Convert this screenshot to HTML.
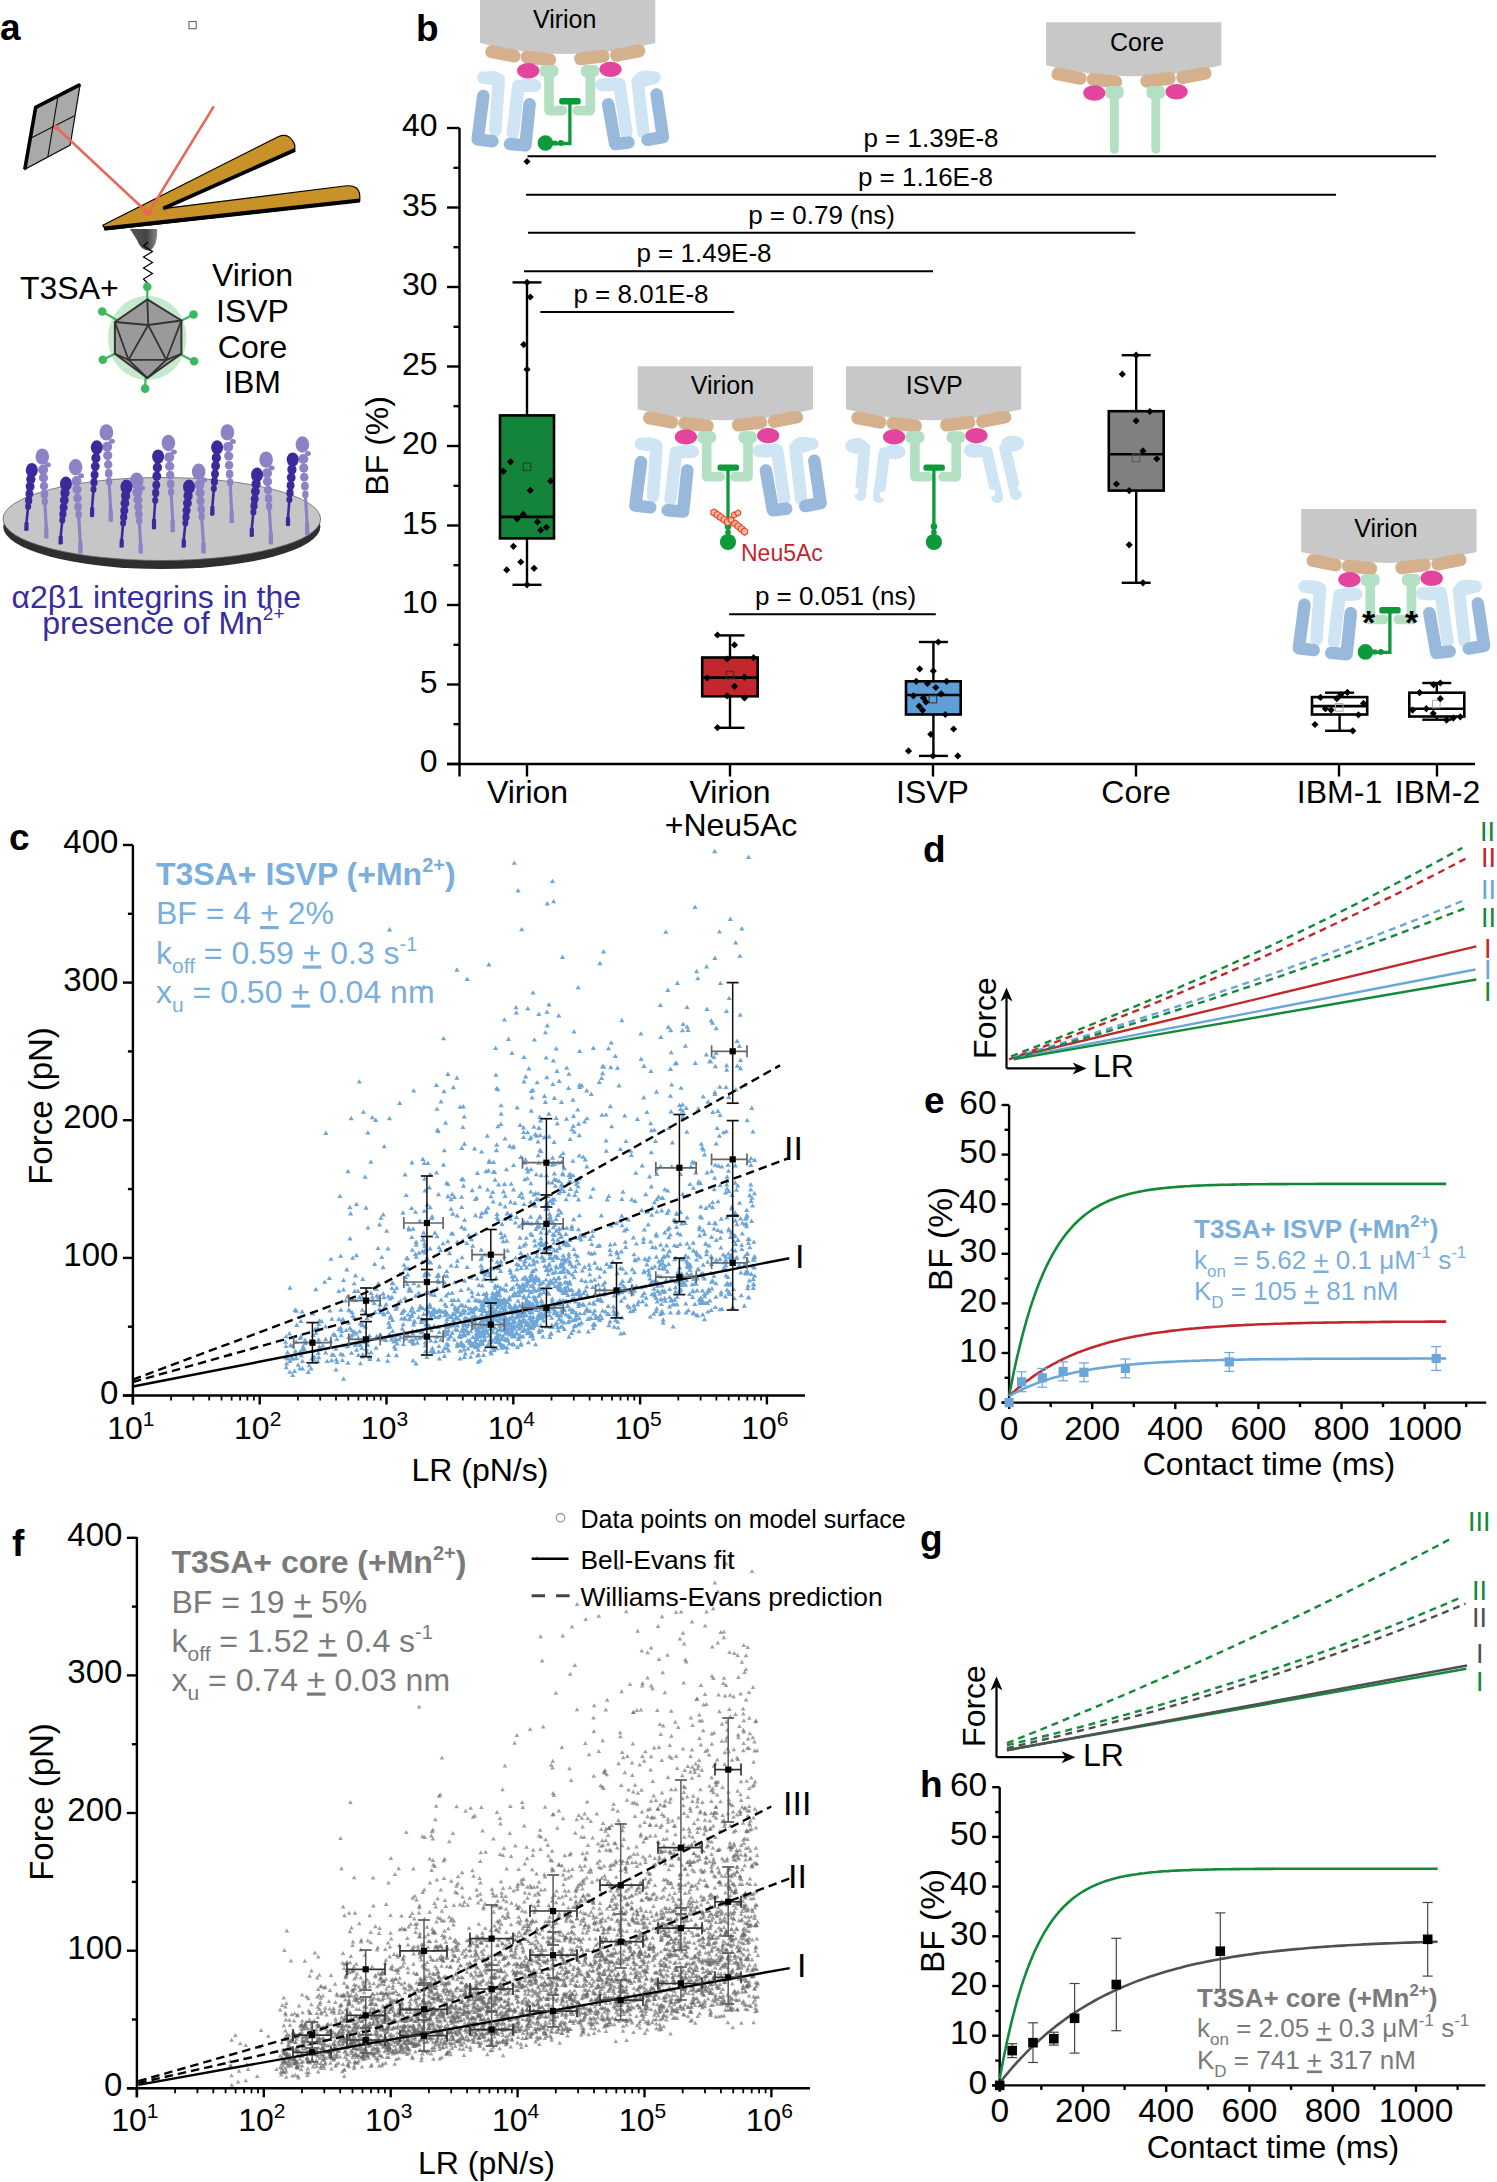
<!DOCTYPE html>
<html><head><meta charset="utf-8"><style>html,body{margin:0;padding:0;background:#fff;width:1497px;height:2182px;overflow:hidden}svg{display:block}text{font-family:"Liberation Sans", sans-serif}</style></head>
<body><svg width="1497" height="2182" viewBox="0 0 1497 2182" font-family='"Liberation Sans", sans-serif'><text x="0.0" y="40.0" font-size="37" text-anchor="start" font-weight="bold" fill="#000" >a</text>
<text x="416.0" y="41.0" font-size="37" text-anchor="start" font-weight="bold" fill="#000" >b</text>
<text x="9.0" y="850.0" font-size="37" text-anchor="start" font-weight="bold" fill="#000" >c</text>
<text x="923.0" y="862.0" font-size="37" text-anchor="start" font-weight="bold" fill="#000" >d</text>
<text x="924.0" y="1113.0" font-size="37" text-anchor="start" font-weight="bold" fill="#000" >e</text>
<text x="12.0" y="1556.0" font-size="37" text-anchor="start" font-weight="bold" fill="#000" >f</text>
<text x="920.0" y="1551.0" font-size="37" text-anchor="start" font-weight="bold" fill="#000" >g</text>
<text x="920.0" y="1797.0" font-size="37" text-anchor="start" font-weight="bold" fill="#000" >h</text>
<line x1="459.5" y1="128.0" x2="459.5" y2="776.5" stroke="#000" stroke-width="2.4" />
<line x1="447.0" y1="764.0" x2="1475.0" y2="764.0" stroke="#000" stroke-width="2.4" />
<line x1="447.0" y1="764.0" x2="459.5" y2="764.0" stroke="#000" stroke-width="2.4" />
<text x="437.5" y="772.2" font-size="32" text-anchor="end" font-weight="normal" fill="#000" >0</text>
<line x1="447.0" y1="684.5" x2="459.5" y2="684.5" stroke="#000" stroke-width="2.4" />
<text x="437.5" y="692.7" font-size="32" text-anchor="end" font-weight="normal" fill="#000" >5</text>
<line x1="447.0" y1="605.0" x2="459.5" y2="605.0" stroke="#000" stroke-width="2.4" />
<text x="437.5" y="613.2" font-size="32" text-anchor="end" font-weight="normal" fill="#000" >10</text>
<line x1="447.0" y1="525.5" x2="459.5" y2="525.5" stroke="#000" stroke-width="2.4" />
<text x="437.5" y="533.7" font-size="32" text-anchor="end" font-weight="normal" fill="#000" >15</text>
<line x1="447.0" y1="446.0" x2="459.5" y2="446.0" stroke="#000" stroke-width="2.4" />
<text x="437.5" y="454.2" font-size="32" text-anchor="end" font-weight="normal" fill="#000" >20</text>
<line x1="447.0" y1="366.5" x2="459.5" y2="366.5" stroke="#000" stroke-width="2.4" />
<text x="437.5" y="374.7" font-size="32" text-anchor="end" font-weight="normal" fill="#000" >25</text>
<line x1="447.0" y1="287.0" x2="459.5" y2="287.0" stroke="#000" stroke-width="2.4" />
<text x="437.5" y="295.2" font-size="32" text-anchor="end" font-weight="normal" fill="#000" >30</text>
<line x1="447.0" y1="207.5" x2="459.5" y2="207.5" stroke="#000" stroke-width="2.4" />
<text x="437.5" y="215.7" font-size="32" text-anchor="end" font-weight="normal" fill="#000" >35</text>
<line x1="447.0" y1="128.0" x2="459.5" y2="128.0" stroke="#000" stroke-width="2.4" />
<text x="437.5" y="136.2" font-size="32" text-anchor="end" font-weight="normal" fill="#000" >40</text>
<line x1="453.5" y1="724.2" x2="459.5" y2="724.2" stroke="#000" stroke-width="2.4" />
<line x1="453.5" y1="644.8" x2="459.5" y2="644.8" stroke="#000" stroke-width="2.4" />
<line x1="453.5" y1="565.2" x2="459.5" y2="565.2" stroke="#000" stroke-width="2.4" />
<line x1="453.5" y1="485.8" x2="459.5" y2="485.8" stroke="#000" stroke-width="2.4" />
<line x1="453.5" y1="406.2" x2="459.5" y2="406.2" stroke="#000" stroke-width="2.4" />
<line x1="453.5" y1="326.8" x2="459.5" y2="326.8" stroke="#000" stroke-width="2.4" />
<line x1="453.5" y1="247.2" x2="459.5" y2="247.2" stroke="#000" stroke-width="2.4" />
<line x1="453.5" y1="167.8" x2="459.5" y2="167.8" stroke="#000" stroke-width="2.4" />
<line x1="527.0" y1="764.0" x2="527.0" y2="776.5" stroke="#000" stroke-width="2.4" />
<line x1="730.0" y1="764.0" x2="730.0" y2="776.5" stroke="#000" stroke-width="2.4" />
<line x1="933.0" y1="764.0" x2="933.0" y2="776.5" stroke="#000" stroke-width="2.4" />
<line x1="1136.0" y1="764.0" x2="1136.0" y2="776.5" stroke="#000" stroke-width="2.4" />
<line x1="1339.0" y1="764.0" x2="1339.0" y2="776.5" stroke="#000" stroke-width="2.4" />
<line x1="1437.0" y1="764.0" x2="1437.0" y2="776.5" stroke="#000" stroke-width="2.4" />
<text x="527.5" y="803.0" font-size="32" text-anchor="middle" font-weight="normal" fill="#000" >Virion</text>
<text x="730.0" y="803.0" font-size="32" text-anchor="middle" font-weight="normal" fill="#000" >Virion</text>
<text x="731.0" y="835.5" font-size="32" text-anchor="middle" font-weight="normal" fill="#000" >+Neu5Ac</text>
<text x="932.5" y="803.0" font-size="32" text-anchor="middle" font-weight="normal" fill="#000" >ISVP</text>
<text x="1136.0" y="803.0" font-size="32" text-anchor="middle" font-weight="normal" fill="#000" >Core</text>
<text x="1339.5" y="803.0" font-size="32" text-anchor="middle" font-weight="normal" fill="#000" >IBM-1</text>
<text x="1437.5" y="803.0" font-size="32" text-anchor="middle" font-weight="normal" fill="#000" >IBM-2</text>
<text transform="translate(388.3,445.8) rotate(-90)" font-size="32" text-anchor="middle">BF (%)</text>
<line x1="527.5" y1="156.3" x2="1436.0" y2="156.3" stroke="#000" stroke-width="2.0" />
<text x="931.0" y="147.3" font-size="26" text-anchor="middle" font-weight="normal" fill="#000" >p = 1.39E-8</text>
<line x1="526.0" y1="194.8" x2="1336.0" y2="194.8" stroke="#000" stroke-width="2.0" />
<text x="925.5" y="185.8" font-size="26" text-anchor="middle" font-weight="normal" fill="#000" >p = 1.16E-8</text>
<line x1="528.0" y1="232.8" x2="1135.3" y2="232.8" stroke="#000" stroke-width="2.0" />
<text x="821.5" y="223.8" font-size="26" text-anchor="middle" font-weight="normal" fill="#000" >p = 0.79 (ns)</text>
<line x1="524.0" y1="271.2" x2="933.0" y2="271.2" stroke="#000" stroke-width="2.0" />
<text x="704.0" y="262.2" font-size="26" text-anchor="middle" font-weight="normal" fill="#000" >p = 1.49E-8</text>
<line x1="540.3" y1="311.9" x2="734.1" y2="311.9" stroke="#000" stroke-width="2.0" />
<text x="641.0" y="302.9" font-size="26" text-anchor="middle" font-weight="normal" fill="#000" >p = 8.01E-8</text>
<line x1="729.1" y1="614.2" x2="935.8" y2="614.2" stroke="#000" stroke-width="2.0" />
<text x="835.5" y="605.2" font-size="26" text-anchor="middle" font-weight="normal" fill="#000" >p = 0.051 (ns)</text>
<line x1="527.0" y1="282.4" x2="527.0" y2="415.4" stroke="#000" stroke-width="2.4" />
<line x1="527.0" y1="538.4" x2="527.0" y2="584.8" stroke="#000" stroke-width="2.4" />
<line x1="512.5" y1="282.4" x2="541.5" y2="282.4" stroke="#000" stroke-width="2.4" />
<line x1="512.5" y1="584.8" x2="541.5" y2="584.8" stroke="#000" stroke-width="2.4" />
<rect x="500.0" y="415.4" width="54.0" height="123.0" fill="#13843a" stroke="#000" stroke-width="2.6"/>
<line x1="500.0" y1="516.9" x2="554.0" y2="516.9" stroke="#000" stroke-width="2.6" />
<rect x="523.2" y="463.0" width="7.6" height="7.6" fill="none" stroke="#333" stroke-width="1"/>
<path d="M523.4,161.5 L527.0,157.9 L530.6,161.5 L527.0,165.1 Z" fill="#000"/>
<path d="M526.7,297.0 L530.3,293.4 L533.9,297.0 L530.3,300.6 Z" fill="#000"/>
<path d="M520.1,344.6 L523.7,341.0 L527.3,344.6 L523.7,348.2 Z" fill="#000"/>
<path d="M523.4,369.4 L527.0,365.8 L530.6,369.4 L527.0,373.0 Z" fill="#000"/>
<path d="M506.9,461.8 L510.5,458.2 L514.1,461.8 L510.5,465.4 Z" fill="#000"/>
<path d="M499.8,471.3 L503.4,467.7 L507.0,471.3 L503.4,474.9 Z" fill="#000"/>
<path d="M547.0,480.9 L550.6,477.3 L554.2,480.9 L550.6,484.5 Z" fill="#000"/>
<path d="M526.7,490.4 L530.3,486.8 L533.9,490.4 L530.3,494.0 Z" fill="#000"/>
<path d="M519.7,514.4 L523.3,510.8 L526.9,514.4 L523.3,518.0 Z" fill="#000"/>
<path d="M513.5,519.0 L517.1,515.4 L520.7,519.0 L517.1,522.6 Z" fill="#000"/>
<path d="M533.8,521.9 L537.4,518.3 L541.0,521.9 L537.4,525.5 Z" fill="#000"/>
<path d="M537.1,530.2 L540.7,526.6 L544.3,530.2 L540.7,533.8 Z" fill="#000"/>
<path d="M542.9,527.3 L546.5,523.7 L550.1,527.3 L546.5,530.9 Z" fill="#000"/>
<path d="M509.8,546.3 L513.4,542.7 L517.0,546.3 L513.4,549.9 Z" fill="#000"/>
<path d="M517.2,562.0 L520.8,558.4 L524.4,562.0 L520.8,565.6 Z" fill="#000"/>
<path d="M503.1,569.9 L506.7,566.3 L510.3,569.9 L506.7,573.5 Z" fill="#000"/>
<path d="M530.5,568.3 L534.1,564.7 L537.7,568.3 L534.1,571.9 Z" fill="#000"/>
<path d="M523.4,584.8 L527.0,581.2 L530.6,584.8 L527.0,588.4 Z" fill="#000"/>
<path d="M523.4,282.4 L527.0,278.8 L530.6,282.4 L527.0,286.0 Z" fill="#000"/>
<line x1="730.0" y1="635.4" x2="730.0" y2="657.5" stroke="#000" stroke-width="2.4" />
<line x1="730.0" y1="696.3" x2="730.0" y2="727.8" stroke="#000" stroke-width="2.4" />
<line x1="715.5" y1="635.4" x2="744.5" y2="635.4" stroke="#000" stroke-width="2.4" />
<line x1="715.5" y1="727.8" x2="744.5" y2="727.8" stroke="#000" stroke-width="2.4" />
<rect x="702.2" y="657.5" width="55.5" height="38.8" fill="#c1272d" stroke="#000" stroke-width="2.6"/>
<line x1="702.2" y1="677.6" x2="757.8" y2="677.6" stroke="#000" stroke-width="2.6" />
<rect x="726.2" y="671.3" width="7.6" height="7.6" fill="none" stroke="#333" stroke-width="1"/>
<path d="M713.9,635.0 L717.5,631.4 L721.1,635.0 L717.5,638.6 Z" fill="#000"/>
<path d="M730.9,644.9 L734.5,641.3 L738.1,644.9 L734.5,648.5 Z" fill="#000"/>
<path d="M750.0,657.7 L753.6,654.1 L757.2,657.7 L753.6,661.3 Z" fill="#000"/>
<path d="M723.5,659.0 L727.1,655.4 L730.7,659.0 L727.1,662.6 Z" fill="#000"/>
<path d="M703.6,678.0 L707.2,674.4 L710.8,678.0 L707.2,681.6 Z" fill="#000"/>
<path d="M740.9,677.2 L744.5,673.6 L748.1,677.2 L744.5,680.8 Z" fill="#000"/>
<path d="M730.9,686.3 L734.5,682.7 L738.1,686.3 L734.5,689.9 Z" fill="#000"/>
<path d="M723.5,695.8 L727.1,692.2 L730.7,695.8 L727.1,699.4 Z" fill="#000"/>
<path d="M740.9,697.9 L744.5,694.3 L748.1,697.9 L744.5,701.5 Z" fill="#000"/>
<path d="M713.9,727.7 L717.5,724.1 L721.1,727.7 L717.5,731.3 Z" fill="#000"/>
<line x1="933.4" y1="642.0" x2="933.4" y2="681.3" stroke="#000" stroke-width="2.4" />
<line x1="933.4" y1="714.5" x2="933.4" y2="755.9" stroke="#000" stroke-width="2.4" />
<line x1="918.9" y1="642.0" x2="947.9" y2="642.0" stroke="#000" stroke-width="2.4" />
<line x1="918.9" y1="755.9" x2="947.9" y2="755.9" stroke="#000" stroke-width="2.4" />
<rect x="906.0" y="681.3" width="54.7" height="33.2" fill="#5f9fd8" stroke="#000" stroke-width="2.6"/>
<line x1="906.0" y1="695.0" x2="960.8" y2="695.0" stroke="#000" stroke-width="2.6" />
<rect x="929.1" y="695.3" width="7.6" height="7.6" fill="none" stroke="#333" stroke-width="1"/>
<path d="M934.7,642.0 L938.3,638.4 L941.9,642.0 L938.3,645.6 Z" fill="#000"/>
<path d="M916.1,668.9 L919.7,665.3 L923.3,668.9 L919.7,672.5 Z" fill="#000"/>
<path d="M929.7,671.0 L933.3,667.4 L936.9,671.0 L933.3,674.6 Z" fill="#000"/>
<path d="M912.7,681.3 L916.3,677.7 L919.9,681.3 L916.3,684.9 Z" fill="#000"/>
<path d="M923.9,683.4 L927.5,679.8 L931.1,683.4 L927.5,687.0 Z" fill="#000"/>
<path d="M932.2,687.5 L935.8,683.9 L939.4,687.5 L935.8,691.1 Z" fill="#000"/>
<path d="M943.0,681.3 L946.6,677.7 L950.2,681.3 L946.6,684.9 Z" fill="#000"/>
<path d="M909.8,695.8 L913.4,692.2 L917.0,695.8 L913.4,699.4 Z" fill="#000"/>
<path d="M919.8,697.9 L923.4,694.3 L927.0,697.9 L923.4,701.5 Z" fill="#000"/>
<path d="M937.6,693.8 L941.2,690.2 L944.8,693.8 L941.2,697.4 Z" fill="#000"/>
<path d="M915.6,706.2 L919.2,702.6 L922.8,706.2 L919.2,709.8 Z" fill="#000"/>
<path d="M922.3,702.0 L925.9,698.4 L929.5,702.0 L925.9,705.6 Z" fill="#000"/>
<path d="M919.0,710.3 L922.6,706.7 L926.2,710.3 L922.6,713.9 Z" fill="#000"/>
<path d="M941.7,714.5 L945.3,710.9 L948.9,714.5 L945.3,718.1 Z" fill="#000"/>
<path d="M927.2,734.3 L930.8,730.7 L934.4,734.3 L930.8,737.9 Z" fill="#000"/>
<path d="M950.0,729.0 L953.6,725.4 L957.2,729.0 L953.6,732.6 Z" fill="#000"/>
<path d="M904.9,750.9 L908.5,747.3 L912.1,750.9 L908.5,754.5 Z" fill="#000"/>
<path d="M954.2,755.9 L957.8,752.3 L961.4,755.9 L957.8,759.5 Z" fill="#000"/>
<path d="M929.4,755.9 L933.0,752.3 L936.6,755.9 L933.0,759.5 Z" fill="#000"/>
<line x1="1136.2" y1="355.2" x2="1136.2" y2="411.2" stroke="#000" stroke-width="2.4" />
<line x1="1136.2" y1="490.6" x2="1136.2" y2="582.8" stroke="#000" stroke-width="2.4" />
<line x1="1121.7" y1="355.2" x2="1150.7" y2="355.2" stroke="#000" stroke-width="2.4" />
<line x1="1121.7" y1="582.8" x2="1150.7" y2="582.8" stroke="#000" stroke-width="2.4" />
<rect x="1108.8" y="411.2" width="54.9" height="79.4" fill="#808080" stroke="#000" stroke-width="2.6"/>
<line x1="1108.8" y1="454.3" x2="1163.7" y2="454.3" stroke="#000" stroke-width="2.6" />
<rect x="1132.2" y="454.0" width="7.6" height="7.6" fill="none" stroke="#555" stroke-width="1"/>
<path d="M1118.7,374.2 L1122.3,370.6 L1125.9,374.2 L1122.3,377.8 Z" fill="#000"/>
<path d="M1146.3,411.5 L1149.9,407.9 L1153.5,411.5 L1149.9,415.1 Z" fill="#000"/>
<path d="M1132.5,420.8 L1136.1,417.2 L1139.7,420.8 L1136.1,424.4 Z" fill="#000"/>
<path d="M1139.4,450.9 L1143.0,447.3 L1146.6,450.9 L1143.0,454.5 Z" fill="#000"/>
<path d="M1153.2,458.8 L1156.8,455.2 L1160.4,458.8 L1156.8,462.4 Z" fill="#000"/>
<path d="M1112.8,484.0 L1116.4,480.4 L1120.0,484.0 L1116.4,487.6 Z" fill="#000"/>
<path d="M1125.6,490.6 L1129.2,487.0 L1132.8,490.6 L1129.2,494.2 Z" fill="#000"/>
<path d="M1125.6,544.8 L1129.2,541.2 L1132.8,544.8 L1129.2,548.4 Z" fill="#000"/>
<path d="M1139.4,582.8 L1143.0,579.2 L1146.6,582.8 L1143.0,586.4 Z" fill="#000"/>
<path d="M1132.5,355.2 L1136.1,351.6 L1139.7,355.2 L1136.1,358.8 Z" fill="#000"/>
<line x1="1339.6" y1="692.7" x2="1339.6" y2="697.1" stroke="#000" stroke-width="2.4" />
<line x1="1339.6" y1="714.5" x2="1339.6" y2="730.8" stroke="#000" stroke-width="2.4" />
<line x1="1325.1" y1="692.7" x2="1354.1" y2="692.7" stroke="#000" stroke-width="2.4" />
<line x1="1325.1" y1="730.8" x2="1354.1" y2="730.8" stroke="#000" stroke-width="2.4" />
<rect x="1312.0" y="697.1" width="55.2" height="17.4" fill="#fff" stroke="#000" stroke-width="2.6"/>
<line x1="1312.0" y1="706.1" x2="1367.2" y2="706.1" stroke="#000" stroke-width="2.6" />
<rect x="1335.4" y="703.6" width="7.6" height="7.6" fill="none" stroke="#aaa" stroke-width="1"/>
<path d="M1316.9,697.4 L1320.5,693.8 L1324.1,697.4 L1320.5,701.0 Z" fill="#000"/>
<path d="M1333.2,698.7 L1336.8,695.1 L1340.4,698.7 L1336.8,702.3 Z" fill="#000"/>
<path d="M1337.2,694.7 L1340.8,691.1 L1344.4,694.7 L1340.8,698.3 Z" fill="#000"/>
<path d="M1343.8,692.4 L1347.4,688.8 L1351.0,692.4 L1347.4,696.0 Z" fill="#000"/>
<path d="M1359.9,703.4 L1363.5,699.8 L1367.1,703.4 L1363.5,707.0 Z" fill="#000"/>
<path d="M1321.8,708.7 L1325.4,705.1 L1329.0,708.7 L1325.4,712.3 Z" fill="#000"/>
<path d="M1327.5,710.1 L1331.1,706.5 L1334.7,710.1 L1331.1,713.7 Z" fill="#000"/>
<path d="M1354.8,714.8 L1358.4,711.2 L1362.0,714.8 L1358.4,718.4 Z" fill="#000"/>
<path d="M1311.4,724.5 L1315.0,720.9 L1318.6,724.5 L1315.0,728.1 Z" fill="#000"/>
<path d="M1349.2,730.8 L1352.8,727.2 L1356.4,730.8 L1352.8,734.4 Z" fill="#000"/>
<line x1="1436.8" y1="683.0" x2="1436.8" y2="692.7" stroke="#000" stroke-width="2.4" />
<line x1="1436.8" y1="716.5" x2="1436.8" y2="719.7" stroke="#000" stroke-width="2.4" />
<line x1="1422.3" y1="683.0" x2="1451.3" y2="683.0" stroke="#000" stroke-width="2.4" />
<line x1="1422.3" y1="719.7" x2="1451.3" y2="719.7" stroke="#000" stroke-width="2.4" />
<rect x="1409.3" y="692.7" width="55.0" height="23.8" fill="#fff" stroke="#000" stroke-width="2.6"/>
<line x1="1409.3" y1="708.7" x2="1464.3" y2="708.7" stroke="#000" stroke-width="2.6" />
<rect x="1432.5" y="700.3" width="7.6" height="7.6" fill="none" stroke="#aaa" stroke-width="1"/>
<path d="M1430.0,684.7 L1433.6,681.1 L1437.2,684.7 L1433.6,688.3 Z" fill="#000"/>
<path d="M1436.7,683.0 L1440.3,679.4 L1443.9,683.0 L1440.3,686.6 Z" fill="#000"/>
<path d="M1416.0,692.7 L1419.6,689.1 L1423.2,692.7 L1419.6,696.3 Z" fill="#000"/>
<path d="M1436.7,698.7 L1440.3,695.1 L1443.9,698.7 L1440.3,702.3 Z" fill="#000"/>
<path d="M1409.0,710.1 L1412.6,706.5 L1416.2,710.1 L1412.6,713.7 Z" fill="#000"/>
<path d="M1422.7,708.7 L1426.3,705.1 L1429.9,708.7 L1426.3,712.3 Z" fill="#000"/>
<path d="M1429.6,713.4 L1433.2,709.8 L1436.8,713.4 L1433.2,717.0 Z" fill="#000"/>
<path d="M1443.0,720.1 L1446.6,716.5 L1450.2,720.1 L1446.6,723.7 Z" fill="#000"/>
<path d="M1449.7,718.1 L1453.3,714.5 L1456.9,718.1 L1453.3,721.7 Z" fill="#000"/>
<path d="M1456.7,716.8 L1460.3,713.2 L1463.9,716.8 L1460.3,720.4 Z" fill="#000"/>
<g transform="translate(480.0,0.0)"><path d="M3.3,77.6 L18.8,79.8 L15.3,130.3" fill="none" stroke="#cfe5f3" stroke-width="12.5" stroke-linecap="round" stroke-linejoin="round"/><path d="M55.2,85.4 L38.4,86.1 L32.8,133.1" fill="none" stroke="#cfe5f3" stroke-width="12.5" stroke-linecap="round" stroke-linejoin="round"/><path d="M121.2,84.7 L139.4,84.0 L146.4,132.4" fill="none" stroke="#cfe5f3" stroke-width="12.5" stroke-linecap="round" stroke-linejoin="round"/><path d="M174.5,77.6 L157.7,81.9 L163.3,132.4" fill="none" stroke="#cfe5f3" stroke-width="12.5" stroke-linecap="round" stroke-linejoin="round"/><ellipse cx="11" cy="77.6" rx="11.5" ry="6.5" fill="#cfe5f3"/><ellipse cx="48.5" cy="85" rx="10.5" ry="6.8" fill="#cfe5f3"/><ellipse cx="128" cy="84.7" rx="10.5" ry="6.8" fill="#cfe5f3"/><ellipse cx="166" cy="77" rx="11.5" ry="6.5" fill="#cfe5f3"/><path d="M3.3,95.9 L-2.3,139.4 L12.5,141.2" fill="none" stroke="#98b8dc" stroke-width="12.5" stroke-linecap="round" stroke-linejoin="round"/><path d="M49.6,104.3 L45.4,145.4 L30.0,144.0" fill="none" stroke="#98b8dc" stroke-width="12.5" stroke-linecap="round" stroke-linejoin="round"/><path d="M128.2,104.3 L135.2,144.0 L148.5,142.6" fill="none" stroke="#98b8dc" stroke-width="12.5" stroke-linecap="round" stroke-linejoin="round"/><path d="M176.6,94.5 L182.9,137.0 L167.5,139.8" fill="none" stroke="#98b8dc" stroke-width="12.5" stroke-linecap="round" stroke-linejoin="round"/><path d="M0,0 H175.3 V43 Q87.65,65 0,43 Z" fill="#c8c8c8"/><rect x="-17.8" y="-6.4" width="35.5" height="12.8" rx="6" fill="#d4b08c" transform="translate(23.0,53.9) rotate(11)"/><rect x="-17.8" y="-6.4" width="35.5" height="12.8" rx="6" fill="#d4b08c" transform="translate(58.4,58.4) rotate(7)"/><rect x="-17.8" y="-6.4" width="35.5" height="12.8" rx="6" fill="#d4b08c" transform="translate(111.9,57.5) rotate(-7)"/><rect x="-17.8" y="-6.4" width="35.5" height="12.8" rx="6" fill="#d4b08c" transform="translate(147.8,53.1) rotate(-11)"/><rect x="59.5" y="65" width="18.9" height="12" rx="5" fill="#b3dfc2"/><rect x="100.8" y="65" width="18.3" height="12" rx="5" fill="#b3dfc2"/><path d="M69,72 V110.6 H82.5" fill="none" stroke="#b3dfc2" stroke-width="9.6" stroke-linecap="round" stroke-linejoin="round"/><path d="M110.3,72 V110.6 H97" fill="none" stroke="#b3dfc2" stroke-width="9.6" stroke-linecap="round" stroke-linejoin="round"/><ellipse cx="48.2" cy="70.7" rx="11.2" ry="7.7" fill="#e3449e"/><ellipse cx="130.5" cy="69.4" rx="11.2" ry="7.7" fill="#e3449e"/><rect x="79.2" y="98" width="21.5" height="6.5" rx="2.5" fill="#0d9a3a"/><path d="M89.9,101 V143.5 H72" fill="none" stroke="#0d9a3a" stroke-width="3.3"/><circle cx="80.9" cy="143" r="3" fill="#0d9a3a"/><circle cx="74.9" cy="143" r="2.6" fill="#0d9a3a"/><circle cx="65.4" cy="143" r="7.8" fill="#0d9a3a"/><text x="84.7" y="28.2" font-size="25" text-anchor="middle">Virion</text></g>
<g transform="translate(1046.1,22.3)"><path d="M0,0 H175.3 V43 Q87.65,65 0,43 Z" fill="#c8c8c8"/><rect x="-17.8" y="-6.4" width="35.5" height="12.8" rx="6" fill="#d4b08c" transform="translate(23.0,53.9) rotate(11)"/><rect x="-17.8" y="-6.4" width="35.5" height="12.8" rx="6" fill="#d4b08c" transform="translate(58.4,58.4) rotate(7)"/><rect x="-17.8" y="-6.4" width="35.5" height="12.8" rx="6" fill="#d4b08c" transform="translate(111.9,57.5) rotate(-7)"/><rect x="-17.8" y="-6.4" width="35.5" height="12.8" rx="6" fill="#d4b08c" transform="translate(147.8,53.1) rotate(-11)"/><rect x="59.2" y="63.6" width="18.3" height="12.8" rx="5" fill="#b3dfc2"/><path d="M68.3,70 V127" stroke="#b3dfc2" stroke-width="8.8" stroke-linecap="round"/><rect x="100.5" y="63.6" width="18.3" height="12.8" rx="5" fill="#b3dfc2"/><path d="M109.7,70 V127" stroke="#b3dfc2" stroke-width="8.8" stroke-linecap="round"/><ellipse cx="48.2" cy="70.7" rx="11.2" ry="7.7" fill="#e3449e"/><ellipse cx="130.5" cy="69.4" rx="11.2" ry="7.7" fill="#e3449e"/><text x="91" y="28.9" font-size="25" text-anchor="middle">Core</text></g>
<g transform="translate(637.7,366.2)"><path d="M3.3,77.6 L18.8,79.8 L15.3,130.3" fill="none" stroke="#cfe5f3" stroke-width="12.5" stroke-linecap="round" stroke-linejoin="round"/><path d="M55.2,85.4 L38.4,86.1 L32.8,133.1" fill="none" stroke="#cfe5f3" stroke-width="12.5" stroke-linecap="round" stroke-linejoin="round"/><path d="M121.2,84.7 L139.4,84.0 L146.4,132.4" fill="none" stroke="#cfe5f3" stroke-width="12.5" stroke-linecap="round" stroke-linejoin="round"/><path d="M174.5,77.6 L157.7,81.9 L163.3,132.4" fill="none" stroke="#cfe5f3" stroke-width="12.5" stroke-linecap="round" stroke-linejoin="round"/><ellipse cx="11" cy="77.6" rx="11.5" ry="6.5" fill="#cfe5f3"/><ellipse cx="48.5" cy="85" rx="10.5" ry="6.8" fill="#cfe5f3"/><ellipse cx="128" cy="84.7" rx="10.5" ry="6.8" fill="#cfe5f3"/><ellipse cx="166" cy="77" rx="11.5" ry="6.5" fill="#cfe5f3"/><path d="M3.3,95.9 L-2.3,139.4 L12.5,141.2" fill="none" stroke="#98b8dc" stroke-width="12.5" stroke-linecap="round" stroke-linejoin="round"/><path d="M49.6,104.3 L45.4,145.4 L30.0,144.0" fill="none" stroke="#98b8dc" stroke-width="12.5" stroke-linecap="round" stroke-linejoin="round"/><path d="M128.2,104.3 L135.2,144.0 L148.5,142.6" fill="none" stroke="#98b8dc" stroke-width="12.5" stroke-linecap="round" stroke-linejoin="round"/><path d="M176.6,94.5 L182.9,137.0 L167.5,139.8" fill="none" stroke="#98b8dc" stroke-width="12.5" stroke-linecap="round" stroke-linejoin="round"/><path d="M0,0 H175.3 V43 Q87.65,65 0,43 Z" fill="#c8c8c8"/><rect x="-17.8" y="-6.4" width="35.5" height="12.8" rx="6" fill="#d4b08c" transform="translate(23.0,53.9) rotate(11)"/><rect x="-17.8" y="-6.4" width="35.5" height="12.8" rx="6" fill="#d4b08c" transform="translate(58.4,58.4) rotate(7)"/><rect x="-17.8" y="-6.4" width="35.5" height="12.8" rx="6" fill="#d4b08c" transform="translate(111.9,57.5) rotate(-7)"/><rect x="-17.8" y="-6.4" width="35.5" height="12.8" rx="6" fill="#d4b08c" transform="translate(147.8,53.1) rotate(-11)"/><rect x="59.5" y="65" width="18.9" height="12" rx="5" fill="#b3dfc2"/><rect x="100.8" y="65" width="18.3" height="12" rx="5" fill="#b3dfc2"/><path d="M69,72 V110.6 H82.5" fill="none" stroke="#b3dfc2" stroke-width="9.6" stroke-linecap="round" stroke-linejoin="round"/><path d="M110.3,72 V110.6 H97" fill="none" stroke="#b3dfc2" stroke-width="9.6" stroke-linecap="round" stroke-linejoin="round"/><ellipse cx="48.2" cy="70.7" rx="11.2" ry="7.7" fill="#e3449e"/><ellipse cx="130.5" cy="69.4" rx="11.2" ry="7.7" fill="#e3449e"/><rect x="79.8" y="98.4" width="21.5" height="6.2" rx="2.5" fill="#0d9a3a"/><path d="M90.3,101 V166" stroke="#0d9a3a" stroke-width="3.3"/><circle cx="90.3" cy="160.4" r="3.3" fill="#0d9a3a"/><circle cx="90.3" cy="166" r="2.8" fill="#0d9a3a"/><circle cx="90.3" cy="175.8" r="8.1" fill="#0d9a3a"/><text x="84.7" y="28.2" font-size="25" text-anchor="middle">Virion</text></g>
<g transform="translate(845.9,366.2)"><path d="M10.6,79.8 L18.8,82.0 L14.4,129.0" fill="none" stroke="#cfe5f3" stroke-width="11.5" stroke-linecap="round" stroke-linejoin="round"/><path d="M48.7,85.5 L38.4,87.0 L32.8,131.0" fill="none" stroke="#cfe5f3" stroke-width="11.5" stroke-linecap="round" stroke-linejoin="round"/><path d="M128.7,84.2 L141.0,86.0 L151.4,131.0" fill="none" stroke="#cfe5f3" stroke-width="11.5" stroke-linecap="round" stroke-linejoin="round"/><path d="M166.8,77.2 L159.0,81.9 L170.0,128.0" fill="none" stroke="#cfe5f3" stroke-width="11.5" stroke-linecap="round" stroke-linejoin="round"/><ellipse cx="10.6" cy="79.8" rx="11.4" ry="7.9" fill="#cfe5f3"/><ellipse cx="48.7" cy="85.5" rx="11" ry="7.5" fill="#cfe5f3"/><ellipse cx="128.7" cy="84.2" rx="11" ry="7.5" fill="#cfe5f3"/><ellipse cx="166.8" cy="77.2" rx="11.4" ry="7.9" fill="#cfe5f3"/><circle cx="9.2" cy="124.8" r="3.4" fill="#fff"/><circle cx="37.4" cy="128.7" r="3.4" fill="#fff"/><circle cx="146" cy="126.4" r="3.4" fill="#fff"/><circle cx="175" cy="121.3" r="3.4" fill="#fff"/><path d="M0,0 H175.3 V43 Q87.65,65 0,43 Z" fill="#c8c8c8"/><rect x="-17.8" y="-6.4" width="35.5" height="12.8" rx="6" fill="#d4b08c" transform="translate(23.0,53.9) rotate(11)"/><rect x="-17.8" y="-6.4" width="35.5" height="12.8" rx="6" fill="#d4b08c" transform="translate(58.4,58.4) rotate(7)"/><rect x="-17.8" y="-6.4" width="35.5" height="12.8" rx="6" fill="#d4b08c" transform="translate(111.9,57.5) rotate(-7)"/><rect x="-17.8" y="-6.4" width="35.5" height="12.8" rx="6" fill="#d4b08c" transform="translate(147.8,53.1) rotate(-11)"/><rect x="59.5" y="65" width="18.9" height="12" rx="5" fill="#b3dfc2"/><rect x="100.8" y="65" width="18.3" height="12" rx="5" fill="#b3dfc2"/><path d="M69,72 V110.6 H82.5" fill="none" stroke="#b3dfc2" stroke-width="9.6" stroke-linecap="round" stroke-linejoin="round"/><path d="M110.3,72 V110.6 H97" fill="none" stroke="#b3dfc2" stroke-width="9.6" stroke-linecap="round" stroke-linejoin="round"/><ellipse cx="48.2" cy="70.7" rx="11.2" ry="7.7" fill="#e3449e"/><ellipse cx="130.5" cy="69.4" rx="11.2" ry="7.7" fill="#e3449e"/><rect x="77.5" y="98.4" width="21.5" height="6.2" rx="2.5" fill="#0d9a3a"/><path d="M88.0,101 V166" stroke="#0d9a3a" stroke-width="3.3"/><circle cx="88.0" cy="160.4" r="3.3" fill="#0d9a3a"/><circle cx="88.0" cy="166" r="2.8" fill="#0d9a3a"/><circle cx="88.0" cy="175.8" r="8.1" fill="#0d9a3a"/><text x="88.4" y="28.2" font-size="25" text-anchor="middle">ISVP</text></g>
<g transform="translate(1301.2,508.9)"><path d="M3.3,77.6 L18.8,79.8 L15.3,130.3" fill="none" stroke="#cfe5f3" stroke-width="12.5" stroke-linecap="round" stroke-linejoin="round"/><path d="M55.2,85.4 L38.4,86.1 L32.8,133.1" fill="none" stroke="#cfe5f3" stroke-width="12.5" stroke-linecap="round" stroke-linejoin="round"/><path d="M121.2,84.7 L139.4,84.0 L146.4,132.4" fill="none" stroke="#cfe5f3" stroke-width="12.5" stroke-linecap="round" stroke-linejoin="round"/><path d="M174.5,77.6 L157.7,81.9 L163.3,132.4" fill="none" stroke="#cfe5f3" stroke-width="12.5" stroke-linecap="round" stroke-linejoin="round"/><ellipse cx="11" cy="77.6" rx="11.5" ry="6.5" fill="#cfe5f3"/><ellipse cx="48.5" cy="85" rx="10.5" ry="6.8" fill="#cfe5f3"/><ellipse cx="128" cy="84.7" rx="10.5" ry="6.8" fill="#cfe5f3"/><ellipse cx="166" cy="77" rx="11.5" ry="6.5" fill="#cfe5f3"/><path d="M3.3,95.9 L-2.3,139.4 L12.5,141.2" fill="none" stroke="#98b8dc" stroke-width="12.5" stroke-linecap="round" stroke-linejoin="round"/><path d="M49.6,104.3 L45.4,145.4 L30.0,144.0" fill="none" stroke="#98b8dc" stroke-width="12.5" stroke-linecap="round" stroke-linejoin="round"/><path d="M128.2,104.3 L135.2,144.0 L148.5,142.6" fill="none" stroke="#98b8dc" stroke-width="12.5" stroke-linecap="round" stroke-linejoin="round"/><path d="M176.6,94.5 L182.9,137.0 L167.5,139.8" fill="none" stroke="#98b8dc" stroke-width="12.5" stroke-linecap="round" stroke-linejoin="round"/><path d="M0,0 H175.3 V43 Q87.65,65 0,43 Z" fill="#c8c8c8"/><rect x="-17.8" y="-6.4" width="35.5" height="12.8" rx="6" fill="#d4b08c" transform="translate(23.0,53.9) rotate(11)"/><rect x="-17.8" y="-6.4" width="35.5" height="12.8" rx="6" fill="#d4b08c" transform="translate(58.4,58.4) rotate(7)"/><rect x="-17.8" y="-6.4" width="35.5" height="12.8" rx="6" fill="#d4b08c" transform="translate(111.9,57.5) rotate(-7)"/><rect x="-17.8" y="-6.4" width="35.5" height="12.8" rx="6" fill="#d4b08c" transform="translate(147.8,53.1) rotate(-11)"/><rect x="59.5" y="65" width="18.9" height="12" rx="5" fill="#b3dfc2"/><rect x="100.8" y="65" width="18.3" height="12" rx="5" fill="#b3dfc2"/><path d="M69,72 V110.6 H82.5" fill="none" stroke="#b3dfc2" stroke-width="9.6" stroke-linecap="round" stroke-linejoin="round"/><path d="M110.3,72 V110.6 H97" fill="none" stroke="#b3dfc2" stroke-width="9.6" stroke-linecap="round" stroke-linejoin="round"/><ellipse cx="48.2" cy="70.7" rx="11.2" ry="7.7" fill="#e3449e"/><ellipse cx="130.5" cy="69.4" rx="11.2" ry="7.7" fill="#e3449e"/><rect x="78.0" y="98" width="21.5" height="6.5" rx="2.5" fill="#0d9a3a"/><path d="M88.7,101 V143.5 H72" fill="none" stroke="#0d9a3a" stroke-width="3.3"/><circle cx="79.7" cy="143" r="3" fill="#0d9a3a"/><circle cx="73.7" cy="143" r="2.6" fill="#0d9a3a"/><circle cx="64.2" cy="143" r="7.8" fill="#0d9a3a"/><text x="84.7" y="28.2" font-size="25" text-anchor="middle">Virion</text></g>
<polygon points="717.1,514.3 714.0,516.1 710.9,514.3 710.9,510.7 714.0,508.9 717.1,510.7" fill="#f2b5a8" stroke="#e5502e" stroke-width="1.2"/><polygon points="720.5,516.7 717.4,518.5 714.3,516.7 714.3,513.1 717.4,511.3 720.5,513.1" fill="#f2b5a8" stroke="#e5502e" stroke-width="1.2"/><polygon points="723.9,519.1 720.8,520.9 717.7,519.1 717.7,515.5 720.8,513.7 723.9,515.5" fill="#f2b5a8" stroke="#e5502e" stroke-width="1.2"/><polygon points="727.3,521.5 724.2,523.3 721.1,521.5 721.1,517.9 724.2,516.1 727.3,517.9" fill="#f2b5a8" stroke="#e5502e" stroke-width="1.2"/><polygon points="730.7,523.9 727.6,525.7 724.5,523.9 724.5,520.3 727.6,518.5 730.7,520.3" fill="#f2b5a8" stroke="#e5502e" stroke-width="1.2"/><polygon points="738.1,525.3 735.0,527.1 731.9,525.3 731.9,521.7 735.0,519.9 738.1,521.7" fill="#f2b5a8" stroke="#e5502e" stroke-width="1.2"/><polygon points="741.3,528.0 738.2,529.8 735.1,528.0 735.1,524.4 738.2,522.6 741.3,524.4" fill="#f2b5a8" stroke="#e5502e" stroke-width="1.2"/><polygon points="744.5,530.7 741.4,532.5 738.3,530.7 738.3,527.1 741.4,525.3 744.5,527.1" fill="#f2b5a8" stroke="#e5502e" stroke-width="1.2"/><polygon points="747.7,533.4 744.6,535.2 741.5,533.4 741.5,529.8 744.6,528.0 747.7,529.8" fill="#f2b5a8" stroke="#e5502e" stroke-width="1.2"/><polygon points="733.6,521.5 731.0,523.0 728.4,521.5 728.4,518.5 731.0,517.0 733.6,518.5" fill="#f2b5a8" stroke="#e5502e" stroke-width="1.2"/><polygon points="736.6,516.5 734.0,518.0 731.4,516.5 731.4,513.5 734.0,512.0 736.6,513.5" fill="#f2b5a8" stroke="#e5502e" stroke-width="1.2"/><polygon points="740.6,514.5 738.0,516.0 735.4,514.5 735.4,511.5 738.0,510.0 740.6,511.5" fill="#f2b5a8" stroke="#e5502e" stroke-width="1.2"/>
<text x="741.0" y="560.5" font-size="23" text-anchor="start" font-weight="normal" fill="#c1272d" >Neu5Ac</text>
<text x="1368.5" y="634.0" font-size="34" text-anchor="middle" font-weight="bold" fill="#000" >*</text>
<text x="1411.7" y="634.0" font-size="34" text-anchor="middle" font-weight="bold" fill="#000" >*</text>
<path fill="#6fa6d8" d="M227.2,1356.2h5.2l-2.6-4.4zM317.0,1351.0h5.2l-2.6-4.4zM287.4,1289.7h5.2l-2.6-4.4zM311.5,1361.5h5.2l-2.6-4.4zM284.1,1365.6h5.2l-2.6-4.4zM309.9,1352.9h5.2l-2.6-4.4zM337.3,1198.1h5.2l-2.6-4.4zM298.3,1323.0h5.2l-2.6-4.4zM329.0,1362.2h5.2l-2.6-4.4zM287.2,1373.8h5.2l-2.6-4.4zM288.0,1347.1h5.2l-2.6-4.4zM289.6,1360.7h5.2l-2.6-4.4zM294.1,1360.3h5.2l-2.6-4.4zM329.4,1356.5h5.2l-2.6-4.4zM294.1,1326.9h5.2l-2.6-4.4zM287.4,1363.1h5.2l-2.6-4.4zM302.8,1345.2h5.2l-2.6-4.4zM332.4,1336.9h5.2l-2.6-4.4zM323.1,1341.0h5.2l-2.6-4.4zM305.6,1373.9h5.2l-2.6-4.4zM295.5,1366.8h5.2l-2.6-4.4zM292.0,1372.9h5.2l-2.6-4.4zM313.2,1291.2h5.2l-2.6-4.4zM283.3,1359.6h5.2l-2.6-4.4zM292.1,1356.2h5.2l-2.6-4.4zM336.3,1320.9h5.2l-2.6-4.4zM290.1,1377.1h5.2l-2.6-4.4zM283.6,1369.3h5.2l-2.6-4.4zM299.9,1363.1h5.2l-2.6-4.4zM322.9,1328.5h5.2l-2.6-4.4zM301.8,1350.8h5.2l-2.6-4.4zM316.8,1348.6h5.2l-2.6-4.4zM286.8,1335.4h5.2l-2.6-4.4zM306.6,1367.3h5.2l-2.6-4.4zM284.0,1357.8h5.2l-2.6-4.4zM316.2,1344.1h5.2l-2.6-4.4zM293.5,1359.7h5.2l-2.6-4.4zM293.3,1312.4h5.2l-2.6-4.4zM330.8,1336.2h5.2l-2.6-4.4zM328.4,1260.8h5.2l-2.6-4.4zM297.6,1353.4h5.2l-2.6-4.4zM316.8,1351.2h5.2l-2.6-4.4zM336.4,1331.2h5.2l-2.6-4.4zM283.5,1348.1h5.2l-2.6-4.4zM328.0,1342.9h5.2l-2.6-4.4zM326.8,1280.1h5.2l-2.6-4.4zM308.5,1370.4h5.2l-2.6-4.4zM297.4,1339.9h5.2l-2.6-4.4zM316.2,1326.1h5.2l-2.6-4.4zM333.7,1361.3h5.2l-2.6-4.4zM316.8,1322.7h5.2l-2.6-4.4zM334.3,1340.9h5.2l-2.6-4.4zM322.1,1283.8h5.2l-2.6-4.4zM336.3,1292.9h5.2l-2.6-4.4zM300.0,1370.4h5.2l-2.6-4.4zM309.2,1360.4h5.2l-2.6-4.4zM290.1,1348.1h5.2l-2.6-4.4zM334.4,1363.9h5.2l-2.6-4.4zM298.4,1338.4h5.2l-2.6-4.4zM299.5,1313.4h5.2l-2.6-4.4zM293.9,1312.7h5.2l-2.6-4.4zM315.7,1355.0h5.2l-2.6-4.4zM313.4,1334.8h5.2l-2.6-4.4zM297.2,1370.5h5.2l-2.6-4.4zM327.3,1312.6h5.2l-2.6-4.4zM333.3,1350.8h5.2l-2.6-4.4zM320.2,1347.5h5.2l-2.6-4.4zM289.2,1359.1h5.2l-2.6-4.4zM311.6,1358.6h5.2l-2.6-4.4zM293.6,1343.8h5.2l-2.6-4.4zM329.2,1320.8h5.2l-2.6-4.4zM299.7,1351.8h5.2l-2.6-4.4zM331.2,1356.9h5.2l-2.6-4.4zM328.2,1348.5h5.2l-2.6-4.4zM283.4,1338.3h5.2l-2.6-4.4zM310.2,1315.4h5.2l-2.6-4.4zM292.8,1352.8h5.2l-2.6-4.4zM292.5,1311.8h5.2l-2.6-4.4zM333.4,1371.6h5.2l-2.6-4.4zM300.4,1348.5h5.2l-2.6-4.4zM315.5,1330.1h5.2l-2.6-4.4zM323.1,1354.4h5.2l-2.6-4.4zM310.6,1337.0h5.2l-2.6-4.4zM315.4,1363.2h5.2l-2.6-4.4zM323.3,1134.9h5.2l-2.6-4.4zM324.5,1363.1h5.2l-2.6-4.4zM283.0,1343.8h5.2l-2.6-4.4zM319.0,1323.2h5.2l-2.6-4.4zM311.7,1332.1h5.2l-2.6-4.4zM316.2,1359.2h5.2l-2.6-4.4zM285.2,1360.6h5.2l-2.6-4.4zM312.7,1330.9h5.2l-2.6-4.4zM284.9,1354.1h5.2l-2.6-4.4zM316.0,1341.4h5.2l-2.6-4.4zM302.5,1341.8h5.2l-2.6-4.4zM298.7,1357.4h5.2l-2.6-4.4zM364.7,1354.6h5.2l-2.6-4.4zM405.5,1316.6h5.2l-2.6-4.4zM388.0,1318.0h5.2l-2.6-4.4zM351.7,1333.6h5.2l-2.6-4.4zM368.4,1294.9h5.2l-2.6-4.4zM391.9,1293.2h5.2l-2.6-4.4zM345.4,1173.2h5.2l-2.6-4.4zM385.4,1250.4h5.2l-2.6-4.4zM390.1,1332.8h5.2l-2.6-4.4zM340.2,1356.7h5.2l-2.6-4.4zM381.0,1315.1h5.2l-2.6-4.4zM375.9,1299.2h5.2l-2.6-4.4zM352.1,1293.0h5.2l-2.6-4.4zM394.0,1289.7h5.2l-2.6-4.4zM394.1,1308.5h5.2l-2.6-4.4zM389.6,1285.0h5.2l-2.6-4.4zM344.2,1271.4h5.2l-2.6-4.4zM391.7,1348.6h5.2l-2.6-4.4zM343.1,1302.5h5.2l-2.6-4.4zM362.4,1304.2h5.2l-2.6-4.4zM387.0,931.5h5.2l-2.6-4.4zM393.6,1340.8h5.2l-2.6-4.4zM402.8,1320.8h5.2l-2.6-4.4zM365.1,1346.7h5.2l-2.6-4.4zM393.2,1342.9h5.2l-2.6-4.4zM339.0,1333.1h5.2l-2.6-4.4zM405.0,1260.4h5.2l-2.6-4.4zM389.0,1341.4h5.2l-2.6-4.4zM347.5,1240.5h5.2l-2.6-4.4zM373.9,1291.0h5.2l-2.6-4.4zM405.2,1276.4h5.2l-2.6-4.4zM401.4,1266.8h5.2l-2.6-4.4zM397.1,1105.0h5.2l-2.6-4.4zM374.1,1297.6h5.2l-2.6-4.4zM389.3,1298.9h5.2l-2.6-4.4zM357.8,1346.9h5.2l-2.6-4.4zM345.4,1364.7h5.2l-2.6-4.4zM339.9,1362.1h5.2l-2.6-4.4zM353.9,1257.2h5.2l-2.6-4.4zM349.5,1314.3h5.2l-2.6-4.4zM394.6,1336.7h5.2l-2.6-4.4zM375.7,1285.5h5.2l-2.6-4.4zM340.9,1282.1h5.2l-2.6-4.4zM383.4,1342.0h5.2l-2.6-4.4zM363.4,1209.7h5.2l-2.6-4.4zM359.9,1311.8h5.2l-2.6-4.4zM356.1,1344.6h5.2l-2.6-4.4zM396.6,1341.3h5.2l-2.6-4.4zM387.6,1319.8h5.2l-2.6-4.4zM397.4,1275.7h5.2l-2.6-4.4zM401.6,1312.3h5.2l-2.6-4.4zM359.2,1349.9h5.2l-2.6-4.4zM370.1,1302.5h5.2l-2.6-4.4zM369.7,1119.3h5.2l-2.6-4.4zM338.3,1311.7h5.2l-2.6-4.4zM338.1,1257.8h5.2l-2.6-4.4zM363.7,1351.1h5.2l-2.6-4.4zM355.4,1293.0h5.2l-2.6-4.4zM403.6,1197.1h5.2l-2.6-4.4zM347.3,1312.6h5.2l-2.6-4.4zM350.0,1259.8h5.2l-2.6-4.4zM348.4,1338.2h5.2l-2.6-4.4zM401.8,1320.1h5.2l-2.6-4.4zM364.4,1347.0h5.2l-2.6-4.4zM365.4,1229.6h5.2l-2.6-4.4zM361.4,1344.3h5.2l-2.6-4.4zM373.1,1122.0h5.2l-2.6-4.4zM400.6,1326.2h5.2l-2.6-4.4zM347.3,1209.2h5.2l-2.6-4.4zM381.3,1341.3h5.2l-2.6-4.4zM377.8,1314.2h5.2l-2.6-4.4zM346.1,1339.1h5.2l-2.6-4.4zM375.4,1250.1h5.2l-2.6-4.4zM394.6,1345.4h5.2l-2.6-4.4zM357.6,1325.5h5.2l-2.6-4.4zM375.7,1361.4h5.2l-2.6-4.4zM406.5,1231.5h5.2l-2.6-4.4zM364.1,1339.5h5.2l-2.6-4.4zM347.4,1329.9h5.2l-2.6-4.4zM377.2,1306.4h5.2l-2.6-4.4zM404.6,1286.0h5.2l-2.6-4.4zM390.5,1285.3h5.2l-2.6-4.4zM396.1,1304.3h5.2l-2.6-4.4zM374.2,1338.2h5.2l-2.6-4.4zM359.8,1299.4h5.2l-2.6-4.4zM390.0,1321.9h5.2l-2.6-4.4zM346.1,1324.8h5.2l-2.6-4.4zM374.2,1339.5h5.2l-2.6-4.4zM353.9,1206.1h5.2l-2.6-4.4zM366.9,1337.6h5.2l-2.6-4.4zM377.1,1338.0h5.2l-2.6-4.4zM404.0,1335.4h5.2l-2.6-4.4zM360.1,1340.2h5.2l-2.6-4.4zM339.6,1321.8h5.2l-2.6-4.4zM402.8,1283.3h5.2l-2.6-4.4zM400.2,1313.1h5.2l-2.6-4.4zM399.0,1320.4h5.2l-2.6-4.4zM340.9,1291.6h5.2l-2.6-4.4zM400.4,1214.7h5.2l-2.6-4.4zM353.0,1302.3h5.2l-2.6-4.4zM350.1,1317.8h5.2l-2.6-4.4zM399.3,1314.9h5.2l-2.6-4.4zM402.3,1300.1h5.2l-2.6-4.4zM368.2,1317.4h5.2l-2.6-4.4zM379.4,1340.7h5.2l-2.6-4.4zM390.3,1338.4h5.2l-2.6-4.4zM350.4,1301.7h5.2l-2.6-4.4zM372.4,1313.9h5.2l-2.6-4.4zM362.6,1178.8h5.2l-2.6-4.4zM385.3,1314.0h5.2l-2.6-4.4zM368.2,1163.7h5.2l-2.6-4.4zM352.9,1277.5h5.2l-2.6-4.4zM379.2,1259.1h5.2l-2.6-4.4zM338.6,1337.2h5.2l-2.6-4.4zM355.8,1357.0h5.2l-2.6-4.4zM392.8,1350.8h5.2l-2.6-4.4zM340.4,1321.2h5.2l-2.6-4.4zM343.6,1332.1h5.2l-2.6-4.4zM348.6,1120.2h5.2l-2.6-4.4zM362.9,1328.6h5.2l-2.6-4.4zM406.4,1321.3h5.2l-2.6-4.4zM399.7,1330.4h5.2l-2.6-4.4zM367.1,1359.0h5.2l-2.6-4.4zM353.5,1335.4h5.2l-2.6-4.4zM369.7,1298.7h5.2l-2.6-4.4zM340.2,1347.3h5.2l-2.6-4.4zM397.9,1302.9h5.2l-2.6-4.4zM352.5,1347.1h5.2l-2.6-4.4zM348.9,1354.8h5.2l-2.6-4.4zM406.9,1290.2h5.2l-2.6-4.4zM385.8,1357.0h5.2l-2.6-4.4zM387.5,1328.3h5.2l-2.6-4.4zM403.0,1279.1h5.2l-2.6-4.4zM359.9,1358.6h5.2l-2.6-4.4zM360.2,1281.0h5.2l-2.6-4.4zM340.3,1321.5h5.2l-2.6-4.4zM359.3,1327.3h5.2l-2.6-4.4zM388.2,1338.2h5.2l-2.6-4.4zM357.0,1299.0h5.2l-2.6-4.4zM357.8,1365.3h5.2l-2.6-4.4zM377.0,1226.4h5.2l-2.6-4.4zM384.1,1232.8h5.2l-2.6-4.4zM367.3,1361.0h5.2l-2.6-4.4zM357.0,1333.3h5.2l-2.6-4.4zM349.1,1332.1h5.2l-2.6-4.4zM348.0,1215.4h5.2l-2.6-4.4zM386.4,1328.9h5.2l-2.6-4.4zM341.2,1322.8h5.2l-2.6-4.4zM360.2,1356.4h5.2l-2.6-4.4zM355.7,1339.6h5.2l-2.6-4.4zM380.5,1295.5h5.2l-2.6-4.4zM381.3,1299.2h5.2l-2.6-4.4zM356.7,1343.6h5.2l-2.6-4.4zM405.8,1338.0h5.2l-2.6-4.4zM385.0,1362.8h5.2l-2.6-4.4zM372.0,1265.9h5.2l-2.6-4.4zM376.7,1311.1h5.2l-2.6-4.4zM386.1,1324.7h5.2l-2.6-4.4zM371.7,1304.9h5.2l-2.6-4.4zM354.0,1351.7h5.2l-2.6-4.4zM373.4,1349.7h5.2l-2.6-4.4zM391.4,1343.4h5.2l-2.6-4.4zM398.3,1339.1h5.2l-2.6-4.4zM387.5,1300.6h5.2l-2.6-4.4zM360.8,1113.8h5.2l-2.6-4.4zM386.9,1120.3h5.2l-2.6-4.4zM346.2,1311.7h5.2l-2.6-4.4zM378.4,1219.8h5.2l-2.6-4.4zM381.6,1148.3h5.2l-2.6-4.4zM345.7,1346.4h5.2l-2.6-4.4zM407.0,1320.4h5.2l-2.6-4.4zM393.4,1310.7h5.2l-2.6-4.4zM380.6,1216.4h5.2l-2.6-4.4zM349.7,1336.4h5.2l-2.6-4.4zM360.1,1326.7h5.2l-2.6-4.4zM353.3,1345.5h5.2l-2.6-4.4zM341.0,1380.7h5.2l-2.6-4.4zM351.6,1285.3h5.2l-2.6-4.4zM393.9,1357.2h5.2l-2.6-4.4zM356.8,1083.6h5.2l-2.6-4.4zM368.4,1354.2h5.2l-2.6-4.4zM362.5,1314.7h5.2l-2.6-4.4zM338.1,1329.6h5.2l-2.6-4.4zM365.3,1134.6h5.2l-2.6-4.4zM406.4,1292.8h5.2l-2.6-4.4zM377.8,1336.6h5.2l-2.6-4.4zM383.4,1306.2h5.2l-2.6-4.4zM400.8,1345.9h5.2l-2.6-4.4zM389.3,1290.1h5.2l-2.6-4.4zM344.8,1348.2h5.2l-2.6-4.4zM338.1,1355.8h5.2l-2.6-4.4zM351.7,1319.7h5.2l-2.6-4.4zM345.0,1298.3h5.2l-2.6-4.4zM386.8,1336.2h5.2l-2.6-4.4zM403.7,1340.6h5.2l-2.6-4.4zM381.8,1309.5h5.2l-2.6-4.4zM380.5,1269.2h5.2l-2.6-4.4zM385.7,1298.2h5.2l-2.6-4.4zM364.3,1320.0h5.2l-2.6-4.4zM381.3,1316.4h5.2l-2.6-4.4zM454.0,1313.1h5.2l-2.6-4.4zM444.2,1273.1h5.2l-2.6-4.4zM413.7,1246.7h5.2l-2.6-4.4zM454.3,1079.7h5.2l-2.6-4.4zM457.1,1336.9h5.2l-2.6-4.4zM450.7,1327.6h5.2l-2.6-4.4zM411.1,1092.6h5.2l-2.6-4.4zM450.2,1215.7h5.2l-2.6-4.4zM447.2,1318.6h5.2l-2.6-4.4zM450.6,1321.9h5.2l-2.6-4.4zM426.8,1189.4h5.2l-2.6-4.4zM417.7,1307.9h5.2l-2.6-4.4zM428.9,1332.2h5.2l-2.6-4.4zM437.6,1317.4h5.2l-2.6-4.4zM442.1,1334.5h5.2l-2.6-4.4zM425.3,1276.5h5.2l-2.6-4.4zM422.9,1353.2h5.2l-2.6-4.4zM427.8,1309.1h5.2l-2.6-4.4zM424.7,1309.1h5.2l-2.6-4.4zM421.7,1164.9h5.2l-2.6-4.4zM454.1,1268.0h5.2l-2.6-4.4zM428.4,1319.8h5.2l-2.6-4.4zM422.0,1180.8h5.2l-2.6-4.4zM452.2,1316.2h5.2l-2.6-4.4zM448.4,1201.2h5.2l-2.6-4.4zM411.8,1322.8h5.2l-2.6-4.4zM440.9,1166.7h5.2l-2.6-4.4zM430.9,1316.5h5.2l-2.6-4.4zM440.9,1040.3h5.2l-2.6-4.4zM410.7,1345.8h5.2l-2.6-4.4zM418.3,1309.2h5.2l-2.6-4.4zM444.5,1334.2h5.2l-2.6-4.4zM438.6,1301.7h5.2l-2.6-4.4zM413.4,1365.5h5.2l-2.6-4.4zM454.6,1348.1h5.2l-2.6-4.4zM413.0,1297.7h5.2l-2.6-4.4zM413.6,1244.0h5.2l-2.6-4.4zM428.1,1342.4h5.2l-2.6-4.4zM435.3,1313.0h5.2l-2.6-4.4zM428.1,1353.3h5.2l-2.6-4.4zM444.1,1314.6h5.2l-2.6-4.4zM422.4,1192.6h5.2l-2.6-4.4zM409.7,1342.0h5.2l-2.6-4.4zM423.8,1285.1h5.2l-2.6-4.4zM454.7,1243.8h5.2l-2.6-4.4zM444.4,1321.0h5.2l-2.6-4.4zM431.2,1310.9h5.2l-2.6-4.4zM410.5,1230.7h5.2l-2.6-4.4zM418.5,1332.5h5.2l-2.6-4.4zM444.9,1350.3h5.2l-2.6-4.4zM455.7,1302.0h5.2l-2.6-4.4zM425.8,1294.9h5.2l-2.6-4.4zM423.2,1311.2h5.2l-2.6-4.4zM420.0,1253.2h5.2l-2.6-4.4zM450.4,1315.5h5.2l-2.6-4.4zM449.0,1318.9h5.2l-2.6-4.4zM446.8,1328.2h5.2l-2.6-4.4zM435.0,1131.6h5.2l-2.6-4.4zM441.4,1093.2h5.2l-2.6-4.4zM429.8,1350.1h5.2l-2.6-4.4zM444.1,1345.6h5.2l-2.6-4.4zM413.1,1340.5h5.2l-2.6-4.4zM435.4,1319.3h5.2l-2.6-4.4zM413.6,1258.7h5.2l-2.6-4.4zM429.0,1296.5h5.2l-2.6-4.4zM426.8,1329.6h5.2l-2.6-4.4zM415.7,1311.8h5.2l-2.6-4.4zM437.0,1268.5h5.2l-2.6-4.4zM449.5,1294.8h5.2l-2.6-4.4zM442.3,1333.1h5.2l-2.6-4.4zM436.1,1353.6h5.2l-2.6-4.4zM429.0,1220.1h5.2l-2.6-4.4zM452.9,1311.0h5.2l-2.6-4.4zM422.7,1347.5h5.2l-2.6-4.4zM435.8,1276.3h5.2l-2.6-4.4zM447.7,1338.6h5.2l-2.6-4.4zM437.9,1252.3h5.2l-2.6-4.4zM441.9,1337.8h5.2l-2.6-4.4zM443.7,1308.1h5.2l-2.6-4.4zM414.0,1333.1h5.2l-2.6-4.4zM421.3,988.8h5.2l-2.6-4.4zM444.1,1184.8h5.2l-2.6-4.4zM446.2,1352.5h5.2l-2.6-4.4zM419.1,1321.2h5.2l-2.6-4.4zM454.6,1217.4h5.2l-2.6-4.4zM412.9,1213.8h5.2l-2.6-4.4zM456.8,1337.9h5.2l-2.6-4.4zM450.2,1235.7h5.2l-2.6-4.4zM433.7,1313.9h5.2l-2.6-4.4zM442.7,1313.1h5.2l-2.6-4.4zM431.7,1327.9h5.2l-2.6-4.4zM454.3,971.7h5.2l-2.6-4.4zM408.4,1312.4h5.2l-2.6-4.4zM454.1,1312.1h5.2l-2.6-4.4zM409.0,1210.1h5.2l-2.6-4.4zM448.9,1235.3h5.2l-2.6-4.4zM445.3,1075.9h5.2l-2.6-4.4zM424.2,1358.9h5.2l-2.6-4.4zM420.5,1241.8h5.2l-2.6-4.4zM419.1,1324.0h5.2l-2.6-4.4zM420.1,1338.8h5.2l-2.6-4.4zM420.1,1310.1h5.2l-2.6-4.4zM422.5,1275.3h5.2l-2.6-4.4zM411.3,1314.1h5.2l-2.6-4.4zM428.1,1264.4h5.2l-2.6-4.4zM426.8,1264.2h5.2l-2.6-4.4zM424.3,1284.9h5.2l-2.6-4.4zM431.2,1353.9h5.2l-2.6-4.4zM426.4,1327.1h5.2l-2.6-4.4zM424.5,1326.8h5.2l-2.6-4.4zM454.7,1332.1h5.2l-2.6-4.4zM454.9,1327.4h5.2l-2.6-4.4zM421.1,1338.5h5.2l-2.6-4.4zM422.7,1344.3h5.2l-2.6-4.4zM434.4,1110.8h5.2l-2.6-4.4zM418.5,1334.3h5.2l-2.6-4.4zM453.6,1318.9h5.2l-2.6-4.4zM447.0,1255.2h5.2l-2.6-4.4zM449.7,1334.7h5.2l-2.6-4.4zM445.5,1346.7h5.2l-2.6-4.4zM416.1,1319.2h5.2l-2.6-4.4zM430.7,1352.7h5.2l-2.6-4.4zM409.5,1309.7h5.2l-2.6-4.4zM423.3,1322.4h5.2l-2.6-4.4zM430.4,1313.8h5.2l-2.6-4.4zM443.6,1297.6h5.2l-2.6-4.4zM454.8,1345.4h5.2l-2.6-4.4zM432.3,1234.7h5.2l-2.6-4.4zM407.5,1342.8h5.2l-2.6-4.4zM411.9,1324.1h5.2l-2.6-4.4zM455.9,1313.7h5.2l-2.6-4.4zM448.9,1302.1h5.2l-2.6-4.4zM432.6,1313.2h5.2l-2.6-4.4zM421.9,1245.5h5.2l-2.6-4.4zM417.2,1222.9h5.2l-2.6-4.4zM441.7,1152.3h5.2l-2.6-4.4zM447.5,1326.2h5.2l-2.6-4.4zM424.6,1206.4h5.2l-2.6-4.4zM454.0,1320.4h5.2l-2.6-4.4zM451.0,1326.1h5.2l-2.6-4.4zM445.3,1198.2h5.2l-2.6-4.4zM450.8,1089.2h5.2l-2.6-4.4zM435.9,1196.2h5.2l-2.6-4.4zM408.5,1292.7h5.2l-2.6-4.4zM442.1,1284.5h5.2l-2.6-4.4zM441.7,1277.3h5.2l-2.6-4.4zM453.0,1331.3h5.2l-2.6-4.4zM409.2,1239.1h5.2l-2.6-4.4zM444.6,1336.1h5.2l-2.6-4.4zM410.9,1326.5h5.2l-2.6-4.4zM454.8,1262.7h5.2l-2.6-4.4zM455.4,1309.8h5.2l-2.6-4.4zM445.5,1186.1h5.2l-2.6-4.4zM434.5,1238.2h5.2l-2.6-4.4zM445.7,1340.7h5.2l-2.6-4.4zM443.7,1251.8h5.2l-2.6-4.4zM442.7,1332.0h5.2l-2.6-4.4zM451.8,1341.6h5.2l-2.6-4.4zM442.1,1349.8h5.2l-2.6-4.4zM427.6,1176.1h5.2l-2.6-4.4zM409.7,1251.8h5.2l-2.6-4.4zM430.8,1312.9h5.2l-2.6-4.4zM423.2,1325.9h5.2l-2.6-4.4zM432.8,1312.6h5.2l-2.6-4.4zM420.3,1161.0h5.2l-2.6-4.4zM430.1,1292.8h5.2l-2.6-4.4zM422.6,1254.8h5.2l-2.6-4.4zM426.2,1276.1h5.2l-2.6-4.4zM444.4,1278.0h5.2l-2.6-4.4zM429.2,1314.3h5.2l-2.6-4.4zM434.4,1278.0h5.2l-2.6-4.4zM445.7,1295.3h5.2l-2.6-4.4zM427.3,1306.5h5.2l-2.6-4.4zM448.5,1267.4h5.2l-2.6-4.4zM443.0,1124.7h5.2l-2.6-4.4zM435.5,1132.9h5.2l-2.6-4.4zM421.1,1234.4h5.2l-2.6-4.4zM452.1,1284.3h5.2l-2.6-4.4zM428.4,1317.1h5.2l-2.6-4.4zM435.9,1284.2h5.2l-2.6-4.4zM411.2,1285.2h5.2l-2.6-4.4zM421.1,1316.1h5.2l-2.6-4.4zM426.1,1313.2h5.2l-2.6-4.4zM419.9,1263.9h5.2l-2.6-4.4zM420.6,1240.9h5.2l-2.6-4.4zM442.4,1306.1h5.2l-2.6-4.4zM429.5,1218.4h5.2l-2.6-4.4zM418.5,1323.6h5.2l-2.6-4.4zM424.5,1315.0h5.2l-2.6-4.4zM416.0,1287.6h5.2l-2.6-4.4zM451.5,1301.9h5.2l-2.6-4.4zM409.8,1332.8h5.2l-2.6-4.4zM434.6,1290.1h5.2l-2.6-4.4zM410.5,1362.5h5.2l-2.6-4.4zM416.2,1294.8h5.2l-2.6-4.4zM421.9,1277.6h5.2l-2.6-4.4zM419.8,1333.5h5.2l-2.6-4.4zM449.7,1306.2h5.2l-2.6-4.4zM451.8,1199.1h5.2l-2.6-4.4zM428.1,1320.0h5.2l-2.6-4.4zM433.8,1086.9h5.2l-2.6-4.4zM422.5,1252.1h5.2l-2.6-4.4zM421.7,1212.8h5.2l-2.6-4.4zM444.6,1329.0h5.2l-2.6-4.4zM451.4,1324.3h5.2l-2.6-4.4zM433.1,1343.3h5.2l-2.6-4.4zM439.4,1313.2h5.2l-2.6-4.4zM437.0,1311.9h5.2l-2.6-4.4zM452.4,1309.5h5.2l-2.6-4.4zM436.3,1348.1h5.2l-2.6-4.4zM440.2,1352.9h5.2l-2.6-4.4zM435.3,1282.0h5.2l-2.6-4.4zM448.1,1337.9h5.2l-2.6-4.4zM408.9,1318.1h5.2l-2.6-4.4zM423.5,1295.1h5.2l-2.6-4.4zM435.6,1278.1h5.2l-2.6-4.4zM432.2,1297.1h5.2l-2.6-4.4zM410.7,1344.4h5.2l-2.6-4.4zM449.6,1196.2h5.2l-2.6-4.4zM410.3,1335.4h5.2l-2.6-4.4zM409.8,1343.8h5.2l-2.6-4.4zM416.4,1254.7h5.2l-2.6-4.4zM435.7,1329.0h5.2l-2.6-4.4zM409.1,1316.4h5.2l-2.6-4.4zM438.4,1103.5h5.2l-2.6-4.4zM414.8,1344.7h5.2l-2.6-4.4zM417.0,1340.0h5.2l-2.6-4.4zM434.2,1338.8h5.2l-2.6-4.4zM432.8,1319.0h5.2l-2.6-4.4zM424.2,1328.1h5.2l-2.6-4.4zM513.8,1328.3h5.2l-2.6-4.4zM511.9,1323.0h5.2l-2.6-4.4zM502.4,1140.6h5.2l-2.6-4.4zM508.6,1314.2h5.2l-2.6-4.4zM501.8,1258.4h5.2l-2.6-4.4zM492.0,1173.9h5.2l-2.6-4.4zM466.0,1315.3h5.2l-2.6-4.4zM495.1,1332.0h5.2l-2.6-4.4zM468.9,1241.3h5.2l-2.6-4.4zM499.0,1304.8h5.2l-2.6-4.4zM457.5,1360.4h5.2l-2.6-4.4zM495.7,1269.9h5.2l-2.6-4.4zM486.3,966.4h5.2l-2.6-4.4zM481.2,1281.3h5.2l-2.6-4.4zM498.5,1266.4h5.2l-2.6-4.4zM467.1,1321.9h5.2l-2.6-4.4zM501.2,1291.2h5.2l-2.6-4.4zM459.5,1259.3h5.2l-2.6-4.4zM490.3,1270.5h5.2l-2.6-4.4zM471.2,1319.1h5.2l-2.6-4.4zM493.6,1279.7h5.2l-2.6-4.4zM510.4,1312.8h5.2l-2.6-4.4zM498.0,1291.2h5.2l-2.6-4.4zM458.0,1345.5h5.2l-2.6-4.4zM488.0,1353.6h5.2l-2.6-4.4zM516.8,1287.9h5.2l-2.6-4.4zM487.7,1270.3h5.2l-2.6-4.4zM486.2,1326.0h5.2l-2.6-4.4zM498.1,1347.2h5.2l-2.6-4.4zM484.1,1334.8h5.2l-2.6-4.4zM470.2,1339.0h5.2l-2.6-4.4zM461.3,1314.7h5.2l-2.6-4.4zM493.7,1339.7h5.2l-2.6-4.4zM496.5,1304.1h5.2l-2.6-4.4zM475.5,1296.0h5.2l-2.6-4.4zM514.3,1271.2h5.2l-2.6-4.4zM511.6,1329.4h5.2l-2.6-4.4zM514.4,1286.3h5.2l-2.6-4.4zM476.4,1287.0h5.2l-2.6-4.4zM499.2,1239.2h5.2l-2.6-4.4zM463.1,1308.1h5.2l-2.6-4.4zM515.9,1312.2h5.2l-2.6-4.4zM493.3,1076.8h5.2l-2.6-4.4zM481.8,1281.0h5.2l-2.6-4.4zM479.4,1270.7h5.2l-2.6-4.4zM498.0,1272.9h5.2l-2.6-4.4zM472.5,1343.4h5.2l-2.6-4.4zM480.1,1345.8h5.2l-2.6-4.4zM510.9,1329.5h5.2l-2.6-4.4zM478.6,1329.4h5.2l-2.6-4.4zM482.9,1304.5h5.2l-2.6-4.4zM464.6,1268.9h5.2l-2.6-4.4zM458.3,1307.4h5.2l-2.6-4.4zM478.6,1273.6h5.2l-2.6-4.4zM509.5,1332.9h5.2l-2.6-4.4zM463.2,1326.4h5.2l-2.6-4.4zM516.9,1198.1h5.2l-2.6-4.4zM485.8,1172.5h5.2l-2.6-4.4zM489.2,1318.9h5.2l-2.6-4.4zM504.7,1330.7h5.2l-2.6-4.4zM460.2,1332.7h5.2l-2.6-4.4zM504.1,1242.7h5.2l-2.6-4.4zM457.5,1346.9h5.2l-2.6-4.4zM503.5,1292.5h5.2l-2.6-4.4zM488.6,1322.3h5.2l-2.6-4.4zM465.7,1321.4h5.2l-2.6-4.4zM457.6,1316.8h5.2l-2.6-4.4zM502.8,1319.3h5.2l-2.6-4.4zM471.3,1323.2h5.2l-2.6-4.4zM500.6,1243.3h5.2l-2.6-4.4zM485.5,1323.5h5.2l-2.6-4.4zM491.4,1352.0h5.2l-2.6-4.4zM479.0,1337.7h5.2l-2.6-4.4zM459.2,1337.7h5.2l-2.6-4.4zM465.6,1335.2h5.2l-2.6-4.4zM471.2,1310.9h5.2l-2.6-4.4zM503.5,1286.5h5.2l-2.6-4.4zM505.0,1252.5h5.2l-2.6-4.4zM493.5,1280.2h5.2l-2.6-4.4zM469.6,1346.7h5.2l-2.6-4.4zM474.9,1340.9h5.2l-2.6-4.4zM461.2,1327.1h5.2l-2.6-4.4zM481.4,1302.8h5.2l-2.6-4.4zM473.6,1335.6h5.2l-2.6-4.4zM464.3,1320.5h5.2l-2.6-4.4zM484.0,1274.2h5.2l-2.6-4.4zM487.0,1277.3h5.2l-2.6-4.4zM511.0,1167.1h5.2l-2.6-4.4zM489.4,1314.1h5.2l-2.6-4.4zM502.5,1197.9h5.2l-2.6-4.4zM460.4,1329.7h5.2l-2.6-4.4zM466.1,1236.9h5.2l-2.6-4.4zM475.8,1351.7h5.2l-2.6-4.4zM504.0,1353.8h5.2l-2.6-4.4zM501.3,1347.6h5.2l-2.6-4.4zM510.5,1314.4h5.2l-2.6-4.4zM473.8,1331.8h5.2l-2.6-4.4zM483.5,1334.7h5.2l-2.6-4.4zM485.0,1191.6h5.2l-2.6-4.4zM458.6,1344.2h5.2l-2.6-4.4zM507.8,1330.2h5.2l-2.6-4.4zM473.2,1302.3h5.2l-2.6-4.4zM502.2,1237.6h5.2l-2.6-4.4zM476.9,1320.1h5.2l-2.6-4.4zM470.1,1247.8h5.2l-2.6-4.4zM501.3,1332.0h5.2l-2.6-4.4zM486.7,1162.6h5.2l-2.6-4.4zM495.8,1267.2h5.2l-2.6-4.4zM469.7,1298.2h5.2l-2.6-4.4zM481.3,1338.3h5.2l-2.6-4.4zM482.3,1351.7h5.2l-2.6-4.4zM494.2,1334.8h5.2l-2.6-4.4zM497.2,1296.9h5.2l-2.6-4.4zM505.9,1040.9h5.2l-2.6-4.4zM485.0,1300.9h5.2l-2.6-4.4zM479.2,1259.3h5.2l-2.6-4.4zM516.5,1228.3h5.2l-2.6-4.4zM511.2,1346.5h5.2l-2.6-4.4zM478.5,1267.4h5.2l-2.6-4.4zM475.7,1347.8h5.2l-2.6-4.4zM482.8,1276.4h5.2l-2.6-4.4zM471.0,1329.7h5.2l-2.6-4.4zM474.9,1320.1h5.2l-2.6-4.4zM478.4,1261.0h5.2l-2.6-4.4zM499.4,1226.0h5.2l-2.6-4.4zM502.3,1310.8h5.2l-2.6-4.4zM494.9,1322.0h5.2l-2.6-4.4zM516.3,1341.1h5.2l-2.6-4.4zM473.0,1339.1h5.2l-2.6-4.4zM511.7,864.8h5.2l-2.6-4.4zM472.6,1328.6h5.2l-2.6-4.4zM514.3,1281.6h5.2l-2.6-4.4zM457.5,1337.1h5.2l-2.6-4.4zM484.2,1322.0h5.2l-2.6-4.4zM498.1,1289.6h5.2l-2.6-4.4zM492.1,1306.3h5.2l-2.6-4.4zM474.6,1280.4h5.2l-2.6-4.4zM457.5,1108.8h5.2l-2.6-4.4zM492.7,1300.2h5.2l-2.6-4.4zM471.4,1323.0h5.2l-2.6-4.4zM479.5,1287.5h5.2l-2.6-4.4zM459.2,1150.0h5.2l-2.6-4.4zM498.6,1115.7h5.2l-2.6-4.4zM512.3,1204.9h5.2l-2.6-4.4zM479.5,1323.2h5.2l-2.6-4.4zM478.6,1328.1h5.2l-2.6-4.4zM483.4,1173.2h5.2l-2.6-4.4zM483.9,1295.2h5.2l-2.6-4.4zM472.0,1318.5h5.2l-2.6-4.4zM499.1,1349.8h5.2l-2.6-4.4zM474.3,1349.3h5.2l-2.6-4.4zM464.6,981.0h5.2l-2.6-4.4zM480.8,1310.0h5.2l-2.6-4.4zM457.7,1352.7h5.2l-2.6-4.4zM493.8,1340.6h5.2l-2.6-4.4zM493.0,1050.1h5.2l-2.6-4.4zM465.6,1335.4h5.2l-2.6-4.4zM498.3,1235.0h5.2l-2.6-4.4zM507.5,1272.0h5.2l-2.6-4.4zM516.6,1324.5h5.2l-2.6-4.4zM515.5,892.4h5.2l-2.6-4.4zM461.2,1314.5h5.2l-2.6-4.4zM461.3,1347.1h5.2l-2.6-4.4zM508.6,1327.2h5.2l-2.6-4.4zM504.7,1324.2h5.2l-2.6-4.4zM464.6,1328.3h5.2l-2.6-4.4zM507.0,1306.6h5.2l-2.6-4.4zM496.2,1341.3h5.2l-2.6-4.4zM483.3,1212.7h5.2l-2.6-4.4zM469.7,1354.3h5.2l-2.6-4.4zM509.7,1345.9h5.2l-2.6-4.4zM512.1,1278.2h5.2l-2.6-4.4zM474.8,1302.5h5.2l-2.6-4.4zM478.1,1218.4h5.2l-2.6-4.4zM496.2,1296.5h5.2l-2.6-4.4zM465.9,1290.6h5.2l-2.6-4.4zM513.4,1009.3h5.2l-2.6-4.4zM494.8,1337.9h5.2l-2.6-4.4zM491.6,1301.4h5.2l-2.6-4.4zM459.1,1333.0h5.2l-2.6-4.4zM490.2,1309.0h5.2l-2.6-4.4zM490.6,1349.0h5.2l-2.6-4.4zM510.6,1289.3h5.2l-2.6-4.4zM468.1,1333.3h5.2l-2.6-4.4zM474.1,1345.2h5.2l-2.6-4.4zM496.0,1186.4h5.2l-2.6-4.4zM494.1,1318.0h5.2l-2.6-4.4zM492.5,1181.7h5.2l-2.6-4.4zM503.5,1326.0h5.2l-2.6-4.4zM468.5,1279.6h5.2l-2.6-4.4zM458.4,1292.1h5.2l-2.6-4.4zM501.9,1185.9h5.2l-2.6-4.4zM497.4,1344.9h5.2l-2.6-4.4zM515.6,1341.0h5.2l-2.6-4.4zM478.9,1309.3h5.2l-2.6-4.4zM462.7,1355.5h5.2l-2.6-4.4zM511.9,1294.7h5.2l-2.6-4.4zM483.9,1319.3h5.2l-2.6-4.4zM485.7,1274.0h5.2l-2.6-4.4zM493.3,1299.9h5.2l-2.6-4.4zM460.2,1242.5h5.2l-2.6-4.4zM483.7,1304.4h5.2l-2.6-4.4zM494.6,1263.8h5.2l-2.6-4.4zM490.2,1320.2h5.2l-2.6-4.4zM483.6,1297.2h5.2l-2.6-4.4zM483.7,1299.6h5.2l-2.6-4.4zM490.3,1342.7h5.2l-2.6-4.4zM506.5,1345.3h5.2l-2.6-4.4zM487.1,1342.3h5.2l-2.6-4.4zM476.3,1338.6h5.2l-2.6-4.4zM486.2,1337.7h5.2l-2.6-4.4zM492.7,1339.7h5.2l-2.6-4.4zM487.7,1309.0h5.2l-2.6-4.4zM517.1,1316.1h5.2l-2.6-4.4zM462.5,1332.5h5.2l-2.6-4.4zM503.4,1334.8h5.2l-2.6-4.4zM517.1,1249.0h5.2l-2.6-4.4zM504.5,1349.7h5.2l-2.6-4.4zM468.5,1346.9h5.2l-2.6-4.4zM514.1,1265.9h5.2l-2.6-4.4zM481.4,1301.9h5.2l-2.6-4.4zM488.9,1331.1h5.2l-2.6-4.4zM457.8,1323.1h5.2l-2.6-4.4zM481.6,1312.9h5.2l-2.6-4.4zM498.4,1263.3h5.2l-2.6-4.4zM472.6,1302.2h5.2l-2.6-4.4zM470.7,1347.7h5.2l-2.6-4.4zM458.2,1306.9h5.2l-2.6-4.4zM503.4,1319.5h5.2l-2.6-4.4zM468.5,1347.4h5.2l-2.6-4.4zM493.2,1304.7h5.2l-2.6-4.4zM507.9,1220.8h5.2l-2.6-4.4zM507.1,1148.0h5.2l-2.6-4.4zM497.1,1301.2h5.2l-2.6-4.4zM493.8,1339.2h5.2l-2.6-4.4zM476.5,1335.5h5.2l-2.6-4.4zM495.3,1091.3h5.2l-2.6-4.4zM484.3,1315.1h5.2l-2.6-4.4zM507.2,1309.0h5.2l-2.6-4.4zM474.1,1199.8h5.2l-2.6-4.4zM504.9,1342.4h5.2l-2.6-4.4zM513.7,1014.6h5.2l-2.6-4.4zM468.1,1358.8h5.2l-2.6-4.4zM474.8,1320.0h5.2l-2.6-4.4zM460.9,1325.4h5.2l-2.6-4.4zM500.7,1324.7h5.2l-2.6-4.4zM493.4,1311.8h5.2l-2.6-4.4zM490.5,1327.9h5.2l-2.6-4.4zM478.5,1342.6h5.2l-2.6-4.4zM488.9,1261.6h5.2l-2.6-4.4zM493.9,1294.2h5.2l-2.6-4.4zM472.0,1150.4h5.2l-2.6-4.4zM501.3,1327.3h5.2l-2.6-4.4zM467.0,1344.5h5.2l-2.6-4.4zM478.6,1251.7h5.2l-2.6-4.4zM507.9,1203.7h5.2l-2.6-4.4zM479.3,1321.9h5.2l-2.6-4.4zM466.3,1310.3h5.2l-2.6-4.4zM482.2,1256.6h5.2l-2.6-4.4zM478.3,1303.5h5.2l-2.6-4.4zM513.8,1334.5h5.2l-2.6-4.4zM497.9,1345.4h5.2l-2.6-4.4zM475.6,1329.5h5.2l-2.6-4.4zM502.9,1340.9h5.2l-2.6-4.4zM462.2,1322.4h5.2l-2.6-4.4zM488.8,1355.4h5.2l-2.6-4.4zM480.8,1329.1h5.2l-2.6-4.4zM490.1,1193.9h5.2l-2.6-4.4zM484.0,1332.0h5.2l-2.6-4.4zM464.2,1245.1h5.2l-2.6-4.4zM474.8,1357.6h5.2l-2.6-4.4zM510.1,1297.5h5.2l-2.6-4.4zM481.9,1275.0h5.2l-2.6-4.4zM469.9,1323.7h5.2l-2.6-4.4zM500.3,1316.3h5.2l-2.6-4.4zM494.0,1090.3h5.2l-2.6-4.4zM502.7,1314.3h5.2l-2.6-4.4zM490.8,1173.8h5.2l-2.6-4.4zM488.1,1344.2h5.2l-2.6-4.4zM505.1,1341.2h5.2l-2.6-4.4zM468.2,1320.7h5.2l-2.6-4.4zM485.0,1334.7h5.2l-2.6-4.4zM496.1,1293.3h5.2l-2.6-4.4zM482.8,1322.3h5.2l-2.6-4.4zM461.6,1118.6h5.2l-2.6-4.4zM464.4,1321.4h5.2l-2.6-4.4zM461.9,1358.9h5.2l-2.6-4.4zM508.6,1291.1h5.2l-2.6-4.4zM499.5,1347.2h5.2l-2.6-4.4zM514.8,1335.5h5.2l-2.6-4.4zM462.0,1221.8h5.2l-2.6-4.4zM501.8,1021.6h5.2l-2.6-4.4zM485.1,1302.9h5.2l-2.6-4.4zM492.7,1287.6h5.2l-2.6-4.4zM459.1,1198.8h5.2l-2.6-4.4zM490.9,1164.1h5.2l-2.6-4.4zM479.2,1215.0h5.2l-2.6-4.4zM460.7,1108.4h5.2l-2.6-4.4zM474.3,1337.7h5.2l-2.6-4.4zM469.7,1318.3h5.2l-2.6-4.4zM493.7,1343.9h5.2l-2.6-4.4zM488.8,1342.6h5.2l-2.6-4.4zM492.5,1289.8h5.2l-2.6-4.4zM472.9,1309.4h5.2l-2.6-4.4zM489.2,1282.8h5.2l-2.6-4.4zM495.0,1342.0h5.2l-2.6-4.4zM512.7,1224.6h5.2l-2.6-4.4zM476.6,1346.3h5.2l-2.6-4.4zM516.2,1267.1h5.2l-2.6-4.4zM515.5,1302.8h5.2l-2.6-4.4zM477.7,1328.6h5.2l-2.6-4.4zM513.9,1219.1h5.2l-2.6-4.4zM504.3,1215.6h5.2l-2.6-4.4zM466.0,1326.3h5.2l-2.6-4.4zM503.0,1341.9h5.2l-2.6-4.4zM470.6,1314.1h5.2l-2.6-4.4zM499.1,1302.4h5.2l-2.6-4.4zM462.0,1337.2h5.2l-2.6-4.4zM484.9,1319.7h5.2l-2.6-4.4zM465.7,1322.7h5.2l-2.6-4.4zM499.6,1340.5h5.2l-2.6-4.4zM495.1,1337.5h5.2l-2.6-4.4zM468.6,1313.2h5.2l-2.6-4.4zM466.0,1302.5h5.2l-2.6-4.4zM509.5,1278.5h5.2l-2.6-4.4zM494.4,1215.9h5.2l-2.6-4.4zM460.8,1348.3h5.2l-2.6-4.4zM514.9,1349.1h5.2l-2.6-4.4zM461.4,1351.6h5.2l-2.6-4.4zM546.3,1295.7h5.2l-2.6-4.4zM564.1,1229.9h5.2l-2.6-4.4zM527.8,1329.9h5.2l-2.6-4.4zM565.9,1090.0h5.2l-2.6-4.4zM558.8,1164.1h5.2l-2.6-4.4zM573.9,1316.9h5.2l-2.6-4.4zM536.1,1290.8h5.2l-2.6-4.4zM545.6,1250.9h5.2l-2.6-4.4zM522.9,1161.5h5.2l-2.6-4.4zM576.8,1217.3h5.2l-2.6-4.4zM557.4,1274.1h5.2l-2.6-4.4zM531.0,1291.6h5.2l-2.6-4.4zM572.8,1268.5h5.2l-2.6-4.4zM571.7,1133.8h5.2l-2.6-4.4zM574.8,1257.9h5.2l-2.6-4.4zM551.6,1252.0h5.2l-2.6-4.4zM524.8,1180.3h5.2l-2.6-4.4zM563.9,1244.4h5.2l-2.6-4.4zM573.8,1320.5h5.2l-2.6-4.4zM528.7,1225.4h5.2l-2.6-4.4zM557.0,1317.7h5.2l-2.6-4.4zM522.8,1307.0h5.2l-2.6-4.4zM527.6,1278.0h5.2l-2.6-4.4zM525.0,1256.9h5.2l-2.6-4.4zM522.5,1278.8h5.2l-2.6-4.4zM538.7,1306.4h5.2l-2.6-4.4zM560.4,1265.1h5.2l-2.6-4.4zM549.2,1319.8h5.2l-2.6-4.4zM573.0,1303.6h5.2l-2.6-4.4zM561.7,1324.6h5.2l-2.6-4.4zM543.7,1206.3h5.2l-2.6-4.4zM532.7,1299.6h5.2l-2.6-4.4zM529.3,1320.5h5.2l-2.6-4.4zM533.2,1195.2h5.2l-2.6-4.4zM528.7,1294.3h5.2l-2.6-4.4zM567.5,1241.9h5.2l-2.6-4.4zM525.1,1285.8h5.2l-2.6-4.4zM527.9,1306.9h5.2l-2.6-4.4zM577.1,1053.1h5.2l-2.6-4.4zM576.0,1125.7h5.2l-2.6-4.4zM546.6,1272.4h5.2l-2.6-4.4zM554.2,1314.6h5.2l-2.6-4.4zM557.1,1235.4h5.2l-2.6-4.4zM546.7,1232.8h5.2l-2.6-4.4zM536.7,1290.0h5.2l-2.6-4.4zM533.2,1271.2h5.2l-2.6-4.4zM525.0,1283.1h5.2l-2.6-4.4zM541.8,1261.4h5.2l-2.6-4.4zM550.1,1200.9h5.2l-2.6-4.4zM525.2,1010.4h5.2l-2.6-4.4zM536.2,1016.0h5.2l-2.6-4.4zM521.5,1083.4h5.2l-2.6-4.4zM564.2,1247.2h5.2l-2.6-4.4zM566.2,1255.8h5.2l-2.6-4.4zM555.3,1280.6h5.2l-2.6-4.4zM534.9,1228.8h5.2l-2.6-4.4zM575.9,1231.3h5.2l-2.6-4.4zM523.7,1239.8h5.2l-2.6-4.4zM537.6,1137.1h5.2l-2.6-4.4zM526.9,1266.4h5.2l-2.6-4.4zM542.0,1318.5h5.2l-2.6-4.4zM565.0,1307.2h5.2l-2.6-4.4zM523.1,1078.5h5.2l-2.6-4.4zM561.2,1270.8h5.2l-2.6-4.4zM554.1,1325.0h5.2l-2.6-4.4zM569.3,1313.9h5.2l-2.6-4.4zM521.9,1164.7h5.2l-2.6-4.4zM568.3,1291.9h5.2l-2.6-4.4zM555.2,1329.1h5.2l-2.6-4.4zM531.3,1128.7h5.2l-2.6-4.4zM529.8,1308.0h5.2l-2.6-4.4zM545.5,1286.9h5.2l-2.6-4.4zM561.2,1246.3h5.2l-2.6-4.4zM539.9,1259.2h5.2l-2.6-4.4zM533.9,1323.4h5.2l-2.6-4.4zM522.7,1292.2h5.2l-2.6-4.4zM561.9,1293.7h5.2l-2.6-4.4zM548.6,1329.1h5.2l-2.6-4.4zM530.5,1323.5h5.2l-2.6-4.4zM576.5,1292.0h5.2l-2.6-4.4zM526.3,1070.4h5.2l-2.6-4.4zM571.4,1033.4h5.2l-2.6-4.4zM551.8,1175.5h5.2l-2.6-4.4zM544.2,1079.3h5.2l-2.6-4.4zM530.9,1262.2h5.2l-2.6-4.4zM530.5,994.6h5.2l-2.6-4.4zM534.6,1223.0h5.2l-2.6-4.4zM576.8,1180.2h5.2l-2.6-4.4zM558.2,1328.8h5.2l-2.6-4.4zM566.3,1176.9h5.2l-2.6-4.4zM556.9,1288.5h5.2l-2.6-4.4zM530.3,1091.9h5.2l-2.6-4.4zM542.1,1250.0h5.2l-2.6-4.4zM536.7,1227.9h5.2l-2.6-4.4zM565.5,1324.0h5.2l-2.6-4.4zM566.4,1338.7h5.2l-2.6-4.4zM568.9,1228.7h5.2l-2.6-4.4zM563.4,1316.3h5.2l-2.6-4.4zM550.7,1229.2h5.2l-2.6-4.4zM567.0,1283.6h5.2l-2.6-4.4zM540.6,1230.1h5.2l-2.6-4.4zM547.5,1203.0h5.2l-2.6-4.4zM528.1,1235.6h5.2l-2.6-4.4zM563.9,1295.0h5.2l-2.6-4.4zM544.4,1013.8h5.2l-2.6-4.4zM547.6,1309.0h5.2l-2.6-4.4zM546.2,1184.4h5.2l-2.6-4.4zM528.1,1203.8h5.2l-2.6-4.4zM558.1,1317.2h5.2l-2.6-4.4zM532.4,1207.6h5.2l-2.6-4.4zM554.5,1304.4h5.2l-2.6-4.4zM529.2,1276.5h5.2l-2.6-4.4zM575.8,1294.1h5.2l-2.6-4.4zM551.9,1165.8h5.2l-2.6-4.4zM562.4,1263.1h5.2l-2.6-4.4zM530.9,1281.7h5.2l-2.6-4.4zM554.0,1269.4h5.2l-2.6-4.4zM544.0,1177.3h5.2l-2.6-4.4zM552.9,1326.4h5.2l-2.6-4.4zM558.0,1239.1h5.2l-2.6-4.4zM555.3,1241.7h5.2l-2.6-4.4zM557.4,1288.7h5.2l-2.6-4.4zM535.3,1317.6h5.2l-2.6-4.4zM569.2,1131.6h5.2l-2.6-4.4zM556.5,1230.4h5.2l-2.6-4.4zM570.2,1322.2h5.2l-2.6-4.4zM553.9,1182.0h5.2l-2.6-4.4zM554.4,1072.9h5.2l-2.6-4.4zM555.8,1332.5h5.2l-2.6-4.4zM558.3,1285.8h5.2l-2.6-4.4zM532.5,1247.5h5.2l-2.6-4.4zM525.3,1224.3h5.2l-2.6-4.4zM523.8,1306.8h5.2l-2.6-4.4zM536.9,1219.5h5.2l-2.6-4.4zM576.6,1326.2h5.2l-2.6-4.4zM539.2,1246.4h5.2l-2.6-4.4zM528.4,1171.2h5.2l-2.6-4.4zM561.8,1311.9h5.2l-2.6-4.4zM542.4,1316.1h5.2l-2.6-4.4zM535.6,1157.3h5.2l-2.6-4.4zM549.9,883.1h5.2l-2.6-4.4zM524.2,1259.7h5.2l-2.6-4.4zM569.6,1300.5h5.2l-2.6-4.4zM567.7,1179.1h5.2l-2.6-4.4zM548.4,1285.2h5.2l-2.6-4.4zM547.7,1282.4h5.2l-2.6-4.4zM534.1,1326.7h5.2l-2.6-4.4zM542.9,1034.3h5.2l-2.6-4.4zM548.5,1271.0h5.2l-2.6-4.4zM540.4,1307.2h5.2l-2.6-4.4zM538.6,1303.1h5.2l-2.6-4.4zM551.7,1099.9h5.2l-2.6-4.4zM574.0,1296.1h5.2l-2.6-4.4zM532.7,1136.2h5.2l-2.6-4.4zM521.3,1290.4h5.2l-2.6-4.4zM550.4,1224.5h5.2l-2.6-4.4zM562.2,1289.8h5.2l-2.6-4.4zM535.4,1143.5h5.2l-2.6-4.4zM553.3,1283.2h5.2l-2.6-4.4zM573.9,1186.0h5.2l-2.6-4.4zM544.1,1328.5h5.2l-2.6-4.4zM519.0,1315.3h5.2l-2.6-4.4zM550.4,1241.3h5.2l-2.6-4.4zM572.7,1327.6h5.2l-2.6-4.4zM556.0,1291.1h5.2l-2.6-4.4zM549.8,1166.8h5.2l-2.6-4.4zM569.3,1231.1h5.2l-2.6-4.4zM575.5,1188.3h5.2l-2.6-4.4zM556.9,1249.0h5.2l-2.6-4.4zM561.6,1243.3h5.2l-2.6-4.4zM565.2,1307.9h5.2l-2.6-4.4zM556.6,1279.8h5.2l-2.6-4.4zM518.2,1346.8h5.2l-2.6-4.4zM570.6,1331.9h5.2l-2.6-4.4zM563.2,1292.1h5.2l-2.6-4.4zM561.2,1303.8h5.2l-2.6-4.4zM556.4,1195.0h5.2l-2.6-4.4zM528.1,1218.7h5.2l-2.6-4.4zM554.1,1258.3h5.2l-2.6-4.4zM557.2,1285.2h5.2l-2.6-4.4zM553.6,1050.5h5.2l-2.6-4.4zM550.4,1262.3h5.2l-2.6-4.4zM540.3,1338.4h5.2l-2.6-4.4zM518.4,1293.7h5.2l-2.6-4.4zM523.1,1245.7h5.2l-2.6-4.4zM554.0,1252.7h5.2l-2.6-4.4zM563.6,1284.8h5.2l-2.6-4.4zM542.1,1268.0h5.2l-2.6-4.4zM566.2,1247.1h5.2l-2.6-4.4zM556.6,1183.0h5.2l-2.6-4.4zM562.3,1263.5h5.2l-2.6-4.4zM541.9,1098.0h5.2l-2.6-4.4zM524.6,1224.7h5.2l-2.6-4.4zM518.2,1255.0h5.2l-2.6-4.4zM534.7,1308.5h5.2l-2.6-4.4zM577.1,1088.9h5.2l-2.6-4.4zM526.1,1334.0h5.2l-2.6-4.4zM541.6,1139.3h5.2l-2.6-4.4zM550.5,1274.9h5.2l-2.6-4.4zM539.0,1259.1h5.2l-2.6-4.4zM569.6,1292.2h5.2l-2.6-4.4zM570.3,1101.7h5.2l-2.6-4.4zM561.8,1331.1h5.2l-2.6-4.4zM532.7,1292.8h5.2l-2.6-4.4zM534.3,1229.1h5.2l-2.6-4.4zM573.5,1314.8h5.2l-2.6-4.4zM562.6,1278.5h5.2l-2.6-4.4zM536.2,1297.2h5.2l-2.6-4.4zM576.8,1320.2h5.2l-2.6-4.4zM563.6,1201.3h5.2l-2.6-4.4zM561.8,1170.3h5.2l-2.6-4.4zM545.6,1223.1h5.2l-2.6-4.4zM551.0,903.3h5.2l-2.6-4.4zM528.3,1185.2h5.2l-2.6-4.4zM576.7,1157.4h5.2l-2.6-4.4zM536.7,1334.1h5.2l-2.6-4.4zM521.5,1317.3h5.2l-2.6-4.4zM539.2,1315.5h5.2l-2.6-4.4zM575.0,1183.7h5.2l-2.6-4.4zM558.9,1323.5h5.2l-2.6-4.4zM519.8,1332.9h5.2l-2.6-4.4zM528.0,1323.2h5.2l-2.6-4.4zM547.8,1335.9h5.2l-2.6-4.4zM535.2,1292.1h5.2l-2.6-4.4zM519.9,1310.1h5.2l-2.6-4.4zM547.5,1256.1h5.2l-2.6-4.4zM575.1,1111.6h5.2l-2.6-4.4zM529.0,1335.1h5.2l-2.6-4.4zM572.7,1272.9h5.2l-2.6-4.4zM560.5,1257.3h5.2l-2.6-4.4zM526.6,1320.5h5.2l-2.6-4.4zM527.9,1293.8h5.2l-2.6-4.4zM554.6,1317.0h5.2l-2.6-4.4zM561.8,1260.6h5.2l-2.6-4.4zM551.6,1315.2h5.2l-2.6-4.4zM534.2,1282.3h5.2l-2.6-4.4zM549.6,1300.7h5.2l-2.6-4.4zM530.5,1340.6h5.2l-2.6-4.4zM576.6,1295.6h5.2l-2.6-4.4zM519.1,931.3h5.2l-2.6-4.4zM567.2,1263.6h5.2l-2.6-4.4zM566.2,1303.4h5.2l-2.6-4.4zM520.2,1280.7h5.2l-2.6-4.4zM538.5,1177.2h5.2l-2.6-4.4zM544.4,1223.2h5.2l-2.6-4.4zM545.2,1210.8h5.2l-2.6-4.4zM555.3,1260.0h5.2l-2.6-4.4zM533.7,1176.3h5.2l-2.6-4.4zM528.3,1139.1h5.2l-2.6-4.4zM533.5,1302.4h5.2l-2.6-4.4zM558.5,1312.7h5.2l-2.6-4.4zM548.7,1249.1h5.2l-2.6-4.4zM555.1,1288.6h5.2l-2.6-4.4zM534.1,1258.3h5.2l-2.6-4.4zM576.9,1086.8h5.2l-2.6-4.4zM573.9,1193.1h5.2l-2.6-4.4zM530.0,1307.1h5.2l-2.6-4.4zM537.9,1295.5h5.2l-2.6-4.4zM551.2,1308.7h5.2l-2.6-4.4zM577.2,1306.2h5.2l-2.6-4.4zM536.4,1245.7h5.2l-2.6-4.4zM519.7,1257.7h5.2l-2.6-4.4zM550.4,1204.9h5.2l-2.6-4.4zM518.4,1325.8h5.2l-2.6-4.4zM559.1,1322.3h5.2l-2.6-4.4zM557.3,1301.9h5.2l-2.6-4.4zM571.6,1300.5h5.2l-2.6-4.4zM550.0,1310.5h5.2l-2.6-4.4zM563.9,1120.8h5.2l-2.6-4.4zM567.2,1311.2h5.2l-2.6-4.4zM530.0,1325.9h5.2l-2.6-4.4zM538.3,1153.0h5.2l-2.6-4.4zM559.2,1292.8h5.2l-2.6-4.4zM536.3,1280.9h5.2l-2.6-4.4zM522.0,1224.8h5.2l-2.6-4.4zM531.8,1041.6h5.2l-2.6-4.4zM521.2,1247.5h5.2l-2.6-4.4zM527.3,1282.3h5.2l-2.6-4.4zM528.9,1329.9h5.2l-2.6-4.4zM559.2,1186.0h5.2l-2.6-4.4zM556.3,1191.9h5.2l-2.6-4.4zM570.1,1296.1h5.2l-2.6-4.4zM556.9,1235.0h5.2l-2.6-4.4zM556.8,1230.9h5.2l-2.6-4.4zM537.2,1315.8h5.2l-2.6-4.4zM527.0,1306.9h5.2l-2.6-4.4zM565.8,1317.8h5.2l-2.6-4.4zM544.7,905.4h5.2l-2.6-4.4zM544.9,1312.6h5.2l-2.6-4.4zM528.6,1287.8h5.2l-2.6-4.4zM521.6,1223.9h5.2l-2.6-4.4zM525.3,1330.7h5.2l-2.6-4.4zM546.6,1250.5h5.2l-2.6-4.4zM559.5,1314.8h5.2l-2.6-4.4zM523.9,1269.5h5.2l-2.6-4.4zM553.0,1273.7h5.2l-2.6-4.4zM533.2,1324.9h5.2l-2.6-4.4zM572.8,1239.7h5.2l-2.6-4.4zM547.9,1282.6h5.2l-2.6-4.4zM540.6,1284.4h5.2l-2.6-4.4zM571.0,1312.6h5.2l-2.6-4.4zM524.5,1335.2h5.2l-2.6-4.4zM528.6,1112.7h5.2l-2.6-4.4zM544.0,1206.2h5.2l-2.6-4.4zM549.7,1303.3h5.2l-2.6-4.4zM536.4,1129.7h5.2l-2.6-4.4zM517.8,1261.4h5.2l-2.6-4.4zM566.3,1075.8h5.2l-2.6-4.4zM529.2,1328.3h5.2l-2.6-4.4zM571.0,1221.2h5.2l-2.6-4.4zM569.4,1228.4h5.2l-2.6-4.4zM518.1,1158.9h5.2l-2.6-4.4zM528.2,1193.6h5.2l-2.6-4.4zM526.2,1310.5h5.2l-2.6-4.4zM531.1,1265.4h5.2l-2.6-4.4zM521.0,1286.8h5.2l-2.6-4.4zM546.3,1115.7h5.2l-2.6-4.4zM572.7,1296.3h5.2l-2.6-4.4zM532.8,1325.3h5.2l-2.6-4.4zM566.1,1196.4h5.2l-2.6-4.4zM522.0,1331.2h5.2l-2.6-4.4zM576.1,1305.8h5.2l-2.6-4.4zM541.1,1322.5h5.2l-2.6-4.4zM537.2,1119.0h5.2l-2.6-4.4zM540.2,1284.1h5.2l-2.6-4.4zM529.8,1337.3h5.2l-2.6-4.4zM550.3,1236.5h5.2l-2.6-4.4zM544.7,1027.5h5.2l-2.6-4.4zM576.2,1307.9h5.2l-2.6-4.4zM517.5,1127.0h5.2l-2.6-4.4zM565.3,1297.0h5.2l-2.6-4.4zM521.5,1059.1h5.2l-2.6-4.4zM555.6,1217.1h5.2l-2.6-4.4zM553.5,1221.0h5.2l-2.6-4.4zM559.9,958.9h5.2l-2.6-4.4zM532.1,1301.1h5.2l-2.6-4.4zM543.8,1243.9h5.2l-2.6-4.4zM533.3,1278.6h5.2l-2.6-4.4zM561.1,1273.8h5.2l-2.6-4.4zM575.6,989.3h5.2l-2.6-4.4zM576.3,1333.3h5.2l-2.6-4.4zM556.3,1290.5h5.2l-2.6-4.4zM522.5,1262.7h5.2l-2.6-4.4zM559.4,1261.6h5.2l-2.6-4.4zM559.0,1190.7h5.2l-2.6-4.4zM527.6,1318.4h5.2l-2.6-4.4zM557.4,1192.9h5.2l-2.6-4.4zM534.3,1303.4h5.2l-2.6-4.4zM529.3,1280.1h5.2l-2.6-4.4zM518.9,1311.6h5.2l-2.6-4.4zM530.4,1322.1h5.2l-2.6-4.4zM537.9,1285.9h5.2l-2.6-4.4zM546.8,1313.2h5.2l-2.6-4.4zM547.3,1339.0h5.2l-2.6-4.4zM560.0,1267.7h5.2l-2.6-4.4zM560.0,1175.2h5.2l-2.6-4.4zM567.5,1319.0h5.2l-2.6-4.4zM547.5,1218.2h5.2l-2.6-4.4zM563.6,1302.6h5.2l-2.6-4.4zM571.2,1251.1h5.2l-2.6-4.4zM534.3,1321.4h5.2l-2.6-4.4zM566.4,1258.8h5.2l-2.6-4.4zM555.9,1164.5h5.2l-2.6-4.4zM565.1,1273.0h5.2l-2.6-4.4zM566.4,1291.5h5.2l-2.6-4.4zM566.8,1322.8h5.2l-2.6-4.4zM538.3,1234.5h5.2l-2.6-4.4zM577.1,1239.5h5.2l-2.6-4.4zM560.6,1229.6h5.2l-2.6-4.4zM551.8,1237.0h5.2l-2.6-4.4zM570.7,1128.0h5.2l-2.6-4.4zM568.9,1335.0h5.2l-2.6-4.4zM536.9,1309.6h5.2l-2.6-4.4zM561.4,1310.4h5.2l-2.6-4.4zM570.3,1162.8h5.2l-2.6-4.4zM567.6,1266.0h5.2l-2.6-4.4zM546.6,1138.5h5.2l-2.6-4.4zM547.1,1218.9h5.2l-2.6-4.4zM575.9,1201.5h5.2l-2.6-4.4zM540.5,1262.7h5.2l-2.6-4.4zM571.5,1279.3h5.2l-2.6-4.4zM572.5,1321.0h5.2l-2.6-4.4zM524.1,1281.1h5.2l-2.6-4.4zM538.3,1240.2h5.2l-2.6-4.4zM532.7,1136.4h5.2l-2.6-4.4zM562.8,1291.2h5.2l-2.6-4.4zM521.3,1313.7h5.2l-2.6-4.4zM572.1,1322.1h5.2l-2.6-4.4zM555.5,1279.8h5.2l-2.6-4.4zM538.3,1318.9h5.2l-2.6-4.4zM575.6,1326.4h5.2l-2.6-4.4zM560.5,1302.2h5.2l-2.6-4.4zM524.2,1301.3h5.2l-2.6-4.4zM539.4,1332.3h5.2l-2.6-4.4zM572.2,1196.9h5.2l-2.6-4.4zM562.6,1283.8h5.2l-2.6-4.4zM551.4,1280.4h5.2l-2.6-4.4zM564.7,1284.6h5.2l-2.6-4.4zM595.3,1301.5h5.2l-2.6-4.4zM619.9,1283.0h5.2l-2.6-4.4zM614.7,1275.2h5.2l-2.6-4.4zM587.4,1313.0h5.2l-2.6-4.4zM623.4,1143.1h5.2l-2.6-4.4zM615.5,1329.6h5.2l-2.6-4.4zM645.6,1226.5h5.2l-2.6-4.4zM646.6,1259.6h5.2l-2.6-4.4zM624.2,1230.9h5.2l-2.6-4.4zM586.3,1254.6h5.2l-2.6-4.4zM620.0,1270.8h5.2l-2.6-4.4zM638.5,1060.9h5.2l-2.6-4.4zM590.5,1326.4h5.2l-2.6-4.4zM608.4,1268.0h5.2l-2.6-4.4zM581.6,1315.2h5.2l-2.6-4.4zM577.7,1296.5h5.2l-2.6-4.4zM618.2,1335.5h5.2l-2.6-4.4zM640.0,1303.2h5.2l-2.6-4.4zM646.4,1275.2h5.2l-2.6-4.4zM597.1,1247.5h5.2l-2.6-4.4zM583.4,1312.7h5.2l-2.6-4.4zM580.3,1306.0h5.2l-2.6-4.4zM593.5,1317.9h5.2l-2.6-4.4zM617.9,1270.1h5.2l-2.6-4.4zM611.4,1297.6h5.2l-2.6-4.4zM646.7,1276.7h5.2l-2.6-4.4zM614.1,1316.5h5.2l-2.6-4.4zM639.0,1212.2h5.2l-2.6-4.4zM645.7,1272.2h5.2l-2.6-4.4zM588.0,1198.7h5.2l-2.6-4.4zM619.2,1217.7h5.2l-2.6-4.4zM645.2,1213.1h5.2l-2.6-4.4zM622.1,1292.5h5.2l-2.6-4.4zM593.1,1320.1h5.2l-2.6-4.4zM627.8,1313.3h5.2l-2.6-4.4zM577.5,1298.0h5.2l-2.6-4.4zM583.7,1311.9h5.2l-2.6-4.4zM632.3,1261.6h5.2l-2.6-4.4zM592.1,1296.6h5.2l-2.6-4.4zM632.0,1292.7h5.2l-2.6-4.4zM639.8,1297.4h5.2l-2.6-4.4zM643.2,1196.2h5.2l-2.6-4.4zM611.6,1316.1h5.2l-2.6-4.4zM595.2,1301.9h5.2l-2.6-4.4zM631.1,1307.4h5.2l-2.6-4.4zM633.1,1262.3h5.2l-2.6-4.4zM621.9,1232.5h5.2l-2.6-4.4zM615.1,1323.7h5.2l-2.6-4.4zM581.9,1237.8h5.2l-2.6-4.4zM608.7,1227.4h5.2l-2.6-4.4zM644.3,1266.5h5.2l-2.6-4.4zM595.7,1286.6h5.2l-2.6-4.4zM602.0,1294.7h5.2l-2.6-4.4zM641.0,1240.5h5.2l-2.6-4.4zM647.0,1286.9h5.2l-2.6-4.4zM618.8,1293.3h5.2l-2.6-4.4zM635.0,1306.3h5.2l-2.6-4.4zM592.2,1264.7h5.2l-2.6-4.4zM615.5,1295.4h5.2l-2.6-4.4zM636.1,1303.6h5.2l-2.6-4.4zM604.6,1201.4h5.2l-2.6-4.4zM631.3,1256.3h5.2l-2.6-4.4zM606.3,1327.2h5.2l-2.6-4.4zM597.1,1291.2h5.2l-2.6-4.4zM633.7,1288.1h5.2l-2.6-4.4zM590.1,1289.1h5.2l-2.6-4.4zM581.4,1307.1h5.2l-2.6-4.4zM606.1,1198.0h5.2l-2.6-4.4zM598.7,1217.4h5.2l-2.6-4.4zM623.3,1274.8h5.2l-2.6-4.4zM599.3,1116.8h5.2l-2.6-4.4zM618.2,1285.5h5.2l-2.6-4.4zM630.5,1312.7h5.2l-2.6-4.4zM642.5,1288.3h5.2l-2.6-4.4zM597.2,1321.9h5.2l-2.6-4.4zM588.3,1282.8h5.2l-2.6-4.4zM598.1,1301.2h5.2l-2.6-4.4zM620.9,1287.8h5.2l-2.6-4.4zM584.1,1288.6h5.2l-2.6-4.4zM640.9,1244.1h5.2l-2.6-4.4zM597.0,1296.2h5.2l-2.6-4.4zM592.1,1312.4h5.2l-2.6-4.4zM601.1,1296.6h5.2l-2.6-4.4zM615.8,1259.4h5.2l-2.6-4.4zM607.4,1252.0h5.2l-2.6-4.4zM631.9,1274.3h5.2l-2.6-4.4zM614.2,1253.7h5.2l-2.6-4.4zM628.8,1157.1h5.2l-2.6-4.4zM629.6,1271.2h5.2l-2.6-4.4zM594.6,1269.7h5.2l-2.6-4.4zM632.5,1202.9h5.2l-2.6-4.4zM639.6,1167.4h5.2l-2.6-4.4zM600.0,1075.2h5.2l-2.6-4.4zM601.9,1290.6h5.2l-2.6-4.4zM610.9,1308.7h5.2l-2.6-4.4zM606.3,1316.1h5.2l-2.6-4.4zM605.6,1308.0h5.2l-2.6-4.4zM610.2,1263.6h5.2l-2.6-4.4zM626.7,1309.2h5.2l-2.6-4.4zM630.8,1239.5h5.2l-2.6-4.4zM623.1,1248.9h5.2l-2.6-4.4zM596.3,1320.5h5.2l-2.6-4.4zM580.7,1295.1h5.2l-2.6-4.4zM586.7,1305.3h5.2l-2.6-4.4zM647.3,1280.5h5.2l-2.6-4.4zM589.8,1233.0h5.2l-2.6-4.4zM641.0,1274.3h5.2l-2.6-4.4zM630.3,1291.7h5.2l-2.6-4.4zM607.9,1256.3h5.2l-2.6-4.4zM592.1,1281.6h5.2l-2.6-4.4zM600.7,1286.5h5.2l-2.6-4.4zM579.2,1087.5h5.2l-2.6-4.4zM628.3,1280.8h5.2l-2.6-4.4zM614.7,1314.4h5.2l-2.6-4.4zM587.2,1276.3h5.2l-2.6-4.4zM599.1,1319.9h5.2l-2.6-4.4zM625.6,1221.4h5.2l-2.6-4.4zM588.4,1320.0h5.2l-2.6-4.4zM597.9,1270.7h5.2l-2.6-4.4zM641.5,1272.9h5.2l-2.6-4.4zM591.9,1254.9h5.2l-2.6-4.4zM618.7,1253.4h5.2l-2.6-4.4zM620.4,1193.7h5.2l-2.6-4.4zM619.3,1200.9h5.2l-2.6-4.4zM591.8,1305.8h5.2l-2.6-4.4zM584.7,1296.8h5.2l-2.6-4.4zM628.1,1152.7h5.2l-2.6-4.4zM578.8,1324.7h5.2l-2.6-4.4zM600.0,1312.6h5.2l-2.6-4.4zM581.9,1268.9h5.2l-2.6-4.4zM621.3,1335.0h5.2l-2.6-4.4zM618.6,1302.7h5.2l-2.6-4.4zM645.3,1262.1h5.2l-2.6-4.4zM582.6,1292.8h5.2l-2.6-4.4zM603.5,1142.4h5.2l-2.6-4.4zM597.3,965.2h5.2l-2.6-4.4zM579.0,1282.0h5.2l-2.6-4.4zM590.8,1330.1h5.2l-2.6-4.4zM626.7,1283.0h5.2l-2.6-4.4zM644.2,1213.7h5.2l-2.6-4.4zM591.9,1325.9h5.2l-2.6-4.4zM591.0,1315.6h5.2l-2.6-4.4zM594.7,1301.8h5.2l-2.6-4.4zM587.2,1270.8h5.2l-2.6-4.4zM589.0,1255.7h5.2l-2.6-4.4zM629.2,1201.5h5.2l-2.6-4.4zM619.5,1227.3h5.2l-2.6-4.4zM625.0,1307.6h5.2l-2.6-4.4zM629.8,1288.2h5.2l-2.6-4.4zM596.6,1302.1h5.2l-2.6-4.4zM583.9,1311.5h5.2l-2.6-4.4zM584.3,1310.6h5.2l-2.6-4.4zM614.7,1255.4h5.2l-2.6-4.4zM638.7,1289.3h5.2l-2.6-4.4zM641.6,1295.0h5.2l-2.6-4.4zM622.8,1243.8h5.2l-2.6-4.4zM617.3,1290.1h5.2l-2.6-4.4zM577.4,1315.3h5.2l-2.6-4.4zM619.4,1319.6h5.2l-2.6-4.4zM586.5,1266.7h5.2l-2.6-4.4zM590.9,1304.5h5.2l-2.6-4.4zM583.0,1283.3h5.2l-2.6-4.4zM633.8,1245.6h5.2l-2.6-4.4zM585.7,1333.4h5.2l-2.6-4.4zM635.8,1260.5h5.2l-2.6-4.4zM607.7,1246.5h5.2l-2.6-4.4zM647.0,1178.4h5.2l-2.6-4.4zM613.0,1322.1h5.2l-2.6-4.4zM622.5,1289.6h5.2l-2.6-4.4zM602.7,1295.6h5.2l-2.6-4.4zM585.2,1321.1h5.2l-2.6-4.4zM577.7,1237.2h5.2l-2.6-4.4zM630.3,1295.6h5.2l-2.6-4.4zM602.0,1273.6h5.2l-2.6-4.4zM586.2,1320.4h5.2l-2.6-4.4zM619.3,1294.2h5.2l-2.6-4.4zM601.0,953.4h5.2l-2.6-4.4zM611.0,1312.8h5.2l-2.6-4.4zM633.2,1174.8h5.2l-2.6-4.4zM602.3,1284.3h5.2l-2.6-4.4zM612.2,1245.8h5.2l-2.6-4.4zM599.1,1303.0h5.2l-2.6-4.4zM632.0,1311.0h5.2l-2.6-4.4zM597.0,1278.8h5.2l-2.6-4.4zM617.5,1222.8h5.2l-2.6-4.4zM604.1,1265.9h5.2l-2.6-4.4zM621.9,1299.6h5.2l-2.6-4.4zM591.5,1327.0h5.2l-2.6-4.4zM642.3,1260.7h5.2l-2.6-4.4zM607.4,1323.4h5.2l-2.6-4.4zM613.8,1225.3h5.2l-2.6-4.4zM627.8,1293.7h5.2l-2.6-4.4zM602.9,1313.6h5.2l-2.6-4.4zM606.8,1268.8h5.2l-2.6-4.4zM643.7,1306.6h5.2l-2.6-4.4zM597.7,1317.1h5.2l-2.6-4.4zM604.9,1316.0h5.2l-2.6-4.4zM643.6,1299.7h5.2l-2.6-4.4zM611.6,1328.7h5.2l-2.6-4.4zM641.8,1231.4h5.2l-2.6-4.4zM685.6,1269.2h5.2l-2.6-4.4zM685.4,1265.1h5.2l-2.6-4.4zM653.7,1237.7h5.2l-2.6-4.4zM658.9,1306.1h5.2l-2.6-4.4zM672.0,1261.2h5.2l-2.6-4.4zM680.1,1118.9h5.2l-2.6-4.4zM654.5,1303.6h5.2l-2.6-4.4zM660.0,1270.3h5.2l-2.6-4.4zM689.9,1164.0h5.2l-2.6-4.4zM703.1,1245.5h5.2l-2.6-4.4zM661.1,1259.1h5.2l-2.6-4.4zM700.0,1304.6h5.2l-2.6-4.4zM681.4,1261.6h5.2l-2.6-4.4zM656.2,1263.4h5.2l-2.6-4.4zM690.8,1252.4h5.2l-2.6-4.4zM654.1,1310.5h5.2l-2.6-4.4zM667.9,1314.6h5.2l-2.6-4.4zM660.1,1265.4h5.2l-2.6-4.4zM648.7,1154.3h5.2l-2.6-4.4zM674.5,1298.7h5.2l-2.6-4.4zM672.3,1221.9h5.2l-2.6-4.4zM648.4,1284.4h5.2l-2.6-4.4zM672.9,1283.6h5.2l-2.6-4.4zM690.7,1244.7h5.2l-2.6-4.4zM692.4,908.9h5.2l-2.6-4.4zM699.7,1277.1h5.2l-2.6-4.4zM671.8,1247.3h5.2l-2.6-4.4zM699.7,1149.7h5.2l-2.6-4.4zM657.5,1266.8h5.2l-2.6-4.4zM675.1,1274.4h5.2l-2.6-4.4zM652.9,1249.5h5.2l-2.6-4.4zM687.5,1266.6h5.2l-2.6-4.4zM687.4,1271.8h5.2l-2.6-4.4zM660.5,1324.8h5.2l-2.6-4.4zM704.5,1174.4h5.2l-2.6-4.4zM671.2,1221.8h5.2l-2.6-4.4zM693.9,1261.6h5.2l-2.6-4.4zM659.1,1212.5h5.2l-2.6-4.4zM673.9,1228.9h5.2l-2.6-4.4zM649.3,1296.2h5.2l-2.6-4.4zM684.4,1245.5h5.2l-2.6-4.4zM700.2,1303.1h5.2l-2.6-4.4zM658.3,1039.0h5.2l-2.6-4.4zM649.1,1269.9h5.2l-2.6-4.4zM677.1,1292.8h5.2l-2.6-4.4zM684.3,1275.6h5.2l-2.6-4.4zM651.7,1295.3h5.2l-2.6-4.4zM667.7,1236.6h5.2l-2.6-4.4zM669.3,1302.1h5.2l-2.6-4.4zM666.8,1253.0h5.2l-2.6-4.4zM694.3,1317.1h5.2l-2.6-4.4zM690.2,1292.5h5.2l-2.6-4.4zM700.3,1275.5h5.2l-2.6-4.4zM675.3,1235.1h5.2l-2.6-4.4zM678.1,1214.1h5.2l-2.6-4.4zM669.8,1144.4h5.2l-2.6-4.4zM683.0,1257.3h5.2l-2.6-4.4zM698.3,1302.1h5.2l-2.6-4.4zM650.3,1283.6h5.2l-2.6-4.4zM694.5,1279.4h5.2l-2.6-4.4zM691.8,1164.7h5.2l-2.6-4.4zM697.8,1258.7h5.2l-2.6-4.4zM663.2,933.8h5.2l-2.6-4.4zM680.3,1278.9h5.2l-2.6-4.4zM702.1,1298.3h5.2l-2.6-4.4zM705.0,1304.9h5.2l-2.6-4.4zM697.0,1237.5h5.2l-2.6-4.4zM697.8,1218.3h5.2l-2.6-4.4zM698.7,1145.8h5.2l-2.6-4.4zM701.8,1280.6h5.2l-2.6-4.4zM677.1,1285.4h5.2l-2.6-4.4zM678.4,1261.0h5.2l-2.6-4.4zM665.9,1212.4h5.2l-2.6-4.4zM661.3,1294.1h5.2l-2.6-4.4zM692.3,1306.1h5.2l-2.6-4.4zM698.8,1275.6h5.2l-2.6-4.4zM698.8,1219.4h5.2l-2.6-4.4zM690.7,1293.3h5.2l-2.6-4.4zM703.5,1246.0h5.2l-2.6-4.4zM700.1,1316.5h5.2l-2.6-4.4zM662.2,1191.3h5.2l-2.6-4.4zM672.9,1289.2h5.2l-2.6-4.4zM694.4,1256.0h5.2l-2.6-4.4zM697.8,1305.0h5.2l-2.6-4.4zM660.4,1315.0h5.2l-2.6-4.4zM689.6,1286.3h5.2l-2.6-4.4zM662.1,1234.5h5.2l-2.6-4.4zM661.4,1294.1h5.2l-2.6-4.4zM702.9,1305.0h5.2l-2.6-4.4zM695.6,1110.7h5.2l-2.6-4.4zM682.7,1225.1h5.2l-2.6-4.4zM675.4,1314.8h5.2l-2.6-4.4zM687.0,1296.0h5.2l-2.6-4.4zM674.4,1306.2h5.2l-2.6-4.4zM654.1,1201.3h5.2l-2.6-4.4zM662.7,1302.8h5.2l-2.6-4.4zM651.4,1290.7h5.2l-2.6-4.4zM695.0,1271.5h5.2l-2.6-4.4zM690.9,1314.3h5.2l-2.6-4.4zM684.6,1267.9h5.2l-2.6-4.4zM700.8,1278.5h5.2l-2.6-4.4zM684.5,1219.5h5.2l-2.6-4.4zM690.8,1314.9h5.2l-2.6-4.4zM666.9,1308.4h5.2l-2.6-4.4zM674.4,1216.0h5.2l-2.6-4.4zM690.5,1315.5h5.2l-2.6-4.4zM667.1,1299.1h5.2l-2.6-4.4zM683.1,1286.8h5.2l-2.6-4.4zM667.8,1097.8h5.2l-2.6-4.4zM649.0,1216.8h5.2l-2.6-4.4zM679.3,1287.1h5.2l-2.6-4.4zM652.1,1283.4h5.2l-2.6-4.4zM659.0,1313.6h5.2l-2.6-4.4zM662.0,1292.8h5.2l-2.6-4.4zM697.8,1184.9h5.2l-2.6-4.4zM654.2,1213.6h5.2l-2.6-4.4zM653.6,1299.9h5.2l-2.6-4.4zM652.1,1268.4h5.2l-2.6-4.4zM685.4,1031.9h5.2l-2.6-4.4zM688.7,1276.0h5.2l-2.6-4.4zM695.2,1317.6h5.2l-2.6-4.4zM693.1,1174.5h5.2l-2.6-4.4zM662.1,1270.8h5.2l-2.6-4.4zM679.1,1225.5h5.2l-2.6-4.4zM681.2,1285.0h5.2l-2.6-4.4zM684.4,1197.6h5.2l-2.6-4.4zM655.8,1285.5h5.2l-2.6-4.4zM680.6,1283.8h5.2l-2.6-4.4zM652.1,1297.8h5.2l-2.6-4.4zM658.6,1278.6h5.2l-2.6-4.4zM660.2,1199.9h5.2l-2.6-4.4zM692.9,1284.7h5.2l-2.6-4.4zM654.8,1287.7h5.2l-2.6-4.4zM664.6,1215.1h5.2l-2.6-4.4zM703.9,1256.2h5.2l-2.6-4.4zM693.7,1253.9h5.2l-2.6-4.4zM684.5,1028.6h5.2l-2.6-4.4zM665.1,1231.5h5.2l-2.6-4.4zM683.5,1314.4h5.2l-2.6-4.4zM673.4,1224.0h5.2l-2.6-4.4zM665.1,1192.6h5.2l-2.6-4.4zM705.1,1263.8h5.2l-2.6-4.4zM672.0,1306.6h5.2l-2.6-4.4zM651.8,1204.3h5.2l-2.6-4.4zM649.9,1249.0h5.2l-2.6-4.4zM695.5,1256.9h5.2l-2.6-4.4zM696.9,1229.0h5.2l-2.6-4.4zM696.8,1231.3h5.2l-2.6-4.4zM672.9,1293.5h5.2l-2.6-4.4zM666.7,1229.7h5.2l-2.6-4.4zM677.0,1269.7h5.2l-2.6-4.4zM691.2,1281.1h5.2l-2.6-4.4zM701.9,1321.2h5.2l-2.6-4.4zM673.5,1283.1h5.2l-2.6-4.4zM661.4,1258.1h5.2l-2.6-4.4zM659.7,1313.7h5.2l-2.6-4.4zM696.1,1183.7h5.2l-2.6-4.4zM655.6,1277.8h5.2l-2.6-4.4zM653.9,1237.5h5.2l-2.6-4.4zM683.2,1305.4h5.2l-2.6-4.4zM669.5,1281.6h5.2l-2.6-4.4zM655.1,1284.5h5.2l-2.6-4.4zM704.2,1294.7h5.2l-2.6-4.4zM677.8,1236.6h5.2l-2.6-4.4zM651.8,1131.8h5.2l-2.6-4.4zM684.2,1263.5h5.2l-2.6-4.4zM699.8,1292.4h5.2l-2.6-4.4zM660.6,1251.3h5.2l-2.6-4.4zM698.2,1208.4h5.2l-2.6-4.4zM706.9,1207.4h5.2l-2.6-4.4zM703.7,1056.4h5.2l-2.6-4.4zM670.1,1306.5h5.2l-2.6-4.4zM659.2,1261.3h5.2l-2.6-4.4zM674.0,1215.1h5.2l-2.6-4.4zM662.5,1267.6h5.2l-2.6-4.4zM696.6,1301.6h5.2l-2.6-4.4zM660.6,1321.7h5.2l-2.6-4.4zM668.1,1302.6h5.2l-2.6-4.4zM648.1,1243.4h5.2l-2.6-4.4zM647.7,1318.6h5.2l-2.6-4.4zM651.2,1315.7h5.2l-2.6-4.4zM697.7,1304.0h5.2l-2.6-4.4zM650.0,1209.5h5.2l-2.6-4.4zM678.1,1176.1h5.2l-2.6-4.4zM678.4,1276.0h5.2l-2.6-4.4zM664.9,1256.5h5.2l-2.6-4.4zM703.4,1209.9h5.2l-2.6-4.4zM662.1,1300.1h5.2l-2.6-4.4zM676.6,1283.6h5.2l-2.6-4.4zM666.1,1265.9h5.2l-2.6-4.4zM698.3,1299.6h5.2l-2.6-4.4zM648.7,1188.5h5.2l-2.6-4.4zM702.0,1236.0h5.2l-2.6-4.4zM668.1,1281.8h5.2l-2.6-4.4zM684.3,1133.8h5.2l-2.6-4.4zM657.8,1316.1h5.2l-2.6-4.4zM674.4,1248.1h5.2l-2.6-4.4zM673.1,1259.6h5.2l-2.6-4.4zM677.5,1246.1h5.2l-2.6-4.4zM690.8,1189.8h5.2l-2.6-4.4zM676.0,1313.3h5.2l-2.6-4.4zM647.9,1287.0h5.2l-2.6-4.4zM676.5,1293.2h5.2l-2.6-4.4zM701.9,1156.5h5.2l-2.6-4.4zM665.8,1029.0h5.2l-2.6-4.4zM683.6,1109.9h5.2l-2.6-4.4zM653.7,1235.9h5.2l-2.6-4.4zM700.6,1098.4h5.2l-2.6-4.4zM695.9,1271.0h5.2l-2.6-4.4zM654.2,1176.0h5.2l-2.6-4.4zM700.7,1232.4h5.2l-2.6-4.4zM659.7,1292.5h5.2l-2.6-4.4zM653.5,1313.3h5.2l-2.6-4.4zM653.8,1258.7h5.2l-2.6-4.4zM686.5,1277.6h5.2l-2.6-4.4zM652.9,1142.9h5.2l-2.6-4.4zM659.5,1287.5h5.2l-2.6-4.4zM694.1,1280.7h5.2l-2.6-4.4zM688.3,1168.4h5.2l-2.6-4.4zM707.3,1302.4h5.2l-2.6-4.4zM700.9,1151.5h5.2l-2.6-4.4zM687.3,1186.1h5.2l-2.6-4.4zM700.6,1266.7h5.2l-2.6-4.4zM665.7,1257.8h5.2l-2.6-4.4zM649.6,1286.1h5.2l-2.6-4.4zM706.5,1293.0h5.2l-2.6-4.4zM680.1,1195.9h5.2l-2.6-4.4zM659.2,1200.1h5.2l-2.6-4.4zM705.2,1313.6h5.2l-2.6-4.4zM678.4,1291.5h5.2l-2.6-4.4zM672.7,1065.5h5.2l-2.6-4.4zM694.4,1292.3h5.2l-2.6-4.4zM701.8,1296.1h5.2l-2.6-4.4zM658.0,1246.6h5.2l-2.6-4.4zM672.1,1301.7h5.2l-2.6-4.4zM656.6,1270.3h5.2l-2.6-4.4zM694.4,1292.6h5.2l-2.6-4.4zM653.9,1093.7h5.2l-2.6-4.4zM685.7,1259.3h5.2l-2.6-4.4zM704.2,1252.7h5.2l-2.6-4.4zM666.2,1239.3h5.2l-2.6-4.4zM648.1,1125.3h5.2l-2.6-4.4zM663.6,1281.8h5.2l-2.6-4.4zM685.8,1312.2h5.2l-2.6-4.4zM706.1,1291.2h5.2l-2.6-4.4zM690.1,1298.9h5.2l-2.6-4.4zM693.6,1285.7h5.2l-2.6-4.4zM664.8,1273.4h5.2l-2.6-4.4zM706.5,1225.0h5.2l-2.6-4.4zM657.1,1295.5h5.2l-2.6-4.4zM670.5,1328.5h5.2l-2.6-4.4zM669.2,1168.4h5.2l-2.6-4.4zM679.2,1275.7h5.2l-2.6-4.4zM658.0,1168.3h5.2l-2.6-4.4zM664.1,1247.5h5.2l-2.6-4.4zM655.2,1293.0h5.2l-2.6-4.4zM706.5,1247.6h5.2l-2.6-4.4zM679.9,1032.3h5.2l-2.6-4.4zM678.0,1281.7h5.2l-2.6-4.4zM683.9,1282.3h5.2l-2.6-4.4zM686.9,1249.5h5.2l-2.6-4.4zM655.9,1198.7h5.2l-2.6-4.4zM658.7,1301.5h5.2l-2.6-4.4zM696.3,1185.2h5.2l-2.6-4.4zM687.9,1268.4h5.2l-2.6-4.4zM658.0,1301.3h5.2l-2.6-4.4zM667.1,1290.9h5.2l-2.6-4.4zM659.3,1262.3h5.2l-2.6-4.4zM654.2,1170.3h5.2l-2.6-4.4zM734.3,1226.2h5.2l-2.6-4.4zM709.9,1204.2h5.2l-2.6-4.4zM718.7,1233.5h5.2l-2.6-4.4zM718.4,1296.5h5.2l-2.6-4.4zM743.5,1219.6h5.2l-2.6-4.4zM723.4,1089.1h5.2l-2.6-4.4zM717.5,1187.1h5.2l-2.6-4.4zM750.6,1286.6h5.2l-2.6-4.4zM745.2,1290.2h5.2l-2.6-4.4zM723.4,1271.4h5.2l-2.6-4.4zM728.0,1285.1h5.2l-2.6-4.4zM708.7,1258.1h5.2l-2.6-4.4zM746.4,1299.6h5.2l-2.6-4.4zM748.5,1160.3h5.2l-2.6-4.4zM751.1,1259.3h5.2l-2.6-4.4zM725.4,1166.8h5.2l-2.6-4.4zM711.5,1230.6h5.2l-2.6-4.4zM731.8,1300.3h5.2l-2.6-4.4zM725.4,1279.1h5.2l-2.6-4.4zM727.8,921.0h5.2l-2.6-4.4zM723.0,1194.4h5.2l-2.6-4.4zM717.4,1311.3h5.2l-2.6-4.4zM745.2,1274.9h5.2l-2.6-4.4zM727.1,1286.8h5.2l-2.6-4.4zM726.1,1294.8h5.2l-2.6-4.4zM739.1,1246.8h5.2l-2.6-4.4zM733.0,1245.9h5.2l-2.6-4.4zM725.0,1285.1h5.2l-2.6-4.4zM746.6,1162.9h5.2l-2.6-4.4zM744.3,1217.0h5.2l-2.6-4.4zM717.4,1260.9h5.2l-2.6-4.4zM744.1,1212.0h5.2l-2.6-4.4zM723.5,1277.6h5.2l-2.6-4.4zM712.3,1094.2h5.2l-2.6-4.4zM708.4,1275.0h5.2l-2.6-4.4zM710.6,1283.7h5.2l-2.6-4.4zM727.2,1296.0h5.2l-2.6-4.4zM726.4,1293.7h5.2l-2.6-4.4zM731.1,1242.9h5.2l-2.6-4.4zM732.8,1222.4h5.2l-2.6-4.4zM716.9,933.6h5.2l-2.6-4.4zM742.9,1220.7h5.2l-2.6-4.4zM739.7,1235.5h5.2l-2.6-4.4zM747.1,1197.2h5.2l-2.6-4.4zM712.1,1179.8h5.2l-2.6-4.4zM709.1,1259.4h5.2l-2.6-4.4zM719.3,1311.0h5.2l-2.6-4.4zM748.2,1186.5h5.2l-2.6-4.4zM724.4,1190.6h5.2l-2.6-4.4zM751.1,1286.0h5.2l-2.6-4.4zM711.4,1277.8h5.2l-2.6-4.4zM728.9,1234.7h5.2l-2.6-4.4zM709.8,1282.6h5.2l-2.6-4.4zM728.7,1257.0h5.2l-2.6-4.4zM744.1,1218.4h5.2l-2.6-4.4zM722.5,1264.6h5.2l-2.6-4.4zM752.1,1162.0h5.2l-2.6-4.4zM734.7,1067.7h5.2l-2.6-4.4zM726.2,1193.0h5.2l-2.6-4.4zM713.3,1298.8h5.2l-2.6-4.4zM729.3,1210.6h5.2l-2.6-4.4zM750.7,1261.4h5.2l-2.6-4.4zM709.3,1290.4h5.2l-2.6-4.4zM724.4,1291.8h5.2l-2.6-4.4zM750.1,1268.0h5.2l-2.6-4.4zM726.2,1099.0h5.2l-2.6-4.4zM723.7,1133.3h5.2l-2.6-4.4zM752.1,1277.7h5.2l-2.6-4.4zM745.3,1262.9h5.2l-2.6-4.4zM733.5,1216.3h5.2l-2.6-4.4zM745.4,1241.2h5.2l-2.6-4.4zM734.5,1259.4h5.2l-2.6-4.4zM728.3,1261.0h5.2l-2.6-4.4zM737.9,1062.1h5.2l-2.6-4.4zM750.7,1290.1h5.2l-2.6-4.4zM726.0,1172.8h5.2l-2.6-4.4zM713.1,1225.5h5.2l-2.6-4.4zM746.4,1241.0h5.2l-2.6-4.4zM729.3,1209.0h5.2l-2.6-4.4zM723.7,1286.5h5.2l-2.6-4.4zM751.2,1243.8h5.2l-2.6-4.4zM741.7,1307.7h5.2l-2.6-4.4zM745.7,1299.5h5.2l-2.6-4.4zM732.6,1184.7h5.2l-2.6-4.4zM745.8,1244.9h5.2l-2.6-4.4zM744.1,1255.9h5.2l-2.6-4.4zM743.2,1273.9h5.2l-2.6-4.4zM711.6,1191.2h5.2l-2.6-4.4zM739.8,1224.8h5.2l-2.6-4.4zM708.8,1283.7h5.2l-2.6-4.4zM743.6,1225.7h5.2l-2.6-4.4zM744.6,1122.2h5.2l-2.6-4.4zM733.9,1191.8h5.2l-2.6-4.4zM728.8,1260.1h5.2l-2.6-4.4zM724.3,1219.2h5.2l-2.6-4.4zM717.5,1116.9h5.2l-2.6-4.4zM715.3,1232.1h5.2l-2.6-4.4zM730.0,1309.0h5.2l-2.6-4.4zM748.1,1191.5h5.2l-2.6-4.4zM712.7,1166.8h5.2l-2.6-4.4zM738.7,1297.3h5.2l-2.6-4.4zM724.1,1186.6h5.2l-2.6-4.4zM742.0,1258.7h5.2l-2.6-4.4zM726.2,1231.0h5.2l-2.6-4.4zM715.3,1113.0h5.2l-2.6-4.4zM719.2,1168.6h5.2l-2.6-4.4zM708.9,1266.0h5.2l-2.6-4.4zM729.2,1258.5h5.2l-2.6-4.4zM723.4,1286.6h5.2l-2.6-4.4zM735.7,1268.7h5.2l-2.6-4.4zM744.7,1273.0h5.2l-2.6-4.4zM738.0,1220.5h5.2l-2.6-4.4zM749.0,1222.9h5.2l-2.6-4.4zM725.8,1255.5h5.2l-2.6-4.4zM739.3,930.4h5.2l-2.6-4.4zM726.1,1232.4h5.2l-2.6-4.4zM747.2,1249.3h5.2l-2.6-4.4zM724.4,1178.7h5.2l-2.6-4.4zM718.6,1294.1h5.2l-2.6-4.4zM744.8,1255.3h5.2l-2.6-4.4zM732.7,1252.6h5.2l-2.6-4.4zM727.0,1259.2h5.2l-2.6-4.4zM710.0,1209.2h5.2l-2.6-4.4zM712.8,1309.1h5.2l-2.6-4.4zM733.4,1260.2h5.2l-2.6-4.4zM749.2,1109.9h5.2l-2.6-4.4zM752.1,1258.4h5.2l-2.6-4.4zM749.4,1199.8h5.2l-2.6-4.4zM735.4,1241.9h5.2l-2.6-4.4zM716.8,1137.8h5.2l-2.6-4.4zM724.3,1182.9h5.2l-2.6-4.4zM721.2,1270.0h5.2l-2.6-4.4zM735.2,1187.6h5.2l-2.6-4.4zM734.2,1217.2h5.2l-2.6-4.4zM751.8,1269.5h5.2l-2.6-4.4zM746.8,1282.4h5.2l-2.6-4.4zM737.7,1016.8h5.2l-2.6-4.4zM748.5,1202.9h5.2l-2.6-4.4zM711.3,1058.9h5.2l-2.6-4.4zM708.6,1022.4h5.2l-2.6-4.4zM745.4,1287.6h5.2l-2.6-4.4zM742.0,1266.7h5.2l-2.6-4.4zM723.0,1258.3h5.2l-2.6-4.4zM748.7,1275.9h5.2l-2.6-4.4zM727.8,1238.9h5.2l-2.6-4.4zM708.6,1312.1h5.2l-2.6-4.4zM751.6,1261.7h5.2l-2.6-4.4zM716.0,1167.7h5.2l-2.6-4.4zM713.6,1261.7h5.2l-2.6-4.4zM708.9,1238.9h5.2l-2.6-4.4zM710.2,1113.9h5.2l-2.6-4.4zM732.8,1238.2h5.2l-2.6-4.4zM738.3,1274.5h5.2l-2.6-4.4zM742.1,1086.8h5.2l-2.6-4.4zM730.9,1291.1h5.2l-2.6-4.4zM712.1,1224.9h5.2l-2.6-4.4zM746.0,859.0h5.2l-2.6-4.4zM729.6,1251.4h5.2l-2.6-4.4zM750.7,1281.0h5.2l-2.6-4.4zM720.6,1256.6h5.2l-2.6-4.4zM718.3,1249.6h5.2l-2.6-4.4zM717.8,1239.8h5.2l-2.6-4.4zM723.2,1267.2h5.2l-2.6-4.4zM731.6,1237.1h5.2l-2.6-4.4zM751.9,1195.3h5.2l-2.6-4.4zM713.7,1241.9h5.2l-2.6-4.4zM751.7,1269.2h5.2l-2.6-4.4zM729.3,1197.0h5.2l-2.6-4.4zM724.1,1071.7h5.2l-2.6-4.4zM750.3,1133.6h5.2l-2.6-4.4zM712.1,853.2h5.2l-2.6-4.4zM713.7,1145.6h5.2l-2.6-4.4zM709.1,1173.0h5.2l-2.6-4.4zM732.8,1167.5h5.2l-2.6-4.4zM748.3,1167.1h5.2l-2.6-4.4zM733.1,944.4h5.2l-2.6-4.4zM714.6,1130.1h5.2l-2.6-4.4zM718.6,1220.7h5.2l-2.6-4.4zM712.8,1068.2h5.2l-2.6-4.4zM713.5,1285.3h5.2l-2.6-4.4zM715.4,1203.3h5.2l-2.6-4.4zM742.3,1226.3h5.2l-2.6-4.4zM743.1,1275.4h5.2l-2.6-4.4zM728.9,1261.7h5.2l-2.6-4.4zM750.0,1207.6h5.2l-2.6-4.4zM717.2,1088.7h5.2l-2.6-4.4zM723.2,1261.7h5.2l-2.6-4.4zM722.9,1298.5h5.2l-2.6-4.4zM737.0,1204.8h5.2l-2.6-4.4zM720.9,1134.3h5.2l-2.6-4.4zM744.0,1228.2h5.2l-2.6-4.4zM722.6,1263.8h5.2l-2.6-4.4zM737.9,1070.2h5.2l-2.6-4.4zM739.3,1251.1h5.2l-2.6-4.4zM736.7,1267.4h5.2l-2.6-4.4zM732.5,1214.5h5.2l-2.6-4.4zM487.0,1317.9h5.2l-2.6-4.4zM511.6,1308.5h5.2l-2.6-4.4zM503.7,1331.9h5.2l-2.6-4.4zM470.8,1311.4h5.2l-2.6-4.4zM438.2,1341.7h5.2l-2.6-4.4zM473.2,1325.2h5.2l-2.6-4.4zM487.6,1330.4h5.2l-2.6-4.4zM524.5,1324.8h5.2l-2.6-4.4zM470.0,1312.1h5.2l-2.6-4.4zM526.1,1297.9h5.2l-2.6-4.4zM517.4,1328.9h5.2l-2.6-4.4zM534.8,1320.4h5.2l-2.6-4.4zM507.2,1336.5h5.2l-2.6-4.4zM484.2,1317.3h5.2l-2.6-4.4zM521.3,1316.5h5.2l-2.6-4.4zM536.9,1315.2h5.2l-2.6-4.4zM444.0,1324.3h5.2l-2.6-4.4zM441.9,1357.9h5.2l-2.6-4.4zM490.2,1314.8h5.2l-2.6-4.4zM517.0,1322.1h5.2l-2.6-4.4zM512.2,1338.4h5.2l-2.6-4.4zM569.2,1311.6h5.2l-2.6-4.4zM498.3,1325.0h5.2l-2.6-4.4zM533.8,1312.0h5.2l-2.6-4.4zM507.3,1325.3h5.2l-2.6-4.4zM491.8,1319.8h5.2l-2.6-4.4zM501.3,1319.4h5.2l-2.6-4.4zM486.0,1307.6h5.2l-2.6-4.4zM517.4,1292.4h5.2l-2.6-4.4zM520.5,1313.6h5.2l-2.6-4.4zM501.0,1305.5h5.2l-2.6-4.4zM504.7,1334.3h5.2l-2.6-4.4zM481.0,1357.0h5.2l-2.6-4.4zM540.4,1291.1h5.2l-2.6-4.4zM464.8,1342.7h5.2l-2.6-4.4zM480.1,1334.7h5.2l-2.6-4.4zM515.2,1313.4h5.2l-2.6-4.4zM510.4,1310.7h5.2l-2.6-4.4zM514.1,1310.2h5.2l-2.6-4.4zM457.8,1339.0h5.2l-2.6-4.4zM518.5,1345.5h5.2l-2.6-4.4zM541.0,1294.3h5.2l-2.6-4.4zM506.7,1314.4h5.2l-2.6-4.4zM493.7,1302.8h5.2l-2.6-4.4zM521.1,1313.9h5.2l-2.6-4.4zM460.5,1312.1h5.2l-2.6-4.4zM479.0,1315.9h5.2l-2.6-4.4zM493.9,1317.5h5.2l-2.6-4.4zM548.5,1335.2h5.2l-2.6-4.4zM497.4,1336.6h5.2l-2.6-4.4zM479.7,1320.5h5.2l-2.6-4.4zM479.3,1343.3h5.2l-2.6-4.4zM481.2,1296.1h5.2l-2.6-4.4zM498.8,1331.8h5.2l-2.6-4.4zM517.7,1338.8h5.2l-2.6-4.4zM502.4,1307.9h5.2l-2.6-4.4zM502.5,1326.8h5.2l-2.6-4.4zM435.7,1318.7h5.2l-2.6-4.4zM501.1,1303.0h5.2l-2.6-4.4zM550.0,1328.4h5.2l-2.6-4.4zM510.6,1337.2h5.2l-2.6-4.4zM521.9,1321.8h5.2l-2.6-4.4zM523.5,1327.1h5.2l-2.6-4.4zM481.4,1342.2h5.2l-2.6-4.4zM493.9,1300.0h5.2l-2.6-4.4zM436.8,1360.6h5.2l-2.6-4.4zM487.3,1337.7h5.2l-2.6-4.4zM459.8,1307.2h5.2l-2.6-4.4zM479.0,1306.6h5.2l-2.6-4.4zM477.6,1362.2h5.2l-2.6-4.4zM516.8,1296.9h5.2l-2.6-4.4zM521.3,1297.9h5.2l-2.6-4.4zM477.0,1346.4h5.2l-2.6-4.4zM516.0,1326.2h5.2l-2.6-4.4zM518.9,1328.2h5.2l-2.6-4.4zM491.3,1318.4h5.2l-2.6-4.4zM501.0,1321.1h5.2l-2.6-4.4zM486.9,1302.7h5.2l-2.6-4.4zM502.1,1329.9h5.2l-2.6-4.4zM509.0,1335.4h5.2l-2.6-4.4zM515.3,1294.0h5.2l-2.6-4.4zM500.2,1338.0h5.2l-2.6-4.4zM464.2,1332.1h5.2l-2.6-4.4zM470.1,1345.9h5.2l-2.6-4.4zM504.6,1330.3h5.2l-2.6-4.4zM515.5,1317.2h5.2l-2.6-4.4zM489.4,1304.5h5.2l-2.6-4.4zM530.6,1319.0h5.2l-2.6-4.4zM478.1,1311.2h5.2l-2.6-4.4zM537.7,1320.2h5.2l-2.6-4.4zM489.2,1298.8h5.2l-2.6-4.4zM552.1,1312.4h5.2l-2.6-4.4zM488.6,1317.8h5.2l-2.6-4.4zM488.2,1321.5h5.2l-2.6-4.4zM523.2,1304.6h5.2l-2.6-4.4zM528.1,1334.7h5.2l-2.6-4.4zM441.8,1313.9h5.2l-2.6-4.4zM511.6,1308.5h5.2l-2.6-4.4zM497.0,1302.2h5.2l-2.6-4.4zM523.6,1326.0h5.2l-2.6-4.4zM532.9,1346.3h5.2l-2.6-4.4zM443.7,1327.9h5.2l-2.6-4.4zM526.8,1326.9h5.2l-2.6-4.4zM507.7,1314.4h5.2l-2.6-4.4zM504.4,1303.5h5.2l-2.6-4.4zM527.3,1314.5h5.2l-2.6-4.4zM477.1,1325.0h5.2l-2.6-4.4zM498.7,1340.9h5.2l-2.6-4.4zM463.6,1332.6h5.2l-2.6-4.4zM477.3,1333.3h5.2l-2.6-4.4zM521.2,1299.6h5.2l-2.6-4.4zM509.7,1318.0h5.2l-2.6-4.4zM491.3,1313.6h5.2l-2.6-4.4zM503.0,1329.4h5.2l-2.6-4.4zM462.3,1319.7h5.2l-2.6-4.4zM458.4,1315.6h5.2l-2.6-4.4zM515.1,1311.9h5.2l-2.6-4.4zM498.1,1307.2h5.2l-2.6-4.4zM485.1,1327.7h5.2l-2.6-4.4zM461.8,1337.1h5.2l-2.6-4.4zM472.8,1349.1h5.2l-2.6-4.4zM539.1,1302.4h5.2l-2.6-4.4zM494.1,1350.2h5.2l-2.6-4.4zM509.4,1314.1h5.2l-2.6-4.4zM504.7,1342.0h5.2l-2.6-4.4zM530.8,1288.6h5.2l-2.6-4.4zM494.4,1342.7h5.2l-2.6-4.4zM504.9,1340.9h5.2l-2.6-4.4zM497.5,1317.4h5.2l-2.6-4.4zM480.9,1307.1h5.2l-2.6-4.4zM509.1,1310.5h5.2l-2.6-4.4zM527.5,1304.4h5.2l-2.6-4.4zM546.8,1317.1h5.2l-2.6-4.4zM529.5,1314.2h5.2l-2.6-4.4zM497.2,1327.9h5.2l-2.6-4.4zM508.1,1330.2h5.2l-2.6-4.4zM455.8,1320.4h5.2l-2.6-4.4zM510.5,1323.5h5.2l-2.6-4.4zM525.8,1344.3h5.2l-2.6-4.4zM527.9,1337.9h5.2l-2.6-4.4zM485.4,1314.5h5.2l-2.6-4.4zM529.4,1311.1h5.2l-2.6-4.4zM497.2,1313.2h5.2l-2.6-4.4zM556.6,1321.0h5.2l-2.6-4.4zM511.0,1330.8h5.2l-2.6-4.4zM523.5,1305.3h5.2l-2.6-4.4zM525.9,1309.9h5.2l-2.6-4.4zM483.2,1332.6h5.2l-2.6-4.4zM489.8,1311.5h5.2l-2.6-4.4zM505.9,1323.5h5.2l-2.6-4.4zM517.4,1336.9h5.2l-2.6-4.4zM461.3,1335.5h5.2l-2.6-4.4zM557.9,1306.4h5.2l-2.6-4.4zM495.6,1307.1h5.2l-2.6-4.4zM442.3,1334.8h5.2l-2.6-4.4zM507.1,1301.5h5.2l-2.6-4.4zM521.7,1317.4h5.2l-2.6-4.4zM492.4,1329.8h5.2l-2.6-4.4zM475.1,1332.6h5.2l-2.6-4.4zM496.2,1323.3h5.2l-2.6-4.4zM520.3,1286.1h5.2l-2.6-4.4zM512.5,1307.1h5.2l-2.6-4.4zM523.8,1317.3h5.2l-2.6-4.4zM476.3,1333.4h5.2l-2.6-4.4zM542.6,1312.4h5.2l-2.6-4.4zM436.6,1334.1h5.2l-2.6-4.4zM513.3,1319.4h5.2l-2.6-4.4zM480.6,1332.1h5.2l-2.6-4.4zM544.6,1287.5h5.2l-2.6-4.4zM530.2,1305.6h5.2l-2.6-4.4zM506.4,1300.2h5.2l-2.6-4.4zM516.6,1289.2h5.2l-2.6-4.4zM485.1,1320.0h5.2l-2.6-4.4zM507.1,1327.5h5.2l-2.6-4.4zM500.8,1332.4h5.2l-2.6-4.4zM514.1,1328.2h5.2l-2.6-4.4zM478.1,1343.8h5.2l-2.6-4.4zM445.8,1332.5h5.2l-2.6-4.4zM482.7,1327.4h5.2l-2.6-4.4zM460.2,1332.4h5.2l-2.6-4.4zM472.4,1317.7h5.2l-2.6-4.4zM521.5,1311.9h5.2l-2.6-4.4zM505.1,1333.7h5.2l-2.6-4.4zM521.0,1292.1h5.2l-2.6-4.4zM510.1,1318.4h5.2l-2.6-4.4zM519.2,1313.6h5.2l-2.6-4.4zM524.6,1312.4h5.2l-2.6-4.4zM495.2,1288.0h5.2l-2.6-4.4zM501.3,1301.0h5.2l-2.6-4.4zM489.7,1299.7h5.2l-2.6-4.4zM521.8,1307.7h5.2l-2.6-4.4zM517.4,1307.7h5.2l-2.6-4.4zM500.4,1304.5h5.2l-2.6-4.4zM508.6,1320.7h5.2l-2.6-4.4zM506.8,1299.2h5.2l-2.6-4.4zM516.3,1330.7h5.2l-2.6-4.4zM486.9,1313.4h5.2l-2.6-4.4zM477.7,1312.1h5.2l-2.6-4.4zM503.5,1323.5h5.2l-2.6-4.4zM511.3,1309.3h5.2l-2.6-4.4zM468.0,1344.9h5.2l-2.6-4.4zM503.4,1320.2h5.2l-2.6-4.4zM525.0,1305.6h5.2l-2.6-4.4zM475.6,1363.8h5.2l-2.6-4.4zM482.3,1312.9h5.2l-2.6-4.4zM536.5,1332.2h5.2l-2.6-4.4zM520.4,1323.8h5.2l-2.6-4.4zM490.4,1349.7h5.2l-2.6-4.4zM499.4,1310.0h5.2l-2.6-4.4zM520.3,1321.7h5.2l-2.6-4.4zM496.4,1315.6h5.2l-2.6-4.4zM530.2,1330.0h5.2l-2.6-4.4zM503.7,1304.0h5.2l-2.6-4.4zM497.5,1320.6h5.2l-2.6-4.4zM502.0,1326.8h5.2l-2.6-4.4zM468.3,1310.7h5.2l-2.6-4.4zM492.8,1297.3h5.2l-2.6-4.4zM538.1,1327.4h5.2l-2.6-4.4zM444.8,1316.1h5.2l-2.6-4.4zM462.0,1282.7h5.2l-2.6-4.4zM475.0,1337.4h5.2l-2.6-4.4zM511.6,1324.0h5.2l-2.6-4.4zM491.4,1297.3h5.2l-2.6-4.4zM560.4,1295.1h5.2l-2.6-4.4zM471.3,1321.6h5.2l-2.6-4.4zM514.2,1318.5h5.2l-2.6-4.4zM538.2,1311.3h5.2l-2.6-4.4zM465.3,1350.4h5.2l-2.6-4.4zM523.0,1287.3h5.2l-2.6-4.4zM482.2,1341.2h5.2l-2.6-4.4zM552.2,1307.6h5.2l-2.6-4.4zM510.7,1297.0h5.2l-2.6-4.4zM506.9,1319.9h5.2l-2.6-4.4zM442.6,1317.0h5.2l-2.6-4.4zM490.1,1294.9h5.2l-2.6-4.4zM520.4,1338.2h5.2l-2.6-4.4zM546.2,1312.4h5.2l-2.6-4.4zM545.0,1294.6h5.2l-2.6-4.4zM502.7,1335.5h5.2l-2.6-4.4zM520.6,1310.3h5.2l-2.6-4.4zM481.4,1326.6h5.2l-2.6-4.4zM518.8,1318.2h5.2l-2.6-4.4zM500.2,1313.4h5.2l-2.6-4.4zM501.9,1349.2h5.2l-2.6-4.4zM502.3,1305.6h5.2l-2.6-4.4zM531.3,1328.2h5.2l-2.6-4.4zM521.6,1266.6h5.2l-2.6-4.4zM505.3,1332.9h5.2l-2.6-4.4zM471.2,1321.0h5.2l-2.6-4.4zM481.8,1337.2h5.2l-2.6-4.4zM517.2,1306.9h5.2l-2.6-4.4zM525.2,1303.3h5.2l-2.6-4.4zM473.7,1339.7h5.2l-2.6-4.4zM534.6,1306.1h5.2l-2.6-4.4zM509.5,1338.6h5.2l-2.6-4.4zM476.7,1303.0h5.2l-2.6-4.4zM462.3,1312.6h5.2l-2.6-4.4zM514.4,1317.9h5.2l-2.6-4.4zM491.1,1321.2h5.2l-2.6-4.4zM524.4,1283.2h5.2l-2.6-4.4zM506.3,1332.5h5.2l-2.6-4.4zM536.5,1297.8h5.2l-2.6-4.4zM497.9,1330.5h5.2l-2.6-4.4zM464.7,1335.3h5.2l-2.6-4.4zM513.9,1314.5h5.2l-2.6-4.4zM555.1,1305.9h5.2l-2.6-4.4zM494.9,1309.0h5.2l-2.6-4.4zM541.4,1307.2h5.2l-2.6-4.4zM502.4,1301.7h5.2l-2.6-4.4zM487.2,1312.2h5.2l-2.6-4.4zM526.3,1312.4h5.2l-2.6-4.4zM559.6,1328.5h5.2l-2.6-4.4zM549.2,1326.8h5.2l-2.6-4.4zM517.1,1337.5h5.2l-2.6-4.4zM467.2,1342.2h5.2l-2.6-4.4zM539.3,1318.5h5.2l-2.6-4.4zM460.1,1337.5h5.2l-2.6-4.4zM521.8,1332.3h5.2l-2.6-4.4zM540.3,1310.6h5.2l-2.6-4.4zM494.2,1315.6h5.2l-2.6-4.4zM535.6,1308.9h5.2l-2.6-4.4zM536.8,1319.4h5.2l-2.6-4.4zM511.1,1327.0h5.2l-2.6-4.4zM469.2,1293.9h5.2l-2.6-4.4zM485.5,1346.5h5.2l-2.6-4.4zM490.7,1301.4h5.2l-2.6-4.4zM492.1,1314.2h5.2l-2.6-4.4zM511.9,1310.9h5.2l-2.6-4.4zM525.7,1307.8h5.2l-2.6-4.4zM526.0,1330.1h5.2l-2.6-4.4zM474.5,1310.5h5.2l-2.6-4.4zM521.5,1322.4h5.2l-2.6-4.4zM571.5,1328.2h5.2l-2.6-4.4zM496.4,1317.4h5.2l-2.6-4.4zM476.0,1356.6h5.2l-2.6-4.4zM486.0,1314.1h5.2l-2.6-4.4zM503.6,1312.6h5.2l-2.6-4.4zM490.5,1333.7h5.2l-2.6-4.4zM528.6,1321.9h5.2l-2.6-4.4zM531.0,1298.8h5.2l-2.6-4.4zM555.9,1286.5h5.2l-2.6-4.4zM574.3,1262.3h5.2l-2.6-4.4zM550.8,1062.4h5.2l-2.6-4.4zM521.8,1263.5h5.2l-2.6-4.4zM558.3,1214.5h5.2l-2.6-4.4zM530.5,1272.8h5.2l-2.6-4.4zM527.4,1259.8h5.2l-2.6-4.4zM555.0,1216.9h5.2l-2.6-4.4zM556.9,1250.1h5.2l-2.6-4.4zM531.7,1204.8h5.2l-2.6-4.4zM534.3,1137.7h5.2l-2.6-4.4zM555.8,1288.9h5.2l-2.6-4.4zM548.3,1259.9h5.2l-2.6-4.4zM514.6,1109.5h5.2l-2.6-4.4zM590.1,1237.8h5.2l-2.6-4.4zM525.2,1173.5h5.2l-2.6-4.4zM552.6,1288.0h5.2l-2.6-4.4zM560.5,1155.1h5.2l-2.6-4.4zM565.3,1246.9h5.2l-2.6-4.4zM524.3,1170.6h5.2l-2.6-4.4zM513.6,1297.3h5.2l-2.6-4.4zM546.7,1265.7h5.2l-2.6-4.4zM556.2,1017.4h5.2l-2.6-4.4zM507.4,1217.6h5.2l-2.6-4.4zM589.2,1246.1h5.2l-2.6-4.4zM529.7,1273.2h5.2l-2.6-4.4zM518.8,1195.2h5.2l-2.6-4.4zM544.5,1270.1h5.2l-2.6-4.4zM550.2,1284.8h5.2l-2.6-4.4zM545.5,1198.1h5.2l-2.6-4.4zM522.1,1181.3h5.2l-2.6-4.4zM546.9,1215.7h5.2l-2.6-4.4zM521.0,1134.1h5.2l-2.6-4.4zM543.6,1271.9h5.2l-2.6-4.4zM527.5,1140.5h5.2l-2.6-4.4zM532.4,1282.4h5.2l-2.6-4.4zM519.5,1225.7h5.2l-2.6-4.4zM552.1,1226.8h5.2l-2.6-4.4zM556.1,1211.8h5.2l-2.6-4.4zM493.9,1152.2h5.2l-2.6-4.4zM561.8,1269.9h5.2l-2.6-4.4zM557.7,1292.0h5.2l-2.6-4.4zM576.2,1265.4h5.2l-2.6-4.4zM550.3,1086.1h5.2l-2.6-4.4zM568.0,1183.9h5.2l-2.6-4.4zM569.8,1276.5h5.2l-2.6-4.4zM548.1,1220.9h5.2l-2.6-4.4zM529.5,1236.9h5.2l-2.6-4.4zM559.9,1229.5h5.2l-2.6-4.4zM551.3,1244.8h5.2l-2.6-4.4zM529.7,1279.9h5.2l-2.6-4.4zM560.4,1176.5h5.2l-2.6-4.4zM544.0,1234.9h5.2l-2.6-4.4zM517.4,1239.7h5.2l-2.6-4.4zM564.7,1261.6h5.2l-2.6-4.4zM539.7,1247.1h5.2l-2.6-4.4zM558.7,1274.1h5.2l-2.6-4.4zM567.9,1191.0h5.2l-2.6-4.4zM579.7,1272.5h5.2l-2.6-4.4zM527.9,1280.6h5.2l-2.6-4.4zM547.0,1259.8h5.2l-2.6-4.4zM550.0,1159.7h5.2l-2.6-4.4zM546.4,1006.4h5.2l-2.6-4.4zM553.7,1232.7h5.2l-2.6-4.4zM503.9,1171.3h5.2l-2.6-4.4zM538.5,1244.0h5.2l-2.6-4.4zM544.1,1254.3h5.2l-2.6-4.4zM531.7,1284.8h5.2l-2.6-4.4zM566.6,1274.7h5.2l-2.6-4.4zM495.4,1295.6h5.2l-2.6-4.4zM509.4,1054.9h5.2l-2.6-4.4zM508.8,1216.8h5.2l-2.6-4.4zM530.6,1266.3h5.2l-2.6-4.4zM572.5,1256.3h5.2l-2.6-4.4zM561.5,1193.3h5.2l-2.6-4.4zM541.5,1246.6h5.2l-2.6-4.4zM523.8,1287.8h5.2l-2.6-4.4zM557.8,1157.9h5.2l-2.6-4.4zM518.6,1289.2h5.2l-2.6-4.4zM518.5,1270.0h5.2l-2.6-4.4zM549.6,1184.6h5.2l-2.6-4.4zM587.5,1240.9h5.2l-2.6-4.4zM535.6,1282.5h5.2l-2.6-4.4zM525.9,1292.2h5.2l-2.6-4.4zM558.7,1237.9h5.2l-2.6-4.4zM557.7,1268.7h5.2l-2.6-4.4zM552.7,1258.9h5.2l-2.6-4.4zM563.3,1236.0h5.2l-2.6-4.4zM513.0,1259.6h5.2l-2.6-4.4zM552.0,1258.2h5.2l-2.6-4.4zM534.4,1263.6h5.2l-2.6-4.4zM578.4,1241.5h5.2l-2.6-4.4zM545.0,1205.7h5.2l-2.6-4.4zM595.2,1248.0h5.2l-2.6-4.4zM546.0,1267.3h5.2l-2.6-4.4zM550.5,1164.8h5.2l-2.6-4.4zM551.9,1181.2h5.2l-2.6-4.4zM567.6,1285.8h5.2l-2.6-4.4zM508.2,1274.7h5.2l-2.6-4.4zM520.9,1129.4h5.2l-2.6-4.4zM545.5,1276.3h5.2l-2.6-4.4zM533.8,1279.3h5.2l-2.6-4.4zM581.1,1237.6h5.2l-2.6-4.4zM558.2,1265.8h5.2l-2.6-4.4zM576.7,1137.2h5.2l-2.6-4.4zM538.0,1122.5h5.2l-2.6-4.4zM536.7,1250.7h5.2l-2.6-4.4zM537.4,1218.2h5.2l-2.6-4.4zM536.2,1164.8h5.2l-2.6-4.4zM543.4,1281.6h5.2l-2.6-4.4zM569.8,1268.3h5.2l-2.6-4.4zM553.5,1268.1h5.2l-2.6-4.4zM590.6,1190.7h5.2l-2.6-4.4zM534.6,1084.3h5.2l-2.6-4.4zM528.6,1093.1h5.2l-2.6-4.4zM564.7,1288.6h5.2l-2.6-4.4zM533.3,1231.1h5.2l-2.6-4.4zM543.2,1210.9h5.2l-2.6-4.4zM543.5,1059.6h5.2l-2.6-4.4zM563.0,1245.9h5.2l-2.6-4.4zM533.8,1254.6h5.2l-2.6-4.4zM529.5,1099.6h5.2l-2.6-4.4zM537.1,1286.1h5.2l-2.6-4.4zM510.3,1281.8h5.2l-2.6-4.4zM541.3,1252.7h5.2l-2.6-4.4zM531.9,1242.5h5.2l-2.6-4.4zM548.1,1222.8h5.2l-2.6-4.4zM558.7,1187.6h5.2l-2.6-4.4zM552.0,1201.6h5.2l-2.6-4.4zM546.7,1284.4h5.2l-2.6-4.4zM520.2,1199.6h5.2l-2.6-4.4zM494.1,1146.7h5.2l-2.6-4.4zM461.8,1145.7h5.2l-2.6-4.4zM605.9,1050.3h5.2l-2.6-4.4zM405.6,1270.2h5.2l-2.6-4.4zM409.3,1164.4h5.2l-2.6-4.4zM566.4,1183.7h5.2l-2.6-4.4zM500.9,1193.5h5.2l-2.6-4.4zM490.6,1203.6h5.2l-2.6-4.4zM483.5,1214.3h5.2l-2.6-4.4zM552.8,1187.8h5.2l-2.6-4.4zM612.8,1058.1h5.2l-2.6-4.4zM460.7,1181.5h5.2l-2.6-4.4zM644.3,1114.1h5.2l-2.6-4.4zM535.8,1195.3h5.2l-2.6-4.4zM619.2,1022.2h5.2l-2.6-4.4zM677.0,1107.1h5.2l-2.6-4.4zM551.5,1144.0h5.2l-2.6-4.4zM498.5,1107.3h5.2l-2.6-4.4zM713.5,1054.9h5.2l-2.6-4.4zM479.0,1153.6h5.2l-2.6-4.4zM584.1,1092.4h5.2l-2.6-4.4zM712.3,959.9h5.2l-2.6-4.4zM680.0,1106.5h5.2l-2.6-4.4zM596.7,1083.9h5.2l-2.6-4.4zM460.3,1129.1h5.2l-2.6-4.4zM495.3,1128.3h5.2l-2.6-4.4zM402.7,1270.4h5.2l-2.6-4.4zM403.1,1270.2h5.2l-2.6-4.4zM424.2,1259.4h5.2l-2.6-4.4zM657.8,1007.1h5.2l-2.6-4.4zM684.4,1009.1h5.2l-2.6-4.4zM677.9,1110.9h5.2l-2.6-4.4zM536.1,1201.5h5.2l-2.6-4.4zM462.1,1230.7h5.2l-2.6-4.4zM564.1,1069.8h5.2l-2.6-4.4zM525.0,1134.3h5.2l-2.6-4.4zM634.8,1120.9h5.2l-2.6-4.4zM412.8,1255.9h5.2l-2.6-4.4zM469.6,1192.2h5.2l-2.6-4.4zM511.2,1148.4h5.2l-2.6-4.4zM617.8,1151.0h5.2l-2.6-4.4zM707.0,1063.3h5.2l-2.6-4.4zM473.5,1235.6h5.2l-2.6-4.4zM570.4,1177.3h5.2l-2.6-4.4zM668.5,1113.5h5.2l-2.6-4.4zM459.1,1209.1h5.2l-2.6-4.4zM425.3,1165.1h5.2l-2.6-4.4zM705.5,1103.7h5.2l-2.6-4.4zM484.6,1137.7h5.2l-2.6-4.4zM673.8,1065.1h5.2l-2.6-4.4zM641.1,1099.4h5.2l-2.6-4.4zM616.4,1087.5h5.2l-2.6-4.4zM665.3,991.9h5.2l-2.6-4.4zM584.2,1168.5h5.2l-2.6-4.4zM674.8,985.0h5.2l-2.6-4.4zM590.8,1049.9h5.2l-2.6-4.4zM668.1,1032.2h5.2l-2.6-4.4zM682.8,1047.8h5.2l-2.6-4.4zM436.5,1249.3h5.2l-2.6-4.4zM710.0,1024.8h5.2l-2.6-4.4zM459.1,1228.9h5.2l-2.6-4.4zM712.3,1096.0h5.2l-2.6-4.4zM608.2,1069.2h5.2l-2.6-4.4zM502.2,1221.1h5.2l-2.6-4.4zM536.1,1130.0h5.2l-2.6-4.4zM713.6,1030.2h5.2l-2.6-4.4zM423.4,1251.6h5.2l-2.6-4.4zM580.7,1158.8h5.2l-2.6-4.4zM445.2,1243.2h5.2l-2.6-4.4zM678.4,1089.8h5.2l-2.6-4.4zM704.0,968.6h5.2l-2.6-4.4zM521.0,1139.1h5.2l-2.6-4.4zM472.9,1217.2h5.2l-2.6-4.4zM477.3,1188.6h5.2l-2.6-4.4zM434.0,1174.6h5.2l-2.6-4.4zM648.8,1132.2h5.2l-2.6-4.4zM497.6,1205.7h5.2l-2.6-4.4zM737.3,957.8h5.2l-2.6-4.4zM474.8,1174.9h5.2l-2.6-4.4zM667.9,1071.0h5.2l-2.6-4.4zM498.3,1126.0h5.2l-2.6-4.4zM402.5,1176.4h5.2l-2.6-4.4zM668.6,1054.3h5.2l-2.6-4.4zM495.4,1220.9h5.2l-2.6-4.4zM537.5,1152.1h5.2l-2.6-4.4zM603.7,1152.8h5.2l-2.6-4.4zM531.3,1196.5h5.2l-2.6-4.4zM406.1,1230.0h5.2l-2.6-4.4zM570.9,1118.0h5.2l-2.6-4.4zM553.6,1119.9h5.2l-2.6-4.4zM736.8,1048.0h5.2l-2.6-4.4zM607.7,1108.2h5.2l-2.6-4.4zM572.5,1182.8h5.2l-2.6-4.4zM427.6,1209.3h5.2l-2.6-4.4zM609.0,1128.3h5.2l-2.6-4.4zM521.5,1206.1h5.2l-2.6-4.4zM641.3,1067.9h5.2l-2.6-4.4zM440.4,1245.3h5.2l-2.6-4.4zM485.3,1209.7h5.2l-2.6-4.4zM600.0,1068.2h5.2l-2.6-4.4zM601.2,1068.7h5.2l-2.6-4.4zM508.6,1185.8h5.2l-2.6-4.4zM638.3,1035.6h5.2l-2.6-4.4zM726.6,1000.1h5.2l-2.6-4.4zM460.9,1187.7h5.2l-2.6-4.4zM427.5,1250.5h5.2l-2.6-4.4zM554.7,1125.5h5.2l-2.6-4.4zM472.7,1201.0h5.2l-2.6-4.4zM504.8,1214.8h5.2l-2.6-4.4zM717.8,985.1h5.2l-2.6-4.4zM680.0,1112.7h5.2l-2.6-4.4zM695.2,980.3h5.2l-2.6-4.4zM422.3,1248.1h5.2l-2.6-4.4zM502.6,1208.4h5.2l-2.6-4.4zM599.0,1080.1h5.2l-2.6-4.4zM608.6,1044.6h5.2l-2.6-4.4zM614.9,1069.8h5.2l-2.6-4.4zM558.9,1104.0h5.2l-2.6-4.4zM448.4,1210.8h5.2l-2.6-4.4zM488.3,1198.3h5.2l-2.6-4.4zM534.0,1201.0h5.2l-2.6-4.4zM582.7,1161.6h5.2l-2.6-4.4zM584.5,1120.3h5.2l-2.6-4.4zM556.6,1083.0h5.2l-2.6-4.4zM588.7,1096.1h5.2l-2.6-4.4zM734.4,1043.0h5.2l-2.6-4.4zM708.2,1063.5h5.2l-2.6-4.4zM404.1,1260.0h5.2l-2.6-4.4zM486.7,1164.0h5.2l-2.6-4.4zM459.1,1180.9h5.2l-2.6-4.4zM510.1,1149.3h5.2l-2.6-4.4zM723.9,1013.1h5.2l-2.6-4.4zM648.3,1073.1h5.2l-2.6-4.4zM603.5,1116.6h5.2l-2.6-4.4zM669.1,1086.6h5.2l-2.6-4.4zM542.8,1104.0h5.2l-2.6-4.4zM666.1,1129.9h5.2l-2.6-4.4zM510.9,1191.5h5.2l-2.6-4.4zM494.4,1219.2h5.2l-2.6-4.4zM567.5,1141.1h5.2l-2.6-4.4zM622.1,1117.6h5.2l-2.6-4.4zM680.5,1026.0h5.2l-2.6-4.4zM733.3,1091.4h5.2l-2.6-4.4zM694.0,973.2h5.2l-2.6-4.4zM582.0,1123.5h5.2l-2.6-4.4zM724.0,1067.2h5.2l-2.6-4.4zM692.7,1064.9h5.2l-2.6-4.4zM704.4,1011.0h5.2l-2.6-4.4zM567.5,1175.8h5.2l-2.6-4.4z"/>
<line x1="132.9" y1="845.0" x2="132.9" y2="1404.5" stroke="#000" stroke-width="2.4" />
<line x1="122.9" y1="1395.5" x2="805.0" y2="1395.5" stroke="#000" stroke-width="2.4" />
<line x1="122.9" y1="1395.5" x2="132.9" y2="1395.5" stroke="#000" stroke-width="2.4" />
<text x="118.4" y="1403.5" font-size="33" text-anchor="end" font-weight="normal" fill="#000" >0</text>
<line x1="122.9" y1="1257.9" x2="132.9" y2="1257.9" stroke="#000" stroke-width="2.4" />
<text x="118.4" y="1265.9" font-size="33" text-anchor="end" font-weight="normal" fill="#000" >100</text>
<line x1="122.9" y1="1120.2" x2="132.9" y2="1120.2" stroke="#000" stroke-width="2.4" />
<text x="118.4" y="1128.2" font-size="33" text-anchor="end" font-weight="normal" fill="#000" >200</text>
<line x1="122.9" y1="982.6" x2="132.9" y2="982.6" stroke="#000" stroke-width="2.4" />
<text x="118.4" y="990.6" font-size="33" text-anchor="end" font-weight="normal" fill="#000" >300</text>
<line x1="122.9" y1="845.0" x2="132.9" y2="845.0" stroke="#000" stroke-width="2.4" />
<text x="118.4" y="853.0" font-size="33" text-anchor="end" font-weight="normal" fill="#000" >400</text>
<line x1="127.9" y1="1326.7" x2="132.9" y2="1326.7" stroke="#000" stroke-width="2.4" />
<line x1="127.9" y1="1189.1" x2="132.9" y2="1189.1" stroke="#000" stroke-width="2.4" />
<line x1="127.9" y1="1051.4" x2="132.9" y2="1051.4" stroke="#000" stroke-width="2.4" />
<line x1="127.9" y1="913.8" x2="132.9" y2="913.8" stroke="#000" stroke-width="2.4" />
<line x1="132.9" y1="1395.5" x2="132.9" y2="1404.5" stroke="#000" stroke-width="2.4" />
<text x="130.9" y="1439.0" font-size="32" text-anchor="middle" font-weight="normal" fill="#000" >10<tspan font-size="21" dy="-13">1</tspan></text>
<line x1="171.1" y1="1395.5" x2="171.1" y2="1400.5" stroke="#000" stroke-width="1.8" />
<line x1="193.4" y1="1395.5" x2="193.4" y2="1400.5" stroke="#000" stroke-width="1.8" />
<line x1="209.2" y1="1395.5" x2="209.2" y2="1400.5" stroke="#000" stroke-width="1.8" />
<line x1="221.5" y1="1395.5" x2="221.5" y2="1400.5" stroke="#000" stroke-width="1.8" />
<line x1="231.6" y1="1395.5" x2="231.6" y2="1400.5" stroke="#000" stroke-width="1.8" />
<line x1="240.1" y1="1395.5" x2="240.1" y2="1400.5" stroke="#000" stroke-width="1.8" />
<line x1="247.4" y1="1395.5" x2="247.4" y2="1400.5" stroke="#000" stroke-width="1.8" />
<line x1="253.9" y1="1395.5" x2="253.9" y2="1400.5" stroke="#000" stroke-width="1.8" />
<line x1="259.7" y1="1395.5" x2="259.7" y2="1404.5" stroke="#000" stroke-width="2.4" />
<text x="257.7" y="1439.0" font-size="32" text-anchor="middle" font-weight="normal" fill="#000" >10<tspan font-size="21" dy="-13">2</tspan></text>
<line x1="297.9" y1="1395.5" x2="297.9" y2="1400.5" stroke="#000" stroke-width="1.8" />
<line x1="320.2" y1="1395.5" x2="320.2" y2="1400.5" stroke="#000" stroke-width="1.8" />
<line x1="336.0" y1="1395.5" x2="336.0" y2="1400.5" stroke="#000" stroke-width="1.8" />
<line x1="348.3" y1="1395.5" x2="348.3" y2="1400.5" stroke="#000" stroke-width="1.8" />
<line x1="358.4" y1="1395.5" x2="358.4" y2="1400.5" stroke="#000" stroke-width="1.8" />
<line x1="366.9" y1="1395.5" x2="366.9" y2="1400.5" stroke="#000" stroke-width="1.8" />
<line x1="374.2" y1="1395.5" x2="374.2" y2="1400.5" stroke="#000" stroke-width="1.8" />
<line x1="380.7" y1="1395.5" x2="380.7" y2="1400.5" stroke="#000" stroke-width="1.8" />
<line x1="386.5" y1="1395.5" x2="386.5" y2="1404.5" stroke="#000" stroke-width="2.4" />
<text x="384.5" y="1439.0" font-size="32" text-anchor="middle" font-weight="normal" fill="#000" >10<tspan font-size="21" dy="-13">3</tspan></text>
<line x1="424.7" y1="1395.5" x2="424.7" y2="1400.5" stroke="#000" stroke-width="1.8" />
<line x1="447.0" y1="1395.5" x2="447.0" y2="1400.5" stroke="#000" stroke-width="1.8" />
<line x1="462.8" y1="1395.5" x2="462.8" y2="1400.5" stroke="#000" stroke-width="1.8" />
<line x1="475.1" y1="1395.5" x2="475.1" y2="1400.5" stroke="#000" stroke-width="1.8" />
<line x1="485.2" y1="1395.5" x2="485.2" y2="1400.5" stroke="#000" stroke-width="1.8" />
<line x1="493.7" y1="1395.5" x2="493.7" y2="1400.5" stroke="#000" stroke-width="1.8" />
<line x1="501.0" y1="1395.5" x2="501.0" y2="1400.5" stroke="#000" stroke-width="1.8" />
<line x1="507.5" y1="1395.5" x2="507.5" y2="1400.5" stroke="#000" stroke-width="1.8" />
<line x1="513.3" y1="1395.5" x2="513.3" y2="1404.5" stroke="#000" stroke-width="2.4" />
<text x="511.3" y="1439.0" font-size="32" text-anchor="middle" font-weight="normal" fill="#000" >10<tspan font-size="21" dy="-13">4</tspan></text>
<line x1="551.5" y1="1395.5" x2="551.5" y2="1400.5" stroke="#000" stroke-width="1.8" />
<line x1="573.8" y1="1395.5" x2="573.8" y2="1400.5" stroke="#000" stroke-width="1.8" />
<line x1="589.6" y1="1395.5" x2="589.6" y2="1400.5" stroke="#000" stroke-width="1.8" />
<line x1="601.9" y1="1395.5" x2="601.9" y2="1400.5" stroke="#000" stroke-width="1.8" />
<line x1="612.0" y1="1395.5" x2="612.0" y2="1400.5" stroke="#000" stroke-width="1.8" />
<line x1="620.5" y1="1395.5" x2="620.5" y2="1400.5" stroke="#000" stroke-width="1.8" />
<line x1="627.8" y1="1395.5" x2="627.8" y2="1400.5" stroke="#000" stroke-width="1.8" />
<line x1="634.3" y1="1395.5" x2="634.3" y2="1400.5" stroke="#000" stroke-width="1.8" />
<line x1="640.1" y1="1395.5" x2="640.1" y2="1404.5" stroke="#000" stroke-width="2.4" />
<text x="638.1" y="1439.0" font-size="32" text-anchor="middle" font-weight="normal" fill="#000" >10<tspan font-size="21" dy="-13">5</tspan></text>
<line x1="678.3" y1="1395.5" x2="678.3" y2="1400.5" stroke="#000" stroke-width="1.8" />
<line x1="700.6" y1="1395.5" x2="700.6" y2="1400.5" stroke="#000" stroke-width="1.8" />
<line x1="716.4" y1="1395.5" x2="716.4" y2="1400.5" stroke="#000" stroke-width="1.8" />
<line x1="728.7" y1="1395.5" x2="728.7" y2="1400.5" stroke="#000" stroke-width="1.8" />
<line x1="738.8" y1="1395.5" x2="738.8" y2="1400.5" stroke="#000" stroke-width="1.8" />
<line x1="747.3" y1="1395.5" x2="747.3" y2="1400.5" stroke="#000" stroke-width="1.8" />
<line x1="754.6" y1="1395.5" x2="754.6" y2="1400.5" stroke="#000" stroke-width="1.8" />
<line x1="761.1" y1="1395.5" x2="761.1" y2="1400.5" stroke="#000" stroke-width="1.8" />
<line x1="766.9" y1="1395.5" x2="766.9" y2="1404.5" stroke="#000" stroke-width="2.4" />
<text x="764.9" y="1439.0" font-size="32" text-anchor="middle" font-weight="normal" fill="#000" >10<tspan font-size="21" dy="-13">6</tspan></text>
<text x="411.5" y="1481.0" font-size="32" text-anchor="start" font-weight="normal" fill="#000" >LR (pN/s)</text>
<text transform="translate(51.5,1106) rotate(-90)" font-size="33" text-anchor="middle">Force (pN)</text>
<path d="M132.9,1386.5 L789.3,1258.2" fill="none" stroke="#000" stroke-width="2.4" />
<path d="M132.9,1379.5 L365,1293 L530,1206 L780,1065.4" fill="none" stroke="#000" stroke-width="2.4" stroke-dasharray="8.5,5"/>
<path d="M132.9,1382 L365,1317 L530,1254.2 L789.3,1158" fill="none" stroke="#000" stroke-width="2.4" stroke-dasharray="8.5,5"/>
<text x="795.0" y="1268.0" font-size="34" text-anchor="start" font-weight="normal" fill="#000" >I</text>
<text x="784.0" y="1160.0" font-size="34" text-anchor="start" font-weight="normal" fill="#000" >II</text>
<line x1="312.4" y1="1322.6" x2="312.4" y2="1362.8" stroke="#111" stroke-width="1.5" />
<line x1="306.4" y1="1322.6" x2="318.4" y2="1322.6" stroke="#111" stroke-width="1.7" />
<line x1="306.4" y1="1362.8" x2="318.4" y2="1362.8" stroke="#111" stroke-width="1.7" />
<line x1="293.7" y1="1342.7" x2="331.0" y2="1342.7" stroke="#666" stroke-width="1.7" />
<line x1="293.7" y1="1336.7" x2="293.7" y2="1348.7" stroke="#666" stroke-width="1.7" />
<line x1="331.0" y1="1336.7" x2="331.0" y2="1348.7" stroke="#666" stroke-width="1.7" />
<rect x="309.3" y="1339.6" width="6.2" height="6.2" fill="#000"/>
<line x1="366.1" y1="1321.6" x2="366.1" y2="1356.7" stroke="#111" stroke-width="1.5" />
<line x1="360.1" y1="1321.6" x2="372.1" y2="1321.6" stroke="#111" stroke-width="1.7" />
<line x1="360.1" y1="1356.7" x2="372.1" y2="1356.7" stroke="#111" stroke-width="1.7" />
<line x1="348.8" y1="1339.4" x2="380.2" y2="1339.4" stroke="#666" stroke-width="1.7" />
<line x1="348.8" y1="1333.4" x2="348.8" y2="1345.4" stroke="#666" stroke-width="1.7" />
<line x1="380.2" y1="1333.4" x2="380.2" y2="1345.4" stroke="#666" stroke-width="1.7" />
<rect x="363.0" y="1336.3" width="6.2" height="6.2" fill="#000"/>
<line x1="366.1" y1="1288.0" x2="366.1" y2="1314.6" stroke="#111" stroke-width="1.5" />
<line x1="360.1" y1="1288.0" x2="372.1" y2="1288.0" stroke="#111" stroke-width="1.7" />
<line x1="360.1" y1="1314.6" x2="372.1" y2="1314.6" stroke="#111" stroke-width="1.7" />
<line x1="348.8" y1="1300.6" x2="380.2" y2="1300.6" stroke="#666" stroke-width="1.7" />
<line x1="348.8" y1="1294.6" x2="348.8" y2="1306.6" stroke="#666" stroke-width="1.7" />
<line x1="380.2" y1="1294.6" x2="380.2" y2="1306.6" stroke="#666" stroke-width="1.7" />
<rect x="363.0" y="1297.5" width="6.2" height="6.2" fill="#000"/>
<line x1="426.9" y1="1176.0" x2="426.9" y2="1269.5" stroke="#111" stroke-width="1.5" />
<line x1="420.9" y1="1176.0" x2="432.9" y2="1176.0" stroke="#111" stroke-width="1.7" />
<line x1="420.9" y1="1269.5" x2="432.9" y2="1269.5" stroke="#111" stroke-width="1.7" />
<line x1="403.8" y1="1223.0" x2="443.1" y2="1223.0" stroke="#666" stroke-width="1.7" />
<line x1="403.8" y1="1217.0" x2="403.8" y2="1229.0" stroke="#666" stroke-width="1.7" />
<line x1="443.1" y1="1217.0" x2="443.1" y2="1229.0" stroke="#666" stroke-width="1.7" />
<rect x="423.8" y="1219.9" width="6.2" height="6.2" fill="#000"/>
<line x1="426.9" y1="1236.5" x2="426.9" y2="1319.3" stroke="#111" stroke-width="1.5" />
<line x1="420.9" y1="1236.5" x2="432.9" y2="1236.5" stroke="#111" stroke-width="1.7" />
<line x1="420.9" y1="1319.3" x2="432.9" y2="1319.3" stroke="#111" stroke-width="1.7" />
<line x1="403.8" y1="1282.0" x2="443.1" y2="1282.0" stroke="#666" stroke-width="1.7" />
<line x1="403.8" y1="1276.0" x2="403.8" y2="1288.0" stroke="#666" stroke-width="1.7" />
<line x1="443.1" y1="1276.0" x2="443.1" y2="1288.0" stroke="#666" stroke-width="1.7" />
<rect x="423.8" y="1278.9" width="6.2" height="6.2" fill="#000"/>
<line x1="426.9" y1="1319.3" x2="426.9" y2="1355.0" stroke="#111" stroke-width="1.5" />
<line x1="420.9" y1="1319.3" x2="432.9" y2="1319.3" stroke="#111" stroke-width="1.7" />
<line x1="420.9" y1="1355.0" x2="432.9" y2="1355.0" stroke="#111" stroke-width="1.7" />
<line x1="403.8" y1="1336.6" x2="443.1" y2="1336.6" stroke="#666" stroke-width="1.7" />
<line x1="403.8" y1="1330.6" x2="403.8" y2="1342.6" stroke="#666" stroke-width="1.7" />
<line x1="443.1" y1="1330.6" x2="443.1" y2="1342.6" stroke="#666" stroke-width="1.7" />
<rect x="423.8" y="1333.5" width="6.2" height="6.2" fill="#000"/>
<line x1="490.8" y1="1229.5" x2="490.8" y2="1279.7" stroke="#111" stroke-width="1.5" />
<line x1="484.8" y1="1229.5" x2="496.8" y2="1229.5" stroke="#111" stroke-width="1.7" />
<line x1="484.8" y1="1279.7" x2="496.8" y2="1279.7" stroke="#111" stroke-width="1.7" />
<line x1="472.0" y1="1254.7" x2="504.3" y2="1254.7" stroke="#666" stroke-width="1.7" />
<line x1="472.0" y1="1248.7" x2="472.0" y2="1260.7" stroke="#666" stroke-width="1.7" />
<line x1="504.3" y1="1248.7" x2="504.3" y2="1260.7" stroke="#666" stroke-width="1.7" />
<rect x="487.7" y="1251.6" width="6.2" height="6.2" fill="#000"/>
<line x1="490.8" y1="1303.0" x2="490.8" y2="1347.3" stroke="#111" stroke-width="1.5" />
<line x1="484.8" y1="1303.0" x2="496.8" y2="1303.0" stroke="#111" stroke-width="1.7" />
<line x1="484.8" y1="1347.3" x2="496.8" y2="1347.3" stroke="#111" stroke-width="1.7" />
<line x1="472.0" y1="1324.6" x2="504.3" y2="1324.6" stroke="#666" stroke-width="1.7" />
<line x1="472.0" y1="1318.6" x2="472.0" y2="1330.6" stroke="#666" stroke-width="1.7" />
<line x1="504.3" y1="1318.6" x2="504.3" y2="1330.6" stroke="#666" stroke-width="1.7" />
<rect x="487.7" y="1321.5" width="6.2" height="6.2" fill="#000"/>
<line x1="546.4" y1="1118.7" x2="546.4" y2="1207.0" stroke="#111" stroke-width="1.5" />
<line x1="540.4" y1="1118.7" x2="552.4" y2="1118.7" stroke="#111" stroke-width="1.7" />
<line x1="540.4" y1="1207.0" x2="552.4" y2="1207.0" stroke="#111" stroke-width="1.7" />
<line x1="522.5" y1="1162.7" x2="563.2" y2="1162.7" stroke="#666" stroke-width="1.7" />
<line x1="522.5" y1="1156.7" x2="522.5" y2="1168.7" stroke="#666" stroke-width="1.7" />
<line x1="563.2" y1="1156.7" x2="563.2" y2="1168.7" stroke="#666" stroke-width="1.7" />
<rect x="543.3" y="1159.6" width="6.2" height="6.2" fill="#000"/>
<line x1="546.4" y1="1195.0" x2="546.4" y2="1253.3" stroke="#111" stroke-width="1.5" />
<line x1="540.4" y1="1195.0" x2="552.4" y2="1195.0" stroke="#111" stroke-width="1.7" />
<line x1="540.4" y1="1253.3" x2="552.4" y2="1253.3" stroke="#111" stroke-width="1.7" />
<line x1="522.5" y1="1223.9" x2="563.2" y2="1223.9" stroke="#666" stroke-width="1.7" />
<line x1="522.5" y1="1217.9" x2="522.5" y2="1229.9" stroke="#666" stroke-width="1.7" />
<line x1="563.2" y1="1217.9" x2="563.2" y2="1229.9" stroke="#666" stroke-width="1.7" />
<rect x="543.3" y="1220.8" width="6.2" height="6.2" fill="#000"/>
<line x1="546.4" y1="1288.4" x2="546.4" y2="1326.8" stroke="#111" stroke-width="1.5" />
<line x1="540.4" y1="1288.4" x2="552.4" y2="1288.4" stroke="#111" stroke-width="1.7" />
<line x1="540.4" y1="1326.8" x2="552.4" y2="1326.8" stroke="#111" stroke-width="1.7" />
<line x1="522.5" y1="1307.8" x2="563.2" y2="1307.8" stroke="#666" stroke-width="1.7" />
<line x1="522.5" y1="1301.8" x2="522.5" y2="1313.8" stroke="#666" stroke-width="1.7" />
<line x1="563.2" y1="1301.8" x2="563.2" y2="1313.8" stroke="#666" stroke-width="1.7" />
<rect x="543.3" y="1304.7" width="6.2" height="6.2" fill="#000"/>
<line x1="616.5" y1="1262.9" x2="616.5" y2="1317.9" stroke="#111" stroke-width="1.5" />
<line x1="610.5" y1="1262.9" x2="622.5" y2="1262.9" stroke="#111" stroke-width="1.7" />
<line x1="610.5" y1="1317.9" x2="622.5" y2="1317.9" stroke="#111" stroke-width="1.7" />
<line x1="595.5" y1="1290.4" x2="631.7" y2="1290.4" stroke="#666" stroke-width="1.7" />
<line x1="595.5" y1="1284.4" x2="595.5" y2="1296.4" stroke="#666" stroke-width="1.7" />
<line x1="631.7" y1="1284.4" x2="631.7" y2="1296.4" stroke="#666" stroke-width="1.7" />
<rect x="613.4" y="1287.3" width="6.2" height="6.2" fill="#000"/>
<line x1="679.4" y1="1114.5" x2="679.4" y2="1221.6" stroke="#111" stroke-width="1.5" />
<line x1="673.4" y1="1114.5" x2="685.4" y2="1114.5" stroke="#111" stroke-width="1.7" />
<line x1="673.4" y1="1221.6" x2="685.4" y2="1221.6" stroke="#111" stroke-width="1.7" />
<line x1="655.8" y1="1167.8" x2="696.2" y2="1167.8" stroke="#666" stroke-width="1.7" />
<line x1="655.8" y1="1161.8" x2="655.8" y2="1173.8" stroke="#666" stroke-width="1.7" />
<line x1="696.2" y1="1161.8" x2="696.2" y2="1173.8" stroke="#666" stroke-width="1.7" />
<rect x="676.3" y="1164.7" width="6.2" height="6.2" fill="#000"/>
<line x1="679.4" y1="1258.1" x2="679.4" y2="1294.6" stroke="#111" stroke-width="1.5" />
<line x1="673.4" y1="1258.1" x2="685.4" y2="1258.1" stroke="#111" stroke-width="1.7" />
<line x1="673.4" y1="1294.6" x2="685.4" y2="1294.6" stroke="#111" stroke-width="1.7" />
<line x1="655.8" y1="1277.2" x2="696.2" y2="1277.2" stroke="#666" stroke-width="1.7" />
<line x1="655.8" y1="1271.2" x2="655.8" y2="1283.2" stroke="#666" stroke-width="1.7" />
<line x1="696.2" y1="1271.2" x2="696.2" y2="1283.2" stroke="#666" stroke-width="1.7" />
<rect x="676.3" y="1274.1" width="6.2" height="6.2" fill="#000"/>
<line x1="732.7" y1="982.6" x2="732.7" y2="1103.2" stroke="#111" stroke-width="1.5" />
<line x1="726.7" y1="982.6" x2="738.7" y2="982.6" stroke="#111" stroke-width="1.7" />
<line x1="726.7" y1="1103.2" x2="738.7" y2="1103.2" stroke="#111" stroke-width="1.7" />
<line x1="711.6" y1="1051.3" x2="747.0" y2="1051.3" stroke="#666" stroke-width="1.7" />
<line x1="711.6" y1="1045.3" x2="711.6" y2="1057.3" stroke="#666" stroke-width="1.7" />
<line x1="747.0" y1="1045.3" x2="747.0" y2="1057.3" stroke="#666" stroke-width="1.7" />
<rect x="729.6" y="1048.2" width="6.2" height="6.2" fill="#000"/>
<line x1="732.7" y1="1120.6" x2="732.7" y2="1216.0" stroke="#111" stroke-width="1.5" />
<line x1="726.7" y1="1120.6" x2="738.7" y2="1120.6" stroke="#111" stroke-width="1.7" />
<line x1="726.7" y1="1216.0" x2="738.7" y2="1216.0" stroke="#111" stroke-width="1.7" />
<line x1="711.6" y1="1159.4" x2="747.0" y2="1159.4" stroke="#666" stroke-width="1.7" />
<line x1="711.6" y1="1153.4" x2="711.6" y2="1165.4" stroke="#666" stroke-width="1.7" />
<line x1="747.0" y1="1153.4" x2="747.0" y2="1165.4" stroke="#666" stroke-width="1.7" />
<rect x="729.6" y="1156.3" width="6.2" height="6.2" fill="#000"/>
<line x1="732.7" y1="1215.5" x2="732.7" y2="1310.0" stroke="#111" stroke-width="1.5" />
<line x1="726.7" y1="1215.5" x2="738.7" y2="1215.5" stroke="#111" stroke-width="1.7" />
<line x1="726.7" y1="1310.0" x2="738.7" y2="1310.0" stroke="#111" stroke-width="1.7" />
<line x1="711.6" y1="1262.9" x2="747.0" y2="1262.9" stroke="#666" stroke-width="1.7" />
<line x1="711.6" y1="1256.9" x2="711.6" y2="1268.9" stroke="#666" stroke-width="1.7" />
<line x1="747.0" y1="1256.9" x2="747.0" y2="1268.9" stroke="#666" stroke-width="1.7" />
<rect x="729.6" y="1259.8" width="6.2" height="6.2" fill="#000"/>
<text x="156.0" y="885.0" font-size="32" text-anchor="start" font-weight="bold" fill="#7aaedb" >T3SA+ ISVP (+Mn<tspan font-size="20" dy="-13">2+</tspan><tspan dy="13">)</tspan></text>
<text x="156.0" y="924.0" font-size="32" text-anchor="start" font-weight="normal" fill="#7aaedb" >BF = 4 <tspan text-decoration="underline">+</tspan> 2%</text>
<text x="156.0" y="963.5" font-size="32" text-anchor="start" font-weight="normal" fill="#7aaedb" >k<tspan font-size="21" dy="9">off</tspan><tspan dy="-9"> = 0.59 </tspan><tspan text-decoration="underline">+</tspan> 0.3 s<tspan font-size="20" dy="-13">-1</tspan></text>
<text x="156.0" y="1002.5" font-size="32" text-anchor="start" font-weight="normal" fill="#7aaedb" >x<tspan font-size="21" dy="9">u</tspan><tspan dy="-9"> = 0.50 </tspan><tspan text-decoration="underline">+</tspan> 0.04 nm</text>
<line x1="1006.5" y1="1068.4" x2="1006.5" y2="997.5" stroke="#000" stroke-width="2.2" />
<line x1="1006.5" y1="1068.4" x2="1076.6" y2="1068.4" stroke="#000" stroke-width="2.2" />
<path d="M1000.5,1001.5 L1006.5,987.5 L1012.5,1001.5 L1006.5,997.5 Z" fill="#000" stroke="none" stroke-width="0" />
<path d="M1072.6,1062.4 L1086.6,1068.4 L1072.6,1074.4 L1076.6,1068.4 Z" fill="#000" stroke="none" stroke-width="0" />
<text transform="translate(995.5,1018) rotate(-90)" font-size="32" text-anchor="middle">Force</text>
<text x="1093.0" y="1076.5" font-size="32" text-anchor="start" font-weight="normal" fill="#000" >LR</text>
<path d="M1013.7,1057.3 Q1245.0,1001.8 1476.3,946.4" fill="none" stroke="#c1272d" stroke-width="2.4" />
<path d="M1013.7,1058.3 Q1244.6,1013.9 1475.5,969.5" fill="none" stroke="#6aa6da" stroke-width="2.4" />
<path d="M1013.7,1059.3 Q1245.0,1019.4 1476.3,979.5" fill="none" stroke="#13893a" stroke-width="2.4" />
<path d="M1011.0,1056.3 Q1250.7,964.7 1462.3,847.9" fill="none" stroke="#13893a" stroke-width="2.4" stroke-dasharray="7,5"/>
<path d="M1009.0,1059.3 Q1251.2,971.6 1465.5,858.7" fill="none" stroke="#c1272d" stroke-width="2.4" stroke-dasharray="7,5"/>
<path d="M1013.7,1057.3 Q1250.6,988.4 1465.5,899.7" fill="none" stroke="#6aa6da" stroke-width="2.4" stroke-dasharray="7,5"/>
<path d="M1013.7,1058.3 Q1251.0,992.9 1466.3,907.7" fill="none" stroke="#13893a" stroke-width="2.4" stroke-dasharray="7,5"/>
<text x="1480.0" y="841.0" font-size="27" text-anchor="start" font-weight="normal" fill="#13893a" >III</text>
<text x="1481.0" y="867.0" font-size="27" text-anchor="start" font-weight="normal" fill="#c1272d" >II</text>
<text x="1481.0" y="898.5" font-size="27" text-anchor="start" font-weight="normal" fill="#6aa6da" >II</text>
<text x="1481.0" y="926.5" font-size="27" text-anchor="start" font-weight="normal" fill="#13893a" >II</text>
<text x="1484.0" y="957.5" font-size="27" text-anchor="start" font-weight="normal" fill="#c1272d" >I</text>
<text x="1484.0" y="978.5" font-size="27" text-anchor="start" font-weight="normal" fill="#6aa6da" >I</text>
<text x="1484.0" y="1000.5" font-size="27" text-anchor="start" font-weight="normal" fill="#13893a" >I</text>
<line x1="1009.1" y1="1105.0" x2="1009.1" y2="1402.6" stroke="#000" stroke-width="2.4" />
<line x1="1001.6" y1="1402.6" x2="1486.2" y2="1402.6" stroke="#000" stroke-width="2.4" />
<line x1="1001.6" y1="1402.6" x2="1009.1" y2="1402.6" stroke="#000" stroke-width="2.4" />
<text x="996.6" y="1411.1" font-size="33.5" text-anchor="end" font-weight="normal" fill="#000" >0</text>
<line x1="1001.6" y1="1353.0" x2="1009.1" y2="1353.0" stroke="#000" stroke-width="2.4" />
<text x="996.6" y="1361.5" font-size="33.5" text-anchor="end" font-weight="normal" fill="#000" >10</text>
<line x1="1001.6" y1="1303.4" x2="1009.1" y2="1303.4" stroke="#000" stroke-width="2.4" />
<text x="996.6" y="1311.9" font-size="33.5" text-anchor="end" font-weight="normal" fill="#000" >20</text>
<line x1="1001.6" y1="1253.8" x2="1009.1" y2="1253.8" stroke="#000" stroke-width="2.4" />
<text x="996.6" y="1262.3" font-size="33.5" text-anchor="end" font-weight="normal" fill="#000" >30</text>
<line x1="1001.6" y1="1204.2" x2="1009.1" y2="1204.2" stroke="#000" stroke-width="2.4" />
<text x="996.6" y="1212.7" font-size="33.5" text-anchor="end" font-weight="normal" fill="#000" >40</text>
<line x1="1001.6" y1="1154.6" x2="1009.1" y2="1154.6" stroke="#000" stroke-width="2.4" />
<text x="996.6" y="1163.1" font-size="33.5" text-anchor="end" font-weight="normal" fill="#000" >50</text>
<line x1="1001.6" y1="1105.0" x2="1009.1" y2="1105.0" stroke="#000" stroke-width="2.4" />
<text x="996.6" y="1113.5" font-size="33.5" text-anchor="end" font-weight="normal" fill="#000" >60</text>
<line x1="1004.6" y1="1377.8" x2="1009.1" y2="1377.8" stroke="#000" stroke-width="2.4" />
<line x1="1004.6" y1="1328.2" x2="1009.1" y2="1328.2" stroke="#000" stroke-width="2.4" />
<line x1="1004.6" y1="1278.6" x2="1009.1" y2="1278.6" stroke="#000" stroke-width="2.4" />
<line x1="1004.6" y1="1229.0" x2="1009.1" y2="1229.0" stroke="#000" stroke-width="2.4" />
<line x1="1004.6" y1="1179.4" x2="1009.1" y2="1179.4" stroke="#000" stroke-width="2.4" />
<line x1="1004.6" y1="1129.8" x2="1009.1" y2="1129.8" stroke="#000" stroke-width="2.4" />
<line x1="1009.1" y1="1402.6" x2="1009.1" y2="1409.1" stroke="#000" stroke-width="2.4" />
<text x="1009.1" y="1439.6" font-size="33.5" text-anchor="middle" font-weight="normal" fill="#000" >0</text>
<line x1="1092.2" y1="1402.6" x2="1092.2" y2="1409.1" stroke="#000" stroke-width="2.4" />
<text x="1092.2" y="1439.6" font-size="33.5" text-anchor="middle" font-weight="normal" fill="#000" >200</text>
<line x1="1175.3" y1="1402.6" x2="1175.3" y2="1409.1" stroke="#000" stroke-width="2.4" />
<text x="1175.3" y="1439.6" font-size="33.5" text-anchor="middle" font-weight="normal" fill="#000" >400</text>
<line x1="1258.4" y1="1402.6" x2="1258.4" y2="1409.1" stroke="#000" stroke-width="2.4" />
<text x="1258.4" y="1439.6" font-size="33.5" text-anchor="middle" font-weight="normal" fill="#000" >600</text>
<line x1="1341.5" y1="1402.6" x2="1341.5" y2="1409.1" stroke="#000" stroke-width="2.4" />
<text x="1341.5" y="1439.6" font-size="33.5" text-anchor="middle" font-weight="normal" fill="#000" >800</text>
<line x1="1424.6" y1="1402.6" x2="1424.6" y2="1409.1" stroke="#000" stroke-width="2.4" />
<text x="1424.6" y="1439.6" font-size="33.5" text-anchor="middle" font-weight="normal" fill="#000" >1000</text>
<line x1="1050.7" y1="1402.6" x2="1050.7" y2="1407.1" stroke="#000" stroke-width="2.4" />
<line x1="1133.8" y1="1402.6" x2="1133.8" y2="1407.1" stroke="#000" stroke-width="2.4" />
<line x1="1216.8" y1="1402.6" x2="1216.8" y2="1407.1" stroke="#000" stroke-width="2.4" />
<line x1="1300.0" y1="1402.6" x2="1300.0" y2="1407.1" stroke="#000" stroke-width="2.4" />
<line x1="1383.0" y1="1402.6" x2="1383.0" y2="1407.1" stroke="#000" stroke-width="2.4" />
<line x1="1466.2" y1="1402.6" x2="1466.2" y2="1407.1" stroke="#000" stroke-width="2.4" />
<text x="1269.0" y="1474.5" font-size="32" text-anchor="middle" font-weight="normal" fill="#000" >Contact time (ms)</text>
<text transform="translate(952,1239) rotate(-90)" font-size="33.5" text-anchor="middle">BF (%)</text>
<path d="M1009.1,1396.2 L1009.3,1395.0 L1009.7,1392.8 L1010.3,1389.8 L1011.0,1386.2 L1011.8,1382.1 L1012.7,1377.5 L1013.7,1372.6 L1014.8,1367.4 L1016.0,1362.0 L1017.3,1356.3 L1018.7,1350.5 L1020.1,1344.6 L1021.6,1338.6 L1023.2,1332.6 L1024.8,1326.5 L1026.5,1320.5 L1028.3,1314.5 L1030.1,1308.5 L1032.0,1302.7 L1034.0,1296.9 L1036.0,1291.3 L1038.1,1285.8 L1040.2,1280.4 L1042.4,1275.2 L1044.6,1270.2 L1046.9,1265.3 L1049.3,1260.6 L1051.7,1256.0 L1054.2,1251.7 L1056.7,1247.5 L1059.2,1243.5 L1061.8,1239.7 L1064.5,1236.0 L1067.2,1232.6 L1070.0,1229.3 L1072.8,1226.2 L1075.6,1223.2 L1078.5,1220.4 L1081.5,1217.8 L1084.5,1215.3 L1087.5,1213.0 L1090.6,1210.8 L1093.7,1208.7 L1096.9,1206.8 L1100.1,1205.0 L1103.4,1203.4 L1106.7,1201.8 L1110.0,1200.3 L1113.4,1199.0 L1116.8,1197.7 L1120.3,1196.6 L1123.8,1195.5 L1127.3,1194.5 L1130.9,1193.6 L1134.6,1192.7 L1138.2,1191.9 L1141.9,1191.2 L1145.7,1190.5 L1149.5,1189.9 L1153.3,1189.4 L1157.2,1188.9 L1161.1,1188.4 L1165.0,1188.0 L1169.0,1187.6 L1173.0,1187.2 L1177.0,1186.9 L1181.1,1186.6 L1185.3,1186.3 L1189.4,1186.1 L1193.6,1185.8 L1197.9,1185.6 L1202.1,1185.5 L1206.4,1185.3 L1210.8,1185.1 L1215.2,1185.0 L1219.6,1184.9 L1224.0,1184.8 L1228.5,1184.7 L1233.0,1184.6 L1237.6,1184.5 L1242.2,1184.4 L1246.8,1184.4 L1251.4,1184.3 L1256.1,1184.3 L1260.8,1184.2 L1265.6,1184.2 L1270.4,1184.1 L1275.2,1184.1 L1280.1,1184.1 L1285.0,1184.1 L1289.9,1184.0 L1294.8,1184.0 L1299.8,1184.0 L1304.8,1184.0 L1309.9,1184.0 L1315.0,1184.0 L1320.1,1183.9 L1325.2,1183.9 L1330.4,1183.9 L1335.6,1183.9 L1340.9,1183.9 L1346.1,1183.9 L1351.4,1183.9 L1356.8,1183.9 L1362.1,1183.9 L1367.5,1183.9 L1372.9,1183.9 L1378.4,1183.9 L1383.9,1183.9 L1389.4,1183.9 L1394.9,1183.9 L1400.5,1183.9 L1406.1,1183.9 L1411.8,1183.9 L1417.4,1183.9 L1423.1,1183.9 L1428.9,1183.9 L1434.6,1183.9 L1440.4,1183.9 L1446.2,1183.9" fill="none" stroke="#13893a" stroke-width="2.6" stroke-linejoin="round"/>
<path d="M1009.1,1396.2 L1009.3,1396.0 L1009.7,1395.6 L1010.3,1395.0 L1011.0,1394.4 L1011.8,1393.6 L1012.7,1392.8 L1013.7,1391.9 L1014.8,1390.9 L1016.0,1389.9 L1017.3,1388.8 L1018.7,1387.6 L1020.1,1386.4 L1021.6,1385.2 L1023.2,1383.9 L1024.8,1382.7 L1026.5,1381.3 L1028.3,1380.0 L1030.1,1378.7 L1032.0,1377.3 L1034.0,1375.9 L1036.0,1374.5 L1038.1,1373.2 L1040.2,1371.8 L1042.4,1370.4 L1044.6,1369.0 L1046.9,1367.6 L1049.3,1366.3 L1051.7,1364.9 L1054.2,1363.6 L1056.7,1362.3 L1059.2,1360.9 L1061.8,1359.7 L1064.5,1358.4 L1067.2,1357.1 L1070.0,1355.9 L1072.8,1354.7 L1075.6,1353.5 L1078.5,1352.3 L1081.5,1351.2 L1084.5,1350.1 L1087.5,1349.0 L1090.6,1347.9 L1093.7,1346.9 L1096.9,1345.9 L1100.1,1344.9 L1103.4,1344.0 L1106.7,1343.0 L1110.0,1342.1 L1113.4,1341.2 L1116.8,1340.4 L1120.3,1339.6 L1123.8,1338.8 L1127.3,1338.0 L1130.9,1337.3 L1134.6,1336.5 L1138.2,1335.8 L1141.9,1335.2 L1145.7,1334.5 L1149.5,1333.9 L1153.3,1333.3 L1157.2,1332.7 L1161.1,1332.2 L1165.0,1331.7 L1169.0,1331.1 L1173.0,1330.6 L1177.0,1330.2 L1181.1,1329.7 L1185.3,1329.3 L1189.4,1328.9 L1193.6,1328.5 L1197.9,1328.1 L1202.1,1327.8 L1206.4,1327.4 L1210.8,1327.1 L1215.2,1326.8 L1219.6,1326.5 L1224.0,1326.2 L1228.5,1325.9 L1233.0,1325.6 L1237.6,1325.4 L1242.2,1325.2 L1246.8,1324.9 L1251.4,1324.7 L1256.1,1324.5 L1260.8,1324.3 L1265.6,1324.2 L1270.4,1324.0 L1275.2,1323.8 L1280.1,1323.7 L1285.0,1323.5 L1289.9,1323.4 L1294.8,1323.3 L1299.8,1323.1 L1304.8,1323.0 L1309.9,1322.9 L1315.0,1322.8 L1320.1,1322.7 L1325.2,1322.6 L1330.4,1322.5 L1335.6,1322.5 L1340.9,1322.4 L1346.1,1322.3 L1351.4,1322.2 L1356.8,1322.2 L1362.1,1322.1 L1367.5,1322.1 L1372.9,1322.0 L1378.4,1322.0 L1383.9,1321.9 L1389.4,1321.9 L1394.9,1321.8 L1400.5,1321.8 L1406.1,1321.7 L1411.8,1321.7 L1417.4,1321.7 L1423.1,1321.7 L1428.9,1321.6 L1434.6,1321.6 L1440.4,1321.6 L1446.2,1321.6" fill="none" stroke="#c1272d" stroke-width="2.6" stroke-linejoin="round"/>
<path d="M1009.1,1396.2 L1009.3,1396.0 L1009.7,1395.8 L1010.3,1395.5 L1011.0,1395.1 L1011.8,1394.6 L1012.7,1394.2 L1013.7,1393.6 L1014.8,1393.0 L1016.0,1392.4 L1017.3,1391.8 L1018.7,1391.1 L1020.1,1390.4 L1021.6,1389.7 L1023.2,1389.0 L1024.8,1388.2 L1026.5,1387.5 L1028.3,1386.7 L1030.1,1385.9 L1032.0,1385.2 L1034.0,1384.4 L1036.0,1383.6 L1038.1,1382.8 L1040.2,1382.1 L1042.4,1381.3 L1044.6,1380.5 L1046.9,1379.8 L1049.3,1379.1 L1051.7,1378.3 L1054.2,1377.6 L1056.7,1376.9 L1059.2,1376.2 L1061.8,1375.5 L1064.5,1374.8 L1067.2,1374.2 L1070.0,1373.5 L1072.8,1372.9 L1075.6,1372.3 L1078.5,1371.7 L1081.5,1371.1 L1084.5,1370.6 L1087.5,1370.0 L1090.6,1369.5 L1093.7,1369.0 L1096.9,1368.5 L1100.1,1368.0 L1103.4,1367.6 L1106.7,1367.1 L1110.0,1366.7 L1113.4,1366.3 L1116.8,1365.9 L1120.3,1365.5 L1123.8,1365.2 L1127.3,1364.8 L1130.9,1364.5 L1134.6,1364.2 L1138.2,1363.9 L1141.9,1363.6 L1145.7,1363.3 L1149.5,1363.0 L1153.3,1362.8 L1157.2,1362.5 L1161.1,1362.3 L1165.0,1362.1 L1169.0,1361.9 L1173.0,1361.7 L1177.0,1361.5 L1181.1,1361.3 L1185.3,1361.1 L1189.4,1361.0 L1193.6,1360.8 L1197.9,1360.7 L1202.1,1360.5 L1206.4,1360.4 L1210.8,1360.3 L1215.2,1360.2 L1219.6,1360.0 L1224.0,1359.9 L1228.5,1359.8 L1233.0,1359.8 L1237.6,1359.7 L1242.2,1359.6 L1246.8,1359.5 L1251.4,1359.4 L1256.1,1359.4 L1260.8,1359.3 L1265.6,1359.3 L1270.4,1359.2 L1275.2,1359.1 L1280.1,1359.1 L1285.0,1359.1 L1289.9,1359.0 L1294.8,1359.0 L1299.8,1358.9 L1304.8,1358.9 L1309.9,1358.9 L1315.0,1358.8 L1320.1,1358.8 L1325.2,1358.8 L1330.4,1358.8 L1335.6,1358.7 L1340.9,1358.7 L1346.1,1358.7 L1351.4,1358.7 L1356.8,1358.7 L1362.1,1358.6 L1367.5,1358.6 L1372.9,1358.6 L1378.4,1358.6 L1383.9,1358.6 L1389.4,1358.6 L1394.9,1358.6 L1400.5,1358.6 L1406.1,1358.6 L1411.8,1358.5 L1417.4,1358.5 L1423.1,1358.5 L1428.9,1358.5 L1434.6,1358.5 L1440.4,1358.5 L1446.2,1358.5" fill="none" stroke="#6aa6da" stroke-width="2.6" stroke-linejoin="round"/>
<rect x="1004.5" y="1398.0" width="9.2" height="9.2" fill="#6aa6da"/>
<line x1="1021.6" y1="1371.8" x2="1021.6" y2="1391.7" stroke="#6aa6da" stroke-width="1.2" />
<line x1="1016.6" y1="1371.8" x2="1026.6" y2="1371.8" stroke="#6aa6da" stroke-width="1.2" />
<line x1="1016.6" y1="1391.7" x2="1026.6" y2="1391.7" stroke="#6aa6da" stroke-width="1.2" />
<rect x="1017.0" y="1377.2" width="9.2" height="9.2" fill="#6aa6da"/>
<line x1="1042.3" y1="1368.4" x2="1042.3" y2="1387.2" stroke="#6aa6da" stroke-width="1.2" />
<line x1="1037.3" y1="1368.4" x2="1047.3" y2="1368.4" stroke="#6aa6da" stroke-width="1.2" />
<line x1="1037.3" y1="1387.2" x2="1047.3" y2="1387.2" stroke="#6aa6da" stroke-width="1.2" />
<rect x="1037.7" y="1373.2" width="9.2" height="9.2" fill="#6aa6da"/>
<line x1="1063.1" y1="1361.9" x2="1063.1" y2="1380.8" stroke="#6aa6da" stroke-width="1.2" />
<line x1="1058.1" y1="1361.9" x2="1068.1" y2="1361.9" stroke="#6aa6da" stroke-width="1.2" />
<line x1="1058.1" y1="1380.8" x2="1068.1" y2="1380.8" stroke="#6aa6da" stroke-width="1.2" />
<rect x="1058.5" y="1366.8" width="9.2" height="9.2" fill="#6aa6da"/>
<line x1="1083.9" y1="1362.9" x2="1083.9" y2="1381.8" stroke="#6aa6da" stroke-width="1.2" />
<line x1="1078.9" y1="1362.9" x2="1088.9" y2="1362.9" stroke="#6aa6da" stroke-width="1.2" />
<line x1="1078.9" y1="1381.8" x2="1088.9" y2="1381.8" stroke="#6aa6da" stroke-width="1.2" />
<rect x="1079.3" y="1367.7" width="9.2" height="9.2" fill="#6aa6da"/>
<line x1="1125.4" y1="1359.0" x2="1125.4" y2="1377.8" stroke="#6aa6da" stroke-width="1.2" />
<line x1="1120.4" y1="1359.0" x2="1130.4" y2="1359.0" stroke="#6aa6da" stroke-width="1.2" />
<line x1="1120.4" y1="1377.8" x2="1130.4" y2="1377.8" stroke="#6aa6da" stroke-width="1.2" />
<rect x="1120.8" y="1363.8" width="9.2" height="9.2" fill="#6aa6da"/>
<line x1="1229.3" y1="1352.5" x2="1229.3" y2="1371.4" stroke="#6aa6da" stroke-width="1.2" />
<line x1="1224.3" y1="1352.5" x2="1234.3" y2="1352.5" stroke="#6aa6da" stroke-width="1.2" />
<line x1="1224.3" y1="1371.4" x2="1234.3" y2="1371.4" stroke="#6aa6da" stroke-width="1.2" />
<rect x="1224.7" y="1357.3" width="9.2" height="9.2" fill="#6aa6da"/>
<line x1="1436.2" y1="1346.6" x2="1436.2" y2="1370.4" stroke="#6aa6da" stroke-width="1.2" />
<line x1="1431.2" y1="1346.6" x2="1441.2" y2="1346.6" stroke="#6aa6da" stroke-width="1.2" />
<line x1="1431.2" y1="1370.4" x2="1441.2" y2="1370.4" stroke="#6aa6da" stroke-width="1.2" />
<rect x="1431.6" y="1353.9" width="9.2" height="9.2" fill="#6aa6da"/>
<text x="1194.0" y="1238.0" font-size="26" text-anchor="start" font-weight="bold" fill="#7aaedb" >T3SA+ ISVP (+Mn<tspan font-size="17" dy="-11">2+</tspan><tspan dy="11">)</tspan></text>
<text x="1194.0" y="1268.5" font-size="26" text-anchor="start" font-weight="normal" fill="#7aaedb" >k<tspan font-size="17" dy="8">on</tspan><tspan dy="-8"> = 5.62 </tspan><tspan text-decoration="underline">+</tspan> 0.1 μM<tspan font-size="17" dy="-11">-1</tspan><tspan dy="11"> s</tspan><tspan font-size="17" dy="-11">-1</tspan></text>
<text x="1194.0" y="1299.5" font-size="26" text-anchor="start" font-weight="normal" fill="#7aaedb" >K<tspan font-size="17" dy="8">D</tspan><tspan dy="-8"> = 105 </tspan><tspan text-decoration="underline">+</tspan> 81 nM</text>
<g fill="#666666" fill-opacity="0.62"><path d="M258.8,2032.0h4.6l-2.3-4z"/><path d="M229.2,2077.2h4.6l-2.3-4z"/><path d="M254.9,2077.9h4.6l-2.3-4z"/><path d="M266.0,2037.8h4.6l-2.3-4z"/><path d="M227.8,2063.0h4.6l-2.3-4z"/><path d="M242.2,2060.2h4.6l-2.3-4z"/><path d="M237.9,2045.2h4.6l-2.3-4z"/><path d="M245.8,2071.0h4.6l-2.3-4z"/><path d="M227.9,2067.4h4.6l-2.3-4z"/><path d="M243.5,2046.9h4.6l-2.3-4z"/><path d="M228.6,2067.2h4.6l-2.3-4z"/><path d="M236.7,2072.8h4.6l-2.3-4z"/><path d="M274.2,2070.9h4.6l-2.3-4z"/><path d="M233.1,2036.9h4.6l-2.3-4z"/><path d="M229.5,2086.8h4.6l-2.3-4z"/><path d="M244.7,2066.1h4.6l-2.3-4z"/><path d="M243.5,2082.2h4.6l-2.3-4z"/><path d="M235.8,2083.5h4.6l-2.3-4z"/><path d="M257.4,2048.8h4.6l-2.3-4z"/><path d="M229.3,2041.8h4.6l-2.3-4z"/><path d="M315.5,2058.0h4.6l-2.3-4z"/><path d="M295.4,2038.3h4.6l-2.3-4z"/><path d="M306.4,2062.4h4.6l-2.3-4z"/><path d="M335.3,2027.4h4.6l-2.3-4z"/><path d="M283.0,2014.9h4.6l-2.3-4z"/><path d="M324.2,2016.5h4.6l-2.3-4z"/><path d="M299.5,2057.7h4.6l-2.3-4z"/><path d="M295.3,2016.4h4.6l-2.3-4z"/><path d="M278.4,2073.9h4.6l-2.3-4z"/><path d="M316.5,2049.8h4.6l-2.3-4z"/><path d="M322.0,2045.3h4.6l-2.3-4z"/><path d="M336.3,2027.4h4.6l-2.3-4z"/><path d="M287.7,2026.8h4.6l-2.3-4z"/><path d="M324.5,2027.0h4.6l-2.3-4z"/><path d="M315.1,2025.9h4.6l-2.3-4z"/><path d="M304.2,2060.4h4.6l-2.3-4z"/><path d="M315.6,2041.7h4.6l-2.3-4z"/><path d="M296.7,2047.3h4.6l-2.3-4z"/><path d="M314.4,2052.6h4.6l-2.3-4z"/><path d="M294.4,2067.7h4.6l-2.3-4z"/><path d="M300.1,2039.3h4.6l-2.3-4z"/><path d="M312.6,1954.5h4.6l-2.3-4z"/><path d="M299.9,2022.6h4.6l-2.3-4z"/><path d="M314.2,2068.3h4.6l-2.3-4z"/><path d="M314.6,2034.2h4.6l-2.3-4z"/><path d="M291.3,2033.9h4.6l-2.3-4z"/><path d="M336.6,2038.1h4.6l-2.3-4z"/><path d="M294.9,2067.9h4.6l-2.3-4z"/><path d="M304.3,1998.2h4.6l-2.3-4z"/><path d="M294.1,2052.2h4.6l-2.3-4z"/><path d="M337.0,2033.1h4.6l-2.3-4z"/><path d="M322.3,2013.0h4.6l-2.3-4z"/><path d="M309.7,2061.2h4.6l-2.3-4z"/><path d="M322.4,2065.7h4.6l-2.3-4z"/><path d="M305.0,2077.0h4.6l-2.3-4z"/><path d="M320.2,2039.7h4.6l-2.3-4z"/><path d="M300.8,2048.1h4.6l-2.3-4z"/><path d="M319.4,2050.7h4.6l-2.3-4z"/><path d="M332.3,2045.9h4.6l-2.3-4z"/><path d="M286.9,2063.5h4.6l-2.3-4z"/><path d="M325.2,2047.5h4.6l-2.3-4z"/><path d="M319.8,2029.8h4.6l-2.3-4z"/><path d="M320.4,2050.0h4.6l-2.3-4z"/><path d="M302.5,2027.0h4.6l-2.3-4z"/><path d="M284.2,2039.2h4.6l-2.3-4z"/><path d="M303.6,2037.4h4.6l-2.3-4z"/><path d="M334.0,2059.1h4.6l-2.3-4z"/><path d="M308.1,2015.1h4.6l-2.3-4z"/><path d="M293.5,2064.1h4.6l-2.3-4z"/><path d="M291.8,2022.4h4.6l-2.3-4z"/><path d="M282.8,2074.3h4.6l-2.3-4z"/><path d="M330.3,2053.3h4.6l-2.3-4z"/><path d="M279.5,2065.6h4.6l-2.3-4z"/><path d="M291.1,2037.3h4.6l-2.3-4z"/><path d="M291.8,2038.2h4.6l-2.3-4z"/><path d="M327.6,1992.1h4.6l-2.3-4z"/><path d="M328.8,2032.0h4.6l-2.3-4z"/><path d="M283.5,2055.8h4.6l-2.3-4z"/><path d="M314.9,2043.2h4.6l-2.3-4z"/><path d="M300.2,2057.3h4.6l-2.3-4z"/><path d="M287.4,2051.0h4.6l-2.3-4z"/><path d="M299.8,1996.5h4.6l-2.3-4z"/><path d="M306.0,2063.7h4.6l-2.3-4z"/><path d="M321.5,2049.4h4.6l-2.3-4z"/><path d="M301.8,2047.8h4.6l-2.3-4z"/><path d="M321.6,2059.6h4.6l-2.3-4z"/><path d="M318.0,2004.1h4.6l-2.3-4z"/><path d="M281.4,2054.8h4.6l-2.3-4z"/><path d="M310.6,2024.0h4.6l-2.3-4z"/><path d="M331.6,2045.3h4.6l-2.3-4z"/><path d="M293.0,2044.3h4.6l-2.3-4z"/><path d="M288.5,2050.5h4.6l-2.3-4z"/><path d="M282.8,2063.6h4.6l-2.3-4z"/><path d="M329.1,2070.4h4.6l-2.3-4z"/><path d="M306.9,2054.1h4.6l-2.3-4z"/><path d="M296.2,2079.4h4.6l-2.3-4z"/><path d="M283.0,2070.0h4.6l-2.3-4z"/><path d="M292.4,2060.9h4.6l-2.3-4z"/><path d="M300.1,2050.6h4.6l-2.3-4z"/><path d="M331.5,2012.6h4.6l-2.3-4z"/><path d="M304.2,2029.8h4.6l-2.3-4z"/><path d="M293.8,2062.7h4.6l-2.3-4z"/><path d="M281.7,2063.3h4.6l-2.3-4z"/><path d="M323.5,2059.8h4.6l-2.3-4z"/><path d="M329.3,2013.6h4.6l-2.3-4z"/><path d="M297.5,2035.8h4.6l-2.3-4z"/><path d="M321.3,2040.3h4.6l-2.3-4z"/><path d="M334.0,2066.2h4.6l-2.3-4z"/><path d="M332.6,2042.6h4.6l-2.3-4z"/><path d="M309.7,2027.9h4.6l-2.3-4z"/><path d="M326.6,2058.1h4.6l-2.3-4z"/><path d="M306.6,2038.5h4.6l-2.3-4z"/><path d="M294.3,2040.8h4.6l-2.3-4z"/><path d="M298.8,2056.3h4.6l-2.3-4z"/><path d="M327.6,2058.7h4.6l-2.3-4z"/><path d="M331.7,2014.8h4.6l-2.3-4z"/><path d="M315.1,2039.3h4.6l-2.3-4z"/><path d="M296.7,2052.6h4.6l-2.3-4z"/><path d="M306.3,2046.0h4.6l-2.3-4z"/><path d="M319.3,2050.1h4.6l-2.3-4z"/><path d="M299.5,2026.6h4.6l-2.3-4z"/><path d="M282.9,2038.9h4.6l-2.3-4z"/><path d="M320.6,1997.6h4.6l-2.3-4z"/><path d="M319.0,2015.5h4.6l-2.3-4z"/><path d="M290.2,2061.1h4.6l-2.3-4z"/><path d="M332.3,2056.7h4.6l-2.3-4z"/><path d="M319.0,2013.9h4.6l-2.3-4z"/><path d="M296.0,2036.8h4.6l-2.3-4z"/><path d="M287.7,2066.1h4.6l-2.3-4z"/><path d="M321.4,2056.5h4.6l-2.3-4z"/><path d="M332.0,2049.5h4.6l-2.3-4z"/><path d="M279.5,2044.2h4.6l-2.3-4z"/><path d="M288.7,2041.9h4.6l-2.3-4z"/><path d="M281.4,1999.5h4.6l-2.3-4z"/><path d="M296.8,2007.6h4.6l-2.3-4z"/><path d="M328.1,2053.9h4.6l-2.3-4z"/><path d="M287.1,2059.9h4.6l-2.3-4z"/><path d="M321.9,1989.6h4.6l-2.3-4z"/><path d="M333.1,2003.9h4.6l-2.3-4z"/><path d="M281.6,2055.3h4.6l-2.3-4z"/><path d="M318.5,2070.1h4.6l-2.3-4z"/><path d="M284.8,2057.7h4.6l-2.3-4z"/><path d="M307.4,1977.7h4.6l-2.3-4z"/><path d="M306.4,2012.3h4.6l-2.3-4z"/><path d="M300.6,2043.3h4.6l-2.3-4z"/><path d="M295.5,2077.8h4.6l-2.3-4z"/><path d="M292.0,2065.1h4.6l-2.3-4z"/><path d="M336.8,2042.7h4.6l-2.3-4z"/><path d="M283.2,2008.6h4.6l-2.3-4z"/><path d="M305.2,2042.4h4.6l-2.3-4z"/><path d="M290.8,2034.1h4.6l-2.3-4z"/><path d="M335.0,2035.9h4.6l-2.3-4z"/><path d="M301.3,2043.1h4.6l-2.3-4z"/><path d="M315.9,2073.4h4.6l-2.3-4z"/><path d="M302.5,1962.7h4.6l-2.3-4z"/><path d="M323.1,2042.1h4.6l-2.3-4z"/><path d="M303.0,2042.3h4.6l-2.3-4z"/><path d="M317.7,2060.1h4.6l-2.3-4z"/><path d="M282.1,1952.1h4.6l-2.3-4z"/><path d="M327.4,2010.4h4.6l-2.3-4z"/><path d="M291.9,2060.2h4.6l-2.3-4z"/><path d="M300.1,2055.8h4.6l-2.3-4z"/><path d="M336.2,2064.8h4.6l-2.3-4z"/><path d="M299.8,2042.1h4.6l-2.3-4z"/><path d="M292.2,2061.3h4.6l-2.3-4z"/><path d="M306.6,2074.6h4.6l-2.3-4z"/><path d="M302.8,2028.3h4.6l-2.3-4z"/><path d="M280.0,2059.2h4.6l-2.3-4z"/><path d="M317.0,2043.1h4.6l-2.3-4z"/><path d="M334.7,2055.4h4.6l-2.3-4z"/><path d="M333.6,2048.2h4.6l-2.3-4z"/><path d="M333.2,2035.8h4.6l-2.3-4z"/><path d="M286.0,2046.5h4.6l-2.3-4z"/><path d="M281.3,2052.9h4.6l-2.3-4z"/><path d="M335.8,2052.8h4.6l-2.3-4z"/><path d="M327.5,2052.1h4.6l-2.3-4z"/><path d="M292.4,2015.3h4.6l-2.3-4z"/><path d="M327.1,2032.2h4.6l-2.3-4z"/><path d="M321.0,2028.4h4.6l-2.3-4z"/><path d="M281.5,2052.2h4.6l-2.3-4z"/><path d="M331.2,2061.8h4.6l-2.3-4z"/><path d="M323.0,2009.8h4.6l-2.3-4z"/><path d="M331.8,2060.2h4.6l-2.3-4z"/><path d="M290.0,2043.3h4.6l-2.3-4z"/><path d="M303.2,2025.4h4.6l-2.3-4z"/><path d="M318.9,2030.4h4.6l-2.3-4z"/><path d="M286.4,2042.4h4.6l-2.3-4z"/><path d="M317.4,2006.0h4.6l-2.3-4z"/><path d="M295.3,2057.3h4.6l-2.3-4z"/><path d="M315.5,2008.8h4.6l-2.3-4z"/><path d="M283.9,2078.8h4.6l-2.3-4z"/><path d="M321.1,2042.5h4.6l-2.3-4z"/><path d="M283.5,2021.6h4.6l-2.3-4z"/><path d="M295.8,2069.4h4.6l-2.3-4z"/><path d="M291.3,2036.0h4.6l-2.3-4z"/><path d="M333.7,2023.6h4.6l-2.3-4z"/><path d="M323.8,2030.9h4.6l-2.3-4z"/><path d="M303.9,2040.7h4.6l-2.3-4z"/><path d="M303.4,2049.1h4.6l-2.3-4z"/><path d="M332.8,1985.7h4.6l-2.3-4z"/><path d="M286.1,2057.5h4.6l-2.3-4z"/><path d="M294.7,2063.8h4.6l-2.3-4z"/><path d="M323.2,2064.6h4.6l-2.3-4z"/><path d="M283.9,2072.8h4.6l-2.3-4z"/><path d="M283.1,2032.5h4.6l-2.3-4z"/><path d="M284.0,2055.7h4.6l-2.3-4z"/><path d="M280.8,2073.6h4.6l-2.3-4z"/><path d="M316.0,1958.4h4.6l-2.3-4z"/><path d="M294.6,2048.9h4.6l-2.3-4z"/><path d="M317.0,1976.8h4.6l-2.3-4z"/><path d="M302.9,2026.8h4.6l-2.3-4z"/><path d="M320.4,2048.4h4.6l-2.3-4z"/><path d="M325.1,2035.0h4.6l-2.3-4z"/><path d="M336.2,2044.9h4.6l-2.3-4z"/><path d="M316.8,2027.9h4.6l-2.3-4z"/><path d="M317.1,2011.0h4.6l-2.3-4z"/><path d="M303.8,2023.4h4.6l-2.3-4z"/><path d="M304.4,2073.9h4.6l-2.3-4z"/><path d="M328.1,2041.1h4.6l-2.3-4z"/><path d="M309.0,2006.2h4.6l-2.3-4z"/><path d="M315.1,2027.2h4.6l-2.3-4z"/><path d="M278.9,2076.6h4.6l-2.3-4z"/><path d="M283.7,2065.1h4.6l-2.3-4z"/><path d="M295.7,2053.4h4.6l-2.3-4z"/><path d="M334.9,1997.3h4.6l-2.3-4z"/><path d="M302.2,2044.5h4.6l-2.3-4z"/><path d="M319.3,1988.2h4.6l-2.3-4z"/><path d="M325.3,2033.2h4.6l-2.3-4z"/><path d="M330.7,2045.7h4.6l-2.3-4z"/><path d="M318.6,2056.0h4.6l-2.3-4z"/><path d="M328.1,2064.7h4.6l-2.3-4z"/><path d="M295.0,2063.7h4.6l-2.3-4z"/><path d="M284.0,2041.3h4.6l-2.3-4z"/><path d="M333.2,2067.8h4.6l-2.3-4z"/><path d="M323.1,1988.7h4.6l-2.3-4z"/><path d="M309.9,2052.2h4.6l-2.3-4z"/><path d="M327.1,2046.9h4.6l-2.3-4z"/><path d="M290.9,2035.3h4.6l-2.3-4z"/><path d="M321.5,2051.9h4.6l-2.3-4z"/><path d="M318.4,2045.0h4.6l-2.3-4z"/><path d="M316.1,2028.4h4.6l-2.3-4z"/><path d="M294.4,2068.8h4.6l-2.3-4z"/><path d="M292.3,2065.1h4.6l-2.3-4z"/><path d="M283.5,2060.3h4.6l-2.3-4z"/><path d="M318.6,2068.1h4.6l-2.3-4z"/><path d="M304.9,2059.0h4.6l-2.3-4z"/><path d="M294.8,2052.0h4.6l-2.3-4z"/><path d="M304.8,2039.4h4.6l-2.3-4z"/><path d="M303.3,2050.7h4.6l-2.3-4z"/><path d="M313.9,2056.4h4.6l-2.3-4z"/><path d="M321.7,2061.4h4.6l-2.3-4z"/><path d="M282.6,2062.8h4.6l-2.3-4z"/><path d="M279.8,2070.4h4.6l-2.3-4z"/><path d="M328.9,2034.9h4.6l-2.3-4z"/><path d="M288.3,2050.0h4.6l-2.3-4z"/><path d="M299.9,2045.3h4.6l-2.3-4z"/><path d="M337.5,2011.5h4.6l-2.3-4z"/><path d="M288.1,2060.9h4.6l-2.3-4z"/><path d="M303.9,2037.8h4.6l-2.3-4z"/><path d="M317.2,2039.8h4.6l-2.3-4z"/><path d="M307.9,2037.8h4.6l-2.3-4z"/><path d="M280.4,2051.6h4.6l-2.3-4z"/><path d="M280.4,2062.4h4.6l-2.3-4z"/><path d="M289.2,2049.6h4.6l-2.3-4z"/><path d="M281.6,2064.3h4.6l-2.3-4z"/><path d="M320.9,2067.6h4.6l-2.3-4z"/><path d="M328.7,1976.9h4.6l-2.3-4z"/><path d="M300.7,2063.3h4.6l-2.3-4z"/><path d="M284.9,2056.9h4.6l-2.3-4z"/><path d="M327.9,2033.5h4.6l-2.3-4z"/><path d="M301.3,2030.7h4.6l-2.3-4z"/><path d="M286.7,2044.5h4.6l-2.3-4z"/><path d="M278.0,2069.0h4.6l-2.3-4z"/><path d="M294.6,2069.6h4.6l-2.3-4z"/><path d="M284.8,2035.9h4.6l-2.3-4z"/><path d="M315.4,2064.8h4.6l-2.3-4z"/><path d="M305.6,2070.2h4.6l-2.3-4z"/><path d="M309.0,2050.8h4.6l-2.3-4z"/><path d="M314.0,2061.9h4.6l-2.3-4z"/><path d="M316.4,2044.7h4.6l-2.3-4z"/><path d="M289.4,2042.8h4.6l-2.3-4z"/><path d="M287.4,2056.3h4.6l-2.3-4z"/><path d="M315.2,2053.8h4.6l-2.3-4z"/><path d="M293.2,2051.1h4.6l-2.3-4z"/><path d="M317.7,2041.9h4.6l-2.3-4z"/><path d="M314.5,2055.8h4.6l-2.3-4z"/><path d="M297.6,2060.6h4.6l-2.3-4z"/><path d="M333.2,2020.7h4.6l-2.3-4z"/><path d="M291.5,2035.2h4.6l-2.3-4z"/><path d="M307.2,2021.6h4.6l-2.3-4z"/><path d="M305.8,2030.4h4.6l-2.3-4z"/><path d="M320.5,2061.8h4.6l-2.3-4z"/><path d="M316.8,1996.7h4.6l-2.3-4z"/><path d="M314.6,2042.7h4.6l-2.3-4z"/><path d="M334.5,2057.7h4.6l-2.3-4z"/><path d="M315.9,1991.1h4.6l-2.3-4z"/><path d="M307.3,2014.6h4.6l-2.3-4z"/><path d="M296.8,2066.8h4.6l-2.3-4z"/><path d="M333.4,2051.3h4.6l-2.3-4z"/><path d="M311.8,2022.4h4.6l-2.3-4z"/><path d="M293.2,2064.8h4.6l-2.3-4z"/><path d="M299.0,2071.3h4.6l-2.3-4z"/><path d="M306.4,2036.1h4.6l-2.3-4z"/><path d="M284.0,2005.0h4.6l-2.3-4z"/><path d="M330.1,2059.3h4.6l-2.3-4z"/><path d="M321.9,2069.7h4.6l-2.3-4z"/><path d="M305.6,2053.7h4.6l-2.3-4z"/><path d="M304.9,2053.4h4.6l-2.3-4z"/><path d="M292.4,2060.9h4.6l-2.3-4z"/><path d="M309.1,2025.6h4.6l-2.3-4z"/><path d="M299.7,2026.3h4.6l-2.3-4z"/><path d="M307.3,2052.1h4.6l-2.3-4z"/><path d="M280.5,2067.6h4.6l-2.3-4z"/><path d="M290.2,2077.4h4.6l-2.3-4z"/><path d="M288.6,1962.6h4.6l-2.3-4z"/><path d="M285.7,2068.1h4.6l-2.3-4z"/><path d="M317.0,2040.3h4.6l-2.3-4z"/><path d="M308.7,2054.4h4.6l-2.3-4z"/><path d="M334.5,1995.7h4.6l-2.3-4z"/><path d="M283.4,2016.4h4.6l-2.3-4z"/><path d="M314.6,2015.0h4.6l-2.3-4z"/><path d="M284.5,2054.2h4.6l-2.3-4z"/><path d="M294.4,2037.2h4.6l-2.3-4z"/><path d="M280.5,2073.6h4.6l-2.3-4z"/><path d="M299.2,2064.1h4.6l-2.3-4z"/><path d="M318.5,1999.7h4.6l-2.3-4z"/><path d="M315.0,1998.8h4.6l-2.3-4z"/><path d="M287.1,2021.8h4.6l-2.3-4z"/><path d="M293.0,2076.7h4.6l-2.3-4z"/><path d="M318.3,1987.9h4.6l-2.3-4z"/><path d="M337.0,2034.1h4.6l-2.3-4z"/><path d="M314.3,2051.8h4.6l-2.3-4z"/><path d="M294.9,2017.5h4.6l-2.3-4z"/><path d="M336.4,2035.8h4.6l-2.3-4z"/><path d="M317.0,2027.2h4.6l-2.3-4z"/><path d="M328.9,2026.3h4.6l-2.3-4z"/><path d="M306.0,2000.2h4.6l-2.3-4z"/><path d="M309.3,2029.9h4.6l-2.3-4z"/><path d="M312.3,2065.4h4.6l-2.3-4z"/><path d="M326.6,2003.1h4.6l-2.3-4z"/><path d="M285.6,2065.9h4.6l-2.3-4z"/><path d="M277.8,2011.4h4.6l-2.3-4z"/><path d="M336.8,2014.8h4.6l-2.3-4z"/><path d="M291.5,2039.0h4.6l-2.3-4z"/><path d="M313.9,2031.1h4.6l-2.3-4z"/><path d="M318.6,2065.1h4.6l-2.3-4z"/><path d="M299.2,2027.5h4.6l-2.3-4z"/><path d="M298.8,2030.8h4.6l-2.3-4z"/><path d="M331.1,2033.9h4.6l-2.3-4z"/><path d="M326.1,2026.0h4.6l-2.3-4z"/><path d="M337.1,2046.8h4.6l-2.3-4z"/><path d="M328.7,2059.9h4.6l-2.3-4z"/><path d="M307.6,2064.5h4.6l-2.3-4z"/><path d="M289.2,2042.2h4.6l-2.3-4z"/><path d="M332.0,2048.9h4.6l-2.3-4z"/><path d="M286.7,2037.0h4.6l-2.3-4z"/><path d="M277.8,2057.5h4.6l-2.3-4z"/><path d="M318.2,2031.5h4.6l-2.3-4z"/><path d="M325.0,2026.1h4.6l-2.3-4z"/><path d="M284.5,1932.5h4.6l-2.3-4z"/><path d="M300.3,2014.3h4.6l-2.3-4z"/><path d="M299.5,2033.4h4.6l-2.3-4z"/><path d="M336.9,2052.5h4.6l-2.3-4z"/><path d="M306.1,2063.4h4.6l-2.3-4z"/><path d="M289.9,2040.7h4.6l-2.3-4z"/><path d="M332.7,2051.4h4.6l-2.3-4z"/><path d="M296.7,2036.1h4.6l-2.3-4z"/><path d="M288.8,2067.5h4.6l-2.3-4z"/><path d="M297.8,2027.5h4.6l-2.3-4z"/><path d="M286.2,2047.9h4.6l-2.3-4z"/><path d="M309.1,1972.6h4.6l-2.3-4z"/><path d="M333.4,2037.4h4.6l-2.3-4z"/><path d="M323.1,2046.7h4.6l-2.3-4z"/><path d="M299.9,2067.5h4.6l-2.3-4z"/><path d="M331.3,2009.9h4.6l-2.3-4z"/><path d="M325.1,2053.5h4.6l-2.3-4z"/><path d="M310.8,2068.5h4.6l-2.3-4z"/><path d="M337.7,2058.4h4.6l-2.3-4z"/><path d="M327.3,2055.0h4.6l-2.3-4z"/><path d="M286.3,2062.6h4.6l-2.3-4z"/><path d="M314.9,1979.4h4.6l-2.3-4z"/><path d="M321.5,2052.9h4.6l-2.3-4z"/><path d="M301.2,2038.3h4.6l-2.3-4z"/><path d="M290.3,2063.7h4.6l-2.3-4z"/><path d="M305.2,2061.1h4.6l-2.3-4z"/><path d="M301.2,2029.2h4.6l-2.3-4z"/><path d="M331.6,2050.5h4.6l-2.3-4z"/><path d="M310.1,2062.1h4.6l-2.3-4z"/><path d="M327.9,2055.9h4.6l-2.3-4z"/><path d="M295.6,2057.5h4.6l-2.3-4z"/><path d="M330.4,2038.6h4.6l-2.3-4z"/><path d="M292.5,2065.6h4.6l-2.3-4z"/><path d="M293.3,2043.7h4.6l-2.3-4z"/><path d="M280.0,2007.0h4.6l-2.3-4z"/><path d="M289.4,2016.2h4.6l-2.3-4z"/><path d="M331.4,2060.4h4.6l-2.3-4z"/><path d="M320.0,2057.4h4.6l-2.3-4z"/><path d="M281.5,2027.2h4.6l-2.3-4z"/><path d="M315.6,2018.9h4.6l-2.3-4z"/><path d="M320.3,2046.1h4.6l-2.3-4z"/><path d="M392.4,2020.9h4.6l-2.3-4z"/><path d="M395.8,2027.6h4.6l-2.3-4z"/><path d="M374.9,2023.3h4.6l-2.3-4z"/><path d="M391.3,2021.7h4.6l-2.3-4z"/><path d="M412.9,2002.5h4.6l-2.3-4z"/><path d="M406.5,2041.6h4.6l-2.3-4z"/><path d="M383.9,1994.4h4.6l-2.3-4z"/><path d="M381.4,2009.1h4.6l-2.3-4z"/><path d="M393.5,1992.9h4.6l-2.3-4z"/><path d="M367.8,2027.6h4.6l-2.3-4z"/><path d="M361.5,2027.0h4.6l-2.3-4z"/><path d="M371.0,1907.4h4.6l-2.3-4z"/><path d="M357.2,2022.8h4.6l-2.3-4z"/><path d="M347.3,2005.6h4.6l-2.3-4z"/><path d="M410.9,1951.4h4.6l-2.3-4z"/><path d="M407.3,1987.9h4.6l-2.3-4z"/><path d="M393.9,2042.4h4.6l-2.3-4z"/><path d="M340.6,2035.0h4.6l-2.3-4z"/><path d="M407.4,2038.3h4.6l-2.3-4z"/><path d="M378.7,2027.5h4.6l-2.3-4z"/><path d="M413.9,2046.5h4.6l-2.3-4z"/><path d="M397.6,2053.7h4.6l-2.3-4z"/><path d="M353.8,1978.8h4.6l-2.3-4z"/><path d="M396.4,2017.8h4.6l-2.3-4z"/><path d="M348.1,1804.0h4.6l-2.3-4z"/><path d="M372.7,2017.6h4.6l-2.3-4z"/><path d="M347.7,1964.3h4.6l-2.3-4z"/><path d="M397.8,2049.4h4.6l-2.3-4z"/><path d="M411.7,2046.0h4.6l-2.3-4z"/><path d="M377.1,2001.4h4.6l-2.3-4z"/><path d="M376.8,1935.1h4.6l-2.3-4z"/><path d="M359.0,1941.8h4.6l-2.3-4z"/><path d="M370.1,2051.2h4.6l-2.3-4z"/><path d="M385.7,1999.3h4.6l-2.3-4z"/><path d="M400.3,2036.0h4.6l-2.3-4z"/><path d="M414.3,2004.5h4.6l-2.3-4z"/><path d="M407.2,2009.4h4.6l-2.3-4z"/><path d="M349.8,1973.6h4.6l-2.3-4z"/><path d="M393.3,1972.1h4.6l-2.3-4z"/><path d="M410.0,1915.1h4.6l-2.3-4z"/><path d="M395.5,2015.5h4.6l-2.3-4z"/><path d="M343.4,2049.5h4.6l-2.3-4z"/><path d="M364.2,2052.3h4.6l-2.3-4z"/><path d="M371.3,2025.1h4.6l-2.3-4z"/><path d="M342.2,2071.5h4.6l-2.3-4z"/><path d="M351.9,2067.8h4.6l-2.3-4z"/><path d="M406.9,1991.6h4.6l-2.3-4z"/><path d="M376.2,2025.4h4.6l-2.3-4z"/><path d="M415.8,2015.9h4.6l-2.3-4z"/><path d="M391.3,2043.7h4.6l-2.3-4z"/><path d="M376.5,2039.7h4.6l-2.3-4z"/><path d="M374.2,2020.8h4.6l-2.3-4z"/><path d="M384.1,1990.6h4.6l-2.3-4z"/><path d="M388.8,2024.8h4.6l-2.3-4z"/><path d="M338.9,2027.6h4.6l-2.3-4z"/><path d="M402.2,2044.2h4.6l-2.3-4z"/><path d="M348.8,2045.1h4.6l-2.3-4z"/><path d="M354.5,2002.2h4.6l-2.3-4z"/><path d="M340.8,2032.9h4.6l-2.3-4z"/><path d="M403.5,2019.5h4.6l-2.3-4z"/><path d="M375.4,2000.6h4.6l-2.3-4z"/><path d="M396.3,2043.7h4.6l-2.3-4z"/><path d="M388.9,2011.3h4.6l-2.3-4z"/><path d="M397.1,1996.6h4.6l-2.3-4z"/><path d="M374.8,1951.6h4.6l-2.3-4z"/><path d="M375.3,2027.0h4.6l-2.3-4z"/><path d="M357.0,2011.1h4.6l-2.3-4z"/><path d="M387.1,2021.3h4.6l-2.3-4z"/><path d="M368.5,1933.9h4.6l-2.3-4z"/><path d="M404.4,2023.1h4.6l-2.3-4z"/><path d="M396.2,2041.8h4.6l-2.3-4z"/><path d="M412.7,2023.1h4.6l-2.3-4z"/><path d="M348.8,2046.8h4.6l-2.3-4z"/><path d="M370.7,2025.8h4.6l-2.3-4z"/><path d="M358.8,2052.7h4.6l-2.3-4z"/><path d="M416.5,2042.7h4.6l-2.3-4z"/><path d="M360.7,2035.4h4.6l-2.3-4z"/><path d="M345.2,1993.9h4.6l-2.3-4z"/><path d="M360.1,2057.9h4.6l-2.3-4z"/><path d="M375.0,1988.3h4.6l-2.3-4z"/><path d="M368.5,2046.9h4.6l-2.3-4z"/><path d="M341.9,2043.5h4.6l-2.3-4z"/><path d="M360.8,2060.9h4.6l-2.3-4z"/><path d="M344.2,2055.8h4.6l-2.3-4z"/><path d="M351.0,2043.8h4.6l-2.3-4z"/><path d="M399.8,2016.0h4.6l-2.3-4z"/><path d="M400.7,2031.9h4.6l-2.3-4z"/><path d="M361.7,2027.5h4.6l-2.3-4z"/><path d="M377.3,2017.4h4.6l-2.3-4z"/><path d="M380.3,2029.9h4.6l-2.3-4z"/><path d="M353.6,2046.6h4.6l-2.3-4z"/><path d="M343.3,2016.9h4.6l-2.3-4z"/><path d="M347.4,2039.6h4.6l-2.3-4z"/><path d="M397.4,1979.7h4.6l-2.3-4z"/><path d="M377.8,1981.5h4.6l-2.3-4z"/><path d="M389.5,2031.1h4.6l-2.3-4z"/><path d="M350.7,1993.1h4.6l-2.3-4z"/><path d="M354.7,1975.5h4.6l-2.3-4z"/><path d="M407.9,2033.2h4.6l-2.3-4z"/><path d="M375.9,2044.5h4.6l-2.3-4z"/><path d="M383.8,1906.1h4.6l-2.3-4z"/><path d="M364.1,2008.8h4.6l-2.3-4z"/><path d="M341.9,1970.1h4.6l-2.3-4z"/><path d="M340.7,1955.0h4.6l-2.3-4z"/><path d="M373.5,2046.1h4.6l-2.3-4z"/><path d="M381.4,2040.6h4.6l-2.3-4z"/><path d="M360.3,2029.6h4.6l-2.3-4z"/><path d="M345.8,2056.6h4.6l-2.3-4z"/><path d="M358.0,2000.0h4.6l-2.3-4z"/><path d="M394.6,2003.8h4.6l-2.3-4z"/><path d="M382.4,2016.5h4.6l-2.3-4z"/><path d="M384.0,2019.8h4.6l-2.3-4z"/><path d="M395.5,2029.7h4.6l-2.3-4z"/><path d="M362.7,2050.4h4.6l-2.3-4z"/><path d="M375.2,2052.5h4.6l-2.3-4z"/><path d="M345.1,1975.1h4.6l-2.3-4z"/><path d="M342.8,2059.0h4.6l-2.3-4z"/><path d="M393.4,1980.7h4.6l-2.3-4z"/><path d="M400.8,2017.2h4.6l-2.3-4z"/><path d="M378.2,2046.0h4.6l-2.3-4z"/><path d="M348.5,2022.7h4.6l-2.3-4z"/><path d="M413.6,2036.9h4.6l-2.3-4z"/><path d="M415.8,1950.2h4.6l-2.3-4z"/><path d="M412.8,2039.1h4.6l-2.3-4z"/><path d="M383.0,1951.0h4.6l-2.3-4z"/><path d="M398.5,2013.1h4.6l-2.3-4z"/><path d="M417.4,2026.2h4.6l-2.3-4z"/><path d="M368.3,1998.5h4.6l-2.3-4z"/><path d="M400.5,2010.8h4.6l-2.3-4z"/><path d="M345.3,2066.9h4.6l-2.3-4z"/><path d="M353.1,2049.6h4.6l-2.3-4z"/><path d="M381.2,2045.6h4.6l-2.3-4z"/><path d="M353.3,2064.8h4.6l-2.3-4z"/><path d="M404.4,2041.9h4.6l-2.3-4z"/><path d="M347.0,1997.9h4.6l-2.3-4z"/><path d="M388.2,2000.4h4.6l-2.3-4z"/><path d="M340.3,2014.1h4.6l-2.3-4z"/><path d="M345.7,2034.7h4.6l-2.3-4z"/><path d="M354.0,1996.0h4.6l-2.3-4z"/><path d="M411.4,2027.4h4.6l-2.3-4z"/><path d="M340.8,1908.5h4.6l-2.3-4z"/><path d="M378.4,2011.9h4.6l-2.3-4z"/><path d="M351.6,2037.1h4.6l-2.3-4z"/><path d="M413.5,2033.9h4.6l-2.3-4z"/><path d="M393.1,2052.1h4.6l-2.3-4z"/><path d="M411.0,1870.6h4.6l-2.3-4z"/><path d="M414.9,1925.5h4.6l-2.3-4z"/><path d="M390.8,2054.1h4.6l-2.3-4z"/><path d="M390.5,2052.5h4.6l-2.3-4z"/><path d="M409.7,2043.6h4.6l-2.3-4z"/><path d="M385.5,2047.9h4.6l-2.3-4z"/><path d="M344.3,1971.9h4.6l-2.3-4z"/><path d="M413.3,1934.1h4.6l-2.3-4z"/><path d="M340.0,1997.6h4.6l-2.3-4z"/><path d="M373.8,2013.1h4.6l-2.3-4z"/><path d="M356.5,2037.5h4.6l-2.3-4z"/><path d="M344.6,2048.4h4.6l-2.3-4z"/><path d="M386.1,2019.3h4.6l-2.3-4z"/><path d="M365.2,2056.7h4.6l-2.3-4z"/><path d="M386.0,2051.8h4.6l-2.3-4z"/><path d="M378.9,1979.8h4.6l-2.3-4z"/><path d="M383.6,1981.1h4.6l-2.3-4z"/><path d="M345.8,1996.4h4.6l-2.3-4z"/><path d="M358.3,2017.2h4.6l-2.3-4z"/><path d="M351.4,2042.7h4.6l-2.3-4z"/><path d="M350.4,1971.7h4.6l-2.3-4z"/><path d="M378.6,2022.2h4.6l-2.3-4z"/><path d="M416.2,2033.1h4.6l-2.3-4z"/><path d="M393.7,2054.6h4.6l-2.3-4z"/><path d="M417.6,1935.3h4.6l-2.3-4z"/><path d="M366.7,2028.4h4.6l-2.3-4z"/><path d="M348.6,2043.3h4.6l-2.3-4z"/><path d="M371.6,2010.3h4.6l-2.3-4z"/><path d="M407.4,2010.9h4.6l-2.3-4z"/><path d="M411.7,2033.4h4.6l-2.3-4z"/><path d="M347.9,2044.5h4.6l-2.3-4z"/><path d="M404.7,2011.1h4.6l-2.3-4z"/><path d="M391.1,1983.7h4.6l-2.3-4z"/><path d="M352.0,1980.4h4.6l-2.3-4z"/><path d="M412.5,1897.7h4.6l-2.3-4z"/><path d="M383.3,2064.8h4.6l-2.3-4z"/><path d="M373.1,1928.2h4.6l-2.3-4z"/><path d="M388.8,2046.1h4.6l-2.3-4z"/><path d="M358.5,1951.6h4.6l-2.3-4z"/><path d="M409.1,1988.3h4.6l-2.3-4z"/><path d="M388.8,2036.1h4.6l-2.3-4z"/><path d="M375.6,2035.8h4.6l-2.3-4z"/><path d="M346.7,2002.9h4.6l-2.3-4z"/><path d="M371.0,2017.6h4.6l-2.3-4z"/><path d="M367.0,2047.7h4.6l-2.3-4z"/><path d="M351.7,2028.3h4.6l-2.3-4z"/><path d="M396.6,2045.3h4.6l-2.3-4z"/><path d="M340.2,2028.5h4.6l-2.3-4z"/><path d="M414.0,1996.5h4.6l-2.3-4z"/><path d="M393.9,2044.0h4.6l-2.3-4z"/><path d="M386.3,2050.7h4.6l-2.3-4z"/><path d="M374.3,2033.6h4.6l-2.3-4z"/><path d="M380.5,2007.4h4.6l-2.3-4z"/><path d="M401.4,2052.4h4.6l-2.3-4z"/><path d="M357.9,2045.6h4.6l-2.3-4z"/><path d="M360.8,2058.0h4.6l-2.3-4z"/><path d="M377.3,1930.1h4.6l-2.3-4z"/><path d="M352.3,2063.6h4.6l-2.3-4z"/><path d="M356.8,2057.4h4.6l-2.3-4z"/><path d="M395.3,1995.9h4.6l-2.3-4z"/><path d="M357.0,1925.3h4.6l-2.3-4z"/><path d="M368.8,2019.7h4.6l-2.3-4z"/><path d="M360.7,1983.4h4.6l-2.3-4z"/><path d="M342.6,1997.2h4.6l-2.3-4z"/><path d="M364.8,2027.2h4.6l-2.3-4z"/><path d="M412.4,2011.1h4.6l-2.3-4z"/><path d="M394.7,2000.9h4.6l-2.3-4z"/><path d="M387.5,2021.0h4.6l-2.3-4z"/><path d="M417.7,1954.0h4.6l-2.3-4z"/><path d="M360.6,2050.7h4.6l-2.3-4z"/><path d="M380.7,2031.3h4.6l-2.3-4z"/><path d="M346.7,2038.4h4.6l-2.3-4z"/><path d="M397.5,2022.3h4.6l-2.3-4z"/><path d="M374.3,2017.5h4.6l-2.3-4z"/><path d="M393.6,2029.2h4.6l-2.3-4z"/><path d="M400.0,2005.8h4.6l-2.3-4z"/><path d="M344.3,1965.1h4.6l-2.3-4z"/><path d="M416.5,2021.0h4.6l-2.3-4z"/><path d="M368.9,2010.2h4.6l-2.3-4z"/><path d="M352.8,2025.6h4.6l-2.3-4z"/><path d="M392.4,2017.3h4.6l-2.3-4z"/><path d="M353.3,2018.0h4.6l-2.3-4z"/><path d="M370.8,1879.4h4.6l-2.3-4z"/><path d="M378.7,2057.3h4.6l-2.3-4z"/><path d="M386.5,2027.6h4.6l-2.3-4z"/><path d="M407.3,2008.9h4.6l-2.3-4z"/><path d="M387.3,2049.7h4.6l-2.3-4z"/><path d="M415.2,1991.8h4.6l-2.3-4z"/><path d="M414.7,2013.3h4.6l-2.3-4z"/><path d="M346.5,2001.2h4.6l-2.3-4z"/><path d="M399.1,2037.4h4.6l-2.3-4z"/><path d="M355.3,1999.6h4.6l-2.3-4z"/><path d="M413.0,2034.0h4.6l-2.3-4z"/><path d="M417.2,1907.4h4.6l-2.3-4z"/><path d="M342.3,2053.8h4.6l-2.3-4z"/><path d="M401.3,2041.3h4.6l-2.3-4z"/><path d="M405.4,1969.8h4.6l-2.3-4z"/><path d="M376.3,2019.2h4.6l-2.3-4z"/><path d="M348.8,2052.6h4.6l-2.3-4z"/><path d="M350.4,2031.4h4.6l-2.3-4z"/><path d="M410.7,2047.7h4.6l-2.3-4z"/><path d="M396.4,2053.0h4.6l-2.3-4z"/><path d="M413.4,2000.5h4.6l-2.3-4z"/><path d="M343.9,1976.7h4.6l-2.3-4z"/><path d="M398.9,2052.0h4.6l-2.3-4z"/><path d="M362.8,2020.3h4.6l-2.3-4z"/><path d="M381.0,2020.4h4.6l-2.3-4z"/><path d="M354.6,2032.8h4.6l-2.3-4z"/><path d="M412.4,2013.4h4.6l-2.3-4z"/><path d="M337.8,2041.4h4.6l-2.3-4z"/><path d="M343.0,2001.6h4.6l-2.3-4z"/><path d="M399.1,1986.0h4.6l-2.3-4z"/><path d="M386.5,1987.9h4.6l-2.3-4z"/><path d="M356.9,2046.1h4.6l-2.3-4z"/><path d="M345.1,2031.7h4.6l-2.3-4z"/><path d="M343.8,2011.3h4.6l-2.3-4z"/><path d="M379.0,1994.3h4.6l-2.3-4z"/><path d="M404.4,2034.8h4.6l-2.3-4z"/><path d="M373.0,1978.6h4.6l-2.3-4z"/><path d="M410.3,1899.7h4.6l-2.3-4z"/><path d="M388.3,2004.6h4.6l-2.3-4z"/><path d="M391.1,1994.4h4.6l-2.3-4z"/><path d="M351.1,1991.3h4.6l-2.3-4z"/><path d="M409.0,2021.2h4.6l-2.3-4z"/><path d="M363.9,2033.1h4.6l-2.3-4z"/><path d="M339.4,2019.1h4.6l-2.3-4z"/><path d="M397.4,2034.5h4.6l-2.3-4z"/><path d="M401.8,2044.6h4.6l-2.3-4z"/><path d="M371.9,2057.8h4.6l-2.3-4z"/><path d="M410.4,2026.9h4.6l-2.3-4z"/><path d="M401.6,1957.7h4.6l-2.3-4z"/><path d="M399.2,1917.4h4.6l-2.3-4z"/><path d="M353.7,2057.0h4.6l-2.3-4z"/><path d="M395.1,2045.9h4.6l-2.3-4z"/><path d="M384.3,2030.5h4.6l-2.3-4z"/><path d="M414.9,2007.4h4.6l-2.3-4z"/><path d="M391.1,2037.5h4.6l-2.3-4z"/><path d="M347.5,2028.5h4.6l-2.3-4z"/><path d="M377.5,2014.6h4.6l-2.3-4z"/><path d="M350.6,2021.8h4.6l-2.3-4z"/><path d="M350.9,2056.9h4.6l-2.3-4z"/><path d="M416.9,2046.1h4.6l-2.3-4z"/><path d="M380.9,2023.9h4.6l-2.3-4z"/><path d="M343.2,2052.6h4.6l-2.3-4z"/><path d="M373.6,2018.9h4.6l-2.3-4z"/><path d="M372.3,2035.7h4.6l-2.3-4z"/><path d="M371.9,2012.2h4.6l-2.3-4z"/><path d="M356.8,1988.8h4.6l-2.3-4z"/><path d="M345.1,2009.7h4.6l-2.3-4z"/><path d="M417.1,1938.5h4.6l-2.3-4z"/><path d="M346.6,2068.3h4.6l-2.3-4z"/><path d="M402.1,1931.3h4.6l-2.3-4z"/><path d="M407.8,2028.1h4.6l-2.3-4z"/><path d="M400.0,2031.7h4.6l-2.3-4z"/><path d="M359.4,2023.1h4.6l-2.3-4z"/><path d="M398.8,2047.4h4.6l-2.3-4z"/><path d="M396.4,1870.3h4.6l-2.3-4z"/><path d="M387.1,2049.0h4.6l-2.3-4z"/><path d="M373.8,2042.0h4.6l-2.3-4z"/><path d="M390.6,2002.2h4.6l-2.3-4z"/><path d="M401.5,2037.1h4.6l-2.3-4z"/><path d="M362.6,1989.2h4.6l-2.3-4z"/><path d="M384.1,1995.4h4.6l-2.3-4z"/><path d="M343.4,1979.3h4.6l-2.3-4z"/><path d="M384.7,2030.5h4.6l-2.3-4z"/><path d="M378.1,1979.5h4.6l-2.3-4z"/><path d="M345.6,2006.2h4.6l-2.3-4z"/><path d="M406.8,2017.9h4.6l-2.3-4z"/><path d="M358.5,1979.4h4.6l-2.3-4z"/><path d="M409.5,1990.2h4.6l-2.3-4z"/><path d="M378.9,2037.6h4.6l-2.3-4z"/><path d="M388.3,1934.7h4.6l-2.3-4z"/><path d="M350.1,2052.9h4.6l-2.3-4z"/><path d="M416.9,2012.4h4.6l-2.3-4z"/><path d="M338.2,1839.9h4.6l-2.3-4z"/><path d="M378.8,2026.9h4.6l-2.3-4z"/><path d="M370.2,1995.4h4.6l-2.3-4z"/><path d="M377.9,1995.0h4.6l-2.3-4z"/><path d="M351.0,2039.1h4.6l-2.3-4z"/><path d="M395.8,2014.2h4.6l-2.3-4z"/><path d="M377.5,2044.1h4.6l-2.3-4z"/><path d="M338.5,2006.6h4.6l-2.3-4z"/><path d="M400.8,1961.3h4.6l-2.3-4z"/><path d="M341.0,1997.6h4.6l-2.3-4z"/><path d="M412.0,1920.6h4.6l-2.3-4z"/><path d="M367.2,1984.8h4.6l-2.3-4z"/><path d="M341.7,1984.8h4.6l-2.3-4z"/><path d="M414.9,1990.9h4.6l-2.3-4z"/><path d="M381.5,2022.7h4.6l-2.3-4z"/><path d="M378.3,2029.0h4.6l-2.3-4z"/><path d="M360.1,2032.1h4.6l-2.3-4z"/><path d="M339.1,1870.2h4.6l-2.3-4z"/><path d="M341.9,2078.1h4.6l-2.3-4z"/><path d="M386.4,2059.1h4.6l-2.3-4z"/><path d="M362.8,2008.8h4.6l-2.3-4z"/><path d="M350.3,2059.3h4.6l-2.3-4z"/><path d="M353.0,2040.1h4.6l-2.3-4z"/><path d="M352.7,1990.3h4.6l-2.3-4z"/><path d="M356.7,2027.8h4.6l-2.3-4z"/><path d="M342.3,2041.4h4.6l-2.3-4z"/><path d="M396.9,1947.1h4.6l-2.3-4z"/><path d="M397.4,1931.2h4.6l-2.3-4z"/><path d="M344.2,2020.2h4.6l-2.3-4z"/><path d="M345.8,2022.1h4.6l-2.3-4z"/><path d="M354.9,2050.5h4.6l-2.3-4z"/><path d="M391.0,2013.0h4.6l-2.3-4z"/><path d="M385.9,1996.7h4.6l-2.3-4z"/><path d="M354.0,2059.0h4.6l-2.3-4z"/><path d="M376.1,1975.2h4.6l-2.3-4z"/><path d="M374.5,2028.9h4.6l-2.3-4z"/><path d="M411.8,1948.3h4.6l-2.3-4z"/><path d="M375.5,2060.3h4.6l-2.3-4z"/><path d="M388.2,1917.1h4.6l-2.3-4z"/><path d="M388.5,1970.0h4.6l-2.3-4z"/><path d="M398.4,2047.4h4.6l-2.3-4z"/><path d="M395.9,2011.3h4.6l-2.3-4z"/><path d="M393.6,2050.6h4.6l-2.3-4z"/><path d="M338.4,2022.8h4.6l-2.3-4z"/><path d="M354.2,2051.2h4.6l-2.3-4z"/><path d="M390.3,2052.4h4.6l-2.3-4z"/><path d="M346.0,2049.2h4.6l-2.3-4z"/><path d="M411.1,1965.7h4.6l-2.3-4z"/><path d="M385.4,2049.0h4.6l-2.3-4z"/><path d="M361.5,2044.0h4.6l-2.3-4z"/><path d="M390.0,1971.0h4.6l-2.3-4z"/><path d="M367.6,2055.2h4.6l-2.3-4z"/><path d="M409.9,2020.6h4.6l-2.3-4z"/><path d="M383.0,2047.0h4.6l-2.3-4z"/><path d="M352.4,2030.3h4.6l-2.3-4z"/><path d="M340.9,2046.3h4.6l-2.3-4z"/><path d="M362.2,2020.9h4.6l-2.3-4z"/><path d="M351.6,1968.3h4.6l-2.3-4z"/><path d="M408.1,2006.1h4.6l-2.3-4z"/><path d="M385.2,2043.4h4.6l-2.3-4z"/><path d="M397.1,2015.0h4.6l-2.3-4z"/><path d="M385.3,2032.8h4.6l-2.3-4z"/><path d="M411.1,2033.8h4.6l-2.3-4z"/><path d="M384.8,2034.1h4.6l-2.3-4z"/><path d="M346.8,1914.8h4.6l-2.3-4z"/><path d="M357.5,1992.3h4.6l-2.3-4z"/><path d="M385.1,2046.6h4.6l-2.3-4z"/><path d="M363.4,2015.6h4.6l-2.3-4z"/><path d="M366.3,2035.7h4.6l-2.3-4z"/><path d="M337.9,2007.8h4.6l-2.3-4z"/><path d="M389.1,1982.0h4.6l-2.3-4z"/><path d="M344.7,1987.8h4.6l-2.3-4z"/><path d="M399.5,2032.9h4.6l-2.3-4z"/><path d="M391.3,2029.6h4.6l-2.3-4z"/><path d="M360.9,2000.7h4.6l-2.3-4z"/><path d="M375.9,2030.6h4.6l-2.3-4z"/><path d="M349.4,2020.4h4.6l-2.3-4z"/><path d="M362.9,2041.8h4.6l-2.3-4z"/><path d="M371.3,2022.8h4.6l-2.3-4z"/><path d="M408.7,2021.9h4.6l-2.3-4z"/><path d="M353.0,2045.9h4.6l-2.3-4z"/><path d="M362.9,2045.7h4.6l-2.3-4z"/><path d="M383.4,2010.0h4.6l-2.3-4z"/><path d="M382.9,2034.5h4.6l-2.3-4z"/><path d="M397.2,2006.1h4.6l-2.3-4z"/><path d="M415.6,2000.3h4.6l-2.3-4z"/><path d="M384.5,2058.9h4.6l-2.3-4z"/><path d="M373.8,2060.1h4.6l-2.3-4z"/><path d="M338.5,1997.3h4.6l-2.3-4z"/><path d="M352.7,1914.8h4.6l-2.3-4z"/><path d="M355.9,2020.6h4.6l-2.3-4z"/><path d="M393.9,2003.9h4.6l-2.3-4z"/><path d="M409.0,2036.3h4.6l-2.3-4z"/><path d="M368.9,2035.9h4.6l-2.3-4z"/><path d="M411.6,1974.7h4.6l-2.3-4z"/><path d="M366.1,2028.5h4.6l-2.3-4z"/><path d="M341.6,2039.2h4.6l-2.3-4z"/><path d="M361.8,1994.3h4.6l-2.3-4z"/><path d="M409.4,2045.3h4.6l-2.3-4z"/><path d="M385.7,1944.5h4.6l-2.3-4z"/><path d="M370.1,2001.3h4.6l-2.3-4z"/><path d="M396.5,1984.0h4.6l-2.3-4z"/><path d="M400.4,2027.8h4.6l-2.3-4z"/><path d="M405.8,1974.2h4.6l-2.3-4z"/><path d="M346.8,2005.6h4.6l-2.3-4z"/><path d="M407.4,1996.3h4.6l-2.3-4z"/><path d="M378.7,2027.4h4.6l-2.3-4z"/><path d="M367.9,2001.6h4.6l-2.3-4z"/><path d="M343.8,2021.1h4.6l-2.3-4z"/><path d="M372.9,2054.8h4.6l-2.3-4z"/><path d="M353.9,1987.1h4.6l-2.3-4z"/><path d="M339.7,2036.3h4.6l-2.3-4z"/><path d="M405.2,2044.5h4.6l-2.3-4z"/><path d="M342.4,2043.4h4.6l-2.3-4z"/><path d="M413.1,2053.5h4.6l-2.3-4z"/><path d="M391.0,2029.5h4.6l-2.3-4z"/><path d="M366.8,2031.9h4.6l-2.3-4z"/><path d="M384.3,2041.0h4.6l-2.3-4z"/><path d="M385.8,2025.4h4.6l-2.3-4z"/><path d="M411.7,2046.3h4.6l-2.3-4z"/><path d="M348.0,2022.8h4.6l-2.3-4z"/><path d="M381.6,2032.5h4.6l-2.3-4z"/><path d="M379.0,2045.4h4.6l-2.3-4z"/><path d="M412.8,2041.1h4.6l-2.3-4z"/><path d="M355.4,2064.4h4.6l-2.3-4z"/><path d="M343.2,2027.6h4.6l-2.3-4z"/><path d="M366.3,2059.5h4.6l-2.3-4z"/><path d="M404.4,2014.0h4.6l-2.3-4z"/><path d="M374.6,2038.2h4.6l-2.3-4z"/><path d="M375.2,2053.9h4.6l-2.3-4z"/><path d="M406.9,2054.8h4.6l-2.3-4z"/><path d="M366.6,2040.3h4.6l-2.3-4z"/><path d="M359.7,2068.6h4.6l-2.3-4z"/><path d="M375.7,2043.7h4.6l-2.3-4z"/><path d="M399.6,1930.1h4.6l-2.3-4z"/><path d="M386.2,2028.6h4.6l-2.3-4z"/><path d="M393.9,2060.9h4.6l-2.3-4z"/><path d="M360.9,2053.9h4.6l-2.3-4z"/><path d="M402.7,1994.2h4.6l-2.3-4z"/><path d="M347.0,1973.8h4.6l-2.3-4z"/><path d="M353.2,2063.9h4.6l-2.3-4z"/><path d="M381.3,2000.0h4.6l-2.3-4z"/><path d="M341.2,2021.7h4.6l-2.3-4z"/><path d="M370.1,2019.8h4.6l-2.3-4z"/><path d="M415.6,2014.4h4.6l-2.3-4z"/><path d="M356.0,2057.3h4.6l-2.3-4z"/><path d="M398.4,2028.6h4.6l-2.3-4z"/><path d="M339.0,2006.8h4.6l-2.3-4z"/><path d="M348.0,2021.1h4.6l-2.3-4z"/><path d="M364.9,2037.9h4.6l-2.3-4z"/><path d="M390.2,2024.1h4.6l-2.3-4z"/><path d="M349.7,1991.6h4.6l-2.3-4z"/><path d="M376.9,2067.4h4.6l-2.3-4z"/><path d="M397.5,2041.7h4.6l-2.3-4z"/><path d="M406.8,1986.4h4.6l-2.3-4z"/><path d="M361.8,2008.2h4.6l-2.3-4z"/><path d="M351.5,1972.5h4.6l-2.3-4z"/><path d="M407.3,2003.5h4.6l-2.3-4z"/><path d="M347.4,2013.9h4.6l-2.3-4z"/><path d="M381.0,1974.8h4.6l-2.3-4z"/><path d="M341.2,1996.5h4.6l-2.3-4z"/><path d="M375.5,2011.8h4.6l-2.3-4z"/><path d="M375.3,2062.4h4.6l-2.3-4z"/><path d="M405.4,2048.6h4.6l-2.3-4z"/><path d="M367.3,2045.5h4.6l-2.3-4z"/><path d="M386.5,2044.8h4.6l-2.3-4z"/><path d="M405.7,1946.6h4.6l-2.3-4z"/><path d="M375.6,2041.5h4.6l-2.3-4z"/><path d="M401.6,1989.5h4.6l-2.3-4z"/><path d="M389.8,2023.7h4.6l-2.3-4z"/><path d="M416.7,1985.9h4.6l-2.3-4z"/><path d="M387.3,2050.0h4.6l-2.3-4z"/><path d="M361.9,2052.4h4.6l-2.3-4z"/><path d="M369.0,2005.8h4.6l-2.3-4z"/><path d="M373.9,2050.5h4.6l-2.3-4z"/><path d="M405.7,2027.3h4.6l-2.3-4z"/><path d="M415.2,2021.3h4.6l-2.3-4z"/><path d="M415.5,2022.9h4.6l-2.3-4z"/><path d="M362.5,1988.0h4.6l-2.3-4z"/><path d="M405.4,2041.7h4.6l-2.3-4z"/><path d="M413.9,2033.1h4.6l-2.3-4z"/><path d="M388.5,2003.1h4.6l-2.3-4z"/><path d="M389.8,1967.8h4.6l-2.3-4z"/><path d="M384.3,2029.4h4.6l-2.3-4z"/><path d="M381.9,2047.8h4.6l-2.3-4z"/><path d="M371.4,2016.9h4.6l-2.3-4z"/><path d="M399.3,2050.4h4.6l-2.3-4z"/><path d="M408.0,1918.0h4.6l-2.3-4z"/><path d="M371.1,2043.2h4.6l-2.3-4z"/><path d="M405.4,2040.9h4.6l-2.3-4z"/><path d="M361.1,1986.2h4.6l-2.3-4z"/><path d="M385.1,2022.3h4.6l-2.3-4z"/><path d="M412.2,1992.9h4.6l-2.3-4z"/><path d="M347.0,2040.6h4.6l-2.3-4z"/><path d="M382.7,2040.7h4.6l-2.3-4z"/><path d="M399.2,2000.6h4.6l-2.3-4z"/><path d="M379.2,1985.6h4.6l-2.3-4z"/><path d="M346.7,2037.6h4.6l-2.3-4z"/><path d="M346.2,2047.4h4.6l-2.3-4z"/><path d="M376.9,2052.6h4.6l-2.3-4z"/><path d="M371.8,1999.8h4.6l-2.3-4z"/><path d="M357.4,2039.7h4.6l-2.3-4z"/><path d="M414.6,2046.1h4.6l-2.3-4z"/><path d="M402.2,2022.3h4.6l-2.3-4z"/><path d="M399.8,2049.3h4.6l-2.3-4z"/><path d="M417.0,1909.2h4.6l-2.3-4z"/><path d="M384.2,2006.8h4.6l-2.3-4z"/><path d="M387.1,2037.3h4.6l-2.3-4z"/><path d="M377.0,2057.1h4.6l-2.3-4z"/><path d="M401.4,2030.8h4.6l-2.3-4z"/><path d="M384.0,2051.6h4.6l-2.3-4z"/><path d="M364.4,2057.7h4.6l-2.3-4z"/><path d="M392.1,2047.6h4.6l-2.3-4z"/><path d="M384.7,2008.9h4.6l-2.3-4z"/><path d="M407.2,1998.1h4.6l-2.3-4z"/><path d="M357.0,2045.1h4.6l-2.3-4z"/><path d="M368.2,2026.0h4.6l-2.3-4z"/><path d="M365.0,1981.6h4.6l-2.3-4z"/><path d="M386.5,2013.5h4.6l-2.3-4z"/><path d="M400.5,1967.8h4.6l-2.3-4z"/><path d="M416.5,2046.5h4.6l-2.3-4z"/><path d="M344.7,2061.2h4.6l-2.3-4z"/><path d="M362.8,2060.6h4.6l-2.3-4z"/><path d="M368.3,2013.6h4.6l-2.3-4z"/><path d="M407.9,2013.9h4.6l-2.3-4z"/><path d="M344.8,1963.7h4.6l-2.3-4z"/><path d="M348.9,2045.4h4.6l-2.3-4z"/><path d="M385.9,2045.6h4.6l-2.3-4z"/><path d="M415.2,2031.8h4.6l-2.3-4z"/><path d="M391.6,1955.9h4.6l-2.3-4z"/><path d="M378.3,2037.0h4.6l-2.3-4z"/><path d="M380.0,1973.6h4.6l-2.3-4z"/><path d="M368.7,2068.0h4.6l-2.3-4z"/><path d="M351.2,2021.2h4.6l-2.3-4z"/><path d="M352.9,2055.8h4.6l-2.3-4z"/><path d="M381.2,2023.2h4.6l-2.3-4z"/><path d="M390.5,1990.1h4.6l-2.3-4z"/><path d="M415.7,2016.3h4.6l-2.3-4z"/><path d="M390.9,2055.5h4.6l-2.3-4z"/><path d="M405.2,2021.7h4.6l-2.3-4z"/><path d="M416.7,2033.5h4.6l-2.3-4z"/><path d="M339.5,2036.2h4.6l-2.3-4z"/><path d="M399.6,2004.0h4.6l-2.3-4z"/><path d="M402.2,2023.1h4.6l-2.3-4z"/><path d="M374.0,2006.4h4.6l-2.3-4z"/><path d="M375.2,2048.9h4.6l-2.3-4z"/><path d="M410.2,2037.1h4.6l-2.3-4z"/><path d="M376.7,1986.5h4.6l-2.3-4z"/><path d="M357.1,2050.7h4.6l-2.3-4z"/><path d="M381.6,1982.8h4.6l-2.3-4z"/><path d="M412.1,2048.0h4.6l-2.3-4z"/><path d="M392.2,2015.6h4.6l-2.3-4z"/><path d="M402.0,2044.7h4.6l-2.3-4z"/><path d="M350.2,2046.9h4.6l-2.3-4z"/><path d="M379.9,2016.7h4.6l-2.3-4z"/><path d="M402.3,1984.6h4.6l-2.3-4z"/><path d="M394.4,2054.1h4.6l-2.3-4z"/><path d="M392.6,1875.9h4.6l-2.3-4z"/><path d="M350.2,1946.9h4.6l-2.3-4z"/><path d="M355.1,2029.8h4.6l-2.3-4z"/><path d="M372.0,2055.0h4.6l-2.3-4z"/><path d="M389.6,2007.7h4.6l-2.3-4z"/><path d="M411.2,2028.4h4.6l-2.3-4z"/><path d="M390.5,1981.0h4.6l-2.3-4z"/><path d="M385.8,2046.2h4.6l-2.3-4z"/><path d="M361.5,1989.1h4.6l-2.3-4z"/><path d="M367.6,2006.0h4.6l-2.3-4z"/><path d="M393.3,1980.5h4.6l-2.3-4z"/><path d="M409.9,2058.6h4.6l-2.3-4z"/><path d="M380.4,2048.7h4.6l-2.3-4z"/><path d="M410.9,2017.2h4.6l-2.3-4z"/><path d="M364.2,2035.3h4.6l-2.3-4z"/><path d="M374.7,1995.3h4.6l-2.3-4z"/><path d="M375.6,2028.7h4.6l-2.3-4z"/><path d="M402.3,2027.4h4.6l-2.3-4z"/><path d="M387.2,2005.1h4.6l-2.3-4z"/><path d="M415.5,2010.3h4.6l-2.3-4z"/><path d="M354.0,2001.7h4.6l-2.3-4z"/><path d="M352.1,1998.6h4.6l-2.3-4z"/><path d="M379.5,1975.6h4.6l-2.3-4z"/><path d="M413.6,2047.6h4.6l-2.3-4z"/><path d="M413.0,2034.3h4.6l-2.3-4z"/><path d="M348.6,1957.9h4.6l-2.3-4z"/><path d="M414.8,2046.3h4.6l-2.3-4z"/><path d="M362.6,1956.8h4.6l-2.3-4z"/><path d="M348.1,2015.0h4.6l-2.3-4z"/><path d="M381.2,1997.2h4.6l-2.3-4z"/><path d="M402.8,1931.1h4.6l-2.3-4z"/><path d="M382.0,1986.2h4.6l-2.3-4z"/><path d="M403.9,2034.2h4.6l-2.3-4z"/><path d="M398.4,2007.4h4.6l-2.3-4z"/><path d="M365.6,1942.3h4.6l-2.3-4z"/><path d="M341.8,2039.9h4.6l-2.3-4z"/><path d="M411.8,2034.5h4.6l-2.3-4z"/><path d="M361.5,2056.8h4.6l-2.3-4z"/><path d="M394.8,2038.8h4.6l-2.3-4z"/><path d="M360.8,2058.9h4.6l-2.3-4z"/><path d="M381.8,1983.0h4.6l-2.3-4z"/><path d="M351.3,2044.4h4.6l-2.3-4z"/><path d="M411.3,2030.8h4.6l-2.3-4z"/><path d="M408.8,2010.7h4.6l-2.3-4z"/><path d="M387.0,1994.6h4.6l-2.3-4z"/><path d="M403.8,2046.1h4.6l-2.3-4z"/><path d="M403.5,2028.7h4.6l-2.3-4z"/><path d="M362.9,2050.2h4.6l-2.3-4z"/><path d="M346.7,2027.9h4.6l-2.3-4z"/><path d="M358.4,2003.2h4.6l-2.3-4z"/><path d="M372.5,2050.6h4.6l-2.3-4z"/><path d="M364.1,2038.2h4.6l-2.3-4z"/><path d="M389.9,2042.1h4.6l-2.3-4z"/><path d="M389.0,2038.7h4.6l-2.3-4z"/><path d="M412.5,2044.6h4.6l-2.3-4z"/><path d="M379.8,2058.5h4.6l-2.3-4z"/><path d="M402.5,2049.8h4.6l-2.3-4z"/><path d="M340.3,1964.4h4.6l-2.3-4z"/><path d="M401.4,2028.4h4.6l-2.3-4z"/><path d="M379.7,2067.3h4.6l-2.3-4z"/><path d="M352.9,2032.7h4.6l-2.3-4z"/><path d="M404.9,2018.4h4.6l-2.3-4z"/><path d="M390.0,2005.2h4.6l-2.3-4z"/><path d="M363.4,2015.4h4.6l-2.3-4z"/><path d="M410.8,2030.8h4.6l-2.3-4z"/><path d="M367.6,1988.2h4.6l-2.3-4z"/><path d="M375.4,2023.4h4.6l-2.3-4z"/><path d="M343.6,1978.1h4.6l-2.3-4z"/><path d="M387.9,2053.4h4.6l-2.3-4z"/><path d="M392.9,2016.7h4.6l-2.3-4z"/><path d="M375.5,1949.3h4.6l-2.3-4z"/><path d="M353.8,2026.8h4.6l-2.3-4z"/><path d="M390.7,1987.6h4.6l-2.3-4z"/><path d="M387.3,2041.1h4.6l-2.3-4z"/><path d="M400.8,2054.3h4.6l-2.3-4z"/><path d="M367.2,2024.4h4.6l-2.3-4z"/><path d="M403.4,1990.4h4.6l-2.3-4z"/><path d="M339.7,2049.8h4.6l-2.3-4z"/><path d="M404.0,1834.1h4.6l-2.3-4z"/><path d="M359.7,2040.2h4.6l-2.3-4z"/><path d="M401.8,1964.4h4.6l-2.3-4z"/><path d="M357.3,2045.9h4.6l-2.3-4z"/><path d="M387.4,1958.3h4.6l-2.3-4z"/><path d="M410.4,2060.1h4.6l-2.3-4z"/><path d="M409.4,2043.7h4.6l-2.3-4z"/><path d="M349.1,1929.6h4.6l-2.3-4z"/><path d="M414.6,1975.5h4.6l-2.3-4z"/><path d="M396.1,1971.8h4.6l-2.3-4z"/><path d="M380.4,2065.4h4.6l-2.3-4z"/><path d="M346.8,2032.9h4.6l-2.3-4z"/><path d="M355.3,2028.9h4.6l-2.3-4z"/><path d="M339.9,2045.5h4.6l-2.3-4z"/><path d="M404.8,2056.0h4.6l-2.3-4z"/><path d="M417.4,1938.0h4.6l-2.3-4z"/><path d="M398.5,2042.5h4.6l-2.3-4z"/><path d="M412.8,2033.1h4.6l-2.3-4z"/><path d="M390.6,2009.6h4.6l-2.3-4z"/><path d="M380.0,2001.4h4.6l-2.3-4z"/><path d="M351.8,1986.5h4.6l-2.3-4z"/><path d="M386.2,1884.6h4.6l-2.3-4z"/><path d="M339.4,2031.5h4.6l-2.3-4z"/><path d="M408.0,2028.5h4.6l-2.3-4z"/><path d="M363.0,1983.2h4.6l-2.3-4z"/><path d="M349.8,2032.6h4.6l-2.3-4z"/><path d="M370.8,1995.9h4.6l-2.3-4z"/><path d="M405.1,1940.1h4.6l-2.3-4z"/><path d="M405.9,2031.8h4.6l-2.3-4z"/><path d="M347.7,1933.2h4.6l-2.3-4z"/><path d="M404.5,2042.1h4.6l-2.3-4z"/><path d="M407.4,2051.6h4.6l-2.3-4z"/><path d="M353.8,2000.0h4.6l-2.3-4z"/><path d="M415.6,2029.7h4.6l-2.3-4z"/><path d="M373.9,2027.7h4.6l-2.3-4z"/><path d="M383.7,2049.3h4.6l-2.3-4z"/><path d="M358.2,2047.4h4.6l-2.3-4z"/><path d="M382.3,2053.3h4.6l-2.3-4z"/><path d="M383.5,2015.4h4.6l-2.3-4z"/><path d="M414.8,2018.9h4.6l-2.3-4z"/><path d="M375.8,2051.3h4.6l-2.3-4z"/><path d="M392.4,2065.7h4.6l-2.3-4z"/><path d="M414.2,1984.6h4.6l-2.3-4z"/><path d="M417.1,1992.9h4.6l-2.3-4z"/><path d="M388.6,2010.1h4.6l-2.3-4z"/><path d="M373.9,2036.0h4.6l-2.3-4z"/><path d="M415.7,2019.7h4.6l-2.3-4z"/><path d="M387.7,1948.5h4.6l-2.3-4z"/><path d="M358.7,1943.6h4.6l-2.3-4z"/><path d="M387.3,2049.7h4.6l-2.3-4z"/><path d="M354.7,2024.4h4.6l-2.3-4z"/><path d="M351.8,2001.8h4.6l-2.3-4z"/><path d="M404.5,2048.5h4.6l-2.3-4z"/><path d="M406.4,1928.6h4.6l-2.3-4z"/><path d="M407.7,2045.0h4.6l-2.3-4z"/><path d="M388.9,1940.6h4.6l-2.3-4z"/><path d="M405.3,2051.1h4.6l-2.3-4z"/><path d="M415.6,1947.8h4.6l-2.3-4z"/><path d="M388.1,2011.0h4.6l-2.3-4z"/><path d="M383.1,2024.0h4.6l-2.3-4z"/><path d="M400.8,1960.3h4.6l-2.3-4z"/><path d="M378.4,1975.9h4.6l-2.3-4z"/><path d="M344.8,2027.0h4.6l-2.3-4z"/><path d="M366.0,2047.5h4.6l-2.3-4z"/><path d="M339.3,2029.9h4.6l-2.3-4z"/><path d="M367.7,2013.6h4.6l-2.3-4z"/><path d="M373.1,1977.0h4.6l-2.3-4z"/><path d="M386.2,2030.2h4.6l-2.3-4z"/><path d="M368.9,2004.5h4.6l-2.3-4z"/><path d="M406.0,2050.4h4.6l-2.3-4z"/><path d="M389.6,1994.7h4.6l-2.3-4z"/><path d="M361.3,2012.8h4.6l-2.3-4z"/><path d="M403.8,2053.9h4.6l-2.3-4z"/><path d="M340.6,2027.0h4.6l-2.3-4z"/><path d="M413.1,1925.9h4.6l-2.3-4z"/><path d="M351.5,2021.0h4.6l-2.3-4z"/><path d="M348.9,1997.1h4.6l-2.3-4z"/><path d="M348.8,2035.7h4.6l-2.3-4z"/><path d="M354.1,2010.8h4.6l-2.3-4z"/><path d="M368.4,1944.2h4.6l-2.3-4z"/><path d="M386.6,2014.0h4.6l-2.3-4z"/><path d="M345.1,1989.0h4.6l-2.3-4z"/><path d="M349.2,2054.9h4.6l-2.3-4z"/><path d="M383.0,2041.9h4.6l-2.3-4z"/><path d="M373.6,2031.9h4.6l-2.3-4z"/><path d="M409.9,1950.0h4.6l-2.3-4z"/><path d="M404.4,2038.5h4.6l-2.3-4z"/><path d="M383.6,1961.8h4.6l-2.3-4z"/><path d="M368.6,2041.8h4.6l-2.3-4z"/><path d="M383.3,2011.6h4.6l-2.3-4z"/><path d="M367.4,1917.2h4.6l-2.3-4z"/><path d="M360.9,2045.3h4.6l-2.3-4z"/><path d="M407.0,2044.0h4.6l-2.3-4z"/><path d="M342.2,2020.0h4.6l-2.3-4z"/><path d="M408.5,1925.8h4.6l-2.3-4z"/><path d="M365.1,2057.3h4.6l-2.3-4z"/><path d="M354.3,2042.9h4.6l-2.3-4z"/><path d="M351.3,2050.0h4.6l-2.3-4z"/><path d="M385.8,2054.9h4.6l-2.3-4z"/><path d="M342.1,1917.3h4.6l-2.3-4z"/><path d="M341.9,2071.5h4.6l-2.3-4z"/><path d="M401.5,2020.4h4.6l-2.3-4z"/><path d="M367.6,2016.1h4.6l-2.3-4z"/><path d="M417.4,2014.0h4.6l-2.3-4z"/><path d="M353.7,2055.5h4.6l-2.3-4z"/><path d="M395.6,1958.7h4.6l-2.3-4z"/><path d="M416.3,2025.9h4.6l-2.3-4z"/><path d="M380.7,1995.0h4.6l-2.3-4z"/><path d="M349.1,2044.5h4.6l-2.3-4z"/><path d="M417.1,1955.4h4.6l-2.3-4z"/><path d="M351.9,1879.3h4.6l-2.3-4z"/><path d="M414.6,2017.7h4.6l-2.3-4z"/><path d="M394.6,2023.5h4.6l-2.3-4z"/><path d="M408.9,2001.1h4.6l-2.3-4z"/><path d="M399.4,2047.2h4.6l-2.3-4z"/><path d="M414.0,1929.6h4.6l-2.3-4z"/><path d="M403.7,2010.6h4.6l-2.3-4z"/><path d="M413.0,2031.8h4.6l-2.3-4z"/><path d="M369.3,2066.5h4.6l-2.3-4z"/><path d="M383.4,2039.2h4.6l-2.3-4z"/><path d="M370.1,2055.5h4.6l-2.3-4z"/><path d="M360.2,2001.8h4.6l-2.3-4z"/><path d="M371.1,2049.6h4.6l-2.3-4z"/><path d="M385.8,2051.3h4.6l-2.3-4z"/><path d="M394.8,1957.1h4.6l-2.3-4z"/><path d="M359.3,2058.3h4.6l-2.3-4z"/><path d="M350.3,2007.8h4.6l-2.3-4z"/><path d="M392.2,2002.5h4.6l-2.3-4z"/><path d="M340.7,2065.9h4.6l-2.3-4z"/><path d="M397.8,1969.2h4.6l-2.3-4z"/><path d="M406.0,2036.6h4.6l-2.3-4z"/><path d="M384.9,2043.4h4.6l-2.3-4z"/><path d="M402.5,2033.0h4.6l-2.3-4z"/><path d="M381.5,2031.0h4.6l-2.3-4z"/><path d="M394.8,1971.5h4.6l-2.3-4z"/><path d="M374.2,2020.8h4.6l-2.3-4z"/><path d="M358.7,2059.6h4.6l-2.3-4z"/><path d="M391.7,2023.0h4.6l-2.3-4z"/><path d="M406.5,2031.9h4.6l-2.3-4z"/><path d="M350.7,1943.4h4.6l-2.3-4z"/><path d="M355.9,2042.1h4.6l-2.3-4z"/><path d="M341.6,2022.9h4.6l-2.3-4z"/><path d="M368.7,2044.2h4.6l-2.3-4z"/><path d="M380.1,1982.8h4.6l-2.3-4z"/><path d="M339.7,2042.6h4.6l-2.3-4z"/><path d="M341.4,2039.7h4.6l-2.3-4z"/><path d="M363.4,2054.7h4.6l-2.3-4z"/><path d="M356.9,2035.2h4.6l-2.3-4z"/><path d="M416.7,1914.5h4.6l-2.3-4z"/><path d="M363.0,2044.6h4.6l-2.3-4z"/><path d="M351.8,2070.0h4.6l-2.3-4z"/><path d="M395.5,1974.6h4.6l-2.3-4z"/><path d="M396.5,2060.0h4.6l-2.3-4z"/><path d="M412.7,2023.0h4.6l-2.3-4z"/><path d="M411.4,1955.4h4.6l-2.3-4z"/><path d="M383.0,1964.8h4.6l-2.3-4z"/><path d="M372.0,2013.6h4.6l-2.3-4z"/><path d="M342.8,2021.1h4.6l-2.3-4z"/><path d="M346.6,2047.9h4.6l-2.3-4z"/><path d="M346.6,2033.9h4.6l-2.3-4z"/><path d="M371.5,1985.3h4.6l-2.3-4z"/><path d="M399.8,2009.1h4.6l-2.3-4z"/><path d="M369.8,1968.5h4.6l-2.3-4z"/><path d="M345.0,2037.5h4.6l-2.3-4z"/><path d="M352.9,2028.4h4.6l-2.3-4z"/><path d="M340.0,2073.3h4.6l-2.3-4z"/><path d="M358.4,2049.5h4.6l-2.3-4z"/><path d="M414.2,1901.5h4.6l-2.3-4z"/><path d="M357.5,2036.5h4.6l-2.3-4z"/><path d="M368.6,2017.4h4.6l-2.3-4z"/><path d="M354.0,1965.7h4.6l-2.3-4z"/><path d="M417.0,1998.9h4.6l-2.3-4z"/><path d="M351.3,2049.8h4.6l-2.3-4z"/><path d="M371.3,2056.5h4.6l-2.3-4z"/><path d="M412.1,2029.9h4.6l-2.3-4z"/><path d="M416.9,1708.6h4.6l-2.3-4z"/><path d="M359.8,2022.4h4.6l-2.3-4z"/><path d="M356.2,2004.6h4.6l-2.3-4z"/><path d="M402.2,2026.9h4.6l-2.3-4z"/><path d="M350.7,2041.7h4.6l-2.3-4z"/><path d="M378.0,2031.4h4.6l-2.3-4z"/><path d="M361.2,2043.1h4.6l-2.3-4z"/><path d="M361.5,2055.9h4.6l-2.3-4z"/><path d="M342.2,2030.7h4.6l-2.3-4z"/><path d="M410.2,2040.0h4.6l-2.3-4z"/><path d="M354.3,2018.3h4.6l-2.3-4z"/><path d="M414.3,1975.9h4.6l-2.3-4z"/><path d="M356.3,2062.7h4.6l-2.3-4z"/><path d="M382.9,1995.5h4.6l-2.3-4z"/><path d="M400.9,2031.3h4.6l-2.3-4z"/><path d="M384.2,2016.9h4.6l-2.3-4z"/><path d="M342.1,1966.0h4.6l-2.3-4z"/><path d="M388.6,1860.1h4.6l-2.3-4z"/><path d="M395.1,2034.6h4.6l-2.3-4z"/><path d="M399.7,2022.3h4.6l-2.3-4z"/><path d="M347.4,2063.5h4.6l-2.3-4z"/><path d="M346.6,2004.5h4.6l-2.3-4z"/><path d="M365.6,2029.4h4.6l-2.3-4z"/><path d="M351.5,2025.0h4.6l-2.3-4z"/><path d="M370.5,2004.8h4.6l-2.3-4z"/><path d="M369.6,2054.1h4.6l-2.3-4z"/><path d="M345.8,2065.4h4.6l-2.3-4z"/><path d="M381.2,2012.9h4.6l-2.3-4z"/><path d="M339.7,2039.3h4.6l-2.3-4z"/><path d="M373.3,2005.9h4.6l-2.3-4z"/><path d="M407.3,2020.0h4.6l-2.3-4z"/><path d="M469.4,2019.1h4.6l-2.3-4z"/><path d="M417.8,1958.8h4.6l-2.3-4z"/><path d="M477.4,2012.0h4.6l-2.3-4z"/><path d="M446.8,1983.8h4.6l-2.3-4z"/><path d="M454.8,1894.7h4.6l-2.3-4z"/><path d="M455.0,2014.8h4.6l-2.3-4z"/><path d="M463.6,1951.1h4.6l-2.3-4z"/><path d="M444.7,1999.9h4.6l-2.3-4z"/><path d="M456.6,2034.0h4.6l-2.3-4z"/><path d="M468.7,1957.8h4.6l-2.3-4z"/><path d="M417.8,1953.5h4.6l-2.3-4z"/><path d="M442.4,2010.3h4.6l-2.3-4z"/><path d="M423.5,1978.2h4.6l-2.3-4z"/><path d="M419.8,1984.0h4.6l-2.3-4z"/><path d="M462.7,1988.6h4.6l-2.3-4z"/><path d="M428.8,2005.6h4.6l-2.3-4z"/><path d="M467.0,1998.0h4.6l-2.3-4z"/><path d="M446.9,2033.3h4.6l-2.3-4z"/><path d="M449.1,2018.3h4.6l-2.3-4z"/><path d="M459.0,1978.9h4.6l-2.3-4z"/><path d="M435.7,1950.9h4.6l-2.3-4z"/><path d="M467.9,1988.6h4.6l-2.3-4z"/><path d="M459.8,1874.2h4.6l-2.3-4z"/><path d="M445.3,1992.5h4.6l-2.3-4z"/><path d="M421.1,2033.7h4.6l-2.3-4z"/><path d="M434.5,1970.6h4.6l-2.3-4z"/><path d="M423.5,2022.7h4.6l-2.3-4z"/><path d="M431.0,1962.1h4.6l-2.3-4z"/><path d="M452.6,1957.8h4.6l-2.3-4z"/><path d="M472.5,2038.8h4.6l-2.3-4z"/><path d="M474.1,2001.0h4.6l-2.3-4z"/><path d="M454.6,2018.9h4.6l-2.3-4z"/><path d="M465.4,2013.8h4.6l-2.3-4z"/><path d="M427.9,2039.0h4.6l-2.3-4z"/><path d="M464.1,1957.1h4.6l-2.3-4z"/><path d="M430.6,1861.9h4.6l-2.3-4z"/><path d="M450.3,1994.6h4.6l-2.3-4z"/><path d="M462.6,1998.5h4.6l-2.3-4z"/><path d="M457.8,1906.3h4.6l-2.3-4z"/><path d="M459.9,1991.7h4.6l-2.3-4z"/><path d="M467.4,1994.9h4.6l-2.3-4z"/><path d="M425.5,1989.2h4.6l-2.3-4z"/><path d="M456.4,1945.1h4.6l-2.3-4z"/><path d="M442.9,1987.1h4.6l-2.3-4z"/><path d="M451.6,2023.8h4.6l-2.3-4z"/><path d="M471.4,2033.7h4.6l-2.3-4z"/><path d="M434.3,2043.0h4.6l-2.3-4z"/><path d="M430.6,1840.4h4.6l-2.3-4z"/><path d="M464.2,1987.5h4.6l-2.3-4z"/><path d="M435.0,2001.7h4.6l-2.3-4z"/><path d="M468.2,2051.8h4.6l-2.3-4z"/><path d="M422.0,2043.9h4.6l-2.3-4z"/><path d="M439.3,1961.6h4.6l-2.3-4z"/><path d="M471.7,2024.0h4.6l-2.3-4z"/><path d="M448.9,2033.6h4.6l-2.3-4z"/><path d="M429.4,1999.8h4.6l-2.3-4z"/><path d="M436.0,2034.7h4.6l-2.3-4z"/><path d="M433.1,1968.2h4.6l-2.3-4z"/><path d="M455.3,1989.4h4.6l-2.3-4z"/><path d="M450.5,1952.8h4.6l-2.3-4z"/><path d="M466.4,1942.1h4.6l-2.3-4z"/><path d="M431.1,1980.5h4.6l-2.3-4z"/><path d="M437.9,1796.5h4.6l-2.3-4z"/><path d="M441.5,2017.8h4.6l-2.3-4z"/><path d="M431.9,1989.4h4.6l-2.3-4z"/><path d="M431.6,2014.0h4.6l-2.3-4z"/><path d="M448.9,2044.7h4.6l-2.3-4z"/><path d="M453.8,2043.1h4.6l-2.3-4z"/><path d="M433.9,1807.8h4.6l-2.3-4z"/><path d="M461.4,2016.0h4.6l-2.3-4z"/><path d="M468.0,1952.0h4.6l-2.3-4z"/><path d="M453.4,2034.2h4.6l-2.3-4z"/><path d="M437.9,1920.2h4.6l-2.3-4z"/><path d="M434.2,1975.8h4.6l-2.3-4z"/><path d="M431.9,1952.0h4.6l-2.3-4z"/><path d="M422.4,2053.0h4.6l-2.3-4z"/><path d="M450.8,2001.9h4.6l-2.3-4z"/><path d="M475.2,1947.4h4.6l-2.3-4z"/><path d="M477.4,2047.9h4.6l-2.3-4z"/><path d="M438.4,1996.9h4.6l-2.3-4z"/><path d="M469.4,2024.3h4.6l-2.3-4z"/><path d="M476.3,1993.5h4.6l-2.3-4z"/><path d="M462.1,1903.7h4.6l-2.3-4z"/><path d="M432.1,2030.8h4.6l-2.3-4z"/><path d="M466.0,2042.3h4.6l-2.3-4z"/><path d="M433.0,1821.3h4.6l-2.3-4z"/><path d="M476.0,1985.0h4.6l-2.3-4z"/><path d="M454.3,1808.2h4.6l-2.3-4z"/><path d="M420.6,1948.4h4.6l-2.3-4z"/><path d="M442.3,1860.7h4.6l-2.3-4z"/><path d="M474.3,1891.6h4.6l-2.3-4z"/><path d="M422.3,1990.7h4.6l-2.3-4z"/><path d="M468.6,1987.7h4.6l-2.3-4z"/><path d="M419.2,1956.9h4.6l-2.3-4z"/><path d="M458.5,1984.3h4.6l-2.3-4z"/><path d="M428.8,2055.5h4.6l-2.3-4z"/><path d="M472.1,2029.8h4.6l-2.3-4z"/><path d="M457.3,2033.2h4.6l-2.3-4z"/><path d="M471.0,2025.4h4.6l-2.3-4z"/><path d="M466.7,2015.5h4.6l-2.3-4z"/><path d="M443.0,2022.3h4.6l-2.3-4z"/><path d="M469.3,2036.0h4.6l-2.3-4z"/><path d="M462.8,1991.8h4.6l-2.3-4z"/><path d="M439.8,1950.4h4.6l-2.3-4z"/><path d="M429.0,1984.1h4.6l-2.3-4z"/><path d="M469.5,1998.3h4.6l-2.3-4z"/><path d="M420.1,1947.3h4.6l-2.3-4z"/><path d="M436.6,1982.4h4.6l-2.3-4z"/><path d="M446.2,2018.7h4.6l-2.3-4z"/><path d="M466.5,2033.9h4.6l-2.3-4z"/><path d="M424.8,2015.0h4.6l-2.3-4z"/><path d="M461.1,2040.3h4.6l-2.3-4z"/><path d="M433.0,1983.1h4.6l-2.3-4z"/><path d="M467.2,2032.2h4.6l-2.3-4z"/><path d="M420.2,1967.6h4.6l-2.3-4z"/><path d="M448.3,2022.3h4.6l-2.3-4z"/><path d="M421.5,1945.4h4.6l-2.3-4z"/><path d="M438.8,2013.3h4.6l-2.3-4z"/><path d="M451.6,1907.0h4.6l-2.3-4z"/><path d="M425.4,2007.7h4.6l-2.3-4z"/><path d="M451.8,1943.1h4.6l-2.3-4z"/><path d="M467.2,1947.6h4.6l-2.3-4z"/><path d="M476.4,1959.7h4.6l-2.3-4z"/><path d="M445.0,2025.7h4.6l-2.3-4z"/><path d="M444.7,1980.0h4.6l-2.3-4z"/><path d="M430.0,2049.4h4.6l-2.3-4z"/><path d="M426.1,1942.9h4.6l-2.3-4z"/><path d="M433.5,1908.4h4.6l-2.3-4z"/><path d="M434.2,2019.0h4.6l-2.3-4z"/><path d="M448.3,1991.9h4.6l-2.3-4z"/><path d="M449.7,1950.8h4.6l-2.3-4z"/><path d="M447.1,2044.5h4.6l-2.3-4z"/><path d="M465.2,2013.8h4.6l-2.3-4z"/><path d="M462.5,2005.8h4.6l-2.3-4z"/><path d="M464.1,1987.1h4.6l-2.3-4z"/><path d="M441.8,1880.0h4.6l-2.3-4z"/><path d="M454.9,2036.4h4.6l-2.3-4z"/><path d="M455.4,1885.2h4.6l-2.3-4z"/><path d="M436.8,2032.3h4.6l-2.3-4z"/><path d="M472.6,2009.6h4.6l-2.3-4z"/><path d="M421.7,2028.8h4.6l-2.3-4z"/><path d="M442.8,2029.9h4.6l-2.3-4z"/><path d="M426.2,2030.1h4.6l-2.3-4z"/><path d="M436.0,2028.3h4.6l-2.3-4z"/><path d="M475.6,1969.7h4.6l-2.3-4z"/><path d="M472.9,1973.2h4.6l-2.3-4z"/><path d="M420.4,1894.1h4.6l-2.3-4z"/><path d="M423.2,2004.9h4.6l-2.3-4z"/><path d="M431.6,2003.6h4.6l-2.3-4z"/><path d="M463.8,2033.7h4.6l-2.3-4z"/><path d="M448.8,2007.5h4.6l-2.3-4z"/><path d="M438.1,2045.6h4.6l-2.3-4z"/><path d="M475.3,2017.2h4.6l-2.3-4z"/><path d="M463.3,1997.3h4.6l-2.3-4z"/><path d="M430.8,2027.4h4.6l-2.3-4z"/><path d="M419.4,2059.6h4.6l-2.3-4z"/><path d="M441.9,2004.9h4.6l-2.3-4z"/><path d="M437.8,2030.7h4.6l-2.3-4z"/><path d="M469.1,2031.0h4.6l-2.3-4z"/><path d="M436.1,1998.7h4.6l-2.3-4z"/><path d="M472.4,2003.4h4.6l-2.3-4z"/><path d="M476.7,2040.0h4.6l-2.3-4z"/><path d="M433.8,1942.7h4.6l-2.3-4z"/><path d="M453.1,1998.4h4.6l-2.3-4z"/><path d="M458.9,2022.3h4.6l-2.3-4z"/><path d="M429.8,2025.3h4.6l-2.3-4z"/><path d="M445.2,2054.9h4.6l-2.3-4z"/><path d="M424.6,2035.2h4.6l-2.3-4z"/><path d="M420.3,2028.9h4.6l-2.3-4z"/><path d="M466.6,2006.5h4.6l-2.3-4z"/><path d="M449.7,1920.4h4.6l-2.3-4z"/><path d="M461.7,2014.9h4.6l-2.3-4z"/><path d="M427.8,2026.4h4.6l-2.3-4z"/><path d="M474.7,2026.5h4.6l-2.3-4z"/><path d="M439.4,1960.5h4.6l-2.3-4z"/><path d="M422.2,1920.4h4.6l-2.3-4z"/><path d="M434.7,1998.7h4.6l-2.3-4z"/><path d="M428.7,2017.2h4.6l-2.3-4z"/><path d="M440.6,2018.4h4.6l-2.3-4z"/><path d="M431.0,2044.2h4.6l-2.3-4z"/><path d="M448.4,2033.9h4.6l-2.3-4z"/><path d="M438.6,2043.4h4.6l-2.3-4z"/><path d="M445.6,2053.5h4.6l-2.3-4z"/><path d="M469.8,1998.2h4.6l-2.3-4z"/><path d="M435.4,2038.8h4.6l-2.3-4z"/><path d="M419.9,2055.5h4.6l-2.3-4z"/><path d="M450.6,1961.7h4.6l-2.3-4z"/><path d="M459.4,2039.5h4.6l-2.3-4z"/><path d="M420.6,2002.1h4.6l-2.3-4z"/><path d="M438.6,1982.0h4.6l-2.3-4z"/><path d="M424.8,2043.1h4.6l-2.3-4z"/><path d="M450.3,1999.7h4.6l-2.3-4z"/><path d="M433.2,1983.2h4.6l-2.3-4z"/><path d="M474.0,1982.5h4.6l-2.3-4z"/><path d="M430.5,1831.4h4.6l-2.3-4z"/><path d="M435.4,2040.2h4.6l-2.3-4z"/><path d="M439.3,1967.8h4.6l-2.3-4z"/><path d="M471.6,2014.1h4.6l-2.3-4z"/><path d="M433.0,1934.8h4.6l-2.3-4z"/><path d="M466.7,1929.7h4.6l-2.3-4z"/><path d="M444.6,1968.2h4.6l-2.3-4z"/><path d="M449.5,2023.3h4.6l-2.3-4z"/><path d="M467.9,1945.9h4.6l-2.3-4z"/><path d="M450.6,1835.1h4.6l-2.3-4z"/><path d="M458.0,2031.3h4.6l-2.3-4z"/><path d="M426.9,2003.8h4.6l-2.3-4z"/><path d="M455.6,1962.7h4.6l-2.3-4z"/><path d="M473.8,2010.5h4.6l-2.3-4z"/><path d="M476.6,2039.2h4.6l-2.3-4z"/><path d="M471.7,1994.3h4.6l-2.3-4z"/><path d="M468.5,2020.9h4.6l-2.3-4z"/><path d="M443.0,1985.2h4.6l-2.3-4z"/><path d="M456.2,1979.0h4.6l-2.3-4z"/><path d="M458.1,2003.8h4.6l-2.3-4z"/><path d="M456.1,1970.6h4.6l-2.3-4z"/><path d="M428.8,1979.7h4.6l-2.3-4z"/><path d="M450.8,1997.3h4.6l-2.3-4z"/><path d="M448.8,2046.8h4.6l-2.3-4z"/><path d="M461.6,2021.2h4.6l-2.3-4z"/><path d="M453.0,1893.7h4.6l-2.3-4z"/><path d="M434.5,1961.8h4.6l-2.3-4z"/><path d="M425.8,1989.9h4.6l-2.3-4z"/><path d="M434.9,2026.7h4.6l-2.3-4z"/><path d="M464.7,2007.0h4.6l-2.3-4z"/><path d="M473.0,2001.7h4.6l-2.3-4z"/><path d="M419.5,2039.4h4.6l-2.3-4z"/><path d="M419.1,2062.2h4.6l-2.3-4z"/><path d="M451.8,2019.1h4.6l-2.3-4z"/><path d="M430.7,2040.1h4.6l-2.3-4z"/><path d="M434.9,2041.9h4.6l-2.3-4z"/><path d="M426.4,1996.9h4.6l-2.3-4z"/><path d="M418.7,2035.5h4.6l-2.3-4z"/><path d="M439.9,2035.5h4.6l-2.3-4z"/><path d="M449.5,2037.0h4.6l-2.3-4z"/><path d="M431.6,1975.9h4.6l-2.3-4z"/><path d="M431.4,1934.5h4.6l-2.3-4z"/><path d="M456.1,2018.5h4.6l-2.3-4z"/><path d="M470.0,2011.7h4.6l-2.3-4z"/><path d="M449.5,2006.8h4.6l-2.3-4z"/><path d="M419.8,2031.3h4.6l-2.3-4z"/><path d="M463.3,1812.7h4.6l-2.3-4z"/><path d="M430.2,2013.3h4.6l-2.3-4z"/><path d="M468.0,1965.5h4.6l-2.3-4z"/><path d="M441.0,1992.1h4.6l-2.3-4z"/><path d="M430.0,1930.8h4.6l-2.3-4z"/><path d="M442.4,1938.0h4.6l-2.3-4z"/><path d="M476.7,2039.5h4.6l-2.3-4z"/><path d="M462.5,1958.8h4.6l-2.3-4z"/><path d="M460.4,2040.6h4.6l-2.3-4z"/><path d="M471.1,2008.0h4.6l-2.3-4z"/><path d="M473.8,1976.5h4.6l-2.3-4z"/><path d="M428.2,1985.9h4.6l-2.3-4z"/><path d="M472.7,1966.2h4.6l-2.3-4z"/><path d="M473.2,2033.9h4.6l-2.3-4z"/><path d="M474.3,1968.7h4.6l-2.3-4z"/><path d="M436.6,1978.8h4.6l-2.3-4z"/><path d="M434.5,1948.1h4.6l-2.3-4z"/><path d="M431.7,2015.5h4.6l-2.3-4z"/><path d="M463.7,1998.2h4.6l-2.3-4z"/><path d="M444.6,1958.5h4.6l-2.3-4z"/><path d="M427.8,2019.6h4.6l-2.3-4z"/><path d="M426.1,2025.7h4.6l-2.3-4z"/><path d="M443.9,2039.0h4.6l-2.3-4z"/><path d="M466.7,2023.7h4.6l-2.3-4z"/><path d="M435.5,1919.3h4.6l-2.3-4z"/><path d="M473.1,2013.4h4.6l-2.3-4z"/><path d="M445.5,2009.8h4.6l-2.3-4z"/><path d="M470.7,2019.9h4.6l-2.3-4z"/><path d="M454.1,1989.9h4.6l-2.3-4z"/><path d="M441.5,1993.8h4.6l-2.3-4z"/><path d="M435.2,1900.2h4.6l-2.3-4z"/><path d="M477.6,2034.7h4.6l-2.3-4z"/><path d="M451.2,1926.6h4.6l-2.3-4z"/><path d="M456.0,2019.1h4.6l-2.3-4z"/><path d="M423.5,2018.2h4.6l-2.3-4z"/><path d="M424.5,2035.2h4.6l-2.3-4z"/><path d="M464.9,2018.7h4.6l-2.3-4z"/><path d="M453.0,2047.9h4.6l-2.3-4z"/><path d="M438.5,1891.4h4.6l-2.3-4z"/><path d="M453.1,2023.1h4.6l-2.3-4z"/><path d="M469.3,1943.2h4.6l-2.3-4z"/><path d="M464.8,2028.3h4.6l-2.3-4z"/><path d="M440.5,1961.7h4.6l-2.3-4z"/><path d="M463.5,1995.9h4.6l-2.3-4z"/><path d="M463.8,2031.0h4.6l-2.3-4z"/><path d="M474.7,1996.3h4.6l-2.3-4z"/><path d="M429.8,1833.2h4.6l-2.3-4z"/><path d="M437.2,2048.3h4.6l-2.3-4z"/><path d="M471.6,2019.4h4.6l-2.3-4z"/><path d="M448.6,1922.4h4.6l-2.3-4z"/><path d="M449.8,2001.3h4.6l-2.3-4z"/><path d="M429.3,2016.1h4.6l-2.3-4z"/><path d="M437.6,2028.5h4.6l-2.3-4z"/><path d="M428.5,1987.1h4.6l-2.3-4z"/><path d="M430.9,1999.8h4.6l-2.3-4z"/><path d="M442.7,1977.9h4.6l-2.3-4z"/><path d="M453.6,1975.3h4.6l-2.3-4z"/><path d="M455.5,2013.3h4.6l-2.3-4z"/><path d="M475.5,2006.9h4.6l-2.3-4z"/><path d="M475.8,1938.8h4.6l-2.3-4z"/><path d="M431.7,1996.1h4.6l-2.3-4z"/><path d="M461.4,1952.8h4.6l-2.3-4z"/><path d="M446.4,2001.6h4.6l-2.3-4z"/><path d="M430.9,1975.2h4.6l-2.3-4z"/><path d="M441.8,1922.5h4.6l-2.3-4z"/><path d="M446.0,1930.2h4.6l-2.3-4z"/><path d="M439.6,2040.4h4.6l-2.3-4z"/><path d="M431.7,2000.1h4.6l-2.3-4z"/><path d="M431.8,1932.8h4.6l-2.3-4z"/><path d="M437.2,1959.9h4.6l-2.3-4z"/><path d="M471.1,2028.1h4.6l-2.3-4z"/><path d="M420.9,2001.5h4.6l-2.3-4z"/><path d="M427.8,1943.3h4.6l-2.3-4z"/><path d="M441.1,1963.0h4.6l-2.3-4z"/><path d="M433.0,1948.2h4.6l-2.3-4z"/><path d="M426.8,2028.3h4.6l-2.3-4z"/><path d="M458.6,2022.0h4.6l-2.3-4z"/><path d="M475.7,2009.8h4.6l-2.3-4z"/><path d="M453.3,1976.4h4.6l-2.3-4z"/><path d="M441.4,1862.4h4.6l-2.3-4z"/><path d="M434.0,1949.1h4.6l-2.3-4z"/><path d="M443.7,2044.6h4.6l-2.3-4z"/><path d="M464.2,2048.2h4.6l-2.3-4z"/><path d="M446.6,2009.3h4.6l-2.3-4z"/><path d="M473.6,1961.6h4.6l-2.3-4z"/><path d="M462.3,2008.5h4.6l-2.3-4z"/><path d="M444.3,2054.9h4.6l-2.3-4z"/><path d="M459.6,2046.8h4.6l-2.3-4z"/><path d="M425.9,1936.2h4.6l-2.3-4z"/><path d="M471.5,1998.6h4.6l-2.3-4z"/><path d="M420.4,2004.5h4.6l-2.3-4z"/><path d="M476.1,1977.8h4.6l-2.3-4z"/><path d="M421.2,2003.9h4.6l-2.3-4z"/><path d="M436.7,2034.0h4.6l-2.3-4z"/><path d="M473.2,2023.7h4.6l-2.3-4z"/><path d="M429.0,1837.4h4.6l-2.3-4z"/><path d="M431.6,2000.5h4.6l-2.3-4z"/><path d="M452.8,2015.5h4.6l-2.3-4z"/><path d="M431.0,1866.5h4.6l-2.3-4z"/><path d="M451.8,2027.5h4.6l-2.3-4z"/><path d="M418.5,1982.2h4.6l-2.3-4z"/><path d="M433.3,2012.2h4.6l-2.3-4z"/><path d="M448.7,2022.3h4.6l-2.3-4z"/><path d="M427.7,1884.5h4.6l-2.3-4z"/><path d="M463.5,1986.4h4.6l-2.3-4z"/><path d="M436.4,1947.9h4.6l-2.3-4z"/><path d="M465.9,2012.8h4.6l-2.3-4z"/><path d="M439.4,2034.6h4.6l-2.3-4z"/><path d="M460.0,1955.4h4.6l-2.3-4z"/><path d="M429.6,2014.9h4.6l-2.3-4z"/><path d="M460.9,2051.0h4.6l-2.3-4z"/><path d="M431.1,2060.8h4.6l-2.3-4z"/><path d="M425.6,2030.7h4.6l-2.3-4z"/><path d="M461.2,2010.9h4.6l-2.3-4z"/><path d="M420.3,2017.0h4.6l-2.3-4z"/><path d="M444.0,2003.9h4.6l-2.3-4z"/><path d="M470.5,2001.1h4.6l-2.3-4z"/><path d="M457.8,2045.9h4.6l-2.3-4z"/><path d="M469.6,2036.8h4.6l-2.3-4z"/><path d="M425.7,1948.7h4.6l-2.3-4z"/><path d="M442.0,1990.3h4.6l-2.3-4z"/><path d="M453.5,2008.8h4.6l-2.3-4z"/><path d="M459.7,2003.8h4.6l-2.3-4z"/><path d="M450.2,2030.7h4.6l-2.3-4z"/><path d="M476.9,2011.6h4.6l-2.3-4z"/><path d="M472.5,1817.5h4.6l-2.3-4z"/><path d="M442.4,2045.5h4.6l-2.3-4z"/><path d="M467.1,1952.5h4.6l-2.3-4z"/><path d="M429.3,2015.6h4.6l-2.3-4z"/><path d="M454.0,1944.1h4.6l-2.3-4z"/><path d="M433.5,2032.0h4.6l-2.3-4z"/><path d="M422.3,1980.2h4.6l-2.3-4z"/><path d="M452.6,1957.9h4.6l-2.3-4z"/><path d="M435.0,1994.3h4.6l-2.3-4z"/><path d="M427.6,2030.3h4.6l-2.3-4z"/><path d="M467.7,1991.1h4.6l-2.3-4z"/><path d="M471.1,2019.8h4.6l-2.3-4z"/><path d="M448.3,2007.7h4.6l-2.3-4z"/><path d="M453.4,1992.4h4.6l-2.3-4z"/><path d="M428.6,2008.1h4.6l-2.3-4z"/><path d="M421.6,2018.0h4.6l-2.3-4z"/><path d="M443.4,2038.9h4.6l-2.3-4z"/><path d="M449.6,2050.1h4.6l-2.3-4z"/><path d="M430.5,1934.0h4.6l-2.3-4z"/><path d="M424.7,2021.3h4.6l-2.3-4z"/><path d="M455.8,1878.3h4.6l-2.3-4z"/><path d="M448.7,2006.9h4.6l-2.3-4z"/><path d="M418.7,2040.9h4.6l-2.3-4z"/><path d="M473.3,2020.4h4.6l-2.3-4z"/><path d="M435.4,2022.9h4.6l-2.3-4z"/><path d="M447.5,2041.1h4.6l-2.3-4z"/><path d="M445.2,1993.0h4.6l-2.3-4z"/><path d="M447.6,2009.7h4.6l-2.3-4z"/><path d="M444.8,2040.7h4.6l-2.3-4z"/><path d="M467.7,1993.6h4.6l-2.3-4z"/><path d="M420.9,1955.2h4.6l-2.3-4z"/><path d="M422.0,1891.6h4.6l-2.3-4z"/><path d="M447.3,2053.1h4.6l-2.3-4z"/><path d="M438.8,1948.2h4.6l-2.3-4z"/><path d="M435.6,1999.6h4.6l-2.3-4z"/><path d="M449.0,1882.7h4.6l-2.3-4z"/><path d="M463.8,2041.2h4.6l-2.3-4z"/><path d="M426.9,1986.2h4.6l-2.3-4z"/><path d="M433.4,2043.7h4.6l-2.3-4z"/><path d="M439.4,2058.9h4.6l-2.3-4z"/><path d="M436.1,2016.8h4.6l-2.3-4z"/><path d="M450.7,2039.2h4.6l-2.3-4z"/><path d="M460.9,1907.2h4.6l-2.3-4z"/><path d="M453.5,2012.7h4.6l-2.3-4z"/><path d="M465.2,1970.0h4.6l-2.3-4z"/><path d="M451.1,2017.9h4.6l-2.3-4z"/><path d="M473.0,1989.3h4.6l-2.3-4z"/><path d="M444.2,2048.6h4.6l-2.3-4z"/><path d="M450.3,1997.1h4.6l-2.3-4z"/><path d="M477.5,2046.6h4.6l-2.3-4z"/><path d="M423.0,1981.5h4.6l-2.3-4z"/><path d="M458.1,1992.1h4.6l-2.3-4z"/><path d="M420.4,2022.2h4.6l-2.3-4z"/><path d="M456.5,2009.9h4.6l-2.3-4z"/><path d="M431.8,2009.3h4.6l-2.3-4z"/><path d="M446.5,2012.0h4.6l-2.3-4z"/><path d="M462.6,2032.0h4.6l-2.3-4z"/><path d="M420.2,1837.9h4.6l-2.3-4z"/><path d="M436.4,2010.5h4.6l-2.3-4z"/><path d="M466.1,2019.9h4.6l-2.3-4z"/><path d="M439.0,2002.4h4.6l-2.3-4z"/><path d="M461.9,1996.5h4.6l-2.3-4z"/><path d="M452.1,2021.2h4.6l-2.3-4z"/><path d="M429.4,1987.5h4.6l-2.3-4z"/><path d="M450.8,1980.4h4.6l-2.3-4z"/><path d="M430.8,2015.5h4.6l-2.3-4z"/><path d="M428.9,1961.0h4.6l-2.3-4z"/><path d="M468.0,2049.1h4.6l-2.3-4z"/><path d="M442.8,2028.2h4.6l-2.3-4z"/><path d="M477.3,1879.9h4.6l-2.3-4z"/><path d="M438.8,1957.5h4.6l-2.3-4z"/><path d="M426.4,2039.9h4.6l-2.3-4z"/><path d="M457.1,2040.5h4.6l-2.3-4z"/><path d="M432.5,1867.9h4.6l-2.3-4z"/><path d="M472.3,2005.3h4.6l-2.3-4z"/><path d="M442.2,2043.1h4.6l-2.3-4z"/><path d="M451.5,2045.1h4.6l-2.3-4z"/><path d="M465.3,2003.0h4.6l-2.3-4z"/><path d="M422.9,2034.4h4.6l-2.3-4z"/><path d="M439.4,1922.3h4.6l-2.3-4z"/><path d="M464.6,1942.2h4.6l-2.3-4z"/><path d="M450.6,2019.9h4.6l-2.3-4z"/><path d="M470.3,2005.2h4.6l-2.3-4z"/><path d="M468.7,1997.1h4.6l-2.3-4z"/><path d="M470.7,2043.7h4.6l-2.3-4z"/><path d="M459.9,1984.2h4.6l-2.3-4z"/><path d="M427.8,2019.8h4.6l-2.3-4z"/><path d="M466.4,2001.4h4.6l-2.3-4z"/><path d="M448.4,1968.7h4.6l-2.3-4z"/><path d="M432.2,2049.0h4.6l-2.3-4z"/><path d="M465.8,2025.8h4.6l-2.3-4z"/><path d="M447.6,2001.3h4.6l-2.3-4z"/><path d="M430.9,2033.5h4.6l-2.3-4z"/><path d="M467.9,2013.7h4.6l-2.3-4z"/><path d="M468.3,1969.0h4.6l-2.3-4z"/><path d="M453.0,1948.5h4.6l-2.3-4z"/><path d="M437.0,2036.7h4.6l-2.3-4z"/><path d="M437.4,2022.2h4.6l-2.3-4z"/><path d="M476.9,2000.4h4.6l-2.3-4z"/><path d="M475.6,2000.7h4.6l-2.3-4z"/><path d="M461.7,2013.3h4.6l-2.3-4z"/><path d="M458.3,1967.3h4.6l-2.3-4z"/><path d="M471.3,1877.8h4.6l-2.3-4z"/><path d="M442.6,1902.1h4.6l-2.3-4z"/><path d="M439.9,1936.9h4.6l-2.3-4z"/><path d="M431.9,2014.3h4.6l-2.3-4z"/><path d="M474.3,1937.8h4.6l-2.3-4z"/><path d="M427.4,2025.1h4.6l-2.3-4z"/><path d="M439.6,1759.4h4.6l-2.3-4z"/><path d="M472.4,1957.4h4.6l-2.3-4z"/><path d="M450.8,1956.4h4.6l-2.3-4z"/><path d="M440.3,2014.1h4.6l-2.3-4z"/><path d="M432.3,2051.9h4.6l-2.3-4z"/><path d="M475.5,2011.7h4.6l-2.3-4z"/><path d="M467.3,1946.9h4.6l-2.3-4z"/><path d="M453.5,2006.7h4.6l-2.3-4z"/><path d="M434.2,1987.1h4.6l-2.3-4z"/><path d="M459.7,2037.6h4.6l-2.3-4z"/><path d="M458.1,2043.2h4.6l-2.3-4z"/><path d="M456.0,2043.2h4.6l-2.3-4z"/><path d="M453.2,2028.4h4.6l-2.3-4z"/><path d="M419.2,2040.9h4.6l-2.3-4z"/><path d="M463.6,1998.9h4.6l-2.3-4z"/><path d="M427.4,2019.8h4.6l-2.3-4z"/><path d="M441.1,1979.3h4.6l-2.3-4z"/><path d="M451.6,1922.5h4.6l-2.3-4z"/><path d="M425.3,2054.4h4.6l-2.3-4z"/><path d="M424.8,1928.7h4.6l-2.3-4z"/><path d="M450.3,1978.4h4.6l-2.3-4z"/><path d="M437.7,2018.6h4.6l-2.3-4z"/><path d="M441.1,2045.2h4.6l-2.3-4z"/><path d="M470.7,1818.7h4.6l-2.3-4z"/><path d="M456.6,1960.2h4.6l-2.3-4z"/><path d="M468.4,1809.7h4.6l-2.3-4z"/><path d="M458.3,1967.1h4.6l-2.3-4z"/><path d="M427.4,2010.6h4.6l-2.3-4z"/><path d="M454.4,1949.5h4.6l-2.3-4z"/><path d="M417.7,2028.3h4.6l-2.3-4z"/><path d="M433.7,2011.1h4.6l-2.3-4z"/><path d="M458.0,2035.4h4.6l-2.3-4z"/><path d="M464.3,1989.6h4.6l-2.3-4z"/><path d="M438.4,2023.6h4.6l-2.3-4z"/><path d="M434.8,2021.0h4.6l-2.3-4z"/><path d="M467.7,1940.5h4.6l-2.3-4z"/><path d="M475.8,1904.6h4.6l-2.3-4z"/><path d="M454.4,2028.3h4.6l-2.3-4z"/><path d="M473.7,1955.5h4.6l-2.3-4z"/><path d="M461.8,2007.2h4.6l-2.3-4z"/><path d="M457.9,2010.2h4.6l-2.3-4z"/><path d="M422.7,2015.3h4.6l-2.3-4z"/><path d="M453.1,2009.9h4.6l-2.3-4z"/><path d="M471.8,2008.8h4.6l-2.3-4z"/><path d="M462.6,2024.9h4.6l-2.3-4z"/><path d="M474.3,1993.7h4.6l-2.3-4z"/><path d="M449.8,2038.0h4.6l-2.3-4z"/><path d="M440.9,2016.1h4.6l-2.3-4z"/><path d="M447.0,1843.3h4.6l-2.3-4z"/><path d="M468.3,1993.6h4.6l-2.3-4z"/><path d="M421.8,2038.0h4.6l-2.3-4z"/><path d="M473.6,1954.0h4.6l-2.3-4z"/><path d="M464.7,2017.2h4.6l-2.3-4z"/><path d="M433.8,2031.5h4.6l-2.3-4z"/><path d="M448.3,2056.2h4.6l-2.3-4z"/><path d="M426.8,1993.6h4.6l-2.3-4z"/><path d="M460.9,1996.2h4.6l-2.3-4z"/><path d="M427.9,1958.2h4.6l-2.3-4z"/><path d="M475.2,1956.8h4.6l-2.3-4z"/><path d="M445.7,2028.6h4.6l-2.3-4z"/><path d="M426.7,2012.5h4.6l-2.3-4z"/><path d="M461.7,2057.1h4.6l-2.3-4z"/><path d="M446.2,2014.7h4.6l-2.3-4z"/><path d="M449.7,1962.2h4.6l-2.3-4z"/><path d="M466.3,2040.9h4.6l-2.3-4z"/><path d="M444.2,2056.1h4.6l-2.3-4z"/><path d="M460.3,1898.6h4.6l-2.3-4z"/><path d="M442.0,2021.0h4.6l-2.3-4z"/><path d="M442.0,2014.4h4.6l-2.3-4z"/><path d="M435.8,1974.0h4.6l-2.3-4z"/><path d="M477.3,2018.0h4.6l-2.3-4z"/><path d="M458.0,2030.1h4.6l-2.3-4z"/><path d="M459.8,2002.0h4.6l-2.3-4z"/><path d="M461.7,2044.5h4.6l-2.3-4z"/><path d="M463.5,2013.4h4.6l-2.3-4z"/><path d="M432.3,1989.4h4.6l-2.3-4z"/><path d="M458.1,2010.3h4.6l-2.3-4z"/><path d="M425.1,2052.4h4.6l-2.3-4z"/><path d="M468.8,1995.0h4.6l-2.3-4z"/><path d="M466.7,2000.4h4.6l-2.3-4z"/><path d="M423.6,2004.6h4.6l-2.3-4z"/><path d="M465.1,2009.2h4.6l-2.3-4z"/><path d="M465.1,2028.0h4.6l-2.3-4z"/><path d="M418.3,2042.2h4.6l-2.3-4z"/><path d="M439.4,1985.4h4.6l-2.3-4z"/><path d="M425.8,1971.4h4.6l-2.3-4z"/><path d="M474.3,2026.1h4.6l-2.3-4z"/><path d="M437.5,2060.4h4.6l-2.3-4z"/><path d="M470.1,1872.2h4.6l-2.3-4z"/><path d="M439.9,2000.3h4.6l-2.3-4z"/><path d="M469.6,2041.5h4.6l-2.3-4z"/><path d="M438.9,2013.2h4.6l-2.3-4z"/><path d="M427.4,1913.7h4.6l-2.3-4z"/><path d="M446.9,1918.7h4.6l-2.3-4z"/><path d="M436.7,1797.7h4.6l-2.3-4z"/><path d="M438.4,1946.9h4.6l-2.3-4z"/><path d="M469.3,2032.5h4.6l-2.3-4z"/><path d="M473.7,1989.9h4.6l-2.3-4z"/><path d="M425.9,2003.3h4.6l-2.3-4z"/><path d="M469.2,1977.2h4.6l-2.3-4z"/><path d="M475.7,2031.0h4.6l-2.3-4z"/><path d="M451.0,2040.7h4.6l-2.3-4z"/><path d="M464.7,1965.5h4.6l-2.3-4z"/><path d="M475.2,2032.0h4.6l-2.3-4z"/><path d="M434.5,1881.6h4.6l-2.3-4z"/><path d="M472.2,1967.5h4.6l-2.3-4z"/><path d="M444.4,1985.3h4.6l-2.3-4z"/><path d="M462.1,2013.3h4.6l-2.3-4z"/><path d="M454.2,1887.8h4.6l-2.3-4z"/><path d="M446.7,1996.2h4.6l-2.3-4z"/><path d="M474.1,1990.2h4.6l-2.3-4z"/><path d="M471.5,1990.4h4.6l-2.3-4z"/><path d="M439.4,2017.1h4.6l-2.3-4z"/><path d="M441.2,1985.2h4.6l-2.3-4z"/><path d="M439.6,1912.7h4.6l-2.3-4z"/><path d="M447.8,1939.5h4.6l-2.3-4z"/><path d="M473.1,1951.7h4.6l-2.3-4z"/><path d="M427.2,1998.3h4.6l-2.3-4z"/><path d="M473.8,1988.2h4.6l-2.3-4z"/><path d="M445.6,2035.4h4.6l-2.3-4z"/><path d="M476.4,2000.8h4.6l-2.3-4z"/><path d="M442.2,1932.7h4.6l-2.3-4z"/><path d="M464.5,1986.2h4.6l-2.3-4z"/><path d="M455.0,2042.7h4.6l-2.3-4z"/><path d="M435.7,2046.2h4.6l-2.3-4z"/><path d="M471.9,2027.6h4.6l-2.3-4z"/><path d="M435.6,1950.7h4.6l-2.3-4z"/><path d="M467.2,1987.7h4.6l-2.3-4z"/><path d="M453.1,1941.4h4.6l-2.3-4z"/><path d="M474.8,1948.2h4.6l-2.3-4z"/><path d="M456.0,1951.8h4.6l-2.3-4z"/><path d="M473.5,2036.7h4.6l-2.3-4z"/><path d="M434.0,1990.2h4.6l-2.3-4z"/><path d="M453.6,2035.5h4.6l-2.3-4z"/><path d="M456.9,2041.4h4.6l-2.3-4z"/><path d="M436.5,1996.5h4.6l-2.3-4z"/><path d="M452.6,2020.3h4.6l-2.3-4z"/><path d="M428.9,2041.8h4.6l-2.3-4z"/><path d="M429.1,1992.2h4.6l-2.3-4z"/><path d="M432.1,1905.0h4.6l-2.3-4z"/><path d="M474.4,1997.9h4.6l-2.3-4z"/><path d="M422.4,1938.2h4.6l-2.3-4z"/><path d="M443.5,1907.9h4.6l-2.3-4z"/><path d="M423.3,2007.0h4.6l-2.3-4z"/><path d="M427.6,2004.4h4.6l-2.3-4z"/><path d="M449.6,2034.1h4.6l-2.3-4z"/><path d="M444.6,1959.9h4.6l-2.3-4z"/><path d="M420.2,2030.2h4.6l-2.3-4z"/><path d="M458.0,1997.5h4.6l-2.3-4z"/><path d="M428.6,1988.2h4.6l-2.3-4z"/><path d="M439.1,2014.8h4.6l-2.3-4z"/><path d="M420.5,2011.9h4.6l-2.3-4z"/><path d="M473.7,1946.2h4.6l-2.3-4z"/><path d="M435.8,1973.6h4.6l-2.3-4z"/><path d="M444.8,1979.0h4.6l-2.3-4z"/><path d="M447.5,1993.8h4.6l-2.3-4z"/><path d="M423.5,1970.9h4.6l-2.3-4z"/><path d="M454.9,1947.0h4.6l-2.3-4z"/><path d="M424.6,2043.8h4.6l-2.3-4z"/><path d="M454.5,2017.6h4.6l-2.3-4z"/><path d="M476.5,1925.8h4.6l-2.3-4z"/><path d="M443.5,1995.8h4.6l-2.3-4z"/><path d="M452.4,2033.4h4.6l-2.3-4z"/><path d="M473.8,2035.8h4.6l-2.3-4z"/><path d="M471.4,1979.6h4.6l-2.3-4z"/><path d="M421.6,2051.9h4.6l-2.3-4z"/><path d="M467.5,1899.8h4.6l-2.3-4z"/><path d="M447.9,2013.9h4.6l-2.3-4z"/><path d="M437.4,2051.0h4.6l-2.3-4z"/><path d="M428.6,2021.7h4.6l-2.3-4z"/><path d="M455.0,2031.9h4.6l-2.3-4z"/><path d="M425.0,1963.9h4.6l-2.3-4z"/><path d="M421.4,2011.6h4.6l-2.3-4z"/><path d="M477.6,2011.3h4.6l-2.3-4z"/><path d="M422.4,1838.9h4.6l-2.3-4z"/><path d="M460.1,2015.9h4.6l-2.3-4z"/><path d="M425.8,1987.1h4.6l-2.3-4z"/><path d="M443.6,1943.8h4.6l-2.3-4z"/><path d="M467.5,1964.3h4.6l-2.3-4z"/><path d="M439.7,2034.1h4.6l-2.3-4z"/><path d="M476.7,2044.4h4.6l-2.3-4z"/><path d="M440.1,2049.6h4.6l-2.3-4z"/><path d="M446.8,1985.6h4.6l-2.3-4z"/><path d="M421.6,1991.1h4.6l-2.3-4z"/><path d="M463.1,1993.6h4.6l-2.3-4z"/><path d="M475.5,2014.7h4.6l-2.3-4z"/><path d="M474.2,1988.1h4.6l-2.3-4z"/><path d="M476.3,2016.9h4.6l-2.3-4z"/><path d="M417.7,2006.3h4.6l-2.3-4z"/><path d="M457.5,2050.7h4.6l-2.3-4z"/><path d="M433.8,1995.5h4.6l-2.3-4z"/><path d="M464.2,2038.1h4.6l-2.3-4z"/><path d="M444.2,1990.4h4.6l-2.3-4z"/><path d="M421.3,2023.1h4.6l-2.3-4z"/><path d="M468.7,1975.5h4.6l-2.3-4z"/><path d="M473.8,1995.6h4.6l-2.3-4z"/><path d="M466.3,1969.0h4.6l-2.3-4z"/><path d="M471.5,2040.8h4.6l-2.3-4z"/><path d="M429.6,2051.9h4.6l-2.3-4z"/><path d="M471.9,2043.6h4.6l-2.3-4z"/><path d="M428.2,2039.3h4.6l-2.3-4z"/><path d="M428.1,1991.1h4.6l-2.3-4z"/><path d="M459.3,2004.0h4.6l-2.3-4z"/><path d="M431.2,2025.2h4.6l-2.3-4z"/><path d="M445.8,1950.8h4.6l-2.3-4z"/><path d="M470.2,1945.1h4.6l-2.3-4z"/><path d="M439.1,2027.6h4.6l-2.3-4z"/><path d="M428.8,1986.9h4.6l-2.3-4z"/><path d="M436.9,1979.2h4.6l-2.3-4z"/><path d="M438.9,2002.4h4.6l-2.3-4z"/><path d="M455.4,2042.8h4.6l-2.3-4z"/><path d="M455.4,2023.5h4.6l-2.3-4z"/><path d="M456.4,2022.1h4.6l-2.3-4z"/><path d="M437.1,2034.8h4.6l-2.3-4z"/><path d="M470.1,2019.3h4.6l-2.3-4z"/><path d="M455.0,1981.2h4.6l-2.3-4z"/><path d="M440.8,2048.9h4.6l-2.3-4z"/><path d="M427.4,1860.4h4.6l-2.3-4z"/><path d="M440.9,1959.0h4.6l-2.3-4z"/><path d="M475.7,2018.5h4.6l-2.3-4z"/><path d="M443.5,1950.3h4.6l-2.3-4z"/><path d="M473.8,1985.6h4.6l-2.3-4z"/><path d="M467.7,2035.8h4.6l-2.3-4z"/><path d="M428.9,1992.4h4.6l-2.3-4z"/><path d="M427.9,1985.6h4.6l-2.3-4z"/><path d="M476.4,1941.2h4.6l-2.3-4z"/><path d="M444.9,1984.8h4.6l-2.3-4z"/><path d="M458.0,2014.0h4.6l-2.3-4z"/><path d="M458.2,2030.0h4.6l-2.3-4z"/><path d="M419.0,1980.9h4.6l-2.3-4z"/><path d="M417.8,2051.5h4.6l-2.3-4z"/><path d="M434.7,2012.0h4.6l-2.3-4z"/><path d="M446.3,2034.3h4.6l-2.3-4z"/><path d="M436.3,1977.5h4.6l-2.3-4z"/><path d="M429.5,1994.3h4.6l-2.3-4z"/><path d="M434.2,2035.6h4.6l-2.3-4z"/><path d="M436.9,2015.7h4.6l-2.3-4z"/><path d="M421.7,1968.9h4.6l-2.3-4z"/><path d="M431.2,2030.2h4.6l-2.3-4z"/><path d="M450.7,2041.0h4.6l-2.3-4z"/><path d="M419.9,2032.9h4.6l-2.3-4z"/><path d="M425.9,2021.1h4.6l-2.3-4z"/><path d="M449.1,2013.5h4.6l-2.3-4z"/><path d="M421.2,2008.6h4.6l-2.3-4z"/><path d="M437.1,2031.5h4.6l-2.3-4z"/><path d="M462.3,1970.7h4.6l-2.3-4z"/><path d="M465.5,1906.8h4.6l-2.3-4z"/><path d="M464.7,1973.7h4.6l-2.3-4z"/><path d="M460.5,1979.5h4.6l-2.3-4z"/><path d="M417.9,1980.2h4.6l-2.3-4z"/><path d="M466.7,2031.0h4.6l-2.3-4z"/><path d="M450.6,2009.6h4.6l-2.3-4z"/><path d="M441.7,2007.1h4.6l-2.3-4z"/><path d="M420.8,2002.3h4.6l-2.3-4z"/><path d="M419.5,1946.1h4.6l-2.3-4z"/><path d="M429.3,1871.9h4.6l-2.3-4z"/><path d="M447.9,1968.3h4.6l-2.3-4z"/><path d="M433.2,2046.2h4.6l-2.3-4z"/><path d="M467.1,2027.4h4.6l-2.3-4z"/><path d="M472.4,1962.2h4.6l-2.3-4z"/><path d="M457.9,2017.9h4.6l-2.3-4z"/><path d="M449.2,2025.1h4.6l-2.3-4z"/><path d="M456.2,1999.8h4.6l-2.3-4z"/><path d="M477.5,1997.1h4.6l-2.3-4z"/><path d="M420.5,2016.1h4.6l-2.3-4z"/><path d="M427.4,1974.7h4.6l-2.3-4z"/><path d="M434.2,1923.5h4.6l-2.3-4z"/><path d="M473.8,1942.6h4.6l-2.3-4z"/><path d="M423.9,2040.0h4.6l-2.3-4z"/><path d="M473.8,2035.8h4.6l-2.3-4z"/><path d="M423.2,2018.3h4.6l-2.3-4z"/><path d="M474.9,1897.2h4.6l-2.3-4z"/><path d="M437.6,2001.7h4.6l-2.3-4z"/><path d="M418.9,1961.6h4.6l-2.3-4z"/><path d="M422.0,1996.1h4.6l-2.3-4z"/><path d="M436.1,2000.6h4.6l-2.3-4z"/><path d="M466.8,2001.1h4.6l-2.3-4z"/><path d="M426.9,1977.7h4.6l-2.3-4z"/><path d="M421.0,1992.0h4.6l-2.3-4z"/><path d="M462.7,1995.6h4.6l-2.3-4z"/><path d="M475.5,2044.0h4.6l-2.3-4z"/><path d="M422.6,1966.3h4.6l-2.3-4z"/><path d="M453.7,1951.8h4.6l-2.3-4z"/><path d="M450.0,2017.4h4.6l-2.3-4z"/><path d="M441.5,1939.8h4.6l-2.3-4z"/><path d="M459.7,1889.4h4.6l-2.3-4z"/><path d="M482.3,2025.2h4.6l-2.3-4z"/><path d="M522.5,2032.1h4.6l-2.3-4z"/><path d="M487.5,1999.4h4.6l-2.3-4z"/><path d="M502.8,1920.0h4.6l-2.3-4z"/><path d="M530.8,1992.7h4.6l-2.3-4z"/><path d="M537.8,2000.3h4.6l-2.3-4z"/><path d="M478.0,1944.6h4.6l-2.3-4z"/><path d="M492.2,1927.5h4.6l-2.3-4z"/><path d="M547.4,1933.0h4.6l-2.3-4z"/><path d="M521.8,1962.6h4.6l-2.3-4z"/><path d="M525.1,2036.2h4.6l-2.3-4z"/><path d="M528.0,1925.8h4.6l-2.3-4z"/><path d="M479.0,1944.1h4.6l-2.3-4z"/><path d="M487.4,2025.8h4.6l-2.3-4z"/><path d="M516.1,1987.9h4.6l-2.3-4z"/><path d="M481.4,2004.6h4.6l-2.3-4z"/><path d="M542.5,1984.6h4.6l-2.3-4z"/><path d="M479.9,2016.8h4.6l-2.3-4z"/><path d="M488.2,1984.0h4.6l-2.3-4z"/><path d="M485.6,2030.4h4.6l-2.3-4z"/><path d="M478.5,1854.2h4.6l-2.3-4z"/><path d="M509.2,2012.0h4.6l-2.3-4z"/><path d="M500.8,1990.1h4.6l-2.3-4z"/><path d="M522.7,1979.5h4.6l-2.3-4z"/><path d="M491.9,1979.7h4.6l-2.3-4z"/><path d="M493.5,2031.4h4.6l-2.3-4z"/><path d="M492.2,2038.5h4.6l-2.3-4z"/><path d="M504.8,1984.8h4.6l-2.3-4z"/><path d="M517.5,1959.6h4.6l-2.3-4z"/><path d="M498.2,1984.9h4.6l-2.3-4z"/><path d="M521.9,1928.0h4.6l-2.3-4z"/><path d="M479.8,2036.3h4.6l-2.3-4z"/><path d="M546.0,1923.1h4.6l-2.3-4z"/><path d="M528.6,1986.4h4.6l-2.3-4z"/><path d="M527.7,2012.2h4.6l-2.3-4z"/><path d="M538.3,2016.2h4.6l-2.3-4z"/><path d="M530.0,1997.4h4.6l-2.3-4z"/><path d="M524.2,1960.0h4.6l-2.3-4z"/><path d="M479.6,2027.5h4.6l-2.3-4z"/><path d="M535.9,2005.6h4.6l-2.3-4z"/><path d="M543.1,2023.4h4.6l-2.3-4z"/><path d="M540.0,1973.9h4.6l-2.3-4z"/><path d="M504.1,2037.9h4.6l-2.3-4z"/><path d="M539.9,1662.6h4.6l-2.3-4z"/><path d="M485.9,1942.3h4.6l-2.3-4z"/><path d="M502.7,2015.9h4.6l-2.3-4z"/><path d="M535.9,1906.9h4.6l-2.3-4z"/><path d="M538.8,1891.8h4.6l-2.3-4z"/><path d="M502.7,2029.0h4.6l-2.3-4z"/><path d="M488.9,1999.5h4.6l-2.3-4z"/><path d="M501.3,2041.8h4.6l-2.3-4z"/><path d="M508.8,1951.6h4.6l-2.3-4z"/><path d="M527.8,1887.5h4.6l-2.3-4z"/><path d="M530.8,1973.6h4.6l-2.3-4z"/><path d="M478.1,1884.6h4.6l-2.3-4z"/><path d="M509.8,2005.4h4.6l-2.3-4z"/><path d="M498.9,2007.3h4.6l-2.3-4z"/><path d="M516.4,2023.3h4.6l-2.3-4z"/><path d="M534.7,1934.7h4.6l-2.3-4z"/><path d="M522.7,1941.1h4.6l-2.3-4z"/><path d="M534.2,1875.4h4.6l-2.3-4z"/><path d="M526.2,1943.0h4.6l-2.3-4z"/><path d="M481.1,2029.5h4.6l-2.3-4z"/><path d="M532.1,1908.2h4.6l-2.3-4z"/><path d="M522.9,1976.6h4.6l-2.3-4z"/><path d="M535.8,1957.4h4.6l-2.3-4z"/><path d="M480.9,2001.6h4.6l-2.3-4z"/><path d="M521.1,2017.0h4.6l-2.3-4z"/><path d="M477.7,1976.6h4.6l-2.3-4z"/><path d="M542.2,1964.3h4.6l-2.3-4z"/><path d="M546.3,1970.8h4.6l-2.3-4z"/><path d="M529.9,1871.3h4.6l-2.3-4z"/><path d="M527.0,2023.6h4.6l-2.3-4z"/><path d="M541.6,2033.4h4.6l-2.3-4z"/><path d="M504.3,2030.5h4.6l-2.3-4z"/><path d="M486.6,1987.9h4.6l-2.3-4z"/><path d="M477.8,2017.0h4.6l-2.3-4z"/><path d="M520.2,2014.0h4.6l-2.3-4z"/><path d="M495.9,1966.2h4.6l-2.3-4z"/><path d="M501.9,1958.3h4.6l-2.3-4z"/><path d="M504.4,1870.4h4.6l-2.3-4z"/><path d="M526.0,2002.2h4.6l-2.3-4z"/><path d="M511.6,2029.4h4.6l-2.3-4z"/><path d="M546.2,1980.0h4.6l-2.3-4z"/><path d="M524.5,2011.6h4.6l-2.3-4z"/><path d="M520.8,1953.8h4.6l-2.3-4z"/><path d="M495.0,1946.7h4.6l-2.3-4z"/><path d="M518.6,1973.6h4.6l-2.3-4z"/><path d="M493.7,2006.0h4.6l-2.3-4z"/><path d="M541.4,2028.7h4.6l-2.3-4z"/><path d="M545.5,1970.4h4.6l-2.3-4z"/><path d="M543.6,2006.6h4.6l-2.3-4z"/><path d="M510.8,1956.6h4.6l-2.3-4z"/><path d="M520.5,1808.9h4.6l-2.3-4z"/><path d="M524.8,1860.2h4.6l-2.3-4z"/><path d="M520.1,2015.6h4.6l-2.3-4z"/><path d="M494.0,1897.6h4.6l-2.3-4z"/><path d="M482.8,2042.3h4.6l-2.3-4z"/><path d="M545.8,1939.1h4.6l-2.3-4z"/><path d="M537.2,1957.0h4.6l-2.3-4z"/><path d="M535.4,1903.3h4.6l-2.3-4z"/><path d="M486.7,2004.0h4.6l-2.3-4z"/><path d="M542.0,2012.6h4.6l-2.3-4z"/><path d="M526.1,2017.7h4.6l-2.3-4z"/><path d="M499.5,2033.9h4.6l-2.3-4z"/><path d="M499.4,2030.5h4.6l-2.3-4z"/><path d="M479.8,2001.6h4.6l-2.3-4z"/><path d="M523.5,1987.8h4.6l-2.3-4z"/><path d="M491.5,1979.6h4.6l-2.3-4z"/><path d="M514.2,1981.3h4.6l-2.3-4z"/><path d="M524.1,2030.8h4.6l-2.3-4z"/><path d="M515.6,2008.6h4.6l-2.3-4z"/><path d="M514.7,2028.2h4.6l-2.3-4z"/><path d="M503.7,2013.0h4.6l-2.3-4z"/><path d="M509.6,2040.6h4.6l-2.3-4z"/><path d="M536.1,1989.6h4.6l-2.3-4z"/><path d="M545.5,2006.7h4.6l-2.3-4z"/><path d="M508.8,1858.0h4.6l-2.3-4z"/><path d="M481.8,2021.2h4.6l-2.3-4z"/><path d="M486.2,2020.9h4.6l-2.3-4z"/><path d="M529.5,1985.3h4.6l-2.3-4z"/><path d="M537.0,2046.1h4.6l-2.3-4z"/><path d="M532.5,2012.7h4.6l-2.3-4z"/><path d="M520.7,1986.9h4.6l-2.3-4z"/><path d="M542.4,2027.3h4.6l-2.3-4z"/><path d="M479.0,1953.6h4.6l-2.3-4z"/><path d="M511.5,2027.7h4.6l-2.3-4z"/><path d="M524.9,1888.7h4.6l-2.3-4z"/><path d="M531.6,1971.5h4.6l-2.3-4z"/><path d="M513.2,1959.2h4.6l-2.3-4z"/><path d="M497.2,1987.5h4.6l-2.3-4z"/><path d="M516.8,1934.1h4.6l-2.3-4z"/><path d="M525.6,1991.0h4.6l-2.3-4z"/><path d="M483.4,1853.8h4.6l-2.3-4z"/><path d="M525.0,2027.2h4.6l-2.3-4z"/><path d="M535.1,1963.9h4.6l-2.3-4z"/><path d="M544.1,1992.1h4.6l-2.3-4z"/><path d="M491.8,2005.1h4.6l-2.3-4z"/><path d="M526.3,1995.9h4.6l-2.3-4z"/><path d="M489.4,1964.1h4.6l-2.3-4z"/><path d="M494.2,1997.9h4.6l-2.3-4z"/><path d="M540.0,2017.9h4.6l-2.3-4z"/><path d="M508.5,1948.9h4.6l-2.3-4z"/><path d="M526.0,2030.1h4.6l-2.3-4z"/><path d="M511.0,2031.6h4.6l-2.3-4z"/><path d="M516.4,1870.9h4.6l-2.3-4z"/><path d="M500.5,1945.6h4.6l-2.3-4z"/><path d="M494.9,2026.7h4.6l-2.3-4z"/><path d="M523.8,2003.4h4.6l-2.3-4z"/><path d="M496.7,1933.6h4.6l-2.3-4z"/><path d="M520.1,1949.1h4.6l-2.3-4z"/><path d="M507.1,2009.4h4.6l-2.3-4z"/><path d="M502.5,1960.0h4.6l-2.3-4z"/><path d="M502.8,1978.4h4.6l-2.3-4z"/><path d="M543.2,1951.8h4.6l-2.3-4z"/><path d="M490.3,1938.5h4.6l-2.3-4z"/><path d="M491.4,2005.3h4.6l-2.3-4z"/><path d="M479.4,2035.7h4.6l-2.3-4z"/><path d="M533.2,1938.2h4.6l-2.3-4z"/><path d="M537.3,2018.8h4.6l-2.3-4z"/><path d="M515.2,2020.0h4.6l-2.3-4z"/><path d="M515.5,1910.3h4.6l-2.3-4z"/><path d="M516.7,2018.9h4.6l-2.3-4z"/><path d="M495.2,1973.3h4.6l-2.3-4z"/><path d="M488.4,2028.0h4.6l-2.3-4z"/><path d="M480.6,2010.6h4.6l-2.3-4z"/><path d="M486.4,2041.5h4.6l-2.3-4z"/><path d="M498.3,1970.5h4.6l-2.3-4z"/><path d="M533.5,1985.0h4.6l-2.3-4z"/><path d="M480.1,1934.7h4.6l-2.3-4z"/><path d="M546.8,2009.7h4.6l-2.3-4z"/><path d="M494.0,2016.0h4.6l-2.3-4z"/><path d="M508.6,2034.4h4.6l-2.3-4z"/><path d="M478.1,1984.0h4.6l-2.3-4z"/><path d="M535.0,1888.4h4.6l-2.3-4z"/><path d="M498.6,2008.0h4.6l-2.3-4z"/><path d="M482.9,1930.0h4.6l-2.3-4z"/><path d="M532.8,1946.7h4.6l-2.3-4z"/><path d="M543.6,2026.4h4.6l-2.3-4z"/><path d="M525.2,1931.1h4.6l-2.3-4z"/><path d="M531.6,2012.5h4.6l-2.3-4z"/><path d="M536.5,2011.1h4.6l-2.3-4z"/><path d="M531.9,1975.3h4.6l-2.3-4z"/><path d="M484.3,1961.4h4.6l-2.3-4z"/><path d="M532.1,1995.0h4.6l-2.3-4z"/><path d="M505.2,2005.9h4.6l-2.3-4z"/><path d="M534.0,1942.1h4.6l-2.3-4z"/><path d="M516.1,1983.6h4.6l-2.3-4z"/><path d="M495.4,1902.8h4.6l-2.3-4z"/><path d="M505.3,1941.6h4.6l-2.3-4z"/><path d="M512.4,2026.4h4.6l-2.3-4z"/><path d="M515.3,1937.7h4.6l-2.3-4z"/><path d="M541.2,1991.7h4.6l-2.3-4z"/><path d="M488.9,1957.2h4.6l-2.3-4z"/><path d="M481.3,2006.2h4.6l-2.3-4z"/><path d="M500.7,1961.0h4.6l-2.3-4z"/><path d="M490.4,1990.5h4.6l-2.3-4z"/><path d="M496.9,1963.2h4.6l-2.3-4z"/><path d="M530.9,1851.8h4.6l-2.3-4z"/><path d="M518.2,1981.6h4.6l-2.3-4z"/><path d="M493.3,2034.3h4.6l-2.3-4z"/><path d="M506.1,2029.6h4.6l-2.3-4z"/><path d="M495.1,1923.0h4.6l-2.3-4z"/><path d="M511.5,2012.3h4.6l-2.3-4z"/><path d="M513.7,1975.5h4.6l-2.3-4z"/><path d="M487.6,1994.3h4.6l-2.3-4z"/><path d="M502.2,1973.5h4.6l-2.3-4z"/><path d="M506.7,2036.8h4.6l-2.3-4z"/><path d="M533.5,1981.5h4.6l-2.3-4z"/><path d="M484.2,1985.6h4.6l-2.3-4z"/><path d="M517.6,1925.4h4.6l-2.3-4z"/><path d="M536.7,1998.3h4.6l-2.3-4z"/><path d="M501.3,1980.6h4.6l-2.3-4z"/><path d="M506.7,2026.4h4.6l-2.3-4z"/><path d="M499.8,1991.1h4.6l-2.3-4z"/><path d="M539.7,2029.8h4.6l-2.3-4z"/><path d="M530.8,2024.6h4.6l-2.3-4z"/><path d="M520.5,2020.9h4.6l-2.3-4z"/><path d="M493.2,2035.0h4.6l-2.3-4z"/><path d="M529.1,1965.6h4.6l-2.3-4z"/><path d="M486.9,2046.8h4.6l-2.3-4z"/><path d="M492.8,2033.6h4.6l-2.3-4z"/><path d="M488.2,1998.7h4.6l-2.3-4z"/><path d="M524.7,2006.6h4.6l-2.3-4z"/><path d="M497.8,1855.9h4.6l-2.3-4z"/><path d="M480.3,1982.8h4.6l-2.3-4z"/><path d="M502.6,1767.6h4.6l-2.3-4z"/><path d="M526.0,2025.2h4.6l-2.3-4z"/><path d="M519.0,2049.1h4.6l-2.3-4z"/><path d="M534.6,2001.8h4.6l-2.3-4z"/><path d="M520.2,2013.7h4.6l-2.3-4z"/><path d="M539.1,1973.8h4.6l-2.3-4z"/><path d="M535.2,2019.6h4.6l-2.3-4z"/><path d="M499.2,2030.5h4.6l-2.3-4z"/><path d="M492.1,1978.8h4.6l-2.3-4z"/><path d="M493.5,1906.8h4.6l-2.3-4z"/><path d="M526.4,2017.1h4.6l-2.3-4z"/><path d="M503.7,2046.2h4.6l-2.3-4z"/><path d="M494.5,2042.9h4.6l-2.3-4z"/><path d="M525.9,1978.1h4.6l-2.3-4z"/><path d="M485.2,2007.8h4.6l-2.3-4z"/><path d="M538.0,2039.5h4.6l-2.3-4z"/><path d="M512.3,1936.7h4.6l-2.3-4z"/><path d="M491.1,1840.4h4.6l-2.3-4z"/><path d="M480.7,1956.0h4.6l-2.3-4z"/><path d="M505.0,1995.1h4.6l-2.3-4z"/><path d="M515.5,2024.2h4.6l-2.3-4z"/><path d="M542.0,1876.3h4.6l-2.3-4z"/><path d="M501.5,1960.0h4.6l-2.3-4z"/><path d="M526.1,2006.9h4.6l-2.3-4z"/><path d="M497.2,1929.6h4.6l-2.3-4z"/><path d="M533.5,1958.3h4.6l-2.3-4z"/><path d="M515.1,1974.2h4.6l-2.3-4z"/><path d="M480.2,2009.7h4.6l-2.3-4z"/><path d="M492.3,1998.1h4.6l-2.3-4z"/><path d="M524.3,1921.3h4.6l-2.3-4z"/><path d="M545.2,1976.1h4.6l-2.3-4z"/><path d="M494.5,2033.1h4.6l-2.3-4z"/><path d="M481.6,2003.4h4.6l-2.3-4z"/><path d="M515.4,1923.7h4.6l-2.3-4z"/><path d="M528.5,2034.7h4.6l-2.3-4z"/><path d="M486.7,2009.7h4.6l-2.3-4z"/><path d="M519.8,1912.4h4.6l-2.3-4z"/><path d="M519.0,1968.7h4.6l-2.3-4z"/><path d="M481.6,1999.0h4.6l-2.3-4z"/><path d="M478.5,2021.5h4.6l-2.3-4z"/><path d="M520.8,2015.3h4.6l-2.3-4z"/><path d="M515.7,1998.1h4.6l-2.3-4z"/><path d="M492.4,1975.1h4.6l-2.3-4z"/><path d="M533.7,1949.7h4.6l-2.3-4z"/><path d="M538.3,1638.3h4.6l-2.3-4z"/><path d="M544.5,2001.1h4.6l-2.3-4z"/><path d="M530.7,2017.1h4.6l-2.3-4z"/><path d="M523.2,1958.3h4.6l-2.3-4z"/><path d="M482.9,1965.8h4.6l-2.3-4z"/><path d="M500.6,2024.5h4.6l-2.3-4z"/><path d="M533.2,2043.4h4.6l-2.3-4z"/><path d="M486.8,2034.3h4.6l-2.3-4z"/><path d="M543.5,2018.4h4.6l-2.3-4z"/><path d="M537.5,1961.0h4.6l-2.3-4z"/><path d="M506.7,2012.2h4.6l-2.3-4z"/><path d="M546.6,2005.9h4.6l-2.3-4z"/><path d="M535.3,2020.0h4.6l-2.3-4z"/><path d="M513.4,2032.8h4.6l-2.3-4z"/><path d="M524.5,2027.6h4.6l-2.3-4z"/><path d="M535.6,2023.7h4.6l-2.3-4z"/><path d="M544.7,1964.4h4.6l-2.3-4z"/><path d="M485.4,2009.0h4.6l-2.3-4z"/><path d="M514.7,1998.5h4.6l-2.3-4z"/><path d="M514.8,2024.3h4.6l-2.3-4z"/><path d="M523.0,1999.5h4.6l-2.3-4z"/><path d="M488.4,1932.2h4.6l-2.3-4z"/><path d="M500.5,2032.0h4.6l-2.3-4z"/><path d="M483.3,2005.1h4.6l-2.3-4z"/><path d="M540.9,1999.2h4.6l-2.3-4z"/><path d="M529.9,1991.2h4.6l-2.3-4z"/><path d="M538.8,1947.3h4.6l-2.3-4z"/><path d="M482.2,1972.3h4.6l-2.3-4z"/><path d="M538.0,1992.5h4.6l-2.3-4z"/><path d="M509.8,2041.8h4.6l-2.3-4z"/><path d="M512.8,1942.1h4.6l-2.3-4z"/><path d="M539.4,1986.4h4.6l-2.3-4z"/><path d="M514.0,2020.1h4.6l-2.3-4z"/><path d="M532.3,2031.0h4.6l-2.3-4z"/><path d="M545.3,2031.2h4.6l-2.3-4z"/><path d="M525.1,2033.9h4.6l-2.3-4z"/><path d="M513.7,1991.9h4.6l-2.3-4z"/><path d="M504.6,2031.3h4.6l-2.3-4z"/><path d="M540.1,1931.7h4.6l-2.3-4z"/><path d="M508.5,1957.0h4.6l-2.3-4z"/><path d="M522.6,1982.6h4.6l-2.3-4z"/><path d="M481.9,2020.4h4.6l-2.3-4z"/><path d="M530.5,2018.5h4.6l-2.3-4z"/><path d="M496.8,2002.5h4.6l-2.3-4z"/><path d="M536.8,1994.6h4.6l-2.3-4z"/><path d="M506.6,1965.0h4.6l-2.3-4z"/><path d="M540.8,1939.3h4.6l-2.3-4z"/><path d="M502.2,2030.7h4.6l-2.3-4z"/><path d="M514.9,1965.8h4.6l-2.3-4z"/><path d="M525.2,2005.5h4.6l-2.3-4z"/><path d="M499.1,1972.9h4.6l-2.3-4z"/><path d="M489.8,1977.8h4.6l-2.3-4z"/><path d="M489.8,2007.2h4.6l-2.3-4z"/><path d="M518.6,2045.8h4.6l-2.3-4z"/><path d="M524.3,2039.4h4.6l-2.3-4z"/><path d="M505.5,2002.7h4.6l-2.3-4z"/><path d="M486.6,2013.0h4.6l-2.3-4z"/><path d="M518.7,1945.4h4.6l-2.3-4z"/><path d="M477.8,1973.3h4.6l-2.3-4z"/><path d="M542.3,1983.6h4.6l-2.3-4z"/><path d="M497.0,2000.1h4.6l-2.3-4z"/><path d="M533.3,1992.9h4.6l-2.3-4z"/><path d="M534.9,1958.0h4.6l-2.3-4z"/><path d="M485.6,2032.7h4.6l-2.3-4z"/><path d="M498.6,2000.2h4.6l-2.3-4z"/><path d="M522.9,1935.1h4.6l-2.3-4z"/><path d="M510.5,1972.3h4.6l-2.3-4z"/><path d="M490.3,1990.1h4.6l-2.3-4z"/><path d="M493.0,1961.1h4.6l-2.3-4z"/><path d="M500.8,1889.9h4.6l-2.3-4z"/><path d="M535.5,1894.4h4.6l-2.3-4z"/><path d="M500.6,1857.1h4.6l-2.3-4z"/><path d="M491.2,1992.4h4.6l-2.3-4z"/><path d="M497.8,1956.2h4.6l-2.3-4z"/><path d="M511.1,2030.6h4.6l-2.3-4z"/><path d="M504.3,2043.8h4.6l-2.3-4z"/><path d="M542.2,1962.9h4.6l-2.3-4z"/><path d="M498.6,1985.4h4.6l-2.3-4z"/><path d="M530.6,1857.0h4.6l-2.3-4z"/><path d="M497.3,2043.7h4.6l-2.3-4z"/><path d="M537.4,2009.0h4.6l-2.3-4z"/><path d="M479.4,1976.0h4.6l-2.3-4z"/><path d="M505.6,2011.7h4.6l-2.3-4z"/><path d="M536.2,2002.4h4.6l-2.3-4z"/><path d="M520.2,1975.2h4.6l-2.3-4z"/><path d="M534.7,2006.7h4.6l-2.3-4z"/><path d="M535.3,1997.2h4.6l-2.3-4z"/><path d="M494.0,1979.2h4.6l-2.3-4z"/><path d="M515.4,1909.4h4.6l-2.3-4z"/><path d="M492.3,1990.2h4.6l-2.3-4z"/><path d="M484.7,2008.2h4.6l-2.3-4z"/><path d="M535.9,1944.6h4.6l-2.3-4z"/><path d="M513.6,1949.9h4.6l-2.3-4z"/><path d="M512.5,1980.4h4.6l-2.3-4z"/><path d="M502.4,2002.8h4.6l-2.3-4z"/><path d="M496.3,2030.4h4.6l-2.3-4z"/><path d="M528.0,2020.9h4.6l-2.3-4z"/><path d="M533.7,1922.9h4.6l-2.3-4z"/><path d="M512.1,2010.8h4.6l-2.3-4z"/><path d="M486.6,2029.6h4.6l-2.3-4z"/><path d="M526.3,2013.2h4.6l-2.3-4z"/><path d="M535.6,2004.8h4.6l-2.3-4z"/><path d="M500.8,2057.3h4.6l-2.3-4z"/><path d="M528.2,2037.7h4.6l-2.3-4z"/><path d="M541.2,2035.4h4.6l-2.3-4z"/><path d="M520.4,2005.0h4.6l-2.3-4z"/><path d="M520.9,1951.7h4.6l-2.3-4z"/><path d="M504.8,1966.4h4.6l-2.3-4z"/><path d="M500.0,1987.3h4.6l-2.3-4z"/><path d="M522.9,1995.4h4.6l-2.3-4z"/><path d="M512.3,1744.7h4.6l-2.3-4z"/><path d="M530.1,1922.0h4.6l-2.3-4z"/><path d="M498.1,1993.0h4.6l-2.3-4z"/><path d="M510.2,1994.7h4.6l-2.3-4z"/><path d="M502.3,2019.6h4.6l-2.3-4z"/><path d="M524.6,1932.0h4.6l-2.3-4z"/><path d="M535.6,2030.4h4.6l-2.3-4z"/><path d="M481.8,1960.4h4.6l-2.3-4z"/><path d="M519.4,1965.5h4.6l-2.3-4z"/><path d="M526.0,1985.3h4.6l-2.3-4z"/><path d="M539.8,1955.0h4.6l-2.3-4z"/><path d="M494.1,2026.8h4.6l-2.3-4z"/><path d="M503.3,2015.8h4.6l-2.3-4z"/><path d="M506.8,2018.9h4.6l-2.3-4z"/><path d="M542.5,2014.4h4.6l-2.3-4z"/><path d="M500.2,2031.1h4.6l-2.3-4z"/><path d="M499.8,2013.5h4.6l-2.3-4z"/><path d="M511.4,1892.6h4.6l-2.3-4z"/><path d="M493.2,1999.2h4.6l-2.3-4z"/><path d="M520.2,2011.4h4.6l-2.3-4z"/><path d="M499.8,2018.5h4.6l-2.3-4z"/><path d="M515.8,2025.1h4.6l-2.3-4z"/><path d="M522.2,1965.9h4.6l-2.3-4z"/><path d="M489.5,1983.9h4.6l-2.3-4z"/><path d="M536.8,1837.4h4.6l-2.3-4z"/><path d="M519.1,1884.4h4.6l-2.3-4z"/><path d="M532.4,1984.1h4.6l-2.3-4z"/><path d="M512.6,1941.2h4.6l-2.3-4z"/><path d="M507.7,2010.9h4.6l-2.3-4z"/><path d="M494.3,2044.8h4.6l-2.3-4z"/><path d="M505.6,1914.4h4.6l-2.3-4z"/><path d="M546.5,1976.8h4.6l-2.3-4z"/><path d="M523.5,2040.1h4.6l-2.3-4z"/><path d="M482.8,1905.5h4.6l-2.3-4z"/><path d="M486.4,1983.6h4.6l-2.3-4z"/><path d="M502.4,1967.6h4.6l-2.3-4z"/><path d="M491.9,2032.4h4.6l-2.3-4z"/><path d="M536.5,1965.1h4.6l-2.3-4z"/><path d="M498.5,1973.0h4.6l-2.3-4z"/><path d="M478.7,1999.7h4.6l-2.3-4z"/><path d="M542.5,1891.2h4.6l-2.3-4z"/><path d="M497.8,1988.6h4.6l-2.3-4z"/><path d="M528.6,1982.8h4.6l-2.3-4z"/><path d="M535.2,1957.3h4.6l-2.3-4z"/><path d="M534.0,2025.6h4.6l-2.3-4z"/><path d="M530.8,1923.4h4.6l-2.3-4z"/><path d="M526.3,2007.9h4.6l-2.3-4z"/><path d="M500.5,2042.4h4.6l-2.3-4z"/><path d="M514.7,1947.6h4.6l-2.3-4z"/><path d="M483.3,2008.1h4.6l-2.3-4z"/><path d="M526.6,1982.4h4.6l-2.3-4z"/><path d="M495.1,1995.3h4.6l-2.3-4z"/><path d="M501.2,1901.6h4.6l-2.3-4z"/><path d="M501.6,1950.3h4.6l-2.3-4z"/><path d="M509.7,2020.7h4.6l-2.3-4z"/><path d="M513.0,1847.6h4.6l-2.3-4z"/><path d="M486.7,2003.5h4.6l-2.3-4z"/><path d="M521.9,1827.4h4.6l-2.3-4z"/><path d="M500.7,2036.9h4.6l-2.3-4z"/><path d="M484.4,2014.1h4.6l-2.3-4z"/><path d="M541.4,1988.9h4.6l-2.3-4z"/><path d="M526.1,2019.9h4.6l-2.3-4z"/><path d="M486.7,2000.8h4.6l-2.3-4z"/><path d="M513.3,1977.0h4.6l-2.3-4z"/><path d="M534.0,1983.2h4.6l-2.3-4z"/><path d="M485.4,2035.0h4.6l-2.3-4z"/><path d="M519.4,2027.9h4.6l-2.3-4z"/><path d="M505.8,1940.7h4.6l-2.3-4z"/><path d="M519.7,1989.3h4.6l-2.3-4z"/><path d="M497.0,1978.4h4.6l-2.3-4z"/><path d="M516.0,1992.1h4.6l-2.3-4z"/><path d="M491.4,1992.9h4.6l-2.3-4z"/><path d="M505.7,2016.7h4.6l-2.3-4z"/><path d="M535.0,2041.2h4.6l-2.3-4z"/><path d="M489.0,2040.5h4.6l-2.3-4z"/><path d="M528.8,1956.3h4.6l-2.3-4z"/><path d="M507.0,2021.8h4.6l-2.3-4z"/><path d="M515.1,1888.3h4.6l-2.3-4z"/><path d="M522.7,1992.3h4.6l-2.3-4z"/><path d="M525.0,2012.0h4.6l-2.3-4z"/><path d="M497.7,1820.0h4.6l-2.3-4z"/><path d="M513.5,1976.8h4.6l-2.3-4z"/><path d="M536.8,1883.8h4.6l-2.3-4z"/><path d="M527.1,1992.5h4.6l-2.3-4z"/><path d="M528.7,1923.7h4.6l-2.3-4z"/><path d="M492.7,2011.3h4.6l-2.3-4z"/><path d="M497.5,2015.8h4.6l-2.3-4z"/><path d="M489.4,2044.6h4.6l-2.3-4z"/><path d="M532.2,1913.9h4.6l-2.3-4z"/><path d="M491.2,1897.4h4.6l-2.3-4z"/><path d="M538.7,1838.4h4.6l-2.3-4z"/><path d="M536.9,2018.5h4.6l-2.3-4z"/><path d="M515.9,1966.4h4.6l-2.3-4z"/><path d="M487.4,1989.7h4.6l-2.3-4z"/><path d="M498.2,1825.5h4.6l-2.3-4z"/><path d="M484.0,1968.6h4.6l-2.3-4z"/><path d="M492.0,2029.8h4.6l-2.3-4z"/><path d="M537.3,1970.3h4.6l-2.3-4z"/><path d="M506.5,2000.3h4.6l-2.3-4z"/><path d="M515.5,2004.1h4.6l-2.3-4z"/><path d="M538.6,2001.2h4.6l-2.3-4z"/><path d="M498.8,1909.1h4.6l-2.3-4z"/><path d="M543.3,2018.5h4.6l-2.3-4z"/><path d="M489.7,1891.1h4.6l-2.3-4z"/><path d="M491.1,2007.4h4.6l-2.3-4z"/><path d="M490.9,2048.7h4.6l-2.3-4z"/><path d="M514.3,1968.5h4.6l-2.3-4z"/><path d="M523.0,1913.5h4.6l-2.3-4z"/><path d="M537.9,1831.7h4.6l-2.3-4z"/><path d="M488.2,1979.5h4.6l-2.3-4z"/><path d="M536.8,2008.6h4.6l-2.3-4z"/><path d="M478.4,1999.4h4.6l-2.3-4z"/><path d="M527.5,1972.7h4.6l-2.3-4z"/><path d="M481.3,2050.6h4.6l-2.3-4z"/><path d="M516.3,2027.5h4.6l-2.3-4z"/><path d="M499.0,1955.8h4.6l-2.3-4z"/><path d="M511.6,1966.2h4.6l-2.3-4z"/><path d="M478.7,1901.6h4.6l-2.3-4z"/><path d="M516.2,2031.5h4.6l-2.3-4z"/><path d="M546.9,2024.8h4.6l-2.3-4z"/><path d="M494.8,2015.8h4.6l-2.3-4z"/><path d="M500.4,2017.9h4.6l-2.3-4z"/><path d="M513.1,1952.7h4.6l-2.3-4z"/><path d="M483.5,2035.3h4.6l-2.3-4z"/><path d="M513.9,2020.4h4.6l-2.3-4z"/><path d="M498.7,1883.3h4.6l-2.3-4z"/><path d="M506.0,2011.7h4.6l-2.3-4z"/><path d="M510.3,1985.7h4.6l-2.3-4z"/><path d="M478.3,2009.3h4.6l-2.3-4z"/><path d="M489.6,1978.5h4.6l-2.3-4z"/><path d="M540.3,1979.4h4.6l-2.3-4z"/><path d="M493.3,2004.4h4.6l-2.3-4z"/><path d="M536.9,2025.7h4.6l-2.3-4z"/><path d="M501.7,2044.2h4.6l-2.3-4z"/><path d="M528.1,1982.3h4.6l-2.3-4z"/><path d="M506.3,1918.9h4.6l-2.3-4z"/><path d="M517.2,1908.4h4.6l-2.3-4z"/><path d="M546.2,2018.2h4.6l-2.3-4z"/><path d="M497.4,1921.9h4.6l-2.3-4z"/><path d="M503.7,2041.6h4.6l-2.3-4z"/><path d="M533.8,1977.3h4.6l-2.3-4z"/><path d="M520.1,2010.7h4.6l-2.3-4z"/><path d="M493.2,2024.7h4.6l-2.3-4z"/><path d="M504.4,1958.4h4.6l-2.3-4z"/><path d="M525.2,1966.9h4.6l-2.3-4z"/><path d="M538.0,1978.1h4.6l-2.3-4z"/><path d="M545.5,1846.8h4.6l-2.3-4z"/><path d="M477.8,2037.7h4.6l-2.3-4z"/><path d="M515.1,1942.3h4.6l-2.3-4z"/><path d="M496.3,1972.0h4.6l-2.3-4z"/><path d="M484.0,1942.1h4.6l-2.3-4z"/><path d="M527.6,1961.5h4.6l-2.3-4z"/><path d="M532.7,1975.9h4.6l-2.3-4z"/><path d="M511.8,2033.4h4.6l-2.3-4z"/><path d="M517.1,1986.0h4.6l-2.3-4z"/><path d="M507.8,1983.5h4.6l-2.3-4z"/><path d="M538.1,1955.3h4.6l-2.3-4z"/><path d="M542.8,1808.7h4.6l-2.3-4z"/><path d="M533.4,1962.7h4.6l-2.3-4z"/><path d="M494.7,1814.1h4.6l-2.3-4z"/><path d="M490.1,1985.5h4.6l-2.3-4z"/><path d="M495.3,2025.0h4.6l-2.3-4z"/><path d="M512.7,2011.9h4.6l-2.3-4z"/><path d="M486.6,2008.9h4.6l-2.3-4z"/><path d="M540.1,2009.0h4.6l-2.3-4z"/><path d="M480.6,2035.1h4.6l-2.3-4z"/><path d="M522.1,1935.3h4.6l-2.3-4z"/><path d="M523.7,1940.9h4.6l-2.3-4z"/><path d="M502.8,2003.3h4.6l-2.3-4z"/><path d="M519.3,2016.3h4.6l-2.3-4z"/><path d="M514.0,2000.6h4.6l-2.3-4z"/><path d="M498.9,2018.5h4.6l-2.3-4z"/><path d="M528.0,1945.2h4.6l-2.3-4z"/><path d="M515.0,1890.9h4.6l-2.3-4z"/><path d="M479.1,1809.0h4.6l-2.3-4z"/><path d="M510.8,2036.3h4.6l-2.3-4z"/><path d="M479.8,2004.1h4.6l-2.3-4z"/><path d="M535.1,2022.7h4.6l-2.3-4z"/><path d="M530.2,2005.2h4.6l-2.3-4z"/><path d="M513.4,1997.3h4.6l-2.3-4z"/><path d="M499.6,1944.7h4.6l-2.3-4z"/><path d="M498.9,1972.2h4.6l-2.3-4z"/><path d="M526.8,2025.5h4.6l-2.3-4z"/><path d="M481.0,2038.7h4.6l-2.3-4z"/><path d="M536.2,1902.6h4.6l-2.3-4z"/><path d="M506.3,1993.8h4.6l-2.3-4z"/><path d="M496.3,1956.4h4.6l-2.3-4z"/><path d="M528.2,1960.7h4.6l-2.3-4z"/><path d="M517.7,1985.2h4.6l-2.3-4z"/><path d="M526.4,1971.3h4.6l-2.3-4z"/><path d="M483.8,1974.6h4.6l-2.3-4z"/><path d="M518.1,1968.5h4.6l-2.3-4z"/><path d="M546.9,1986.8h4.6l-2.3-4z"/><path d="M503.5,1946.8h4.6l-2.3-4z"/><path d="M520.1,1987.1h4.6l-2.3-4z"/><path d="M478.2,2030.6h4.6l-2.3-4z"/><path d="M534.6,1948.9h4.6l-2.3-4z"/><path d="M526.6,1927.9h4.6l-2.3-4z"/><path d="M539.2,2026.9h4.6l-2.3-4z"/><path d="M480.9,2038.8h4.6l-2.3-4z"/><path d="M544.2,1999.8h4.6l-2.3-4z"/><path d="M523.9,2046.9h4.6l-2.3-4z"/><path d="M511.7,2027.9h4.6l-2.3-4z"/><path d="M531.0,2012.0h4.6l-2.3-4z"/><path d="M480.7,1938.6h4.6l-2.3-4z"/><path d="M501.2,1986.1h4.6l-2.3-4z"/><path d="M502.6,1995.9h4.6l-2.3-4z"/><path d="M525.6,1964.2h4.6l-2.3-4z"/><path d="M546.8,1999.6h4.6l-2.3-4z"/><path d="M499.7,2043.6h4.6l-2.3-4z"/><path d="M546.0,1857.4h4.6l-2.3-4z"/><path d="M480.2,1960.4h4.6l-2.3-4z"/><path d="M494.8,1907.4h4.6l-2.3-4z"/><path d="M530.3,2034.8h4.6l-2.3-4z"/><path d="M495.7,1947.3h4.6l-2.3-4z"/><path d="M544.4,2038.0h4.6l-2.3-4z"/><path d="M506.0,1995.6h4.6l-2.3-4z"/><path d="M485.6,2004.8h4.6l-2.3-4z"/><path d="M490.0,2052.0h4.6l-2.3-4z"/><path d="M524.4,2005.4h4.6l-2.3-4z"/><path d="M543.3,2035.7h4.6l-2.3-4z"/><path d="M496.5,1924.5h4.6l-2.3-4z"/><path d="M537.8,2029.9h4.6l-2.3-4z"/><path d="M503.0,2009.1h4.6l-2.3-4z"/><path d="M508.4,2048.6h4.6l-2.3-4z"/><path d="M535.4,2029.8h4.6l-2.3-4z"/><path d="M511.4,1975.4h4.6l-2.3-4z"/><path d="M517.1,2032.9h4.6l-2.3-4z"/><path d="M511.2,1986.3h4.6l-2.3-4z"/><path d="M546.3,1943.1h4.6l-2.3-4z"/><path d="M508.7,1939.2h4.6l-2.3-4z"/><path d="M527.8,2022.6h4.6l-2.3-4z"/><path d="M486.7,1971.7h4.6l-2.3-4z"/><path d="M491.7,2001.9h4.6l-2.3-4z"/><path d="M491.8,1989.8h4.6l-2.3-4z"/><path d="M503.7,1910.4h4.6l-2.3-4z"/><path d="M518.2,1922.4h4.6l-2.3-4z"/><path d="M505.3,2006.7h4.6l-2.3-4z"/><path d="M533.4,2030.5h4.6l-2.3-4z"/><path d="M517.0,1942.3h4.6l-2.3-4z"/><path d="M484.0,1966.6h4.6l-2.3-4z"/><path d="M495.8,2044.6h4.6l-2.3-4z"/><path d="M538.1,1967.1h4.6l-2.3-4z"/><path d="M512.3,1973.9h4.6l-2.3-4z"/><path d="M499.0,2000.4h4.6l-2.3-4z"/><path d="M515.8,2038.9h4.6l-2.3-4z"/><path d="M536.8,2039.5h4.6l-2.3-4z"/><path d="M504.2,1903.2h4.6l-2.3-4z"/><path d="M533.1,1980.9h4.6l-2.3-4z"/><path d="M498.9,2000.2h4.6l-2.3-4z"/><path d="M541.3,1928.1h4.6l-2.3-4z"/><path d="M489.0,2043.5h4.6l-2.3-4z"/><path d="M537.2,2031.4h4.6l-2.3-4z"/><path d="M480.0,1998.3h4.6l-2.3-4z"/><path d="M536.2,1960.6h4.6l-2.3-4z"/><path d="M501.1,2016.8h4.6l-2.3-4z"/><path d="M526.2,1978.2h4.6l-2.3-4z"/><path d="M500.5,1918.1h4.6l-2.3-4z"/><path d="M532.4,1978.3h4.6l-2.3-4z"/><path d="M499.1,2025.9h4.6l-2.3-4z"/><path d="M535.0,2012.6h4.6l-2.3-4z"/><path d="M515.9,2029.9h4.6l-2.3-4z"/><path d="M501.5,1990.4h4.6l-2.3-4z"/><path d="M522.5,1894.5h4.6l-2.3-4z"/><path d="M479.2,1939.6h4.6l-2.3-4z"/><path d="M488.1,2052.2h4.6l-2.3-4z"/><path d="M520.5,1930.2h4.6l-2.3-4z"/><path d="M545.7,1994.7h4.6l-2.3-4z"/><path d="M490.3,2033.6h4.6l-2.3-4z"/><path d="M545.8,2000.9h4.6l-2.3-4z"/><path d="M484.3,1996.1h4.6l-2.3-4z"/><path d="M540.0,1952.0h4.6l-2.3-4z"/><path d="M485.0,2011.8h4.6l-2.3-4z"/><path d="M481.3,1951.4h4.6l-2.3-4z"/><path d="M500.4,1981.1h4.6l-2.3-4z"/><path d="M498.3,2014.8h4.6l-2.3-4z"/><path d="M504.3,2018.7h4.6l-2.3-4z"/><path d="M545.3,1961.4h4.6l-2.3-4z"/><path d="M515.1,2044.6h4.6l-2.3-4z"/><path d="M507.2,1944.4h4.6l-2.3-4z"/><path d="M506.0,2040.8h4.6l-2.3-4z"/><path d="M507.1,2021.6h4.6l-2.3-4z"/><path d="M515.6,1886.0h4.6l-2.3-4z"/><path d="M506.7,2004.8h4.6l-2.3-4z"/><path d="M499.3,1894.8h4.6l-2.3-4z"/><path d="M530.4,1953.6h4.6l-2.3-4z"/><path d="M497.4,1909.7h4.6l-2.3-4z"/><path d="M541.5,2029.9h4.6l-2.3-4z"/><path d="M538.1,1851.0h4.6l-2.3-4z"/><path d="M501.6,1850.1h4.6l-2.3-4z"/><path d="M492.9,2029.6h4.6l-2.3-4z"/><path d="M547.5,1923.0h4.6l-2.3-4z"/><path d="M535.8,1987.9h4.6l-2.3-4z"/><path d="M478.4,2002.3h4.6l-2.3-4z"/><path d="M489.6,2041.7h4.6l-2.3-4z"/><path d="M478.3,1986.4h4.6l-2.3-4z"/><path d="M481.9,2024.7h4.6l-2.3-4z"/><path d="M546.5,1945.4h4.6l-2.3-4z"/><path d="M529.0,1906.9h4.6l-2.3-4z"/><path d="M546.4,1907.1h4.6l-2.3-4z"/><path d="M488.8,1994.1h4.6l-2.3-4z"/><path d="M498.1,1990.4h4.6l-2.3-4z"/><path d="M499.1,1926.1h4.6l-2.3-4z"/><path d="M485.9,2041.4h4.6l-2.3-4z"/><path d="M517.8,2031.6h4.6l-2.3-4z"/><path d="M534.3,1930.7h4.6l-2.3-4z"/><path d="M544.9,1962.1h4.6l-2.3-4z"/><path d="M479.6,1977.3h4.6l-2.3-4z"/><path d="M491.5,1913.7h4.6l-2.3-4z"/><path d="M530.4,1945.1h4.6l-2.3-4z"/><path d="M529.0,1978.3h4.6l-2.3-4z"/><path d="M531.6,1888.7h4.6l-2.3-4z"/><path d="M528.4,2038.8h4.6l-2.3-4z"/><path d="M515.4,1992.2h4.6l-2.3-4z"/><path d="M490.0,2034.7h4.6l-2.3-4z"/><path d="M497.1,1986.6h4.6l-2.3-4z"/><path d="M516.4,1918.7h4.6l-2.3-4z"/><path d="M513.5,2012.6h4.6l-2.3-4z"/><path d="M489.7,2035.9h4.6l-2.3-4z"/><path d="M486.6,1964.9h4.6l-2.3-4z"/><path d="M528.6,1960.3h4.6l-2.3-4z"/><path d="M514.8,1973.0h4.6l-2.3-4z"/><path d="M503.4,1898.1h4.6l-2.3-4z"/><path d="M486.1,1958.1h4.6l-2.3-4z"/><path d="M504.0,2045.4h4.6l-2.3-4z"/><path d="M528.4,2027.9h4.6l-2.3-4z"/><path d="M528.9,1889.2h4.6l-2.3-4z"/><path d="M533.6,2033.6h4.6l-2.3-4z"/><path d="M534.3,1974.1h4.6l-2.3-4z"/><path d="M525.4,1969.5h4.6l-2.3-4z"/><path d="M518.4,1989.1h4.6l-2.3-4z"/><path d="M534.3,1995.4h4.6l-2.3-4z"/><path d="M542.4,1927.3h4.6l-2.3-4z"/><path d="M519.5,2003.4h4.6l-2.3-4z"/><path d="M523.4,1967.4h4.6l-2.3-4z"/><path d="M494.1,2034.6h4.6l-2.3-4z"/><path d="M501.5,2009.3h4.6l-2.3-4z"/><path d="M485.0,2056.2h4.6l-2.3-4z"/><path d="M496.1,2009.7h4.6l-2.3-4z"/><path d="M497.5,2050.3h4.6l-2.3-4z"/><path d="M514.1,1906.8h4.6l-2.3-4z"/><path d="M535.0,1930.8h4.6l-2.3-4z"/><path d="M513.3,1955.5h4.6l-2.3-4z"/><path d="M479.4,1944.7h4.6l-2.3-4z"/><path d="M525.5,1967.4h4.6l-2.3-4z"/><path d="M531.4,2007.3h4.6l-2.3-4z"/><path d="M543.3,1923.2h4.6l-2.3-4z"/><path d="M507.5,1835.1h4.6l-2.3-4z"/><path d="M514.0,1964.9h4.6l-2.3-4z"/><path d="M490.2,1907.6h4.6l-2.3-4z"/><path d="M524.6,2016.4h4.6l-2.3-4z"/><path d="M496.6,2024.4h4.6l-2.3-4z"/><path d="M542.7,2040.1h4.6l-2.3-4z"/><path d="M481.0,1910.6h4.6l-2.3-4z"/><path d="M490.3,1894.7h4.6l-2.3-4z"/><path d="M502.7,1991.5h4.6l-2.3-4z"/><path d="M527.8,1731.1h4.6l-2.3-4z"/><path d="M525.3,2021.7h4.6l-2.3-4z"/><path d="M508.1,1807.9h4.6l-2.3-4z"/><path d="M515.7,2002.8h4.6l-2.3-4z"/><path d="M501.8,2031.6h4.6l-2.3-4z"/><path d="M493.1,2001.5h4.6l-2.3-4z"/><path d="M545.3,2001.0h4.6l-2.3-4z"/><path d="M524.9,1968.2h4.6l-2.3-4z"/><path d="M541.6,2012.0h4.6l-2.3-4z"/><path d="M546.7,1985.7h4.6l-2.3-4z"/><path d="M499.5,2021.7h4.6l-2.3-4z"/><path d="M520.2,2039.9h4.6l-2.3-4z"/><path d="M536.9,1896.2h4.6l-2.3-4z"/><path d="M494.6,1999.2h4.6l-2.3-4z"/><path d="M544.8,1986.2h4.6l-2.3-4z"/><path d="M499.4,1897.9h4.6l-2.3-4z"/><path d="M520.5,1987.9h4.6l-2.3-4z"/><path d="M508.7,1926.3h4.6l-2.3-4z"/><path d="M543.3,1987.3h4.6l-2.3-4z"/><path d="M530.2,1962.3h4.6l-2.3-4z"/><path d="M538.2,2016.0h4.6l-2.3-4z"/><path d="M504.1,1933.9h4.6l-2.3-4z"/><path d="M528.8,1951.6h4.6l-2.3-4z"/><path d="M533.8,2033.8h4.6l-2.3-4z"/><path d="M547.4,1918.8h4.6l-2.3-4z"/><path d="M538.6,1986.1h4.6l-2.3-4z"/><path d="M504.9,2043.9h4.6l-2.3-4z"/><path d="M511.9,2013.7h4.6l-2.3-4z"/><path d="M510.3,2017.7h4.6l-2.3-4z"/><path d="M514.6,1737.1h4.6l-2.3-4z"/><path d="M518.8,1937.6h4.6l-2.3-4z"/><path d="M498.8,1955.5h4.6l-2.3-4z"/><path d="M507.7,1889.2h4.6l-2.3-4z"/><path d="M539.4,2014.4h4.6l-2.3-4z"/><path d="M477.8,2016.2h4.6l-2.3-4z"/><path d="M542.6,2033.8h4.6l-2.3-4z"/><path d="M508.3,2021.6h4.6l-2.3-4z"/><path d="M498.3,1994.7h4.6l-2.3-4z"/><path d="M533.6,2013.9h4.6l-2.3-4z"/><path d="M527.7,1931.4h4.6l-2.3-4z"/><path d="M527.7,1961.8h4.6l-2.3-4z"/><path d="M502.4,1982.1h4.6l-2.3-4z"/><path d="M499.6,1989.8h4.6l-2.3-4z"/><path d="M500.5,1987.5h4.6l-2.3-4z"/><path d="M479.9,2031.3h4.6l-2.3-4z"/><path d="M539.6,2008.3h4.6l-2.3-4z"/><path d="M521.2,1967.9h4.6l-2.3-4z"/><path d="M540.7,1962.8h4.6l-2.3-4z"/><path d="M547.1,1944.4h4.6l-2.3-4z"/><path d="M480.9,1981.7h4.6l-2.3-4z"/><path d="M509.2,1904.7h4.6l-2.3-4z"/><path d="M529.3,1977.7h4.6l-2.3-4z"/><path d="M524.7,1925.7h4.6l-2.3-4z"/><path d="M527.0,1895.3h4.6l-2.3-4z"/><path d="M536.7,1952.1h4.6l-2.3-4z"/><path d="M519.0,1965.4h4.6l-2.3-4z"/><path d="M513.6,1988.0h4.6l-2.3-4z"/><path d="M505.1,1917.6h4.6l-2.3-4z"/><path d="M505.7,2006.6h4.6l-2.3-4z"/><path d="M481.0,2026.1h4.6l-2.3-4z"/><path d="M495.3,2018.4h4.6l-2.3-4z"/><path d="M481.4,1908.7h4.6l-2.3-4z"/><path d="M527.2,2003.6h4.6l-2.3-4z"/><path d="M504.5,1976.6h4.6l-2.3-4z"/><path d="M506.0,1964.7h4.6l-2.3-4z"/><path d="M496.6,1941.7h4.6l-2.3-4z"/><path d="M542.7,1878.6h4.6l-2.3-4z"/><path d="M524.8,2010.8h4.6l-2.3-4z"/><path d="M531.8,2005.9h4.6l-2.3-4z"/><path d="M526.9,1972.0h4.6l-2.3-4z"/><path d="M534.6,1560.1h4.6l-2.3-4z"/><path d="M525.3,1927.9h4.6l-2.3-4z"/><path d="M540.7,1986.8h4.6l-2.3-4z"/><path d="M478.0,1895.8h4.6l-2.3-4z"/><path d="M528.4,1975.9h4.6l-2.3-4z"/><path d="M479.0,2044.7h4.6l-2.3-4z"/><path d="M482.6,2037.7h4.6l-2.3-4z"/><path d="M520.4,1886.1h4.6l-2.3-4z"/><path d="M484.5,1947.5h4.6l-2.3-4z"/><path d="M546.9,1926.3h4.6l-2.3-4z"/><path d="M531.4,1980.8h4.6l-2.3-4z"/><path d="M507.2,1991.8h4.6l-2.3-4z"/><path d="M496.2,2036.1h4.6l-2.3-4z"/><path d="M540.9,1728.4h4.6l-2.3-4z"/><path d="M487.4,1966.8h4.6l-2.3-4z"/><path d="M524.7,1922.2h4.6l-2.3-4z"/><path d="M508.9,2027.1h4.6l-2.3-4z"/><path d="M521.4,1880.7h4.6l-2.3-4z"/><path d="M481.5,1941.4h4.6l-2.3-4z"/><path d="M481.3,2027.2h4.6l-2.3-4z"/><path d="M505.6,1989.8h4.6l-2.3-4z"/><path d="M501.5,2021.1h4.6l-2.3-4z"/><path d="M525.3,1899.7h4.6l-2.3-4z"/><path d="M544.9,1943.6h4.6l-2.3-4z"/><path d="M487.0,2024.6h4.6l-2.3-4z"/><path d="M482.4,2031.0h4.6l-2.3-4z"/><path d="M493.5,1931.4h4.6l-2.3-4z"/><path d="M532.6,1896.8h4.6l-2.3-4z"/><path d="M524.7,1933.5h4.6l-2.3-4z"/><path d="M511.6,1974.7h4.6l-2.3-4z"/><path d="M510.7,1958.7h4.6l-2.3-4z"/><path d="M537.5,1935.6h4.6l-2.3-4z"/><path d="M500.2,1791.3h4.6l-2.3-4z"/><path d="M529.7,2035.9h4.6l-2.3-4z"/><path d="M519.0,2031.0h4.6l-2.3-4z"/><path d="M519.9,1803.9h4.6l-2.3-4z"/><path d="M547.3,1910.2h4.6l-2.3-4z"/><path d="M522.0,1903.4h4.6l-2.3-4z"/><path d="M508.6,1952.3h4.6l-2.3-4z"/><path d="M517.7,2014.8h4.6l-2.3-4z"/><path d="M516.5,1984.3h4.6l-2.3-4z"/><path d="M543.4,2035.1h4.6l-2.3-4z"/><path d="M479.4,2021.1h4.6l-2.3-4z"/><path d="M484.7,1968.3h4.6l-2.3-4z"/><path d="M524.0,2021.5h4.6l-2.3-4z"/><path d="M518.1,1944.6h4.6l-2.3-4z"/><path d="M478.0,1862.9h4.6l-2.3-4z"/><path d="M541.8,1958.1h4.6l-2.3-4z"/><path d="M522.5,1865.5h4.6l-2.3-4z"/><path d="M517.2,1974.5h4.6l-2.3-4z"/><path d="M492.4,1977.7h4.6l-2.3-4z"/><path d="M489.6,2044.9h4.6l-2.3-4z"/><path d="M494.4,1931.7h4.6l-2.3-4z"/><path d="M543.4,1841.3h4.6l-2.3-4z"/><path d="M480.3,1832.5h4.6l-2.3-4z"/><path d="M520.8,2035.0h4.6l-2.3-4z"/><path d="M524.3,1848.7h4.6l-2.3-4z"/><path d="M485.8,2020.2h4.6l-2.3-4z"/><path d="M494.7,2000.7h4.6l-2.3-4z"/><path d="M519.3,1881.6h4.6l-2.3-4z"/><path d="M523.6,1971.2h4.6l-2.3-4z"/><path d="M513.2,2033.6h4.6l-2.3-4z"/><path d="M478.5,2020.8h4.6l-2.3-4z"/><path d="M480.5,2031.3h4.6l-2.3-4z"/><path d="M521.4,2001.7h4.6l-2.3-4z"/><path d="M533.9,1933.0h4.6l-2.3-4z"/><path d="M491.0,2028.1h4.6l-2.3-4z"/><path d="M532.9,1911.0h4.6l-2.3-4z"/><path d="M534.6,2038.8h4.6l-2.3-4z"/><path d="M484.4,2015.7h4.6l-2.3-4z"/><path d="M504.9,2014.5h4.6l-2.3-4z"/><path d="M539.6,1950.4h4.6l-2.3-4z"/><path d="M502.4,2025.4h4.6l-2.3-4z"/><path d="M609.3,1973.2h4.6l-2.3-4z"/><path d="M557.3,1981.2h4.6l-2.3-4z"/><path d="M613.9,1878.8h4.6l-2.3-4z"/><path d="M559.5,1954.6h4.6l-2.3-4z"/><path d="M576.8,1905.3h4.6l-2.3-4z"/><path d="M598.9,1830.9h4.6l-2.3-4z"/><path d="M562.7,1975.1h4.6l-2.3-4z"/><path d="M599.4,1914.8h4.6l-2.3-4z"/><path d="M568.1,2015.8h4.6l-2.3-4z"/><path d="M575.5,1973.5h4.6l-2.3-4z"/><path d="M563.1,1969.1h4.6l-2.3-4z"/><path d="M583.0,1859.8h4.6l-2.3-4z"/><path d="M596.4,1998.8h4.6l-2.3-4z"/><path d="M612.7,1899.5h4.6l-2.3-4z"/><path d="M598.1,1981.6h4.6l-2.3-4z"/><path d="M617.0,1825.4h4.6l-2.3-4z"/><path d="M602.8,2009.5h4.6l-2.3-4z"/><path d="M561.5,1995.4h4.6l-2.3-4z"/><path d="M592.1,1961.6h4.6l-2.3-4z"/><path d="M587.9,2010.5h4.6l-2.3-4z"/><path d="M599.1,1894.7h4.6l-2.3-4z"/><path d="M603.7,1960.8h4.6l-2.3-4z"/><path d="M568.9,1782.1h4.6l-2.3-4z"/><path d="M571.8,1935.6h4.6l-2.3-4z"/><path d="M584.4,1951.8h4.6l-2.3-4z"/><path d="M580.6,1966.7h4.6l-2.3-4z"/><path d="M553.8,1904.3h4.6l-2.3-4z"/><path d="M581.8,1838.9h4.6l-2.3-4z"/><path d="M561.6,2007.4h4.6l-2.3-4z"/><path d="M601.9,1959.7h4.6l-2.3-4z"/><path d="M592.5,1958.2h4.6l-2.3-4z"/><path d="M562.8,1880.7h4.6l-2.3-4z"/><path d="M584.6,1974.0h4.6l-2.3-4z"/><path d="M613.7,1941.6h4.6l-2.3-4z"/><path d="M570.7,2023.0h4.6l-2.3-4z"/><path d="M565.5,2033.1h4.6l-2.3-4z"/><path d="M574.0,1977.2h4.6l-2.3-4z"/><path d="M595.5,2014.7h4.6l-2.3-4z"/><path d="M599.2,1941.2h4.6l-2.3-4z"/><path d="M609.8,1900.7h4.6l-2.3-4z"/><path d="M549.7,2033.4h4.6l-2.3-4z"/><path d="M583.0,1900.7h4.6l-2.3-4z"/><path d="M613.7,2003.0h4.6l-2.3-4z"/><path d="M605.5,1952.6h4.6l-2.3-4z"/><path d="M606.7,1980.7h4.6l-2.3-4z"/><path d="M561.1,1886.2h4.6l-2.3-4z"/><path d="M599.0,1957.6h4.6l-2.3-4z"/><path d="M549.2,1985.5h4.6l-2.3-4z"/><path d="M565.3,1917.3h4.6l-2.3-4z"/><path d="M574.8,1920.2h4.6l-2.3-4z"/><path d="M581.5,2007.1h4.6l-2.3-4z"/><path d="M550.2,1769.6h4.6l-2.3-4z"/><path d="M583.9,1965.6h4.6l-2.3-4z"/><path d="M566.1,1973.4h4.6l-2.3-4z"/><path d="M556.2,1918.3h4.6l-2.3-4z"/><path d="M594.5,1815.5h4.6l-2.3-4z"/><path d="M584.5,1934.4h4.6l-2.3-4z"/><path d="M608.3,1963.6h4.6l-2.3-4z"/><path d="M616.9,1997.6h4.6l-2.3-4z"/><path d="M560.2,1949.7h4.6l-2.3-4z"/><path d="M593.9,1963.8h4.6l-2.3-4z"/><path d="M601.6,1976.1h4.6l-2.3-4z"/><path d="M592.2,1931.1h4.6l-2.3-4z"/><path d="M584.9,1803.4h4.6l-2.3-4z"/><path d="M550.7,2020.9h4.6l-2.3-4z"/><path d="M613.7,1954.5h4.6l-2.3-4z"/><path d="M563.8,2015.8h4.6l-2.3-4z"/><path d="M597.4,1862.5h4.6l-2.3-4z"/><path d="M549.7,1870.2h4.6l-2.3-4z"/><path d="M607.3,1986.6h4.6l-2.3-4z"/><path d="M610.8,1993.3h4.6l-2.3-4z"/><path d="M557.2,1936.6h4.6l-2.3-4z"/><path d="M584.4,1995.1h4.6l-2.3-4z"/><path d="M599.3,1928.3h4.6l-2.3-4z"/><path d="M560.2,1971.3h4.6l-2.3-4z"/><path d="M588.0,2012.0h4.6l-2.3-4z"/><path d="M580.6,1940.5h4.6l-2.3-4z"/><path d="M600.3,1982.1h4.6l-2.3-4z"/><path d="M579.1,1943.7h4.6l-2.3-4z"/><path d="M551.3,1942.2h4.6l-2.3-4z"/><path d="M602.1,2013.8h4.6l-2.3-4z"/><path d="M591.1,1909.5h4.6l-2.3-4z"/><path d="M563.1,2024.4h4.6l-2.3-4z"/><path d="M596.9,2001.8h4.6l-2.3-4z"/><path d="M559.9,1986.9h4.6l-2.3-4z"/><path d="M596.3,2013.6h4.6l-2.3-4z"/><path d="M586.2,2036.2h4.6l-2.3-4z"/><path d="M613.0,2003.0h4.6l-2.3-4z"/><path d="M613.1,1845.3h4.6l-2.3-4z"/><path d="M605.5,2027.2h4.6l-2.3-4z"/><path d="M569.0,1940.6h4.6l-2.3-4z"/><path d="M596.8,1966.7h4.6l-2.3-4z"/><path d="M554.5,1924.7h4.6l-2.3-4z"/><path d="M555.0,1829.7h4.6l-2.3-4z"/><path d="M585.4,1975.2h4.6l-2.3-4z"/><path d="M564.3,2003.2h4.6l-2.3-4z"/><path d="M583.4,1998.7h4.6l-2.3-4z"/><path d="M554.2,1990.5h4.6l-2.3-4z"/><path d="M598.6,1967.7h4.6l-2.3-4z"/><path d="M575.4,1940.3h4.6l-2.3-4z"/><path d="M614.0,1963.7h4.6l-2.3-4z"/><path d="M600.4,1742.3h4.6l-2.3-4z"/><path d="M554.2,2002.7h4.6l-2.3-4z"/><path d="M588.7,1988.1h4.6l-2.3-4z"/><path d="M579.0,2014.4h4.6l-2.3-4z"/><path d="M584.5,1983.1h4.6l-2.3-4z"/><path d="M560.0,1951.8h4.6l-2.3-4z"/><path d="M616.8,1962.2h4.6l-2.3-4z"/><path d="M572.6,1667.1h4.6l-2.3-4z"/><path d="M586.8,1756.3h4.6l-2.3-4z"/><path d="M616.5,2007.0h4.6l-2.3-4z"/><path d="M593.4,2012.6h4.6l-2.3-4z"/><path d="M548.3,1981.9h4.6l-2.3-4z"/><path d="M555.7,2033.7h4.6l-2.3-4z"/><path d="M611.4,1991.3h4.6l-2.3-4z"/><path d="M565.5,2032.4h4.6l-2.3-4z"/><path d="M584.9,1978.1h4.6l-2.3-4z"/><path d="M578.4,2021.6h4.6l-2.3-4z"/><path d="M574.4,1821.3h4.6l-2.3-4z"/><path d="M594.3,1924.1h4.6l-2.3-4z"/><path d="M593.5,1947.0h4.6l-2.3-4z"/><path d="M605.5,2019.7h4.6l-2.3-4z"/><path d="M564.6,1962.7h4.6l-2.3-4z"/><path d="M565.2,1978.5h4.6l-2.3-4z"/><path d="M600.1,1956.3h4.6l-2.3-4z"/><path d="M606.0,1931.1h4.6l-2.3-4z"/><path d="M584.2,1879.4h4.6l-2.3-4z"/><path d="M571.8,1968.8h4.6l-2.3-4z"/><path d="M595.8,1845.4h4.6l-2.3-4z"/><path d="M563.7,1974.2h4.6l-2.3-4z"/><path d="M611.2,1957.6h4.6l-2.3-4z"/><path d="M587.2,1940.4h4.6l-2.3-4z"/><path d="M550.9,1795.1h4.6l-2.3-4z"/><path d="M610.6,1910.9h4.6l-2.3-4z"/><path d="M596.8,1955.1h4.6l-2.3-4z"/><path d="M573.5,1904.8h4.6l-2.3-4z"/><path d="M601.1,2010.2h4.6l-2.3-4z"/><path d="M567.6,2010.4h4.6l-2.3-4z"/><path d="M578.3,1906.9h4.6l-2.3-4z"/><path d="M563.1,1987.5h4.6l-2.3-4z"/><path d="M591.1,1902.5h4.6l-2.3-4z"/><path d="M554.7,1977.9h4.6l-2.3-4z"/><path d="M571.2,2025.0h4.6l-2.3-4z"/><path d="M616.8,2011.1h4.6l-2.3-4z"/><path d="M580.3,1999.2h4.6l-2.3-4z"/><path d="M574.1,1996.0h4.6l-2.3-4z"/><path d="M612.1,1844.7h4.6l-2.3-4z"/><path d="M572.4,1986.7h4.6l-2.3-4z"/><path d="M615.4,1921.4h4.6l-2.3-4z"/><path d="M599.1,1922.9h4.6l-2.3-4z"/><path d="M568.0,1939.2h4.6l-2.3-4z"/><path d="M609.8,1972.3h4.6l-2.3-4z"/><path d="M577.1,1940.9h4.6l-2.3-4z"/><path d="M549.6,1862.5h4.6l-2.3-4z"/><path d="M574.3,1988.1h4.6l-2.3-4z"/><path d="M559.0,1968.0h4.6l-2.3-4z"/><path d="M607.8,1928.7h4.6l-2.3-4z"/><path d="M573.1,1960.1h4.6l-2.3-4z"/><path d="M615.8,1974.9h4.6l-2.3-4z"/><path d="M582.0,2014.9h4.6l-2.3-4z"/><path d="M600.0,1842.3h4.6l-2.3-4z"/><path d="M603.2,2026.1h4.6l-2.3-4z"/><path d="M548.1,2014.3h4.6l-2.3-4z"/><path d="M569.1,2013.8h4.6l-2.3-4z"/><path d="M614.8,1892.4h4.6l-2.3-4z"/><path d="M591.7,1924.9h4.6l-2.3-4z"/><path d="M601.6,1961.1h4.6l-2.3-4z"/><path d="M555.0,1986.4h4.6l-2.3-4z"/><path d="M574.8,1606.0h4.6l-2.3-4z"/><path d="M596.5,1753.0h4.6l-2.3-4z"/><path d="M591.3,1919.8h4.6l-2.3-4z"/><path d="M611.6,1983.3h4.6l-2.3-4z"/><path d="M613.4,2021.3h4.6l-2.3-4z"/><path d="M603.3,1832.8h4.6l-2.3-4z"/><path d="M568.2,1950.9h4.6l-2.3-4z"/><path d="M591.9,2035.1h4.6l-2.3-4z"/><path d="M553.4,1991.6h4.6l-2.3-4z"/><path d="M596.1,1981.9h4.6l-2.3-4z"/><path d="M576.5,1817.1h4.6l-2.3-4z"/><path d="M571.7,1944.2h4.6l-2.3-4z"/><path d="M603.8,1939.9h4.6l-2.3-4z"/><path d="M611.9,1931.0h4.6l-2.3-4z"/><path d="M605.1,2018.5h4.6l-2.3-4z"/><path d="M590.8,2025.9h4.6l-2.3-4z"/><path d="M569.7,1995.7h4.6l-2.3-4z"/><path d="M612.0,2026.2h4.6l-2.3-4z"/><path d="M579.4,1951.1h4.6l-2.3-4z"/><path d="M555.3,2000.5h4.6l-2.3-4z"/><path d="M591.1,1994.7h4.6l-2.3-4z"/><path d="M603.2,1880.7h4.6l-2.3-4z"/><path d="M599.6,2016.9h4.6l-2.3-4z"/><path d="M550.3,1928.0h4.6l-2.3-4z"/><path d="M569.3,2000.8h4.6l-2.3-4z"/><path d="M607.4,1907.9h4.6l-2.3-4z"/><path d="M582.7,2014.6h4.6l-2.3-4z"/><path d="M571.9,1956.3h4.6l-2.3-4z"/><path d="M604.9,1885.5h4.6l-2.3-4z"/><path d="M608.4,1852.4h4.6l-2.3-4z"/><path d="M589.4,2001.3h4.6l-2.3-4z"/><path d="M549.0,2039.2h4.6l-2.3-4z"/><path d="M611.7,1866.4h4.6l-2.3-4z"/><path d="M592.5,2014.9h4.6l-2.3-4z"/><path d="M606.4,1963.2h4.6l-2.3-4z"/><path d="M604.2,1961.0h4.6l-2.3-4z"/><path d="M607.8,1930.3h4.6l-2.3-4z"/><path d="M601.5,2022.0h4.6l-2.3-4z"/><path d="M567.6,1997.1h4.6l-2.3-4z"/><path d="M608.1,1988.9h4.6l-2.3-4z"/><path d="M553.3,1991.5h4.6l-2.3-4z"/><path d="M579.1,1902.9h4.6l-2.3-4z"/><path d="M551.4,2018.6h4.6l-2.3-4z"/><path d="M573.7,1903.0h4.6l-2.3-4z"/><path d="M568.1,1966.4h4.6l-2.3-4z"/><path d="M607.9,1885.4h4.6l-2.3-4z"/><path d="M583.0,1745.1h4.6l-2.3-4z"/><path d="M579.1,2026.7h4.6l-2.3-4z"/><path d="M578.3,1901.4h4.6l-2.3-4z"/><path d="M582.5,1981.5h4.6l-2.3-4z"/><path d="M565.6,1963.5h4.6l-2.3-4z"/><path d="M617.3,1999.0h4.6l-2.3-4z"/><path d="M582.7,2017.8h4.6l-2.3-4z"/><path d="M572.0,2002.9h4.6l-2.3-4z"/><path d="M614.9,2003.9h4.6l-2.3-4z"/><path d="M591.1,1905.1h4.6l-2.3-4z"/><path d="M565.8,1934.9h4.6l-2.3-4z"/><path d="M558.5,1933.6h4.6l-2.3-4z"/><path d="M553.6,1694.7h4.6l-2.3-4z"/><path d="M589.0,2029.8h4.6l-2.3-4z"/><path d="M568.7,2008.8h4.6l-2.3-4z"/><path d="M606.1,1919.2h4.6l-2.3-4z"/><path d="M591.6,1951.0h4.6l-2.3-4z"/><path d="M607.7,1907.4h4.6l-2.3-4z"/><path d="M586.0,2012.5h4.6l-2.3-4z"/><path d="M611.4,1805.7h4.6l-2.3-4z"/><path d="M595.2,1864.7h4.6l-2.3-4z"/><path d="M582.3,2009.7h4.6l-2.3-4z"/><path d="M575.5,1962.0h4.6l-2.3-4z"/><path d="M580.9,1955.2h4.6l-2.3-4z"/><path d="M567.0,2031.0h4.6l-2.3-4z"/><path d="M557.3,1942.4h4.6l-2.3-4z"/><path d="M592.7,2001.3h4.6l-2.3-4z"/><path d="M558.0,1953.8h4.6l-2.3-4z"/><path d="M555.1,1987.0h4.6l-2.3-4z"/><path d="M607.6,2024.0h4.6l-2.3-4z"/><path d="M579.5,2000.3h4.6l-2.3-4z"/><path d="M583.5,1915.5h4.6l-2.3-4z"/><path d="M607.8,1867.6h4.6l-2.3-4z"/><path d="M560.1,2001.4h4.6l-2.3-4z"/><path d="M616.7,1931.3h4.6l-2.3-4z"/><path d="M617.7,1998.1h4.6l-2.3-4z"/><path d="M575.1,1890.5h4.6l-2.3-4z"/><path d="M592.5,2008.5h4.6l-2.3-4z"/><path d="M597.4,1915.6h4.6l-2.3-4z"/><path d="M589.3,2026.2h4.6l-2.3-4z"/><path d="M617.3,1944.6h4.6l-2.3-4z"/><path d="M570.2,1996.1h4.6l-2.3-4z"/><path d="M560.7,1964.6h4.6l-2.3-4z"/><path d="M588.5,1822.9h4.6l-2.3-4z"/><path d="M606.4,2012.6h4.6l-2.3-4z"/><path d="M597.6,1965.6h4.6l-2.3-4z"/><path d="M606.8,1830.0h4.6l-2.3-4z"/><path d="M552.6,2026.4h4.6l-2.3-4z"/><path d="M610.9,1954.9h4.6l-2.3-4z"/><path d="M550.4,2021.2h4.6l-2.3-4z"/><path d="M613.0,2005.5h4.6l-2.3-4z"/><path d="M560.6,2015.3h4.6l-2.3-4z"/><path d="M549.4,1961.2h4.6l-2.3-4z"/><path d="M563.7,2029.1h4.6l-2.3-4z"/><path d="M589.9,1980.7h4.6l-2.3-4z"/><path d="M612.4,1905.9h4.6l-2.3-4z"/><path d="M583.4,1621.1h4.6l-2.3-4z"/><path d="M605.0,2021.1h4.6l-2.3-4z"/><path d="M576.0,2011.9h4.6l-2.3-4z"/><path d="M562.9,1938.5h4.6l-2.3-4z"/><path d="M607.3,1976.2h4.6l-2.3-4z"/><path d="M553.9,1990.0h4.6l-2.3-4z"/><path d="M598.0,1975.2h4.6l-2.3-4z"/><path d="M564.4,1973.9h4.6l-2.3-4z"/><path d="M583.0,1981.6h4.6l-2.3-4z"/><path d="M549.8,1852.8h4.6l-2.3-4z"/><path d="M594.2,2001.1h4.6l-2.3-4z"/><path d="M556.1,2030.8h4.6l-2.3-4z"/><path d="M605.9,2002.0h4.6l-2.3-4z"/><path d="M559.5,1959.3h4.6l-2.3-4z"/><path d="M551.1,1815.7h4.6l-2.3-4z"/><path d="M549.7,2030.1h4.6l-2.3-4z"/><path d="M586.4,2024.6h4.6l-2.3-4z"/><path d="M552.1,2010.4h4.6l-2.3-4z"/><path d="M577.1,1885.8h4.6l-2.3-4z"/><path d="M613.1,1954.4h4.6l-2.3-4z"/><path d="M598.6,1953.6h4.6l-2.3-4z"/><path d="M558.7,1957.6h4.6l-2.3-4z"/><path d="M591.2,1719.4h4.6l-2.3-4z"/><path d="M564.1,1939.8h4.6l-2.3-4z"/><path d="M597.5,1992.8h4.6l-2.3-4z"/><path d="M592.2,1923.4h4.6l-2.3-4z"/><path d="M587.6,2014.8h4.6l-2.3-4z"/><path d="M598.5,1980.3h4.6l-2.3-4z"/><path d="M570.1,1870.9h4.6l-2.3-4z"/><path d="M577.2,2024.7h4.6l-2.3-4z"/><path d="M599.5,1990.9h4.6l-2.3-4z"/><path d="M564.8,2012.4h4.6l-2.3-4z"/><path d="M575.9,2004.0h4.6l-2.3-4z"/><path d="M615.9,1960.2h4.6l-2.3-4z"/><path d="M602.6,1971.7h4.6l-2.3-4z"/><path d="M609.4,1982.6h4.6l-2.3-4z"/><path d="M595.5,1974.4h4.6l-2.3-4z"/><path d="M606.2,1999.5h4.6l-2.3-4z"/><path d="M600.4,1934.9h4.6l-2.3-4z"/><path d="M613.5,2042.9h4.6l-2.3-4z"/><path d="M595.7,1986.3h4.6l-2.3-4z"/><path d="M612.5,1971.0h4.6l-2.3-4z"/><path d="M566.4,1892.7h4.6l-2.3-4z"/><path d="M550.3,1986.8h4.6l-2.3-4z"/><path d="M577.4,2016.4h4.6l-2.3-4z"/><path d="M549.3,1983.9h4.6l-2.3-4z"/><path d="M595.0,1881.4h4.6l-2.3-4z"/><path d="M561.7,1985.0h4.6l-2.3-4z"/><path d="M551.9,1940.1h4.6l-2.3-4z"/><path d="M552.2,2001.1h4.6l-2.3-4z"/><path d="M565.4,1956.9h4.6l-2.3-4z"/><path d="M582.3,2018.9h4.6l-2.3-4z"/><path d="M560.7,1936.9h4.6l-2.3-4z"/><path d="M559.6,1867.3h4.6l-2.3-4z"/><path d="M588.4,2001.9h4.6l-2.3-4z"/><path d="M609.3,1902.8h4.6l-2.3-4z"/><path d="M586.7,1916.9h4.6l-2.3-4z"/><path d="M603.5,1999.9h4.6l-2.3-4z"/><path d="M612.0,1915.4h4.6l-2.3-4z"/><path d="M572.6,1998.4h4.6l-2.3-4z"/><path d="M581.7,1929.8h4.6l-2.3-4z"/><path d="M604.3,2011.7h4.6l-2.3-4z"/><path d="M605.8,1836.9h4.6l-2.3-4z"/><path d="M564.9,1916.4h4.6l-2.3-4z"/><path d="M552.3,1934.5h4.6l-2.3-4z"/><path d="M549.8,1902.8h4.6l-2.3-4z"/><path d="M603.0,1962.3h4.6l-2.3-4z"/><path d="M600.7,1825.0h4.6l-2.3-4z"/><path d="M556.6,1867.1h4.6l-2.3-4z"/><path d="M578.2,1913.6h4.6l-2.3-4z"/><path d="M572.2,1992.3h4.6l-2.3-4z"/><path d="M606.0,1883.2h4.6l-2.3-4z"/><path d="M562.8,1914.6h4.6l-2.3-4z"/><path d="M608.6,2026.3h4.6l-2.3-4z"/><path d="M578.9,2036.6h4.6l-2.3-4z"/><path d="M608.9,1942.4h4.6l-2.3-4z"/><path d="M611.7,1966.8h4.6l-2.3-4z"/><path d="M548.6,1969.8h4.6l-2.3-4z"/><path d="M578.2,1925.4h4.6l-2.3-4z"/><path d="M557.9,1919.7h4.6l-2.3-4z"/><path d="M550.7,1928.4h4.6l-2.3-4z"/><path d="M573.5,1987.0h4.6l-2.3-4z"/><path d="M609.0,1957.5h4.6l-2.3-4z"/><path d="M556.7,2011.3h4.6l-2.3-4z"/><path d="M616.2,1984.0h4.6l-2.3-4z"/><path d="M548.8,2033.2h4.6l-2.3-4z"/><path d="M614.8,1982.5h4.6l-2.3-4z"/><path d="M617.2,1992.4h4.6l-2.3-4z"/><path d="M575.1,2017.4h4.6l-2.3-4z"/><path d="M556.6,1812.4h4.6l-2.3-4z"/><path d="M560.7,1960.7h4.6l-2.3-4z"/><path d="M604.2,1983.6h4.6l-2.3-4z"/><path d="M554.5,1980.7h4.6l-2.3-4z"/><path d="M552.0,1995.2h4.6l-2.3-4z"/><path d="M550.5,2017.6h4.6l-2.3-4z"/><path d="M588.5,1966.6h4.6l-2.3-4z"/><path d="M562.5,1892.5h4.6l-2.3-4z"/><path d="M580.2,1883.1h4.6l-2.3-4z"/><path d="M586.3,1952.1h4.6l-2.3-4z"/><path d="M600.1,1984.7h4.6l-2.3-4z"/><path d="M558.2,1975.0h4.6l-2.3-4z"/><path d="M597.0,1852.4h4.6l-2.3-4z"/><path d="M604.0,1985.9h4.6l-2.3-4z"/><path d="M565.1,2007.0h4.6l-2.3-4z"/><path d="M577.2,1987.8h4.6l-2.3-4z"/><path d="M616.9,2002.4h4.6l-2.3-4z"/><path d="M559.5,1954.9h4.6l-2.3-4z"/><path d="M580.9,1898.2h4.6l-2.3-4z"/><path d="M573.6,1893.1h4.6l-2.3-4z"/><path d="M570.5,1951.6h4.6l-2.3-4z"/><path d="M601.0,1938.9h4.6l-2.3-4z"/><path d="M614.2,1908.7h4.6l-2.3-4z"/><path d="M597.4,1995.0h4.6l-2.3-4z"/><path d="M609.4,1920.8h4.6l-2.3-4z"/><path d="M568.5,1981.7h4.6l-2.3-4z"/><path d="M611.3,2008.3h4.6l-2.3-4z"/><path d="M588.9,1873.4h4.6l-2.3-4z"/><path d="M548.4,1994.2h4.6l-2.3-4z"/><path d="M556.7,1933.4h4.6l-2.3-4z"/><path d="M600.8,1846.9h4.6l-2.3-4z"/><path d="M596.7,1869.0h4.6l-2.3-4z"/><path d="M556.7,1953.6h4.6l-2.3-4z"/><path d="M612.2,1995.1h4.6l-2.3-4z"/><path d="M577.8,1868.0h4.6l-2.3-4z"/><path d="M568.2,2022.4h4.6l-2.3-4z"/><path d="M607.6,1888.3h4.6l-2.3-4z"/><path d="M560.9,1905.6h4.6l-2.3-4z"/><path d="M596.9,1955.4h4.6l-2.3-4z"/><path d="M550.1,1899.1h4.6l-2.3-4z"/><path d="M551.7,1914.5h4.6l-2.3-4z"/><path d="M549.7,2008.2h4.6l-2.3-4z"/><path d="M605.7,2011.1h4.6l-2.3-4z"/><path d="M565.4,1918.7h4.6l-2.3-4z"/><path d="M559.1,2035.0h4.6l-2.3-4z"/><path d="M555.4,1974.4h4.6l-2.3-4z"/><path d="M564.4,1999.1h4.6l-2.3-4z"/><path d="M570.7,1979.5h4.6l-2.3-4z"/><path d="M598.0,1924.5h4.6l-2.3-4z"/><path d="M551.1,1983.4h4.6l-2.3-4z"/><path d="M586.8,1896.7h4.6l-2.3-4z"/><path d="M568.6,1855.3h4.6l-2.3-4z"/><path d="M565.1,1915.9h4.6l-2.3-4z"/><path d="M598.3,1996.1h4.6l-2.3-4z"/><path d="M574.1,2014.2h4.6l-2.3-4z"/><path d="M616.1,1822.0h4.6l-2.3-4z"/><path d="M570.4,1982.0h4.6l-2.3-4z"/><path d="M595.4,2019.2h4.6l-2.3-4z"/><path d="M550.4,1965.8h4.6l-2.3-4z"/><path d="M598.7,1869.8h4.6l-2.3-4z"/><path d="M597.4,1978.7h4.6l-2.3-4z"/><path d="M594.3,2006.1h4.6l-2.3-4z"/><path d="M597.2,1910.6h4.6l-2.3-4z"/><path d="M580.6,2007.5h4.6l-2.3-4z"/><path d="M548.9,1766.8h4.6l-2.3-4z"/><path d="M583.9,1987.1h4.6l-2.3-4z"/><path d="M563.9,2017.3h4.6l-2.3-4z"/><path d="M584.7,1854.6h4.6l-2.3-4z"/><path d="M555.2,2018.2h4.6l-2.3-4z"/><path d="M607.8,1985.3h4.6l-2.3-4z"/><path d="M581.3,2034.4h4.6l-2.3-4z"/><path d="M573.0,1834.8h4.6l-2.3-4z"/><path d="M560.3,2001.6h4.6l-2.3-4z"/><path d="M570.9,2008.9h4.6l-2.3-4z"/><path d="M607.0,1829.3h4.6l-2.3-4z"/><path d="M605.4,1957.0h4.6l-2.3-4z"/><path d="M561.2,1981.0h4.6l-2.3-4z"/><path d="M592.9,2023.8h4.6l-2.3-4z"/><path d="M550.4,1999.6h4.6l-2.3-4z"/><path d="M558.0,2013.4h4.6l-2.3-4z"/><path d="M551.7,2018.7h4.6l-2.3-4z"/><path d="M572.7,1939.9h4.6l-2.3-4z"/><path d="M549.3,2041.8h4.6l-2.3-4z"/><path d="M581.5,1922.8h4.6l-2.3-4z"/><path d="M549.6,1989.0h4.6l-2.3-4z"/><path d="M598.3,2010.0h4.6l-2.3-4z"/><path d="M615.5,1889.8h4.6l-2.3-4z"/><path d="M585.4,1820.0h4.6l-2.3-4z"/><path d="M596.5,1617.8h4.6l-2.3-4z"/><path d="M614.9,1849.4h4.6l-2.3-4z"/><path d="M563.5,1896.9h4.6l-2.3-4z"/><path d="M604.9,2026.6h4.6l-2.3-4z"/><path d="M580.3,1828.5h4.6l-2.3-4z"/><path d="M579.6,2029.5h4.6l-2.3-4z"/><path d="M582.2,1815.5h4.6l-2.3-4z"/><path d="M565.7,2007.9h4.6l-2.3-4z"/><path d="M566.1,1909.4h4.6l-2.3-4z"/><path d="M556.7,1953.1h4.6l-2.3-4z"/><path d="M583.3,1861.2h4.6l-2.3-4z"/><path d="M582.4,1867.8h4.6l-2.3-4z"/><path d="M593.4,1940.6h4.6l-2.3-4z"/><path d="M575.3,1959.1h4.6l-2.3-4z"/><path d="M562.5,1940.3h4.6l-2.3-4z"/><path d="M585.0,1996.7h4.6l-2.3-4z"/><path d="M599.5,1988.3h4.6l-2.3-4z"/><path d="M564.5,1957.4h4.6l-2.3-4z"/><path d="M558.1,1968.8h4.6l-2.3-4z"/><path d="M601.4,1930.8h4.6l-2.3-4z"/><path d="M609.5,1866.6h4.6l-2.3-4z"/><path d="M560.0,2030.2h4.6l-2.3-4z"/><path d="M604.5,1776.3h4.6l-2.3-4z"/><path d="M611.4,1998.8h4.6l-2.3-4z"/><path d="M605.4,1952.1h4.6l-2.3-4z"/><path d="M581.0,1897.1h4.6l-2.3-4z"/><path d="M583.9,1991.7h4.6l-2.3-4z"/><path d="M563.3,1986.2h4.6l-2.3-4z"/><path d="M599.9,1944.0h4.6l-2.3-4z"/><path d="M559.4,2023.4h4.6l-2.3-4z"/><path d="M554.9,1941.9h4.6l-2.3-4z"/><path d="M563.8,1938.7h4.6l-2.3-4z"/><path d="M586.6,1927.4h4.6l-2.3-4z"/><path d="M595.7,1931.6h4.6l-2.3-4z"/><path d="M580.1,1890.5h4.6l-2.3-4z"/><path d="M568.2,1985.3h4.6l-2.3-4z"/><path d="M605.3,1979.8h4.6l-2.3-4z"/><path d="M608.3,2004.8h4.6l-2.3-4z"/><path d="M582.5,1996.8h4.6l-2.3-4z"/><path d="M559.1,1958.2h4.6l-2.3-4z"/><path d="M609.4,1827.2h4.6l-2.3-4z"/><path d="M608.8,1886.7h4.6l-2.3-4z"/><path d="M596.5,1969.2h4.6l-2.3-4z"/><path d="M581.6,2030.4h4.6l-2.3-4z"/><path d="M556.6,1866.0h4.6l-2.3-4z"/><path d="M579.5,1819.7h4.6l-2.3-4z"/><path d="M610.6,1963.9h4.6l-2.3-4z"/><path d="M552.8,2012.3h4.6l-2.3-4z"/><path d="M592.8,1925.7h4.6l-2.3-4z"/><path d="M562.1,1995.8h4.6l-2.3-4z"/><path d="M569.5,1933.6h4.6l-2.3-4z"/><path d="M595.7,1951.6h4.6l-2.3-4z"/><path d="M562.5,1857.3h4.6l-2.3-4z"/><path d="M591.1,1917.3h4.6l-2.3-4z"/><path d="M601.9,1867.8h4.6l-2.3-4z"/><path d="M588.2,1871.1h4.6l-2.3-4z"/><path d="M592.6,1963.7h4.6l-2.3-4z"/><path d="M580.9,1996.3h4.6l-2.3-4z"/><path d="M610.1,2019.5h4.6l-2.3-4z"/><path d="M548.2,1861.4h4.6l-2.3-4z"/><path d="M581.7,2020.8h4.6l-2.3-4z"/><path d="M576.4,1975.2h4.6l-2.3-4z"/><path d="M606.7,1967.6h4.6l-2.3-4z"/><path d="M616.4,1989.0h4.6l-2.3-4z"/><path d="M616.3,1765.2h4.6l-2.3-4z"/><path d="M567.8,1941.7h4.6l-2.3-4z"/><path d="M603.4,1841.9h4.6l-2.3-4z"/><path d="M552.9,2022.1h4.6l-2.3-4z"/><path d="M614.9,1905.7h4.6l-2.3-4z"/><path d="M599.5,1879.8h4.6l-2.3-4z"/><path d="M558.9,1981.3h4.6l-2.3-4z"/><path d="M616.7,2023.0h4.6l-2.3-4z"/><path d="M567.4,1998.6h4.6l-2.3-4z"/><path d="M617.6,1896.1h4.6l-2.3-4z"/><path d="M600.4,1976.3h4.6l-2.3-4z"/><path d="M575.9,1969.9h4.6l-2.3-4z"/><path d="M550.8,1970.3h4.6l-2.3-4z"/><path d="M608.2,1892.5h4.6l-2.3-4z"/><path d="M566.1,1879.5h4.6l-2.3-4z"/><path d="M575.5,2004.7h4.6l-2.3-4z"/><path d="M565.3,2009.3h4.6l-2.3-4z"/><path d="M560.1,2034.9h4.6l-2.3-4z"/><path d="M568.4,2031.0h4.6l-2.3-4z"/><path d="M559.7,2016.7h4.6l-2.3-4z"/><path d="M560.4,1637.5h4.6l-2.3-4z"/><path d="M570.4,2006.2h4.6l-2.3-4z"/><path d="M565.3,2029.9h4.6l-2.3-4z"/><path d="M615.6,2016.4h4.6l-2.3-4z"/><path d="M588.3,1965.5h4.6l-2.3-4z"/><path d="M551.4,2016.2h4.6l-2.3-4z"/><path d="M557.9,2025.1h4.6l-2.3-4z"/><path d="M578.2,1948.5h4.6l-2.3-4z"/><path d="M609.6,1980.9h4.6l-2.3-4z"/><path d="M603.8,1999.1h4.6l-2.3-4z"/><path d="M607.7,1956.6h4.6l-2.3-4z"/><path d="M591.9,1707.2h4.6l-2.3-4z"/><path d="M587.5,1984.9h4.6l-2.3-4z"/><path d="M592.3,1965.7h4.6l-2.3-4z"/><path d="M561.3,1965.0h4.6l-2.3-4z"/><path d="M598.5,1954.1h4.6l-2.3-4z"/><path d="M551.1,1871.7h4.6l-2.3-4z"/><path d="M591.8,1995.3h4.6l-2.3-4z"/><path d="M579.3,1922.1h4.6l-2.3-4z"/><path d="M559.5,1748.9h4.6l-2.3-4z"/><path d="M594.4,1955.2h4.6l-2.3-4z"/><path d="M569.1,2004.8h4.6l-2.3-4z"/><path d="M577.4,2006.1h4.6l-2.3-4z"/><path d="M577.1,1942.1h4.6l-2.3-4z"/><path d="M594.7,1971.2h4.6l-2.3-4z"/><path d="M573.5,1891.4h4.6l-2.3-4z"/><path d="M601.6,2020.2h4.6l-2.3-4z"/><path d="M557.4,2044.7h4.6l-2.3-4z"/><path d="M601.5,1934.0h4.6l-2.3-4z"/><path d="M549.9,1872.5h4.6l-2.3-4z"/><path d="M615.1,1998.8h4.6l-2.3-4z"/><path d="M582.3,1956.4h4.6l-2.3-4z"/><path d="M603.9,1984.0h4.6l-2.3-4z"/><path d="M574.6,1955.1h4.6l-2.3-4z"/><path d="M590.3,1839.6h4.6l-2.3-4z"/><path d="M587.6,1966.4h4.6l-2.3-4z"/><path d="M582.0,1979.6h4.6l-2.3-4z"/><path d="M563.7,1996.6h4.6l-2.3-4z"/><path d="M571.8,1928.1h4.6l-2.3-4z"/><path d="M554.3,1984.8h4.6l-2.3-4z"/><path d="M588.8,1913.8h4.6l-2.3-4z"/><path d="M603.2,2027.8h4.6l-2.3-4z"/><path d="M554.8,2014.1h4.6l-2.3-4z"/><path d="M607.5,2021.0h4.6l-2.3-4z"/><path d="M560.5,2031.8h4.6l-2.3-4z"/><path d="M596.3,1969.3h4.6l-2.3-4z"/><path d="M570.9,1971.1h4.6l-2.3-4z"/><path d="M583.0,1960.3h4.6l-2.3-4z"/><path d="M578.9,1886.5h4.6l-2.3-4z"/><path d="M553.5,2033.7h4.6l-2.3-4z"/><path d="M593.4,1989.9h4.6l-2.3-4z"/><path d="M588.5,2026.1h4.6l-2.3-4z"/><path d="M560.2,2003.2h4.6l-2.3-4z"/><path d="M596.6,1977.8h4.6l-2.3-4z"/><path d="M564.4,1995.1h4.6l-2.3-4z"/><path d="M550.6,1945.1h4.6l-2.3-4z"/><path d="M570.8,2001.9h4.6l-2.3-4z"/><path d="M559.8,1999.8h4.6l-2.3-4z"/><path d="M591.1,2019.6h4.6l-2.3-4z"/><path d="M595.2,2024.5h4.6l-2.3-4z"/><path d="M579.0,1838.8h4.6l-2.3-4z"/><path d="M566.9,1973.4h4.6l-2.3-4z"/><path d="M553.2,1995.7h4.6l-2.3-4z"/><path d="M597.7,1905.0h4.6l-2.3-4z"/><path d="M570.1,1995.4h4.6l-2.3-4z"/><path d="M547.7,2037.4h4.6l-2.3-4z"/><path d="M552.0,1925.6h4.6l-2.3-4z"/><path d="M564.4,1920.6h4.6l-2.3-4z"/><path d="M599.0,2020.8h4.6l-2.3-4z"/><path d="M613.7,1910.1h4.6l-2.3-4z"/><path d="M568.3,1917.2h4.6l-2.3-4z"/><path d="M595.0,1989.0h4.6l-2.3-4z"/><path d="M570.0,1923.5h4.6l-2.3-4z"/><path d="M576.9,2009.5h4.6l-2.3-4z"/><path d="M617.1,1953.9h4.6l-2.3-4z"/><path d="M603.9,1830.2h4.6l-2.3-4z"/><path d="M615.0,1936.8h4.6l-2.3-4z"/><path d="M584.3,2016.0h4.6l-2.3-4z"/><path d="M563.1,1997.0h4.6l-2.3-4z"/><path d="M582.6,1927.1h4.6l-2.3-4z"/><path d="M612.6,2009.7h4.6l-2.3-4z"/><path d="M550.4,1816.6h4.6l-2.3-4z"/><path d="M569.5,1954.1h4.6l-2.3-4z"/><path d="M590.2,1986.8h4.6l-2.3-4z"/><path d="M574.6,1920.2h4.6l-2.3-4z"/><path d="M586.8,1902.5h4.6l-2.3-4z"/><path d="M611.8,1950.3h4.6l-2.3-4z"/><path d="M566.3,1872.4h4.6l-2.3-4z"/><path d="M595.4,1931.2h4.6l-2.3-4z"/><path d="M584.2,1996.2h4.6l-2.3-4z"/><path d="M594.7,1981.3h4.6l-2.3-4z"/><path d="M615.7,2004.6h4.6l-2.3-4z"/><path d="M549.7,1951.4h4.6l-2.3-4z"/><path d="M606.7,1991.8h4.6l-2.3-4z"/><path d="M572.8,1908.3h4.6l-2.3-4z"/><path d="M615.0,1964.9h4.6l-2.3-4z"/><path d="M581.0,2021.9h4.6l-2.3-4z"/><path d="M600.2,1920.2h4.6l-2.3-4z"/><path d="M603.7,1941.1h4.6l-2.3-4z"/><path d="M567.9,1943.5h4.6l-2.3-4z"/><path d="M567.3,1856.4h4.6l-2.3-4z"/><path d="M557.8,2027.5h4.6l-2.3-4z"/><path d="M572.7,2001.6h4.6l-2.3-4z"/><path d="M602.2,1877.4h4.6l-2.3-4z"/><path d="M602.5,1774.4h4.6l-2.3-4z"/><path d="M549.1,2015.8h4.6l-2.3-4z"/><path d="M587.6,2011.0h4.6l-2.3-4z"/><path d="M607.5,1976.9h4.6l-2.3-4z"/><path d="M561.6,1976.8h4.6l-2.3-4z"/><path d="M596.9,1988.8h4.6l-2.3-4z"/><path d="M614.6,1923.1h4.6l-2.3-4z"/><path d="M603.2,1922.6h4.6l-2.3-4z"/><path d="M611.3,1896.8h4.6l-2.3-4z"/><path d="M582.0,1985.7h4.6l-2.3-4z"/><path d="M591.5,1777.8h4.6l-2.3-4z"/><path d="M573.2,2021.9h4.6l-2.3-4z"/><path d="M597.3,1962.0h4.6l-2.3-4z"/><path d="M594.7,2012.8h4.6l-2.3-4z"/><path d="M591.5,1983.5h4.6l-2.3-4z"/><path d="M575.0,1983.0h4.6l-2.3-4z"/><path d="M589.8,2005.9h4.6l-2.3-4z"/><path d="M550.1,1945.3h4.6l-2.3-4z"/><path d="M581.5,1920.1h4.6l-2.3-4z"/><path d="M585.9,1931.9h4.6l-2.3-4z"/><path d="M593.6,2003.2h4.6l-2.3-4z"/><path d="M617.1,1992.9h4.6l-2.3-4z"/><path d="M616.7,1998.3h4.6l-2.3-4z"/><path d="M595.9,1998.4h4.6l-2.3-4z"/><path d="M551.6,1797.1h4.6l-2.3-4z"/><path d="M589.3,2012.8h4.6l-2.3-4z"/><path d="M575.0,1948.0h4.6l-2.3-4z"/><path d="M597.2,1950.1h4.6l-2.3-4z"/><path d="M600.0,2020.3h4.6l-2.3-4z"/><path d="M606.1,1999.4h4.6l-2.3-4z"/><path d="M578.1,1975.5h4.6l-2.3-4z"/><path d="M605.3,1983.2h4.6l-2.3-4z"/><path d="M596.2,1987.8h4.6l-2.3-4z"/><path d="M562.5,1917.5h4.6l-2.3-4z"/><path d="M594.4,2016.0h4.6l-2.3-4z"/><path d="M581.5,1914.9h4.6l-2.3-4z"/><path d="M587.8,2020.1h4.6l-2.3-4z"/><path d="M562.8,2030.9h4.6l-2.3-4z"/><path d="M554.1,1977.9h4.6l-2.3-4z"/><path d="M607.3,1851.4h4.6l-2.3-4z"/><path d="M580.4,2009.6h4.6l-2.3-4z"/><path d="M569.1,2013.5h4.6l-2.3-4z"/><path d="M598.0,1896.2h4.6l-2.3-4z"/><path d="M605.9,1992.9h4.6l-2.3-4z"/><path d="M592.6,2020.7h4.6l-2.3-4z"/><path d="M548.0,1939.7h4.6l-2.3-4z"/><path d="M576.0,2024.0h4.6l-2.3-4z"/><path d="M604.9,1701.7h4.6l-2.3-4z"/><path d="M601.9,1930.7h4.6l-2.3-4z"/><path d="M615.5,1945.9h4.6l-2.3-4z"/><path d="M589.8,1883.7h4.6l-2.3-4z"/><path d="M615.4,1812.8h4.6l-2.3-4z"/><path d="M604.7,1910.6h4.6l-2.3-4z"/><path d="M554.3,1892.7h4.6l-2.3-4z"/><path d="M585.6,1847.1h4.6l-2.3-4z"/><path d="M587.1,1977.9h4.6l-2.3-4z"/><path d="M608.9,1980.5h4.6l-2.3-4z"/><path d="M556.4,1980.1h4.6l-2.3-4z"/><path d="M553.2,1961.3h4.6l-2.3-4z"/><path d="M613.8,2000.0h4.6l-2.3-4z"/><path d="M602.2,1998.3h4.6l-2.3-4z"/><path d="M567.2,1770.3h4.6l-2.3-4z"/><path d="M606.2,1971.5h4.6l-2.3-4z"/><path d="M549.6,1938.8h4.6l-2.3-4z"/><path d="M567.7,1917.3h4.6l-2.3-4z"/><path d="M616.1,1896.5h4.6l-2.3-4z"/><path d="M561.2,2024.6h4.6l-2.3-4z"/><path d="M556.8,2011.6h4.6l-2.3-4z"/><path d="M595.1,2002.0h4.6l-2.3-4z"/><path d="M567.9,1675.8h4.6l-2.3-4z"/><path d="M560.8,2009.5h4.6l-2.3-4z"/><path d="M587.5,1972.2h4.6l-2.3-4z"/><path d="M551.7,1966.7h4.6l-2.3-4z"/><path d="M569.8,1928.5h4.6l-2.3-4z"/><path d="M606.6,2001.2h4.6l-2.3-4z"/><path d="M557.0,1915.4h4.6l-2.3-4z"/><path d="M575.4,1888.0h4.6l-2.3-4z"/><path d="M552.3,1897.0h4.6l-2.3-4z"/><path d="M579.4,1871.4h4.6l-2.3-4z"/><path d="M561.4,1998.3h4.6l-2.3-4z"/><path d="M602.8,1772.0h4.6l-2.3-4z"/><path d="M582.6,1963.6h4.6l-2.3-4z"/><path d="M609.5,1999.4h4.6l-2.3-4z"/><path d="M576.4,2013.9h4.6l-2.3-4z"/><path d="M569.0,2000.4h4.6l-2.3-4z"/><path d="M565.3,2037.5h4.6l-2.3-4z"/><path d="M567.9,1996.9h4.6l-2.3-4z"/><path d="M599.5,1944.1h4.6l-2.3-4z"/><path d="M589.0,2023.7h4.6l-2.3-4z"/><path d="M574.8,2003.8h4.6l-2.3-4z"/><path d="M598.3,1787.3h4.6l-2.3-4z"/><path d="M583.6,1959.1h4.6l-2.3-4z"/><path d="M614.1,2014.0h4.6l-2.3-4z"/><path d="M580.6,1987.9h4.6l-2.3-4z"/><path d="M553.9,1994.7h4.6l-2.3-4z"/><path d="M548.1,1990.4h4.6l-2.3-4z"/><path d="M602.8,1975.7h4.6l-2.3-4z"/><path d="M601.5,1773.8h4.6l-2.3-4z"/><path d="M600.1,1957.6h4.6l-2.3-4z"/><path d="M616.1,1976.0h4.6l-2.3-4z"/><path d="M591.5,1733.0h4.6l-2.3-4z"/><path d="M548.0,2021.4h4.6l-2.3-4z"/><path d="M563.4,2019.3h4.6l-2.3-4z"/><path d="M590.3,1968.2h4.6l-2.3-4z"/><path d="M568.9,1877.7h4.6l-2.3-4z"/><path d="M551.8,1980.0h4.6l-2.3-4z"/><path d="M617.1,1887.2h4.6l-2.3-4z"/><path d="M580.9,1957.5h4.6l-2.3-4z"/><path d="M608.1,2000.0h4.6l-2.3-4z"/><path d="M606.2,1929.7h4.6l-2.3-4z"/><path d="M586.4,1929.0h4.6l-2.3-4z"/><path d="M595.0,2001.0h4.6l-2.3-4z"/><path d="M574.1,1977.6h4.6l-2.3-4z"/><path d="M549.1,1992.9h4.6l-2.3-4z"/><path d="M556.5,1899.4h4.6l-2.3-4z"/><path d="M570.5,2015.9h4.6l-2.3-4z"/><path d="M613.8,1864.6h4.6l-2.3-4z"/><path d="M615.9,1570.0h4.6l-2.3-4z"/><path d="M606.8,1964.5h4.6l-2.3-4z"/><path d="M577.1,1964.0h4.6l-2.3-4z"/><path d="M601.9,2028.5h4.6l-2.3-4z"/><path d="M615.5,1943.4h4.6l-2.3-4z"/><path d="M553.7,2013.7h4.6l-2.3-4z"/><path d="M612.3,1988.4h4.6l-2.3-4z"/><path d="M575.5,1961.9h4.6l-2.3-4z"/><path d="M601.1,1789.9h4.6l-2.3-4z"/><path d="M560.8,1820.2h4.6l-2.3-4z"/><path d="M567.2,2009.8h4.6l-2.3-4z"/><path d="M596.0,1958.0h4.6l-2.3-4z"/><path d="M573.2,1898.0h4.6l-2.3-4z"/><path d="M563.5,1964.6h4.6l-2.3-4z"/><path d="M606.8,1829.9h4.6l-2.3-4z"/><path d="M586.5,1873.7h4.6l-2.3-4z"/><path d="M605.8,1845.8h4.6l-2.3-4z"/><path d="M590.5,1973.0h4.6l-2.3-4z"/><path d="M562.9,1987.0h4.6l-2.3-4z"/><path d="M613.4,1862.8h4.6l-2.3-4z"/><path d="M564.2,1979.5h4.6l-2.3-4z"/><path d="M573.6,1951.9h4.6l-2.3-4z"/><path d="M601.6,1988.6h4.6l-2.3-4z"/><path d="M616.2,1890.4h4.6l-2.3-4z"/><path d="M594.2,1919.1h4.6l-2.3-4z"/><path d="M603.5,1711.5h4.6l-2.3-4z"/><path d="M614.2,2007.5h4.6l-2.3-4z"/><path d="M575.6,1970.2h4.6l-2.3-4z"/><path d="M613.0,2020.2h4.6l-2.3-4z"/><path d="M606.6,2024.3h4.6l-2.3-4z"/><path d="M569.3,1933.7h4.6l-2.3-4z"/><path d="M598.9,1847.8h4.6l-2.3-4z"/><path d="M576.5,2004.5h4.6l-2.3-4z"/><path d="M611.2,1915.7h4.6l-2.3-4z"/><path d="M586.2,1976.2h4.6l-2.3-4z"/><path d="M584.5,1902.9h4.6l-2.3-4z"/><path d="M602.3,1995.1h4.6l-2.3-4z"/><path d="M598.0,1922.0h4.6l-2.3-4z"/><path d="M613.6,1979.5h4.6l-2.3-4z"/><path d="M617.5,1932.5h4.6l-2.3-4z"/><path d="M598.4,1961.8h4.6l-2.3-4z"/><path d="M582.0,1991.5h4.6l-2.3-4z"/><path d="M580.4,1855.3h4.6l-2.3-4z"/><path d="M552.6,2018.6h4.6l-2.3-4z"/><path d="M614.6,2011.6h4.6l-2.3-4z"/><path d="M590.5,1903.9h4.6l-2.3-4z"/><path d="M561.8,1982.7h4.6l-2.3-4z"/><path d="M606.4,1970.5h4.6l-2.3-4z"/><path d="M605.5,1934.3h4.6l-2.3-4z"/><path d="M556.1,2030.8h4.6l-2.3-4z"/><path d="M580.5,1934.6h4.6l-2.3-4z"/><path d="M603.8,1851.7h4.6l-2.3-4z"/><path d="M591.0,1992.7h4.6l-2.3-4z"/><path d="M601.5,1973.0h4.6l-2.3-4z"/><path d="M559.9,1898.4h4.6l-2.3-4z"/><path d="M603.7,2004.7h4.6l-2.3-4z"/><path d="M563.8,1922.7h4.6l-2.3-4z"/><path d="M583.4,1926.4h4.6l-2.3-4z"/><path d="M603.1,1964.1h4.6l-2.3-4z"/><path d="M597.1,1975.1h4.6l-2.3-4z"/><path d="M599.8,2009.2h4.6l-2.3-4z"/><path d="M608.1,1990.4h4.6l-2.3-4z"/><path d="M613.3,1946.4h4.6l-2.3-4z"/><path d="M609.2,1955.5h4.6l-2.3-4z"/><path d="M573.8,2011.8h4.6l-2.3-4z"/><path d="M617.4,1925.1h4.6l-2.3-4z"/><path d="M560.8,1876.5h4.6l-2.3-4z"/><path d="M600.1,1788.5h4.6l-2.3-4z"/><path d="M569.8,1628.5h4.6l-2.3-4z"/><path d="M593.4,1995.7h4.6l-2.3-4z"/><path d="M585.1,1896.6h4.6l-2.3-4z"/><path d="M567.4,1998.7h4.6l-2.3-4z"/><path d="M608.3,2000.9h4.6l-2.3-4z"/><path d="M580.3,2033.2h4.6l-2.3-4z"/><path d="M570.6,1908.9h4.6l-2.3-4z"/><path d="M567.6,2000.2h4.6l-2.3-4z"/><path d="M608.9,1962.9h4.6l-2.3-4z"/><path d="M567.6,1992.8h4.6l-2.3-4z"/><path d="M604.2,1960.4h4.6l-2.3-4z"/><path d="M605.4,2015.2h4.6l-2.3-4z"/><path d="M595.5,1945.3h4.6l-2.3-4z"/><path d="M564.1,1971.8h4.6l-2.3-4z"/><path d="M593.2,1957.4h4.6l-2.3-4z"/><path d="M610.6,1810.7h4.6l-2.3-4z"/><path d="M568.2,1922.5h4.6l-2.3-4z"/><path d="M584.8,2010.3h4.6l-2.3-4z"/><path d="M561.4,1962.2h4.6l-2.3-4z"/><path d="M562.2,1942.3h4.6l-2.3-4z"/><path d="M580.0,1976.5h4.6l-2.3-4z"/><path d="M599.2,1958.3h4.6l-2.3-4z"/><path d="M567.6,2023.1h4.6l-2.3-4z"/><path d="M588.7,2020.7h4.6l-2.3-4z"/><path d="M596.6,2032.2h4.6l-2.3-4z"/><path d="M558.6,2005.8h4.6l-2.3-4z"/><path d="M551.2,2023.7h4.6l-2.3-4z"/><path d="M577.6,1972.3h4.6l-2.3-4z"/><path d="M615.2,1977.4h4.6l-2.3-4z"/><path d="M579.2,1951.5h4.6l-2.3-4z"/><path d="M585.0,1998.0h4.6l-2.3-4z"/><path d="M562.1,1871.7h4.6l-2.3-4z"/><path d="M549.1,1950.3h4.6l-2.3-4z"/><path d="M602.0,1949.3h4.6l-2.3-4z"/><path d="M562.2,2026.5h4.6l-2.3-4z"/><path d="M577.3,2010.5h4.6l-2.3-4z"/><path d="M604.5,1979.8h4.6l-2.3-4z"/><path d="M592.5,2030.2h4.6l-2.3-4z"/><path d="M585.1,1995.1h4.6l-2.3-4z"/><path d="M581.4,1885.0h4.6l-2.3-4z"/><path d="M578.2,2023.1h4.6l-2.3-4z"/><path d="M557.9,2026.9h4.6l-2.3-4z"/><path d="M567.4,2001.1h4.6l-2.3-4z"/><path d="M586.9,1991.9h4.6l-2.3-4z"/><path d="M600.3,1949.1h4.6l-2.3-4z"/><path d="M601.3,2000.7h4.6l-2.3-4z"/><path d="M590.7,1971.9h4.6l-2.3-4z"/><path d="M603.7,2033.0h4.6l-2.3-4z"/><path d="M580.8,2032.2h4.6l-2.3-4z"/><path d="M574.7,1711.2h4.6l-2.3-4z"/><path d="M582.5,1961.8h4.6l-2.3-4z"/><path d="M568.4,1900.7h4.6l-2.3-4z"/><path d="M609.6,1986.9h4.6l-2.3-4z"/><path d="M570.3,1976.3h4.6l-2.3-4z"/><path d="M581.7,1881.6h4.6l-2.3-4z"/><path d="M550.5,1762.8h4.6l-2.3-4z"/><path d="M612.1,1976.7h4.6l-2.3-4z"/><path d="M608.0,1871.0h4.6l-2.3-4z"/><path d="M552.5,1979.2h4.6l-2.3-4z"/><path d="M661.7,1847.7h4.6l-2.3-4z"/><path d="M639.0,1912.3h4.6l-2.3-4z"/><path d="M625.4,2006.9h4.6l-2.3-4z"/><path d="M626.2,1890.7h4.6l-2.3-4z"/><path d="M658.9,2006.7h4.6l-2.3-4z"/><path d="M629.9,1864.3h4.6l-2.3-4z"/><path d="M630.2,1919.4h4.6l-2.3-4z"/><path d="M672.5,1827.2h4.6l-2.3-4z"/><path d="M672.1,1952.3h4.6l-2.3-4z"/><path d="M675.3,1972.0h4.6l-2.3-4z"/><path d="M642.2,1924.2h4.6l-2.3-4z"/><path d="M626.5,1949.7h4.6l-2.3-4z"/><path d="M660.4,1983.1h4.6l-2.3-4z"/><path d="M680.4,1800.3h4.6l-2.3-4z"/><path d="M639.7,1813.5h4.6l-2.3-4z"/><path d="M653.7,1901.0h4.6l-2.3-4z"/><path d="M681.8,1846.3h4.6l-2.3-4z"/><path d="M661.7,2016.9h4.6l-2.3-4z"/><path d="M640.9,2020.9h4.6l-2.3-4z"/><path d="M679.4,1866.8h4.6l-2.3-4z"/><path d="M647.0,1950.9h4.6l-2.3-4z"/><path d="M638.9,1934.8h4.6l-2.3-4z"/><path d="M682.0,1991.1h4.6l-2.3-4z"/><path d="M672.5,1983.5h4.6l-2.3-4z"/><path d="M619.5,1936.7h4.6l-2.3-4z"/><path d="M646.2,1995.9h4.6l-2.3-4z"/><path d="M625.7,2010.7h4.6l-2.3-4z"/><path d="M620.6,1993.0h4.6l-2.3-4z"/><path d="M635.0,1976.9h4.6l-2.3-4z"/><path d="M686.2,1983.4h4.6l-2.3-4z"/><path d="M637.7,1827.6h4.6l-2.3-4z"/><path d="M645.5,1899.4h4.6l-2.3-4z"/><path d="M620.3,1932.4h4.6l-2.3-4z"/><path d="M652.3,2001.0h4.6l-2.3-4z"/><path d="M639.4,2017.1h4.6l-2.3-4z"/><path d="M672.5,1955.6h4.6l-2.3-4z"/><path d="M654.4,1933.2h4.6l-2.3-4z"/><path d="M640.4,1972.2h4.6l-2.3-4z"/><path d="M665.5,1901.0h4.6l-2.3-4z"/><path d="M673.0,2004.0h4.6l-2.3-4z"/><path d="M636.9,2025.2h4.6l-2.3-4z"/><path d="M686.0,1884.6h4.6l-2.3-4z"/><path d="M682.7,1789.2h4.6l-2.3-4z"/><path d="M631.2,1959.7h4.6l-2.3-4z"/><path d="M679.9,1919.5h4.6l-2.3-4z"/><path d="M633.6,1976.4h4.6l-2.3-4z"/><path d="M673.5,1964.0h4.6l-2.3-4z"/><path d="M669.0,2015.4h4.6l-2.3-4z"/><path d="M672.8,1977.0h4.6l-2.3-4z"/><path d="M653.6,1801.9h4.6l-2.3-4z"/><path d="M620.7,2032.7h4.6l-2.3-4z"/><path d="M636.8,1889.2h4.6l-2.3-4z"/><path d="M631.1,1915.4h4.6l-2.3-4z"/><path d="M666.9,1944.8h4.6l-2.3-4z"/><path d="M674.7,2010.3h4.6l-2.3-4z"/><path d="M659.1,1942.0h4.6l-2.3-4z"/><path d="M664.0,1913.5h4.6l-2.3-4z"/><path d="M630.1,1804.6h4.6l-2.3-4z"/><path d="M637.1,1894.2h4.6l-2.3-4z"/><path d="M638.8,1978.3h4.6l-2.3-4z"/><path d="M646.0,2022.7h4.6l-2.3-4z"/><path d="M649.0,1900.1h4.6l-2.3-4z"/><path d="M642.6,2035.0h4.6l-2.3-4z"/><path d="M659.7,1816.1h4.6l-2.3-4z"/><path d="M633.5,1895.4h4.6l-2.3-4z"/><path d="M637.9,2008.9h4.6l-2.3-4z"/><path d="M637.5,1968.4h4.6l-2.3-4z"/><path d="M640.9,1929.3h4.6l-2.3-4z"/><path d="M645.3,1679.5h4.6l-2.3-4z"/><path d="M660.6,1983.6h4.6l-2.3-4z"/><path d="M648.3,1996.7h4.6l-2.3-4z"/><path d="M667.7,1952.3h4.6l-2.3-4z"/><path d="M643.0,2007.3h4.6l-2.3-4z"/><path d="M684.2,1953.7h4.6l-2.3-4z"/><path d="M652.8,2012.6h4.6l-2.3-4z"/><path d="M618.9,1901.4h4.6l-2.3-4z"/><path d="M644.0,1899.3h4.6l-2.3-4z"/><path d="M625.4,1999.4h4.6l-2.3-4z"/><path d="M652.1,2000.9h4.6l-2.3-4z"/><path d="M676.6,1886.2h4.6l-2.3-4z"/><path d="M685.2,1876.2h4.6l-2.3-4z"/><path d="M655.3,1811.1h4.6l-2.3-4z"/><path d="M677.3,1892.7h4.6l-2.3-4z"/><path d="M654.6,1986.7h4.6l-2.3-4z"/><path d="M671.0,1912.5h4.6l-2.3-4z"/><path d="M633.5,1864.1h4.6l-2.3-4z"/><path d="M640.7,1858.4h4.6l-2.3-4z"/><path d="M620.9,1979.2h4.6l-2.3-4z"/><path d="M642.9,1860.8h4.6l-2.3-4z"/><path d="M687.6,1968.9h4.6l-2.3-4z"/><path d="M627.1,1959.0h4.6l-2.3-4z"/><path d="M646.1,2001.0h4.6l-2.3-4z"/><path d="M682.7,1955.9h4.6l-2.3-4z"/><path d="M622.2,1980.5h4.6l-2.3-4z"/><path d="M668.8,1941.1h4.6l-2.3-4z"/><path d="M633.7,1946.0h4.6l-2.3-4z"/><path d="M662.3,1998.5h4.6l-2.3-4z"/><path d="M685.7,2017.9h4.6l-2.3-4z"/><path d="M625.1,1758.1h4.6l-2.3-4z"/><path d="M648.8,1802.8h4.6l-2.3-4z"/><path d="M684.2,1980.6h4.6l-2.3-4z"/><path d="M620.6,1863.0h4.6l-2.3-4z"/><path d="M678.2,1889.5h4.6l-2.3-4z"/><path d="M655.4,1921.5h4.6l-2.3-4z"/><path d="M651.9,1895.3h4.6l-2.3-4z"/><path d="M662.4,1909.5h4.6l-2.3-4z"/><path d="M624.2,1988.3h4.6l-2.3-4z"/><path d="M618.0,1862.0h4.6l-2.3-4z"/><path d="M644.1,1940.1h4.6l-2.3-4z"/><path d="M670.0,1975.1h4.6l-2.3-4z"/><path d="M624.2,2042.1h4.6l-2.3-4z"/><path d="M623.8,1981.4h4.6l-2.3-4z"/><path d="M628.8,2022.3h4.6l-2.3-4z"/><path d="M661.1,2009.4h4.6l-2.3-4z"/><path d="M663.6,1966.3h4.6l-2.3-4z"/><path d="M620.9,1942.3h4.6l-2.3-4z"/><path d="M629.0,1888.4h4.6l-2.3-4z"/><path d="M686.4,1904.7h4.6l-2.3-4z"/><path d="M680.8,1634.7h4.6l-2.3-4z"/><path d="M638.9,1955.0h4.6l-2.3-4z"/><path d="M653.8,2021.0h4.6l-2.3-4z"/><path d="M686.9,1965.2h4.6l-2.3-4z"/><path d="M667.2,1989.0h4.6l-2.3-4z"/><path d="M652.9,1994.2h4.6l-2.3-4z"/><path d="M659.1,2031.1h4.6l-2.3-4z"/><path d="M660.7,1992.6h4.6l-2.3-4z"/><path d="M631.5,1855.7h4.6l-2.3-4z"/><path d="M673.9,1757.9h4.6l-2.3-4z"/><path d="M664.6,1995.7h4.6l-2.3-4z"/><path d="M621.5,1841.1h4.6l-2.3-4z"/><path d="M628.9,1984.9h4.6l-2.3-4z"/><path d="M687.4,1833.5h4.6l-2.3-4z"/><path d="M648.3,1881.0h4.6l-2.3-4z"/><path d="M626.4,2011.4h4.6l-2.3-4z"/><path d="M679.2,1886.7h4.6l-2.3-4z"/><path d="M668.9,1712.7h4.6l-2.3-4z"/><path d="M666.2,1936.9h4.6l-2.3-4z"/><path d="M665.8,1938.0h4.6l-2.3-4z"/><path d="M651.5,2021.6h4.6l-2.3-4z"/><path d="M669.6,2009.5h4.6l-2.3-4z"/><path d="M628.5,1975.3h4.6l-2.3-4z"/><path d="M641.7,1925.7h4.6l-2.3-4z"/><path d="M646.9,1956.4h4.6l-2.3-4z"/><path d="M623.1,2004.0h4.6l-2.3-4z"/><path d="M669.8,1926.3h4.6l-2.3-4z"/><path d="M676.4,1819.6h4.6l-2.3-4z"/><path d="M641.5,1936.9h4.6l-2.3-4z"/><path d="M638.8,1998.7h4.6l-2.3-4z"/><path d="M683.5,1947.0h4.6l-2.3-4z"/><path d="M624.6,1906.8h4.6l-2.3-4z"/><path d="M646.4,2025.8h4.6l-2.3-4z"/><path d="M643.3,2010.6h4.6l-2.3-4z"/><path d="M650.5,1783.0h4.6l-2.3-4z"/><path d="M654.9,1994.3h4.6l-2.3-4z"/><path d="M651.4,1997.9h4.6l-2.3-4z"/><path d="M645.4,1873.7h4.6l-2.3-4z"/><path d="M643.8,2005.6h4.6l-2.3-4z"/><path d="M638.1,1955.9h4.6l-2.3-4z"/><path d="M634.5,1712.1h4.6l-2.3-4z"/><path d="M622.0,1915.7h4.6l-2.3-4z"/><path d="M660.1,2008.0h4.6l-2.3-4z"/><path d="M671.1,1902.7h4.6l-2.3-4z"/><path d="M657.1,1930.7h4.6l-2.3-4z"/><path d="M647.7,1810.4h4.6l-2.3-4z"/><path d="M667.1,1968.7h4.6l-2.3-4z"/><path d="M672.0,1965.0h4.6l-2.3-4z"/><path d="M643.4,1941.3h4.6l-2.3-4z"/><path d="M644.7,1973.9h4.6l-2.3-4z"/><path d="M645.0,2010.3h4.6l-2.3-4z"/><path d="M668.3,2003.9h4.6l-2.3-4z"/><path d="M681.3,2016.0h4.6l-2.3-4z"/><path d="M685.2,1864.3h4.6l-2.3-4z"/><path d="M680.3,1910.9h4.6l-2.3-4z"/><path d="M631.3,2009.4h4.6l-2.3-4z"/><path d="M637.0,1932.7h4.6l-2.3-4z"/><path d="M662.9,1926.6h4.6l-2.3-4z"/><path d="M658.1,2009.5h4.6l-2.3-4z"/><path d="M673.9,1969.3h4.6l-2.3-4z"/><path d="M681.4,1788.3h4.6l-2.3-4z"/><path d="M647.4,1996.2h4.6l-2.3-4z"/><path d="M628.2,1858.2h4.6l-2.3-4z"/><path d="M668.4,1800.4h4.6l-2.3-4z"/><path d="M662.6,1860.5h4.6l-2.3-4z"/><path d="M629.3,2008.3h4.6l-2.3-4z"/><path d="M678.6,1977.2h4.6l-2.3-4z"/><path d="M660.2,2020.3h4.6l-2.3-4z"/><path d="M674.0,1921.6h4.6l-2.3-4z"/><path d="M625.0,2013.5h4.6l-2.3-4z"/><path d="M672.2,1850.9h4.6l-2.3-4z"/><path d="M636.9,1958.7h4.6l-2.3-4z"/><path d="M662.9,1951.2h4.6l-2.3-4z"/><path d="M684.0,1966.0h4.6l-2.3-4z"/><path d="M677.4,2001.8h4.6l-2.3-4z"/><path d="M659.1,1853.1h4.6l-2.3-4z"/><path d="M642.7,1973.7h4.6l-2.3-4z"/><path d="M669.7,2012.3h4.6l-2.3-4z"/><path d="M673.6,1906.0h4.6l-2.3-4z"/><path d="M653.7,1984.9h4.6l-2.3-4z"/><path d="M686.1,1971.7h4.6l-2.3-4z"/><path d="M641.3,1966.0h4.6l-2.3-4z"/><path d="M662.0,1931.8h4.6l-2.3-4z"/><path d="M636.7,1954.8h4.6l-2.3-4z"/><path d="M682.4,1772.1h4.6l-2.3-4z"/><path d="M664.5,2018.0h4.6l-2.3-4z"/><path d="M653.9,1827.1h4.6l-2.3-4z"/><path d="M649.9,2024.3h4.6l-2.3-4z"/><path d="M635.7,2006.8h4.6l-2.3-4z"/><path d="M635.3,1916.2h4.6l-2.3-4z"/><path d="M680.0,1997.4h4.6l-2.3-4z"/><path d="M673.3,1791.2h4.6l-2.3-4z"/><path d="M638.5,2012.6h4.6l-2.3-4z"/><path d="M667.5,1747.0h4.6l-2.3-4z"/><path d="M682.8,1915.8h4.6l-2.3-4z"/><path d="M681.0,2009.4h4.6l-2.3-4z"/><path d="M666.6,1913.3h4.6l-2.3-4z"/><path d="M654.1,1996.6h4.6l-2.3-4z"/><path d="M652.3,1967.3h4.6l-2.3-4z"/><path d="M629.8,2024.6h4.6l-2.3-4z"/><path d="M682.5,1871.1h4.6l-2.3-4z"/><path d="M644.1,1981.0h4.6l-2.3-4z"/><path d="M649.8,1818.9h4.6l-2.3-4z"/><path d="M630.5,1745.6h4.6l-2.3-4z"/><path d="M670.1,1822.6h4.6l-2.3-4z"/><path d="M631.7,1953.4h4.6l-2.3-4z"/><path d="M619.3,1693.3h4.6l-2.3-4z"/><path d="M667.2,1758.2h4.6l-2.3-4z"/><path d="M619.8,1847.3h4.6l-2.3-4z"/><path d="M646.5,1901.3h4.6l-2.3-4z"/><path d="M656.4,1983.5h4.6l-2.3-4z"/><path d="M642.9,1994.0h4.6l-2.3-4z"/><path d="M659.7,1618.3h4.6l-2.3-4z"/><path d="M618.0,1986.3h4.6l-2.3-4z"/><path d="M637.5,1994.7h4.6l-2.3-4z"/><path d="M649.5,1982.5h4.6l-2.3-4z"/><path d="M647.5,1857.6h4.6l-2.3-4z"/><path d="M623.5,1869.2h4.6l-2.3-4z"/><path d="M687.0,1837.6h4.6l-2.3-4z"/><path d="M623.2,1921.3h4.6l-2.3-4z"/><path d="M672.3,1942.9h4.6l-2.3-4z"/><path d="M681.4,1684.6h4.6l-2.3-4z"/><path d="M680.7,1923.2h4.6l-2.3-4z"/><path d="M647.5,1992.0h4.6l-2.3-4z"/><path d="M675.9,1729.0h4.6l-2.3-4z"/><path d="M682.8,2006.5h4.6l-2.3-4z"/><path d="M640.7,1999.4h4.6l-2.3-4z"/><path d="M650.4,1896.3h4.6l-2.3-4z"/><path d="M677.1,1948.3h4.6l-2.3-4z"/><path d="M677.6,1941.3h4.6l-2.3-4z"/><path d="M680.7,1750.6h4.6l-2.3-4z"/><path d="M642.6,1985.6h4.6l-2.3-4z"/><path d="M661.7,1818.0h4.6l-2.3-4z"/><path d="M656.7,1844.7h4.6l-2.3-4z"/><path d="M670.6,1983.1h4.6l-2.3-4z"/><path d="M668.3,1920.2h4.6l-2.3-4z"/><path d="M672.2,1992.9h4.6l-2.3-4z"/><path d="M631.8,1995.3h4.6l-2.3-4z"/><path d="M676.0,2003.1h4.6l-2.3-4z"/><path d="M664.3,1937.0h4.6l-2.3-4z"/><path d="M631.4,1971.2h4.6l-2.3-4z"/><path d="M663.5,1936.7h4.6l-2.3-4z"/><path d="M673.0,1970.0h4.6l-2.3-4z"/><path d="M686.2,1995.1h4.6l-2.3-4z"/><path d="M633.9,1942.3h4.6l-2.3-4z"/><path d="M624.8,1863.3h4.6l-2.3-4z"/><path d="M627.7,1943.2h4.6l-2.3-4z"/><path d="M660.8,1861.4h4.6l-2.3-4z"/><path d="M681.6,1815.0h4.6l-2.3-4z"/><path d="M654.2,1984.1h4.6l-2.3-4z"/><path d="M646.3,1996.4h4.6l-2.3-4z"/><path d="M686.1,1949.3h4.6l-2.3-4z"/><path d="M667.2,1853.6h4.6l-2.3-4z"/><path d="M661.0,1727.5h4.6l-2.3-4z"/><path d="M629.7,1897.2h4.6l-2.3-4z"/><path d="M682.7,1992.6h4.6l-2.3-4z"/><path d="M622.5,1774.3h4.6l-2.3-4z"/><path d="M643.2,1839.9h4.6l-2.3-4z"/><path d="M663.7,2002.8h4.6l-2.3-4z"/><path d="M638.0,1952.8h4.6l-2.3-4z"/><path d="M636.7,1979.7h4.6l-2.3-4z"/><path d="M669.1,1860.2h4.6l-2.3-4z"/><path d="M625.1,1865.0h4.6l-2.3-4z"/><path d="M655.2,1955.4h4.6l-2.3-4z"/><path d="M637.7,1999.5h4.6l-2.3-4z"/><path d="M637.5,1982.8h4.6l-2.3-4z"/><path d="M643.3,2023.8h4.6l-2.3-4z"/><path d="M646.7,1950.5h4.6l-2.3-4z"/><path d="M670.2,1996.9h4.6l-2.3-4z"/><path d="M668.7,1925.4h4.6l-2.3-4z"/><path d="M633.0,1924.6h4.6l-2.3-4z"/><path d="M619.0,1913.1h4.6l-2.3-4z"/><path d="M669.6,2000.6h4.6l-2.3-4z"/><path d="M667.2,2007.5h4.6l-2.3-4z"/><path d="M653.2,1837.4h4.6l-2.3-4z"/><path d="M622.7,1975.7h4.6l-2.3-4z"/><path d="M631.6,1990.0h4.6l-2.3-4z"/><path d="M676.3,1988.2h4.6l-2.3-4z"/><path d="M634.6,1868.0h4.6l-2.3-4z"/><path d="M664.1,2021.6h4.6l-2.3-4z"/><path d="M646.8,1875.7h4.6l-2.3-4z"/><path d="M663.6,1999.0h4.6l-2.3-4z"/><path d="M629.5,1909.9h4.6l-2.3-4z"/><path d="M679.6,1953.4h4.6l-2.3-4z"/><path d="M634.1,1999.6h4.6l-2.3-4z"/><path d="M683.9,1919.8h4.6l-2.3-4z"/><path d="M625.9,1905.9h4.6l-2.3-4z"/><path d="M622.9,1869.8h4.6l-2.3-4z"/><path d="M654.0,2025.5h4.6l-2.3-4z"/><path d="M667.5,1803.8h4.6l-2.3-4z"/><path d="M681.0,1971.9h4.6l-2.3-4z"/><path d="M666.4,1958.0h4.6l-2.3-4z"/><path d="M634.9,1991.4h4.6l-2.3-4z"/><path d="M661.6,1964.5h4.6l-2.3-4z"/><path d="M640.1,2012.5h4.6l-2.3-4z"/><path d="M659.7,1977.5h4.6l-2.3-4z"/><path d="M638.0,1952.4h4.6l-2.3-4z"/><path d="M661.3,1978.7h4.6l-2.3-4z"/><path d="M657.2,1964.8h4.6l-2.3-4z"/><path d="M686.6,1830.5h4.6l-2.3-4z"/><path d="M641.9,1762.7h4.6l-2.3-4z"/><path d="M623.1,1871.1h4.6l-2.3-4z"/><path d="M660.5,2019.2h4.6l-2.3-4z"/><path d="M623.8,1913.1h4.6l-2.3-4z"/><path d="M622.8,1946.0h4.6l-2.3-4z"/><path d="M644.2,1894.9h4.6l-2.3-4z"/><path d="M682.0,1838.7h4.6l-2.3-4z"/><path d="M679.0,1948.9h4.6l-2.3-4z"/><path d="M681.0,1991.0h4.6l-2.3-4z"/><path d="M671.4,1857.7h4.6l-2.3-4z"/><path d="M623.9,1892.8h4.6l-2.3-4z"/><path d="M646.6,1883.2h4.6l-2.3-4z"/><path d="M620.3,1832.3h4.6l-2.3-4z"/><path d="M671.1,1949.8h4.6l-2.3-4z"/><path d="M659.7,1918.4h4.6l-2.3-4z"/><path d="M673.1,1996.7h4.6l-2.3-4z"/><path d="M658.9,1899.8h4.6l-2.3-4z"/><path d="M657.2,1860.5h4.6l-2.3-4z"/><path d="M644.3,2003.3h4.6l-2.3-4z"/><path d="M670.4,1956.8h4.6l-2.3-4z"/><path d="M617.8,1934.5h4.6l-2.3-4z"/><path d="M683.0,1978.9h4.6l-2.3-4z"/><path d="M645.3,1654.2h4.6l-2.3-4z"/><path d="M673.0,1912.4h4.6l-2.3-4z"/><path d="M620.0,1920.6h4.6l-2.3-4z"/><path d="M662.6,1694.3h4.6l-2.3-4z"/><path d="M652.4,1860.1h4.6l-2.3-4z"/><path d="M682.8,1934.6h4.6l-2.3-4z"/><path d="M635.3,1916.1h4.6l-2.3-4z"/><path d="M678.1,2010.2h4.6l-2.3-4z"/><path d="M645.1,1970.0h4.6l-2.3-4z"/><path d="M668.6,2004.6h4.6l-2.3-4z"/><path d="M664.8,1955.9h4.6l-2.3-4z"/><path d="M632.0,1954.5h4.6l-2.3-4z"/><path d="M672.1,1951.7h4.6l-2.3-4z"/><path d="M633.3,1932.6h4.6l-2.3-4z"/><path d="M685.5,1767.9h4.6l-2.3-4z"/><path d="M633.4,2001.7h4.6l-2.3-4z"/><path d="M669.3,1991.9h4.6l-2.3-4z"/><path d="M644.8,1928.6h4.6l-2.3-4z"/><path d="M670.1,1990.3h4.6l-2.3-4z"/><path d="M651.9,2000.3h4.6l-2.3-4z"/><path d="M647.5,1924.8h4.6l-2.3-4z"/><path d="M621.7,1972.3h4.6l-2.3-4z"/><path d="M637.6,2029.6h4.6l-2.3-4z"/><path d="M644.3,1839.6h4.6l-2.3-4z"/><path d="M626.1,1982.0h4.6l-2.3-4z"/><path d="M619.7,2011.4h4.6l-2.3-4z"/><path d="M645.3,1818.2h4.6l-2.3-4z"/><path d="M665.7,1977.5h4.6l-2.3-4z"/><path d="M683.0,1661.5h4.6l-2.3-4z"/><path d="M620.4,1909.2h4.6l-2.3-4z"/><path d="M650.6,1949.6h4.6l-2.3-4z"/><path d="M642.1,1964.1h4.6l-2.3-4z"/><path d="M670.3,1978.7h4.6l-2.3-4z"/><path d="M652.5,1974.3h4.6l-2.3-4z"/><path d="M668.6,1955.8h4.6l-2.3-4z"/><path d="M679.1,1973.4h4.6l-2.3-4z"/><path d="M669.3,1940.8h4.6l-2.3-4z"/><path d="M654.2,1916.8h4.6l-2.3-4z"/><path d="M664.2,1926.8h4.6l-2.3-4z"/><path d="M651.8,1866.8h4.6l-2.3-4z"/><path d="M673.5,1909.6h4.6l-2.3-4z"/><path d="M648.6,2011.1h4.6l-2.3-4z"/><path d="M652.9,1997.0h4.6l-2.3-4z"/><path d="M672.8,1940.4h4.6l-2.3-4z"/><path d="M662.6,1959.9h4.6l-2.3-4z"/><path d="M661.0,1932.0h4.6l-2.3-4z"/><path d="M623.9,1613.2h4.6l-2.3-4z"/><path d="M635.2,1855.7h4.6l-2.3-4z"/><path d="M623.9,2012.4h4.6l-2.3-4z"/><path d="M635.3,1890.0h4.6l-2.3-4z"/><path d="M642.5,1957.6h4.6l-2.3-4z"/><path d="M671.9,1827.9h4.6l-2.3-4z"/><path d="M618.1,1964.9h4.6l-2.3-4z"/><path d="M663.2,1852.7h4.6l-2.3-4z"/><path d="M638.6,1835.9h4.6l-2.3-4z"/><path d="M665.2,1944.4h4.6l-2.3-4z"/><path d="M656.7,1748.9h4.6l-2.3-4z"/><path d="M624.7,1801.8h4.6l-2.3-4z"/><path d="M652.0,1867.3h4.6l-2.3-4z"/><path d="M685.3,1864.0h4.6l-2.3-4z"/><path d="M619.0,1864.9h4.6l-2.3-4z"/><path d="M665.2,1656.7h4.6l-2.3-4z"/><path d="M647.9,1950.2h4.6l-2.3-4z"/><path d="M667.1,1958.6h4.6l-2.3-4z"/><path d="M638.3,1837.8h4.6l-2.3-4z"/><path d="M634.5,1966.2h4.6l-2.3-4z"/><path d="M630.8,1922.1h4.6l-2.3-4z"/><path d="M618.5,1872.0h4.6l-2.3-4z"/><path d="M658.6,1953.3h4.6l-2.3-4z"/><path d="M629.4,1904.2h4.6l-2.3-4z"/><path d="M677.0,1960.3h4.6l-2.3-4z"/><path d="M617.8,1987.5h4.6l-2.3-4z"/><path d="M642.8,1935.8h4.6l-2.3-4z"/><path d="M629.3,1910.7h4.6l-2.3-4z"/><path d="M678.5,2007.7h4.6l-2.3-4z"/><path d="M677.9,1951.8h4.6l-2.3-4z"/><path d="M663.0,1865.4h4.6l-2.3-4z"/><path d="M660.4,1985.5h4.6l-2.3-4z"/><path d="M657.3,2014.1h4.6l-2.3-4z"/><path d="M658.8,1975.7h4.6l-2.3-4z"/><path d="M638.3,1909.7h4.6l-2.3-4z"/><path d="M663.4,1934.1h4.6l-2.3-4z"/><path d="M665.2,1972.2h4.6l-2.3-4z"/><path d="M646.1,1884.6h4.6l-2.3-4z"/><path d="M676.3,1859.8h4.6l-2.3-4z"/><path d="M625.7,1983.5h4.6l-2.3-4z"/><path d="M639.1,1921.4h4.6l-2.3-4z"/><path d="M640.2,1942.3h4.6l-2.3-4z"/><path d="M627.5,1981.9h4.6l-2.3-4z"/><path d="M670.5,1978.8h4.6l-2.3-4z"/><path d="M623.7,1990.9h4.6l-2.3-4z"/><path d="M657.7,1991.7h4.6l-2.3-4z"/><path d="M648.0,1948.4h4.6l-2.3-4z"/><path d="M635.9,1939.7h4.6l-2.3-4z"/><path d="M686.8,1978.4h4.6l-2.3-4z"/><path d="M657.1,1988.4h4.6l-2.3-4z"/><path d="M671.4,1912.6h4.6l-2.3-4z"/><path d="M658.2,1971.4h4.6l-2.3-4z"/><path d="M627.9,2011.4h4.6l-2.3-4z"/><path d="M627.9,2016.3h4.6l-2.3-4z"/><path d="M657.8,2029.0h4.6l-2.3-4z"/><path d="M620.9,1973.9h4.6l-2.3-4z"/><path d="M645.1,1932.1h4.6l-2.3-4z"/><path d="M661.3,1881.4h4.6l-2.3-4z"/><path d="M658.1,1828.9h4.6l-2.3-4z"/><path d="M675.0,2013.3h4.6l-2.3-4z"/><path d="M675.7,1983.6h4.6l-2.3-4z"/><path d="M638.0,1884.2h4.6l-2.3-4z"/><path d="M670.6,2012.0h4.6l-2.3-4z"/><path d="M652.1,1819.3h4.6l-2.3-4z"/><path d="M641.8,1918.2h4.6l-2.3-4z"/><path d="M668.7,1923.3h4.6l-2.3-4z"/><path d="M658.2,1966.8h4.6l-2.3-4z"/><path d="M676.5,1901.0h4.6l-2.3-4z"/><path d="M642.0,1946.8h4.6l-2.3-4z"/><path d="M683.1,1994.4h4.6l-2.3-4z"/><path d="M664.6,1961.2h4.6l-2.3-4z"/><path d="M639.1,1901.5h4.6l-2.3-4z"/><path d="M628.1,1880.2h4.6l-2.3-4z"/><path d="M664.5,2012.3h4.6l-2.3-4z"/><path d="M665.7,1820.8h4.6l-2.3-4z"/><path d="M677.5,1936.6h4.6l-2.3-4z"/><path d="M672.8,1933.8h4.6l-2.3-4z"/><path d="M620.3,2012.6h4.6l-2.3-4z"/><path d="M641.2,1961.4h4.6l-2.3-4z"/><path d="M680.2,1979.8h4.6l-2.3-4z"/><path d="M659.0,1986.8h4.6l-2.3-4z"/><path d="M653.0,1956.9h4.6l-2.3-4z"/><path d="M657.1,1990.3h4.6l-2.3-4z"/><path d="M644.8,1888.5h4.6l-2.3-4z"/><path d="M671.6,1984.9h4.6l-2.3-4z"/><path d="M684.0,1663.6h4.6l-2.3-4z"/><path d="M646.9,1995.0h4.6l-2.3-4z"/><path d="M646.1,1957.9h4.6l-2.3-4z"/><path d="M678.4,1901.0h4.6l-2.3-4z"/><path d="M621.1,2001.5h4.6l-2.3-4z"/><path d="M664.0,1981.9h4.6l-2.3-4z"/><path d="M622.0,1993.4h4.6l-2.3-4z"/><path d="M655.2,2006.2h4.6l-2.3-4z"/><path d="M646.3,1948.4h4.6l-2.3-4z"/><path d="M668.9,1791.2h4.6l-2.3-4z"/><path d="M661.2,1841.0h4.6l-2.3-4z"/><path d="M686.4,1932.0h4.6l-2.3-4z"/><path d="M628.6,1969.5h4.6l-2.3-4z"/><path d="M627.9,1944.3h4.6l-2.3-4z"/><path d="M624.2,1961.3h4.6l-2.3-4z"/><path d="M671.0,1981.1h4.6l-2.3-4z"/><path d="M663.6,1881.3h4.6l-2.3-4z"/><path d="M687.2,1902.3h4.6l-2.3-4z"/><path d="M661.4,2028.2h4.6l-2.3-4z"/><path d="M631.1,1923.0h4.6l-2.3-4z"/><path d="M660.4,1674.3h4.6l-2.3-4z"/><path d="M636.7,1948.8h4.6l-2.3-4z"/><path d="M643.7,1913.0h4.6l-2.3-4z"/><path d="M681.8,1948.1h4.6l-2.3-4z"/><path d="M626.7,1899.1h4.6l-2.3-4z"/><path d="M658.6,1915.5h4.6l-2.3-4z"/><path d="M623.8,1873.5h4.6l-2.3-4z"/><path d="M682.9,1886.7h4.6l-2.3-4z"/><path d="M624.5,1932.9h4.6l-2.3-4z"/><path d="M659.1,1967.3h4.6l-2.3-4z"/><path d="M661.9,1937.0h4.6l-2.3-4z"/><path d="M651.1,1951.2h4.6l-2.3-4z"/><path d="M637.1,1936.8h4.6l-2.3-4z"/><path d="M635.6,1991.3h4.6l-2.3-4z"/><path d="M653.8,1980.8h4.6l-2.3-4z"/><path d="M625.1,1966.0h4.6l-2.3-4z"/><path d="M634.8,1913.4h4.6l-2.3-4z"/><path d="M681.2,1830.8h4.6l-2.3-4z"/><path d="M642.6,1971.4h4.6l-2.3-4z"/><path d="M629.2,2002.3h4.6l-2.3-4z"/><path d="M631.2,1963.5h4.6l-2.3-4z"/><path d="M667.9,1963.5h4.6l-2.3-4z"/><path d="M665.4,1920.9h4.6l-2.3-4z"/><path d="M634.9,2007.2h4.6l-2.3-4z"/><path d="M648.4,1771.5h4.6l-2.3-4z"/><path d="M618.1,1738.3h4.6l-2.3-4z"/><path d="M627.4,2021.0h4.6l-2.3-4z"/><path d="M681.6,1794.0h4.6l-2.3-4z"/><path d="M676.8,1933.8h4.6l-2.3-4z"/><path d="M685.3,1908.5h4.6l-2.3-4z"/><path d="M620.6,1956.3h4.6l-2.3-4z"/><path d="M671.8,1854.7h4.6l-2.3-4z"/><path d="M621.7,2016.1h4.6l-2.3-4z"/><path d="M652.0,2016.8h4.6l-2.3-4z"/><path d="M682.8,1989.3h4.6l-2.3-4z"/><path d="M654.8,1898.8h4.6l-2.3-4z"/><path d="M661.6,2007.7h4.6l-2.3-4z"/><path d="M672.0,2006.2h4.6l-2.3-4z"/><path d="M661.2,1999.8h4.6l-2.3-4z"/><path d="M624.1,2026.4h4.6l-2.3-4z"/><path d="M647.6,1900.8h4.6l-2.3-4z"/><path d="M675.2,1851.5h4.6l-2.3-4z"/><path d="M634.3,1919.9h4.6l-2.3-4z"/><path d="M646.1,1963.4h4.6l-2.3-4z"/><path d="M645.2,1920.2h4.6l-2.3-4z"/><path d="M632.3,1804.4h4.6l-2.3-4z"/><path d="M625.4,1996.0h4.6l-2.3-4z"/><path d="M670.8,1943.9h4.6l-2.3-4z"/><path d="M675.3,1907.8h4.6l-2.3-4z"/><path d="M650.3,1690.2h4.6l-2.3-4z"/><path d="M675.4,1957.2h4.6l-2.3-4z"/><path d="M655.9,2017.2h4.6l-2.3-4z"/><path d="M638.6,1711.5h4.6l-2.3-4z"/><path d="M617.9,1964.7h4.6l-2.3-4z"/><path d="M657.5,1851.4h4.6l-2.3-4z"/><path d="M643.1,1753.3h4.6l-2.3-4z"/><path d="M627.7,1943.9h4.6l-2.3-4z"/><path d="M635.0,1973.3h4.6l-2.3-4z"/><path d="M645.5,1997.7h4.6l-2.3-4z"/><path d="M629.2,1897.6h4.6l-2.3-4z"/><path d="M650.8,1981.4h4.6l-2.3-4z"/><path d="M687.3,1862.2h4.6l-2.3-4z"/><path d="M636.7,2009.5h4.6l-2.3-4z"/><path d="M650.7,1989.8h4.6l-2.3-4z"/><path d="M639.9,1687.4h4.6l-2.3-4z"/><path d="M657.5,1972.5h4.6l-2.3-4z"/><path d="M641.3,1843.6h4.6l-2.3-4z"/><path d="M646.4,1956.7h4.6l-2.3-4z"/><path d="M630.1,1776.9h4.6l-2.3-4z"/><path d="M655.6,1843.2h4.6l-2.3-4z"/><path d="M654.2,1915.0h4.6l-2.3-4z"/><path d="M668.8,1884.4h4.6l-2.3-4z"/><path d="M634.2,1892.0h4.6l-2.3-4z"/><path d="M686.7,1894.3h4.6l-2.3-4z"/><path d="M645.5,2025.1h4.6l-2.3-4z"/><path d="M672.8,2011.5h4.6l-2.3-4z"/><path d="M665.0,2011.7h4.6l-2.3-4z"/><path d="M634.1,2018.1h4.6l-2.3-4z"/><path d="M679.0,1980.7h4.6l-2.3-4z"/><path d="M668.0,1853.4h4.6l-2.3-4z"/><path d="M631.1,2002.6h4.6l-2.3-4z"/><path d="M655.8,1627.9h4.6l-2.3-4z"/><path d="M631.0,1793.4h4.6l-2.3-4z"/><path d="M658.7,1961.9h4.6l-2.3-4z"/><path d="M674.0,1971.9h4.6l-2.3-4z"/><path d="M640.8,1917.0h4.6l-2.3-4z"/><path d="M677.1,1889.7h4.6l-2.3-4z"/><path d="M627.2,1926.8h4.6l-2.3-4z"/><path d="M627.4,1948.8h4.6l-2.3-4z"/><path d="M675.8,1916.4h4.6l-2.3-4z"/><path d="M647.5,1826.8h4.6l-2.3-4z"/><path d="M637.3,1958.7h4.6l-2.3-4z"/><path d="M624.8,2022.9h4.6l-2.3-4z"/><path d="M618.9,1912.0h4.6l-2.3-4z"/><path d="M628.0,1953.2h4.6l-2.3-4z"/><path d="M640.2,1685.1h4.6l-2.3-4z"/><path d="M683.7,1986.2h4.6l-2.3-4z"/><path d="M670.4,1866.9h4.6l-2.3-4z"/><path d="M623.7,1980.6h4.6l-2.3-4z"/><path d="M624.2,1946.7h4.6l-2.3-4z"/><path d="M644.3,1939.2h4.6l-2.3-4z"/><path d="M641.3,2018.2h4.6l-2.3-4z"/><path d="M663.7,1976.4h4.6l-2.3-4z"/><path d="M631.2,2034.0h4.6l-2.3-4z"/><path d="M647.9,1837.8h4.6l-2.3-4z"/><path d="M685.4,1958.5h4.6l-2.3-4z"/><path d="M662.2,1950.6h4.6l-2.3-4z"/><path d="M635.4,1956.9h4.6l-2.3-4z"/><path d="M667.5,1910.0h4.6l-2.3-4z"/><path d="M627.9,1948.6h4.6l-2.3-4z"/><path d="M685.7,2008.5h4.6l-2.3-4z"/><path d="M674.3,1932.9h4.6l-2.3-4z"/><path d="M636.2,1925.0h4.6l-2.3-4z"/><path d="M672.5,1894.9h4.6l-2.3-4z"/><path d="M633.2,2001.8h4.6l-2.3-4z"/><path d="M629.3,1886.3h4.6l-2.3-4z"/><path d="M656.9,2010.4h4.6l-2.3-4z"/><path d="M618.0,1930.2h4.6l-2.3-4z"/><path d="M649.3,1819.4h4.6l-2.3-4z"/><path d="M640.1,1758.1h4.6l-2.3-4z"/><path d="M648.9,1758.2h4.6l-2.3-4z"/><path d="M675.0,2013.5h4.6l-2.3-4z"/><path d="M617.8,1734.2h4.6l-2.3-4z"/><path d="M618.9,1787.0h4.6l-2.3-4z"/><path d="M622.9,1899.9h4.6l-2.3-4z"/><path d="M650.3,1939.4h4.6l-2.3-4z"/><path d="M660.1,1920.1h4.6l-2.3-4z"/><path d="M647.8,1875.4h4.6l-2.3-4z"/><path d="M648.2,1913.4h4.6l-2.3-4z"/><path d="M635.0,1923.8h4.6l-2.3-4z"/><path d="M649.2,1980.2h4.6l-2.3-4z"/><path d="M651.4,1958.5h4.6l-2.3-4z"/><path d="M673.9,1927.7h4.6l-2.3-4z"/><path d="M671.3,1929.2h4.6l-2.3-4z"/><path d="M645.6,1811.5h4.6l-2.3-4z"/><path d="M687.2,1907.7h4.6l-2.3-4z"/><path d="M681.9,1926.2h4.6l-2.3-4z"/><path d="M671.1,1845.3h4.6l-2.3-4z"/><path d="M639.9,2015.7h4.6l-2.3-4z"/><path d="M651.9,1922.1h4.6l-2.3-4z"/><path d="M676.6,1945.3h4.6l-2.3-4z"/><path d="M669.1,1737.7h4.6l-2.3-4z"/><path d="M628.0,1982.9h4.6l-2.3-4z"/><path d="M682.3,1939.7h4.6l-2.3-4z"/><path d="M672.3,1922.4h4.6l-2.3-4z"/><path d="M674.4,1920.2h4.6l-2.3-4z"/><path d="M634.3,1911.9h4.6l-2.3-4z"/><path d="M644.7,2001.9h4.6l-2.3-4z"/><path d="M673.2,1836.3h4.6l-2.3-4z"/><path d="M626.2,1859.5h4.6l-2.3-4z"/><path d="M655.8,1810.3h4.6l-2.3-4z"/><path d="M677.6,1949.5h4.6l-2.3-4z"/><path d="M661.0,1915.0h4.6l-2.3-4z"/><path d="M683.5,1974.9h4.6l-2.3-4z"/><path d="M637.8,2022.9h4.6l-2.3-4z"/><path d="M643.0,1880.4h4.6l-2.3-4z"/><path d="M638.7,1968.3h4.6l-2.3-4z"/><path d="M641.3,1920.1h4.6l-2.3-4z"/><path d="M626.2,1791.4h4.6l-2.3-4z"/><path d="M641.5,1995.5h4.6l-2.3-4z"/><path d="M624.2,1993.5h4.6l-2.3-4z"/><path d="M631.2,1713.9h4.6l-2.3-4z"/><path d="M677.4,1936.7h4.6l-2.3-4z"/><path d="M656.1,1925.5h4.6l-2.3-4z"/><path d="M645.0,1967.6h4.6l-2.3-4z"/><path d="M667.8,1955.7h4.6l-2.3-4z"/><path d="M657.9,1975.5h4.6l-2.3-4z"/><path d="M652.7,1887.0h4.6l-2.3-4z"/><path d="M642.0,1993.2h4.6l-2.3-4z"/><path d="M622.6,1898.4h4.6l-2.3-4z"/><path d="M618.0,2016.3h4.6l-2.3-4z"/><path d="M624.6,1905.1h4.6l-2.3-4z"/><path d="M643.2,1864.0h4.6l-2.3-4z"/><path d="M677.9,1880.1h4.6l-2.3-4z"/><path d="M618.6,1989.9h4.6l-2.3-4z"/><path d="M621.8,1962.4h4.6l-2.3-4z"/><path d="M639.9,1924.8h4.6l-2.3-4z"/><path d="M680.0,1980.6h4.6l-2.3-4z"/><path d="M678.9,1946.2h4.6l-2.3-4z"/><path d="M673.5,1957.1h4.6l-2.3-4z"/><path d="M661.7,1807.6h4.6l-2.3-4z"/><path d="M657.0,1858.5h4.6l-2.3-4z"/><path d="M624.7,2021.3h4.6l-2.3-4z"/><path d="M642.6,2010.0h4.6l-2.3-4z"/><path d="M673.0,1929.2h4.6l-2.3-4z"/><path d="M653.2,1866.3h4.6l-2.3-4z"/><path d="M681.0,2011.1h4.6l-2.3-4z"/><path d="M681.2,1850.9h4.6l-2.3-4z"/><path d="M665.7,1929.8h4.6l-2.3-4z"/><path d="M685.1,1944.3h4.6l-2.3-4z"/><path d="M640.6,1963.3h4.6l-2.3-4z"/><path d="M618.7,2006.7h4.6l-2.3-4z"/><path d="M675.4,1928.0h4.6l-2.3-4z"/><path d="M668.5,1855.3h4.6l-2.3-4z"/><path d="M651.1,1868.5h4.6l-2.3-4z"/><path d="M658.2,1933.8h4.6l-2.3-4z"/><path d="M681.4,1928.1h4.6l-2.3-4z"/><path d="M617.7,1927.3h4.6l-2.3-4z"/><path d="M665.7,1778.9h4.6l-2.3-4z"/><path d="M657.3,2031.5h4.6l-2.3-4z"/><path d="M637.3,2001.4h4.6l-2.3-4z"/><path d="M651.3,1947.8h4.6l-2.3-4z"/><path d="M632.2,2000.9h4.6l-2.3-4z"/><path d="M672.7,1945.5h4.6l-2.3-4z"/><path d="M658.5,1854.3h4.6l-2.3-4z"/><path d="M679.9,1960.1h4.6l-2.3-4z"/><path d="M652.7,1985.4h4.6l-2.3-4z"/><path d="M631.9,1983.2h4.6l-2.3-4z"/><path d="M652.4,1960.3h4.6l-2.3-4z"/><path d="M682.9,1870.3h4.6l-2.3-4z"/><path d="M661.9,1918.2h4.6l-2.3-4z"/><path d="M642.6,1976.7h4.6l-2.3-4z"/><path d="M653.8,1974.5h4.6l-2.3-4z"/><path d="M643.8,2006.8h4.6l-2.3-4z"/><path d="M677.6,2002.0h4.6l-2.3-4z"/><path d="M654.1,2030.2h4.6l-2.3-4z"/><path d="M658.0,1806.4h4.6l-2.3-4z"/><path d="M631.0,1713.9h4.6l-2.3-4z"/><path d="M645.0,1994.2h4.6l-2.3-4z"/><path d="M679.5,1973.9h4.6l-2.3-4z"/><path d="M640.7,1941.0h4.6l-2.3-4z"/><path d="M618.5,1994.3h4.6l-2.3-4z"/><path d="M672.2,1952.1h4.6l-2.3-4z"/><path d="M648.9,1687.4h4.6l-2.3-4z"/><path d="M632.2,1965.9h4.6l-2.3-4z"/><path d="M621.7,1952.6h4.6l-2.3-4z"/><path d="M634.8,2027.3h4.6l-2.3-4z"/><path d="M686.9,1973.1h4.6l-2.3-4z"/><path d="M677.6,1964.5h4.6l-2.3-4z"/><path d="M643.3,2015.7h4.6l-2.3-4z"/><path d="M621.5,1993.3h4.6l-2.3-4z"/><path d="M638.0,1987.4h4.6l-2.3-4z"/><path d="M650.9,1930.3h4.6l-2.3-4z"/><path d="M658.7,1938.2h4.6l-2.3-4z"/><path d="M672.5,2019.0h4.6l-2.3-4z"/><path d="M644.1,1973.0h4.6l-2.3-4z"/><path d="M674.7,2019.9h4.6l-2.3-4z"/><path d="M657.2,2008.2h4.6l-2.3-4z"/><path d="M648.8,1649.4h4.6l-2.3-4z"/><path d="M639.5,1892.5h4.6l-2.3-4z"/><path d="M658.4,1982.6h4.6l-2.3-4z"/><path d="M626.1,1959.6h4.6l-2.3-4z"/><path d="M666.7,1944.3h4.6l-2.3-4z"/><path d="M639.0,1961.9h4.6l-2.3-4z"/><path d="M661.3,1992.0h4.6l-2.3-4z"/><path d="M656.8,1661.1h4.6l-2.3-4z"/><path d="M642.5,1928.7h4.6l-2.3-4z"/><path d="M663.8,1968.1h4.6l-2.3-4z"/><path d="M682.6,1957.0h4.6l-2.3-4z"/><path d="M620.0,1961.1h4.6l-2.3-4z"/><path d="M635.7,1794.7h4.6l-2.3-4z"/><path d="M678.6,1875.5h4.6l-2.3-4z"/><path d="M657.7,1726.1h4.6l-2.3-4z"/><path d="M674.2,1940.2h4.6l-2.3-4z"/><path d="M642.2,1972.8h4.6l-2.3-4z"/><path d="M627.2,2004.2h4.6l-2.3-4z"/><path d="M626.0,1849.8h4.6l-2.3-4z"/><path d="M636.8,1988.8h4.6l-2.3-4z"/><path d="M672.1,2013.0h4.6l-2.3-4z"/><path d="M626.0,2008.5h4.6l-2.3-4z"/><path d="M684.9,1798.6h4.6l-2.3-4z"/><path d="M636.5,1981.8h4.6l-2.3-4z"/><path d="M678.6,1968.5h4.6l-2.3-4z"/><path d="M642.2,1989.4h4.6l-2.3-4z"/><path d="M619.6,1889.1h4.6l-2.3-4z"/><path d="M673.0,1723.8h4.6l-2.3-4z"/><path d="M652.2,1993.4h4.6l-2.3-4z"/><path d="M658.2,1920.0h4.6l-2.3-4z"/><path d="M639.1,1956.0h4.6l-2.3-4z"/><path d="M669.3,1759.8h4.6l-2.3-4z"/><path d="M619.4,1987.3h4.6l-2.3-4z"/><path d="M669.3,2003.8h4.6l-2.3-4z"/><path d="M619.3,1913.9h4.6l-2.3-4z"/><path d="M662.1,1959.6h4.6l-2.3-4z"/><path d="M659.5,1762.0h4.6l-2.3-4z"/><path d="M664.9,1985.3h4.6l-2.3-4z"/><path d="M637.4,1766.4h4.6l-2.3-4z"/><path d="M675.8,2003.3h4.6l-2.3-4z"/><path d="M662.7,1889.5h4.6l-2.3-4z"/><path d="M649.6,1918.1h4.6l-2.3-4z"/><path d="M651.4,1948.9h4.6l-2.3-4z"/><path d="M637.0,1939.6h4.6l-2.3-4z"/><path d="M650.2,1961.9h4.6l-2.3-4z"/><path d="M672.8,1972.0h4.6l-2.3-4z"/><path d="M661.3,2016.8h4.6l-2.3-4z"/><path d="M685.9,2008.9h4.6l-2.3-4z"/><path d="M682.9,1977.8h4.6l-2.3-4z"/><path d="M630.1,1956.2h4.6l-2.3-4z"/><path d="M645.1,2008.5h4.6l-2.3-4z"/><path d="M639.4,1652.5h4.6l-2.3-4z"/><path d="M687.2,1943.7h4.6l-2.3-4z"/><path d="M684.4,1965.0h4.6l-2.3-4z"/><path d="M678.0,1907.8h4.6l-2.3-4z"/><path d="M623.6,1959.4h4.6l-2.3-4z"/><path d="M620.5,1988.3h4.6l-2.3-4z"/><path d="M620.6,1963.9h4.6l-2.3-4z"/><path d="M666.5,1871.3h4.6l-2.3-4z"/><path d="M631.7,1963.9h4.6l-2.3-4z"/><path d="M676.7,1886.1h4.6l-2.3-4z"/><path d="M620.9,1992.1h4.6l-2.3-4z"/><path d="M618.7,1921.4h4.6l-2.3-4z"/><path d="M644.5,1998.1h4.6l-2.3-4z"/><path d="M660.5,1853.2h4.6l-2.3-4z"/><path d="M637.9,1865.6h4.6l-2.3-4z"/><path d="M653.9,2014.8h4.6l-2.3-4z"/><path d="M668.1,1866.9h4.6l-2.3-4z"/><path d="M656.4,1863.3h4.6l-2.3-4z"/><path d="M632.7,1818.0h4.6l-2.3-4z"/><path d="M684.2,1958.5h4.6l-2.3-4z"/><path d="M666.6,1932.9h4.6l-2.3-4z"/><path d="M648.0,1826.5h4.6l-2.3-4z"/><path d="M678.8,1929.2h4.6l-2.3-4z"/><path d="M674.9,1769.9h4.6l-2.3-4z"/><path d="M644.1,1979.9h4.6l-2.3-4z"/><path d="M663.9,1910.1h4.6l-2.3-4z"/><path d="M677.4,1861.1h4.6l-2.3-4z"/><path d="M626.2,1925.0h4.6l-2.3-4z"/><path d="M629.5,1956.5h4.6l-2.3-4z"/><path d="M620.9,1828.5h4.6l-2.3-4z"/><path d="M677.6,1987.3h4.6l-2.3-4z"/><path d="M624.1,2022.6h4.6l-2.3-4z"/><path d="M678.9,1904.7h4.6l-2.3-4z"/><path d="M621.1,2013.5h4.6l-2.3-4z"/><path d="M680.0,1777.2h4.6l-2.3-4z"/><path d="M648.0,1945.0h4.6l-2.3-4z"/><path d="M659.4,1827.0h4.6l-2.3-4z"/><path d="M659.9,1940.3h4.6l-2.3-4z"/><path d="M659.7,1794.4h4.6l-2.3-4z"/><path d="M622.7,1997.9h4.6l-2.3-4z"/><path d="M627.7,1685.9h4.6l-2.3-4z"/><path d="M644.8,2031.5h4.6l-2.3-4z"/><path d="M633.1,1978.9h4.6l-2.3-4z"/><path d="M673.8,1613.9h4.6l-2.3-4z"/><path d="M664.4,1840.4h4.6l-2.3-4z"/><path d="M630.0,1956.2h4.6l-2.3-4z"/><path d="M664.4,1945.9h4.6l-2.3-4z"/><path d="M657.2,2012.7h4.6l-2.3-4z"/><path d="M637.2,1953.8h4.6l-2.3-4z"/><path d="M667.6,2001.7h4.6l-2.3-4z"/><path d="M619.9,1753.9h4.6l-2.3-4z"/><path d="M685.1,1922.6h4.6l-2.3-4z"/><path d="M634.8,1805.7h4.6l-2.3-4z"/><path d="M643.5,2013.0h4.6l-2.3-4z"/><path d="M656.7,1999.4h4.6l-2.3-4z"/><path d="M687.4,1982.1h4.6l-2.3-4z"/><path d="M642.8,1953.8h4.6l-2.3-4z"/><path d="M670.8,1947.9h4.6l-2.3-4z"/><path d="M665.7,1882.8h4.6l-2.3-4z"/><path d="M666.2,1921.2h4.6l-2.3-4z"/><path d="M643.2,1996.7h4.6l-2.3-4z"/><path d="M622.6,1942.8h4.6l-2.3-4z"/><path d="M629.7,1764.6h4.6l-2.3-4z"/><path d="M659.1,2006.8h4.6l-2.3-4z"/><path d="M624.2,1944.9h4.6l-2.3-4z"/><path d="M655.0,1712.0h4.6l-2.3-4z"/><path d="M664.8,1832.5h4.6l-2.3-4z"/><path d="M632.8,1786.8h4.6l-2.3-4z"/><path d="M632.5,1970.0h4.6l-2.3-4z"/><path d="M665.6,1884.9h4.6l-2.3-4z"/><path d="M661.5,1971.3h4.6l-2.3-4z"/><path d="M666.6,1956.1h4.6l-2.3-4z"/><path d="M619.1,1982.4h4.6l-2.3-4z"/><path d="M660.8,1891.8h4.6l-2.3-4z"/><path d="M642.3,1824.1h4.6l-2.3-4z"/><path d="M659.1,1912.2h4.6l-2.3-4z"/><path d="M639.9,1988.3h4.6l-2.3-4z"/><path d="M657.9,2021.3h4.6l-2.3-4z"/><path d="M633.2,1997.8h4.6l-2.3-4z"/><path d="M662.2,1934.9h4.6l-2.3-4z"/><path d="M662.5,1807.2h4.6l-2.3-4z"/><path d="M675.4,1930.7h4.6l-2.3-4z"/><path d="M658.5,1941.6h4.6l-2.3-4z"/><path d="M649.0,1989.0h4.6l-2.3-4z"/><path d="M681.1,1807.3h4.6l-2.3-4z"/><path d="M678.8,1979.4h4.6l-2.3-4z"/><path d="M651.5,1990.5h4.6l-2.3-4z"/><path d="M678.1,1876.6h4.6l-2.3-4z"/><path d="M620.9,2022.0h4.6l-2.3-4z"/><path d="M651.3,1953.3h4.6l-2.3-4z"/><path d="M661.4,1898.2h4.6l-2.3-4z"/><path d="M628.2,2010.3h4.6l-2.3-4z"/><path d="M679.2,1990.6h4.6l-2.3-4z"/><path d="M667.3,1937.7h4.6l-2.3-4z"/><path d="M650.8,1868.3h4.6l-2.3-4z"/><path d="M635.4,1632.8h4.6l-2.3-4z"/><path d="M659.5,2012.4h4.6l-2.3-4z"/><path d="M677.4,1876.6h4.6l-2.3-4z"/><path d="M625.8,1961.1h4.6l-2.3-4z"/><path d="M682.7,1895.1h4.6l-2.3-4z"/><path d="M663.7,2013.3h4.6l-2.3-4z"/><path d="M637.7,1974.8h4.6l-2.3-4z"/><path d="M668.3,1885.4h4.6l-2.3-4z"/><path d="M677.6,1640.4h4.6l-2.3-4z"/><path d="M647.3,2002.3h4.6l-2.3-4z"/><path d="M639.2,1884.8h4.6l-2.3-4z"/><path d="M648.4,1994.9h4.6l-2.3-4z"/><path d="M664.6,1991.5h4.6l-2.3-4z"/><path d="M667.3,1896.6h4.6l-2.3-4z"/><path d="M644.4,1991.7h4.6l-2.3-4z"/><path d="M648.9,1990.8h4.6l-2.3-4z"/><path d="M634.2,1848.4h4.6l-2.3-4z"/><path d="M661.6,1983.5h4.6l-2.3-4z"/><path d="M681.8,2016.7h4.6l-2.3-4z"/><path d="M633.0,1978.8h4.6l-2.3-4z"/><path d="M670.3,1899.6h4.6l-2.3-4z"/><path d="M684.5,1948.8h4.6l-2.3-4z"/><path d="M670.2,1889.0h4.6l-2.3-4z"/><path d="M639.9,1902.0h4.6l-2.3-4z"/><path d="M663.1,1802.7h4.6l-2.3-4z"/><path d="M642.2,1889.2h4.6l-2.3-4z"/><path d="M619.4,1897.4h4.6l-2.3-4z"/><path d="M668.2,2035.4h4.6l-2.3-4z"/><path d="M645.3,1932.9h4.6l-2.3-4z"/><path d="M677.6,2008.2h4.6l-2.3-4z"/><path d="M686.0,1847.7h4.6l-2.3-4z"/><path d="M669.3,1913.4h4.6l-2.3-4z"/><path d="M651.2,1907.9h4.6l-2.3-4z"/><path d="M628.2,1951.6h4.6l-2.3-4z"/><path d="M659.5,1925.2h4.6l-2.3-4z"/><path d="M679.8,1849.6h4.6l-2.3-4z"/><path d="M667.0,1997.8h4.6l-2.3-4z"/><path d="M676.2,1977.4h4.6l-2.3-4z"/><path d="M665.8,1823.7h4.6l-2.3-4z"/><path d="M680.7,1981.5h4.6l-2.3-4z"/><path d="M686.8,1915.8h4.6l-2.3-4z"/><path d="M658.4,1736.0h4.6l-2.3-4z"/><path d="M622.6,1977.2h4.6l-2.3-4z"/><path d="M639.2,1791.7h4.6l-2.3-4z"/><path d="M670.7,2020.0h4.6l-2.3-4z"/><path d="M624.1,2003.4h4.6l-2.3-4z"/><path d="M643.7,1958.3h4.6l-2.3-4z"/><path d="M669.2,1957.5h4.6l-2.3-4z"/><path d="M660.2,1966.7h4.6l-2.3-4z"/><path d="M651.2,2005.6h4.6l-2.3-4z"/><path d="M661.2,1925.3h4.6l-2.3-4z"/><path d="M662.6,1967.8h4.6l-2.3-4z"/><path d="M619.2,2006.6h4.6l-2.3-4z"/><path d="M662.0,2002.1h4.6l-2.3-4z"/><path d="M639.1,1937.5h4.6l-2.3-4z"/><path d="M682.0,1943.4h4.6l-2.3-4z"/><path d="M629.8,1921.1h4.6l-2.3-4z"/><path d="M658.3,1993.8h4.6l-2.3-4z"/><path d="M633.4,1939.0h4.6l-2.3-4z"/><path d="M681.9,1645.4h4.6l-2.3-4z"/><path d="M683.1,1990.0h4.6l-2.3-4z"/><path d="M651.4,1797.6h4.6l-2.3-4z"/><path d="M620.9,1759.3h4.6l-2.3-4z"/><path d="M620.8,2028.0h4.6l-2.3-4z"/><path d="M657.4,2026.3h4.6l-2.3-4z"/><path d="M676.4,1943.4h4.6l-2.3-4z"/><path d="M654.5,1974.2h4.6l-2.3-4z"/><path d="M651.9,1749.4h4.6l-2.3-4z"/><path d="M632.8,1974.6h4.6l-2.3-4z"/><path d="M680.8,1996.2h4.6l-2.3-4z"/><path d="M637.4,1989.4h4.6l-2.3-4z"/><path d="M621.1,2004.4h4.6l-2.3-4z"/><path d="M675.8,1998.8h4.6l-2.3-4z"/><path d="M682.7,1922.3h4.6l-2.3-4z"/><path d="M665.0,1951.0h4.6l-2.3-4z"/><path d="M683.2,1911.3h4.6l-2.3-4z"/><path d="M629.4,1909.3h4.6l-2.3-4z"/><path d="M677.1,1976.3h4.6l-2.3-4z"/><path d="M685.4,1818.1h4.6l-2.3-4z"/><path d="M678.8,1613.6h4.6l-2.3-4z"/><path d="M672.4,1985.0h4.6l-2.3-4z"/><path d="M734.9,1931.2h4.6l-2.3-4z"/><path d="M733.5,1940.2h4.6l-2.3-4z"/><path d="M710.7,1863.2h4.6l-2.3-4z"/><path d="M713.3,1996.9h4.6l-2.3-4z"/><path d="M742.9,1856.2h4.6l-2.3-4z"/><path d="M735.3,1657.1h4.6l-2.3-4z"/><path d="M708.9,1994.4h4.6l-2.3-4z"/><path d="M693.1,1887.2h4.6l-2.3-4z"/><path d="M730.0,1849.2h4.6l-2.3-4z"/><path d="M742.7,1895.5h4.6l-2.3-4z"/><path d="M738.2,1796.2h4.6l-2.3-4z"/><path d="M719.6,1951.9h4.6l-2.3-4z"/><path d="M709.8,1972.9h4.6l-2.3-4z"/><path d="M691.5,1959.5h4.6l-2.3-4z"/><path d="M708.7,2013.9h4.6l-2.3-4z"/><path d="M711.6,1978.3h4.6l-2.3-4z"/><path d="M718.3,1961.7h4.6l-2.3-4z"/><path d="M738.9,1915.9h4.6l-2.3-4z"/><path d="M729.6,1953.0h4.6l-2.3-4z"/><path d="M728.5,2010.6h4.6l-2.3-4z"/><path d="M702.8,1627.4h4.6l-2.3-4z"/><path d="M691.2,1985.6h4.6l-2.3-4z"/><path d="M689.9,1768.8h4.6l-2.3-4z"/><path d="M741.1,1731.7h4.6l-2.3-4z"/><path d="M713.0,1948.5h4.6l-2.3-4z"/><path d="M710.4,1965.5h4.6l-2.3-4z"/><path d="M733.9,1893.6h4.6l-2.3-4z"/><path d="M715.7,1939.3h4.6l-2.3-4z"/><path d="M727.5,1978.3h4.6l-2.3-4z"/><path d="M729.7,1761.8h4.6l-2.3-4z"/><path d="M692.7,1958.3h4.6l-2.3-4z"/><path d="M743.7,1657.3h4.6l-2.3-4z"/><path d="M691.2,1999.2h4.6l-2.3-4z"/><path d="M719.6,1742.8h4.6l-2.3-4z"/><path d="M728.2,1847.9h4.6l-2.3-4z"/><path d="M739.1,1881.3h4.6l-2.3-4z"/><path d="M743.7,1906.8h4.6l-2.3-4z"/><path d="M728.4,1851.4h4.6l-2.3-4z"/><path d="M745.0,1972.2h4.6l-2.3-4z"/><path d="M740.8,1710.6h4.6l-2.3-4z"/><path d="M717.9,1920.5h4.6l-2.3-4z"/><path d="M703.8,1988.4h4.6l-2.3-4z"/><path d="M738.9,1802.0h4.6l-2.3-4z"/><path d="M729.0,2011.9h4.6l-2.3-4z"/><path d="M714.5,1963.9h4.6l-2.3-4z"/><path d="M713.6,1923.9h4.6l-2.3-4z"/><path d="M745.5,1970.0h4.6l-2.3-4z"/><path d="M728.9,1877.0h4.6l-2.3-4z"/><path d="M745.9,1985.8h4.6l-2.3-4z"/><path d="M689.5,1846.2h4.6l-2.3-4z"/><path d="M705.1,1751.7h4.6l-2.3-4z"/><path d="M717.4,1850.9h4.6l-2.3-4z"/><path d="M718.7,1932.2h4.6l-2.3-4z"/><path d="M699.3,1987.1h4.6l-2.3-4z"/><path d="M730.2,1915.8h4.6l-2.3-4z"/><path d="M746.7,1997.5h4.6l-2.3-4z"/><path d="M726.7,1848.8h4.6l-2.3-4z"/><path d="M747.0,1790.0h4.6l-2.3-4z"/><path d="M723.7,1933.3h4.6l-2.3-4z"/><path d="M718.7,1931.1h4.6l-2.3-4z"/><path d="M721.5,1633.4h4.6l-2.3-4z"/><path d="M747.7,1886.0h4.6l-2.3-4z"/><path d="M699.0,1985.8h4.6l-2.3-4z"/><path d="M721.2,2003.3h4.6l-2.3-4z"/><path d="M739.8,1808.7h4.6l-2.3-4z"/><path d="M745.7,1799.0h4.6l-2.3-4z"/><path d="M695.1,1862.4h4.6l-2.3-4z"/><path d="M741.4,1956.8h4.6l-2.3-4z"/><path d="M718.1,1936.5h4.6l-2.3-4z"/><path d="M719.8,1860.2h4.6l-2.3-4z"/><path d="M695.0,1908.9h4.6l-2.3-4z"/><path d="M708.5,1986.3h4.6l-2.3-4z"/><path d="M744.1,1833.2h4.6l-2.3-4z"/><path d="M743.6,1671.0h4.6l-2.3-4z"/><path d="M734.0,1976.0h4.6l-2.3-4z"/><path d="M722.4,1936.1h4.6l-2.3-4z"/><path d="M716.6,1913.5h4.6l-2.3-4z"/><path d="M692.4,1773.9h4.6l-2.3-4z"/><path d="M727.1,1964.7h4.6l-2.3-4z"/><path d="M738.9,1847.1h4.6l-2.3-4z"/><path d="M709.2,1815.0h4.6l-2.3-4z"/><path d="M689.7,1751.4h4.6l-2.3-4z"/><path d="M714.9,2005.4h4.6l-2.3-4z"/><path d="M697.5,1941.5h4.6l-2.3-4z"/><path d="M738.0,1976.2h4.6l-2.3-4z"/><path d="M687.8,1810.1h4.6l-2.3-4z"/><path d="M733.3,1832.2h4.6l-2.3-4z"/><path d="M703.5,1922.0h4.6l-2.3-4z"/><path d="M711.2,1860.5h4.6l-2.3-4z"/><path d="M735.3,1792.7h4.6l-2.3-4z"/><path d="M703.8,1963.0h4.6l-2.3-4z"/><path d="M691.4,1990.8h4.6l-2.3-4z"/><path d="M742.3,1810.5h4.6l-2.3-4z"/><path d="M693.5,1926.0h4.6l-2.3-4z"/><path d="M746.1,1961.5h4.6l-2.3-4z"/><path d="M735.3,1906.1h4.6l-2.3-4z"/><path d="M696.3,1767.6h4.6l-2.3-4z"/><path d="M726.5,2007.7h4.6l-2.3-4z"/><path d="M725.3,1996.5h4.6l-2.3-4z"/><path d="M745.5,1959.3h4.6l-2.3-4z"/><path d="M699.9,1722.5h4.6l-2.3-4z"/><path d="M695.5,1954.8h4.6l-2.3-4z"/><path d="M746.8,1922.0h4.6l-2.3-4z"/><path d="M733.5,1891.1h4.6l-2.3-4z"/><path d="M706.6,1937.9h4.6l-2.3-4z"/><path d="M727.0,1888.2h4.6l-2.3-4z"/><path d="M741.0,1841.5h4.6l-2.3-4z"/><path d="M740.7,1987.6h4.6l-2.3-4z"/><path d="M692.3,1971.2h4.6l-2.3-4z"/><path d="M699.5,1995.2h4.6l-2.3-4z"/><path d="M710.5,1790.5h4.6l-2.3-4z"/><path d="M711.1,1945.0h4.6l-2.3-4z"/><path d="M711.1,1794.3h4.6l-2.3-4z"/><path d="M741.5,1940.5h4.6l-2.3-4z"/><path d="M739.3,1954.8h4.6l-2.3-4z"/><path d="M707.1,1956.3h4.6l-2.3-4z"/><path d="M707.7,1965.8h4.6l-2.3-4z"/><path d="M718.8,1975.3h4.6l-2.3-4z"/><path d="M692.7,2007.0h4.6l-2.3-4z"/><path d="M700.8,1940.5h4.6l-2.3-4z"/><path d="M722.4,1919.3h4.6l-2.3-4z"/><path d="M742.6,1899.4h4.6l-2.3-4z"/><path d="M723.2,1923.3h4.6l-2.3-4z"/><path d="M710.7,2006.7h4.6l-2.3-4z"/><path d="M716.5,1883.9h4.6l-2.3-4z"/><path d="M694.2,1908.6h4.6l-2.3-4z"/><path d="M700.3,1961.5h4.6l-2.3-4z"/><path d="M739.6,1663.7h4.6l-2.3-4z"/><path d="M709.4,1872.2h4.6l-2.3-4z"/><path d="M725.8,1871.8h4.6l-2.3-4z"/><path d="M710.0,1648.4h4.6l-2.3-4z"/><path d="M710.3,1949.0h4.6l-2.3-4z"/><path d="M710.4,1939.5h4.6l-2.3-4z"/><path d="M739.0,1940.0h4.6l-2.3-4z"/><path d="M688.8,1921.7h4.6l-2.3-4z"/><path d="M720.8,2000.9h4.6l-2.3-4z"/><path d="M704.1,1706.1h4.6l-2.3-4z"/><path d="M713.9,1943.7h4.6l-2.3-4z"/><path d="M718.4,1960.5h4.6l-2.3-4z"/><path d="M716.9,1874.7h4.6l-2.3-4z"/><path d="M718.5,1912.2h4.6l-2.3-4z"/><path d="M708.1,2015.4h4.6l-2.3-4z"/><path d="M727.5,2003.0h4.6l-2.3-4z"/><path d="M728.0,1974.1h4.6l-2.3-4z"/><path d="M723.8,1565.2h4.6l-2.3-4z"/><path d="M731.3,1946.3h4.6l-2.3-4z"/><path d="M723.1,1894.5h4.6l-2.3-4z"/><path d="M731.5,1751.2h4.6l-2.3-4z"/><path d="M724.5,1862.5h4.6l-2.3-4z"/><path d="M710.5,2002.3h4.6l-2.3-4z"/><path d="M713.1,1916.0h4.6l-2.3-4z"/><path d="M698.1,1920.1h4.6l-2.3-4z"/><path d="M714.5,1913.6h4.6l-2.3-4z"/><path d="M703.8,1859.3h4.6l-2.3-4z"/><path d="M724.8,1952.3h4.6l-2.3-4z"/><path d="M745.2,1812.4h4.6l-2.3-4z"/><path d="M687.9,1866.0h4.6l-2.3-4z"/><path d="M703.2,1752.9h4.6l-2.3-4z"/><path d="M741.4,1910.4h4.6l-2.3-4z"/><path d="M726.2,1793.8h4.6l-2.3-4z"/><path d="M714.4,1988.5h4.6l-2.3-4z"/><path d="M741.4,1745.0h4.6l-2.3-4z"/><path d="M695.5,1820.9h4.6l-2.3-4z"/><path d="M700.1,1803.9h4.6l-2.3-4z"/><path d="M734.6,1874.1h4.6l-2.3-4z"/><path d="M694.5,1980.8h4.6l-2.3-4z"/><path d="M725.4,1959.4h4.6l-2.3-4z"/><path d="M745.3,1959.3h4.6l-2.3-4z"/><path d="M720.4,1947.5h4.6l-2.3-4z"/><path d="M710.4,1898.5h4.6l-2.3-4z"/><path d="M737.9,1816.1h4.6l-2.3-4z"/><path d="M705.3,1888.3h4.6l-2.3-4z"/><path d="M707.4,1966.3h4.6l-2.3-4z"/><path d="M726.1,1946.2h4.6l-2.3-4z"/><path d="M690.5,1964.4h4.6l-2.3-4z"/><path d="M723.2,1945.0h4.6l-2.3-4z"/><path d="M744.1,1982.2h4.6l-2.3-4z"/><path d="M722.4,1765.9h4.6l-2.3-4z"/><path d="M706.1,1912.3h4.6l-2.3-4z"/><path d="M719.3,1877.5h4.6l-2.3-4z"/><path d="M714.7,1917.9h4.6l-2.3-4z"/><path d="M726.5,1877.6h4.6l-2.3-4z"/><path d="M706.8,1756.5h4.6l-2.3-4z"/><path d="M738.3,1813.8h4.6l-2.3-4z"/><path d="M736.3,1976.0h4.6l-2.3-4z"/><path d="M688.0,1891.3h4.6l-2.3-4z"/><path d="M727.9,1957.6h4.6l-2.3-4z"/><path d="M710.8,1962.7h4.6l-2.3-4z"/><path d="M746.7,1750.0h4.6l-2.3-4z"/><path d="M700.2,1969.4h4.6l-2.3-4z"/><path d="M715.5,1644.5h4.6l-2.3-4z"/><path d="M723.8,1965.2h4.6l-2.3-4z"/><path d="M733.1,1861.9h4.6l-2.3-4z"/><path d="M741.2,2003.1h4.6l-2.3-4z"/><path d="M715.8,1783.5h4.6l-2.3-4z"/><path d="M703.2,1991.2h4.6l-2.3-4z"/><path d="M743.8,1701.5h4.6l-2.3-4z"/><path d="M732.6,1957.1h4.6l-2.3-4z"/><path d="M708.0,1908.0h4.6l-2.3-4z"/><path d="M730.8,1813.4h4.6l-2.3-4z"/><path d="M703.6,1887.5h4.6l-2.3-4z"/><path d="M711.2,1936.4h4.6l-2.3-4z"/><path d="M743.4,1983.0h4.6l-2.3-4z"/><path d="M705.8,1984.0h4.6l-2.3-4z"/><path d="M732.4,1993.7h4.6l-2.3-4z"/><path d="M738.2,1949.3h4.6l-2.3-4z"/><path d="M729.0,1919.6h4.6l-2.3-4z"/><path d="M699.2,1984.2h4.6l-2.3-4z"/><path d="M691.4,1855.1h4.6l-2.3-4z"/><path d="M698.2,1979.5h4.6l-2.3-4z"/><path d="M715.8,2001.3h4.6l-2.3-4z"/><path d="M731.4,1907.2h4.6l-2.3-4z"/><path d="M694.4,1903.2h4.6l-2.3-4z"/><path d="M735.9,1993.4h4.6l-2.3-4z"/><path d="M731.2,1818.7h4.6l-2.3-4z"/><path d="M710.1,1908.8h4.6l-2.3-4z"/><path d="M713.7,1808.8h4.6l-2.3-4z"/><path d="M713.8,1940.0h4.6l-2.3-4z"/><path d="M739.6,1966.0h4.6l-2.3-4z"/><path d="M724.1,2007.3h4.6l-2.3-4z"/><path d="M695.6,1800.6h4.6l-2.3-4z"/><path d="M733.6,1909.8h4.6l-2.3-4z"/><path d="M701.4,1706.5h4.6l-2.3-4z"/><path d="M709.7,1916.2h4.6l-2.3-4z"/><path d="M706.9,1941.3h4.6l-2.3-4z"/><path d="M738.3,1695.5h4.6l-2.3-4z"/><path d="M721.5,1862.5h4.6l-2.3-4z"/><path d="M726.6,1801.2h4.6l-2.3-4z"/><path d="M723.1,1935.7h4.6l-2.3-4z"/><path d="M728.6,1961.7h4.6l-2.3-4z"/><path d="M727.6,1870.8h4.6l-2.3-4z"/><path d="M726.5,1916.7h4.6l-2.3-4z"/><path d="M741.3,1935.7h4.6l-2.3-4z"/><path d="M741.6,1845.1h4.6l-2.3-4z"/><path d="M728.5,1946.8h4.6l-2.3-4z"/><path d="M714.3,1784.6h4.6l-2.3-4z"/><path d="M741.7,1950.8h4.6l-2.3-4z"/><path d="M713.2,1783.7h4.6l-2.3-4z"/><path d="M734.2,1975.7h4.6l-2.3-4z"/><path d="M712.2,1964.4h4.6l-2.3-4z"/><path d="M726.4,1753.4h4.6l-2.3-4z"/><path d="M731.6,1964.7h4.6l-2.3-4z"/><path d="M727.0,1940.3h4.6l-2.3-4z"/><path d="M713.7,1808.7h4.6l-2.3-4z"/><path d="M746.6,1987.6h4.6l-2.3-4z"/><path d="M688.7,1864.1h4.6l-2.3-4z"/><path d="M698.6,1746.6h4.6l-2.3-4z"/><path d="M695.1,1803.4h4.6l-2.3-4z"/><path d="M689.0,1888.0h4.6l-2.3-4z"/><path d="M720.0,1968.4h4.6l-2.3-4z"/><path d="M689.5,1988.2h4.6l-2.3-4z"/><path d="M707.9,1986.0h4.6l-2.3-4z"/><path d="M710.3,1866.3h4.6l-2.3-4z"/><path d="M745.2,1988.5h4.6l-2.3-4z"/><path d="M712.7,1944.5h4.6l-2.3-4z"/><path d="M725.1,1731.7h4.6l-2.3-4z"/><path d="M694.6,1982.2h4.6l-2.3-4z"/><path d="M720.1,1967.5h4.6l-2.3-4z"/><path d="M697.4,1962.9h4.6l-2.3-4z"/><path d="M744.0,1988.5h4.6l-2.3-4z"/><path d="M710.6,1919.6h4.6l-2.3-4z"/><path d="M690.9,1988.3h4.6l-2.3-4z"/><path d="M734.0,1905.1h4.6l-2.3-4z"/><path d="M702.4,1814.7h4.6l-2.3-4z"/><path d="M715.0,1761.4h4.6l-2.3-4z"/><path d="M742.8,1918.2h4.6l-2.3-4z"/><path d="M700.6,1919.3h4.6l-2.3-4z"/><path d="M711.4,1817.6h4.6l-2.3-4z"/><path d="M722.1,2002.8h4.6l-2.3-4z"/><path d="M700.3,1914.7h4.6l-2.3-4z"/><path d="M717.1,1713.2h4.6l-2.3-4z"/><path d="M715.1,1916.9h4.6l-2.3-4z"/><path d="M689.4,1915.8h4.6l-2.3-4z"/><path d="M691.8,1825.0h4.6l-2.3-4z"/><path d="M736.6,1969.4h4.6l-2.3-4z"/><path d="M729.0,1930.8h4.6l-2.3-4z"/><path d="M741.5,1945.3h4.6l-2.3-4z"/><path d="M688.6,1912.6h4.6l-2.3-4z"/><path d="M691.9,1873.3h4.6l-2.3-4z"/><path d="M734.2,1851.9h4.6l-2.3-4z"/><path d="M712.1,1814.2h4.6l-2.3-4z"/><path d="M716.7,1872.9h4.6l-2.3-4z"/><path d="M693.6,1967.5h4.6l-2.3-4z"/><path d="M703.7,1972.9h4.6l-2.3-4z"/><path d="M700.9,1940.1h4.6l-2.3-4z"/><path d="M745.7,1910.4h4.6l-2.3-4z"/><path d="M690.9,1797.8h4.6l-2.3-4z"/><path d="M723.4,1951.1h4.6l-2.3-4z"/><path d="M719.5,1903.0h4.6l-2.3-4z"/><path d="M695.5,1930.2h4.6l-2.3-4z"/><path d="M729.5,1770.9h4.6l-2.3-4z"/><path d="M698.2,1813.0h4.6l-2.3-4z"/><path d="M705.8,1846.9h4.6l-2.3-4z"/><path d="M735.6,1760.9h4.6l-2.3-4z"/><path d="M702.7,1821.8h4.6l-2.3-4z"/><path d="M715.0,1951.3h4.6l-2.3-4z"/><path d="M691.4,2003.4h4.6l-2.3-4z"/><path d="M688.4,1910.8h4.6l-2.3-4z"/><path d="M726.1,1958.0h4.6l-2.3-4z"/><path d="M733.6,2001.2h4.6l-2.3-4z"/><path d="M691.0,1975.3h4.6l-2.3-4z"/><path d="M732.5,1958.0h4.6l-2.3-4z"/><path d="M737.6,1886.1h4.6l-2.3-4z"/><path d="M709.1,1803.0h4.6l-2.3-4z"/><path d="M725.4,2011.8h4.6l-2.3-4z"/><path d="M697.3,1991.1h4.6l-2.3-4z"/><path d="M735.5,1947.4h4.6l-2.3-4z"/><path d="M708.2,1915.2h4.6l-2.3-4z"/><path d="M709.3,1855.9h4.6l-2.3-4z"/><path d="M715.4,1989.9h4.6l-2.3-4z"/><path d="M743.2,2010.7h4.6l-2.3-4z"/><path d="M746.7,1956.0h4.6l-2.3-4z"/><path d="M697.5,1952.9h4.6l-2.3-4z"/><path d="M728.7,1941.9h4.6l-2.3-4z"/><path d="M707.3,1992.3h4.6l-2.3-4z"/><path d="M706.0,1939.6h4.6l-2.3-4z"/><path d="M706.7,1984.1h4.6l-2.3-4z"/><path d="M700.1,2009.5h4.6l-2.3-4z"/><path d="M700.1,1913.2h4.6l-2.3-4z"/><path d="M690.2,1908.4h4.6l-2.3-4z"/><path d="M733.4,1996.5h4.6l-2.3-4z"/><path d="M692.2,1963.8h4.6l-2.3-4z"/><path d="M698.7,1687.1h4.6l-2.3-4z"/><path d="M718.0,1957.5h4.6l-2.3-4z"/><path d="M699.6,1993.8h4.6l-2.3-4z"/><path d="M742.1,1907.2h4.6l-2.3-4z"/><path d="M688.4,1812.7h4.6l-2.3-4z"/><path d="M699.8,1989.4h4.6l-2.3-4z"/><path d="M711.7,1734.4h4.6l-2.3-4z"/><path d="M717.7,1986.0h4.6l-2.3-4z"/><path d="M723.7,1742.5h4.6l-2.3-4z"/><path d="M741.5,1934.8h4.6l-2.3-4z"/><path d="M705.7,2000.6h4.6l-2.3-4z"/><path d="M705.5,1904.1h4.6l-2.3-4z"/><path d="M724.5,1934.0h4.6l-2.3-4z"/><path d="M741.8,1937.5h4.6l-2.3-4z"/><path d="M734.1,1929.9h4.6l-2.3-4z"/><path d="M697.0,1716.6h4.6l-2.3-4z"/><path d="M688.7,2008.7h4.6l-2.3-4z"/><path d="M706.8,1974.1h4.6l-2.3-4z"/><path d="M697.5,1829.8h4.6l-2.3-4z"/><path d="M697.4,1860.9h4.6l-2.3-4z"/><path d="M696.3,1961.2h4.6l-2.3-4z"/><path d="M713.5,1933.1h4.6l-2.3-4z"/><path d="M711.8,1899.6h4.6l-2.3-4z"/><path d="M697.5,1946.4h4.6l-2.3-4z"/><path d="M715.9,1975.4h4.6l-2.3-4z"/><path d="M734.6,2002.2h4.6l-2.3-4z"/><path d="M745.6,1817.6h4.6l-2.3-4z"/><path d="M692.5,1911.7h4.6l-2.3-4z"/><path d="M724.9,1860.4h4.6l-2.3-4z"/><path d="M706.5,1943.8h4.6l-2.3-4z"/><path d="M742.7,1924.8h4.6l-2.3-4z"/><path d="M688.9,1960.2h4.6l-2.3-4z"/><path d="M736.1,1739.2h4.6l-2.3-4z"/><path d="M698.9,1906.4h4.6l-2.3-4z"/><path d="M703.2,1978.4h4.6l-2.3-4z"/><path d="M708.9,1896.0h4.6l-2.3-4z"/><path d="M743.8,1850.1h4.6l-2.3-4z"/><path d="M725.8,1969.2h4.6l-2.3-4z"/><path d="M746.9,1939.9h4.6l-2.3-4z"/><path d="M699.4,1851.8h4.6l-2.3-4z"/><path d="M746.6,1933.0h4.6l-2.3-4z"/><path d="M702.5,1981.7h4.6l-2.3-4z"/><path d="M699.7,1873.2h4.6l-2.3-4z"/><path d="M745.6,1896.7h4.6l-2.3-4z"/><path d="M696.8,1762.0h4.6l-2.3-4z"/><path d="M700.4,1992.8h4.6l-2.3-4z"/><path d="M698.2,1847.0h4.6l-2.3-4z"/><path d="M734.7,1816.6h4.6l-2.3-4z"/><path d="M701.2,1931.8h4.6l-2.3-4z"/><path d="M736.4,1980.8h4.6l-2.3-4z"/><path d="M717.2,1953.5h4.6l-2.3-4z"/><path d="M730.1,1885.6h4.6l-2.3-4z"/><path d="M694.1,1857.5h4.6l-2.3-4z"/><path d="M709.5,1922.1h4.6l-2.3-4z"/><path d="M687.8,1866.9h4.6l-2.3-4z"/><path d="M726.1,1961.1h4.6l-2.3-4z"/><path d="M747.4,1926.2h4.6l-2.3-4z"/><path d="M701.5,1997.0h4.6l-2.3-4z"/><path d="M708.3,1830.0h4.6l-2.3-4z"/><path d="M747.6,1831.4h4.6l-2.3-4z"/><path d="M737.3,1902.3h4.6l-2.3-4z"/><path d="M746.7,1694.1h4.6l-2.3-4z"/><path d="M736.1,1965.2h4.6l-2.3-4z"/><path d="M745.4,1951.4h4.6l-2.3-4z"/><path d="M736.0,1958.8h4.6l-2.3-4z"/><path d="M705.0,1840.5h4.6l-2.3-4z"/><path d="M727.9,1897.3h4.6l-2.3-4z"/><path d="M702.4,1872.5h4.6l-2.3-4z"/><path d="M707.5,1822.4h4.6l-2.3-4z"/><path d="M702.0,1949.4h4.6l-2.3-4z"/><path d="M739.5,1920.9h4.6l-2.3-4z"/><path d="M702.7,1695.9h4.6l-2.3-4z"/><path d="M718.3,1634.0h4.6l-2.3-4z"/><path d="M701.8,1901.3h4.6l-2.3-4z"/><path d="M695.1,1890.2h4.6l-2.3-4z"/><path d="M699.6,1985.5h4.6l-2.3-4z"/><path d="M720.0,1914.6h4.6l-2.3-4z"/><path d="M737.0,2001.7h4.6l-2.3-4z"/><path d="M690.1,1803.0h4.6l-2.3-4z"/><path d="M723.7,1687.0h4.6l-2.3-4z"/><path d="M715.3,1852.1h4.6l-2.3-4z"/><path d="M718.4,1977.7h4.6l-2.3-4z"/><path d="M690.0,1887.3h4.6l-2.3-4z"/><path d="M739.9,1936.8h4.6l-2.3-4z"/><path d="M718.5,2005.9h4.6l-2.3-4z"/><path d="M736.3,1967.8h4.6l-2.3-4z"/><path d="M702.7,1828.5h4.6l-2.3-4z"/><path d="M741.5,1722.2h4.6l-2.3-4z"/><path d="M725.8,1884.5h4.6l-2.3-4z"/><path d="M688.4,1992.0h4.6l-2.3-4z"/><path d="M709.7,1990.6h4.6l-2.3-4z"/><path d="M734.7,1759.4h4.6l-2.3-4z"/><path d="M733.2,1856.4h4.6l-2.3-4z"/><path d="M732.1,1887.3h4.6l-2.3-4z"/><path d="M743.1,1896.6h4.6l-2.3-4z"/><path d="M689.0,2004.2h4.6l-2.3-4z"/><path d="M698.0,1881.2h4.6l-2.3-4z"/><path d="M708.2,1928.5h4.6l-2.3-4z"/><path d="M689.9,1978.1h4.6l-2.3-4z"/><path d="M710.6,1849.7h4.6l-2.3-4z"/><path d="M698.0,2007.2h4.6l-2.3-4z"/><path d="M743.6,1912.6h4.6l-2.3-4z"/><path d="M734.5,1868.7h4.6l-2.3-4z"/><path d="M722.5,1754.2h4.6l-2.3-4z"/><path d="M702.7,2008.3h4.6l-2.3-4z"/><path d="M704.5,1930.2h4.6l-2.3-4z"/><path d="M716.2,1959.8h4.6l-2.3-4z"/><path d="M702.6,1962.1h4.6l-2.3-4z"/><path d="M703.8,1832.2h4.6l-2.3-4z"/><path d="M711.7,1877.6h4.6l-2.3-4z"/><path d="M711.8,1962.2h4.6l-2.3-4z"/><path d="M726.9,1980.2h4.6l-2.3-4z"/><path d="M701.5,1899.2h4.6l-2.3-4z"/><path d="M723.2,1905.7h4.6l-2.3-4z"/><path d="M731.1,1994.7h4.6l-2.3-4z"/><path d="M718.0,1970.3h4.6l-2.3-4z"/><path d="M735.0,1856.4h4.6l-2.3-4z"/><path d="M720.6,1991.1h4.6l-2.3-4z"/><path d="M735.1,1868.7h4.6l-2.3-4z"/><path d="M741.0,1752.2h4.6l-2.3-4z"/><path d="M694.8,1972.0h4.6l-2.3-4z"/><path d="M722.7,1825.6h4.6l-2.3-4z"/><path d="M707.9,1994.4h4.6l-2.3-4z"/><path d="M707.7,1900.1h4.6l-2.3-4z"/><path d="M730.4,2029.2h4.6l-2.3-4z"/><path d="M744.9,1924.7h4.6l-2.3-4z"/><path d="M696.2,1942.3h4.6l-2.3-4z"/><path d="M742.3,1674.0h4.6l-2.3-4z"/><path d="M702.1,1881.9h4.6l-2.3-4z"/><path d="M710.7,1995.2h4.6l-2.3-4z"/><path d="M707.5,1930.1h4.6l-2.3-4z"/><path d="M716.3,1696.4h4.6l-2.3-4z"/><path d="M712.5,1889.6h4.6l-2.3-4z"/><path d="M700.2,1988.0h4.6l-2.3-4z"/><path d="M720.2,1789.0h4.6l-2.3-4z"/><path d="M731.3,1698.2h4.6l-2.3-4z"/><path d="M745.3,1840.9h4.6l-2.3-4z"/><path d="M745.8,1928.3h4.6l-2.3-4z"/><path d="M727.9,1827.4h4.6l-2.3-4z"/><path d="M728.1,1805.9h4.6l-2.3-4z"/><path d="M709.1,1868.7h4.6l-2.3-4z"/><path d="M695.0,1808.2h4.6l-2.3-4z"/><path d="M696.7,1777.0h4.6l-2.3-4z"/><path d="M691.8,1863.2h4.6l-2.3-4z"/><path d="M697.5,1913.2h4.6l-2.3-4z"/><path d="M743.8,2006.5h4.6l-2.3-4z"/><path d="M742.7,1992.8h4.6l-2.3-4z"/><path d="M716.6,1929.6h4.6l-2.3-4z"/><path d="M745.1,1941.9h4.6l-2.3-4z"/><path d="M720.9,1685.1h4.6l-2.3-4z"/><path d="M729.5,2005.0h4.6l-2.3-4z"/><path d="M728.4,1849.3h4.6l-2.3-4z"/><path d="M709.3,1779.2h4.6l-2.3-4z"/><path d="M731.8,1921.0h4.6l-2.3-4z"/><path d="M721.5,2017.4h4.6l-2.3-4z"/><path d="M727.9,1998.4h4.6l-2.3-4z"/><path d="M719.7,2004.8h4.6l-2.3-4z"/><path d="M734.8,1949.3h4.6l-2.3-4z"/><path d="M700.7,1874.1h4.6l-2.3-4z"/><path d="M691.8,1855.2h4.6l-2.3-4z"/><path d="M729.5,1931.3h4.6l-2.3-4z"/><path d="M711.5,1767.7h4.6l-2.3-4z"/><path d="M707.2,1994.8h4.6l-2.3-4z"/><path d="M692.3,1843.3h4.6l-2.3-4z"/><path d="M733.9,1963.7h4.6l-2.3-4z"/><path d="M731.9,1894.8h4.6l-2.3-4z"/><path d="M729.2,1878.3h4.6l-2.3-4z"/><path d="M709.8,1985.9h4.6l-2.3-4z"/><path d="M707.9,1974.7h4.6l-2.3-4z"/><path d="M707.1,1863.2h4.6l-2.3-4z"/><path d="M696.3,1936.2h4.6l-2.3-4z"/><path d="M698.7,1897.9h4.6l-2.3-4z"/><path d="M708.7,1959.9h4.6l-2.3-4z"/><path d="M695.5,1992.0h4.6l-2.3-4z"/><path d="M697.8,2006.9h4.6l-2.3-4z"/><path d="M730.6,1979.3h4.6l-2.3-4z"/><path d="M734.7,1994.8h4.6l-2.3-4z"/><path d="M718.7,1915.9h4.6l-2.3-4z"/><path d="M709.0,1952.9h4.6l-2.3-4z"/><path d="M737.0,1951.7h4.6l-2.3-4z"/><path d="M693.5,1914.4h4.6l-2.3-4z"/><path d="M688.2,2014.0h4.6l-2.3-4z"/><path d="M747.0,1825.3h4.6l-2.3-4z"/><path d="M725.9,1945.6h4.6l-2.3-4z"/><path d="M699.8,1901.8h4.6l-2.3-4z"/><path d="M741.4,1908.3h4.6l-2.3-4z"/><path d="M706.7,1911.9h4.6l-2.3-4z"/><path d="M736.8,1943.5h4.6l-2.3-4z"/><path d="M706.4,1934.3h4.6l-2.3-4z"/><path d="M743.2,1857.3h4.6l-2.3-4z"/><path d="M722.7,1967.1h4.6l-2.3-4z"/><path d="M713.8,1819.8h4.6l-2.3-4z"/><path d="M735.9,1904.3h4.6l-2.3-4z"/><path d="M690.6,2001.0h4.6l-2.3-4z"/><path d="M713.7,1899.3h4.6l-2.3-4z"/><path d="M701.3,1948.2h4.6l-2.3-4z"/><path d="M720.7,1905.8h4.6l-2.3-4z"/><path d="M732.1,1934.0h4.6l-2.3-4z"/><path d="M689.1,2013.4h4.6l-2.3-4z"/><path d="M709.4,1843.6h4.6l-2.3-4z"/><path d="M716.4,1950.8h4.6l-2.3-4z"/><path d="M726.9,1889.8h4.6l-2.3-4z"/><path d="M702.5,1830.5h4.6l-2.3-4z"/><path d="M713.0,1765.2h4.6l-2.3-4z"/><path d="M742.4,1867.2h4.6l-2.3-4z"/><path d="M737.3,1812.8h4.6l-2.3-4z"/><path d="M727.1,1711.1h4.6l-2.3-4z"/><path d="M742.5,1840.2h4.6l-2.3-4z"/><path d="M704.7,1976.9h4.6l-2.3-4z"/><path d="M745.7,1912.3h4.6l-2.3-4z"/><path d="M723.0,2011.7h4.6l-2.3-4z"/><path d="M721.9,1983.7h4.6l-2.3-4z"/><path d="M693.8,1950.0h4.6l-2.3-4z"/><path d="M722.2,1828.1h4.6l-2.3-4z"/><path d="M713.6,1557.4h4.6l-2.3-4z"/><path d="M729.3,2008.9h4.6l-2.3-4z"/><path d="M700.3,2007.3h4.6l-2.3-4z"/><path d="M738.8,1783.2h4.6l-2.3-4z"/><path d="M699.8,1963.6h4.6l-2.3-4z"/><path d="M723.9,1932.5h4.6l-2.3-4z"/><path d="M721.7,1928.9h4.6l-2.3-4z"/><path d="M703.7,1978.0h4.6l-2.3-4z"/><path d="M746.8,1983.4h4.6l-2.3-4z"/><path d="M741.4,1647.1h4.6l-2.3-4z"/><path d="M740.4,1989.9h4.6l-2.3-4z"/><path d="M743.3,1898.5h4.6l-2.3-4z"/><path d="M724.8,1874.7h4.6l-2.3-4z"/><path d="M743.9,1961.0h4.6l-2.3-4z"/><path d="M737.6,1878.1h4.6l-2.3-4z"/><path d="M745.0,1987.4h4.6l-2.3-4z"/><path d="M705.5,1971.7h4.6l-2.3-4z"/><path d="M718.1,1803.2h4.6l-2.3-4z"/><path d="M692.9,2024.8h4.6l-2.3-4z"/><path d="M707.3,1896.9h4.6l-2.3-4z"/><path d="M731.7,1845.4h4.6l-2.3-4z"/><path d="M736.3,1978.6h4.6l-2.3-4z"/><path d="M741.8,1967.5h4.6l-2.3-4z"/><path d="M712.4,1864.2h4.6l-2.3-4z"/><path d="M743.5,1960.7h4.6l-2.3-4z"/><path d="M689.7,1623.6h4.6l-2.3-4z"/><path d="M711.1,1980.4h4.6l-2.3-4z"/><path d="M739.3,1937.6h4.6l-2.3-4z"/><path d="M703.8,1864.8h4.6l-2.3-4z"/><path d="M707.0,1982.0h4.6l-2.3-4z"/><path d="M746.9,1808.1h4.6l-2.3-4z"/><path d="M714.4,1814.4h4.6l-2.3-4z"/><path d="M740.7,1935.2h4.6l-2.3-4z"/><path d="M720.1,1958.5h4.6l-2.3-4z"/><path d="M732.0,1847.4h4.6l-2.3-4z"/><path d="M715.6,1869.6h4.6l-2.3-4z"/><path d="M703.3,1954.5h4.6l-2.3-4z"/><path d="M740.8,1824.8h4.6l-2.3-4z"/><path d="M694.7,2000.0h4.6l-2.3-4z"/><path d="M733.1,1894.0h4.6l-2.3-4z"/><path d="M721.8,1679.7h4.6l-2.3-4z"/><path d="M720.8,1954.2h4.6l-2.3-4z"/><path d="M741.9,1930.0h4.6l-2.3-4z"/><path d="M697.6,1814.5h4.6l-2.3-4z"/><path d="M699.6,1927.8h4.6l-2.3-4z"/><path d="M716.4,2018.3h4.6l-2.3-4z"/><path d="M709.6,1677.8h4.6l-2.3-4z"/><path d="M690.8,1863.8h4.6l-2.3-4z"/><path d="M735.2,2011.8h4.6l-2.3-4z"/><path d="M741.0,1989.9h4.6l-2.3-4z"/><path d="M735.8,1736.5h4.6l-2.3-4z"/><path d="M745.6,1944.7h4.6l-2.3-4z"/><path d="M690.6,1995.5h4.6l-2.3-4z"/><path d="M692.2,1771.2h4.6l-2.3-4z"/><path d="M690.1,1965.6h4.6l-2.3-4z"/><path d="M695.6,1936.9h4.6l-2.3-4z"/><path d="M703.0,1991.4h4.6l-2.3-4z"/><path d="M731.3,1885.5h4.6l-2.3-4z"/><path d="M695.6,1991.8h4.6l-2.3-4z"/><path d="M744.2,1832.2h4.6l-2.3-4z"/><path d="M713.9,1787.0h4.6l-2.3-4z"/><path d="M696.5,1977.9h4.6l-2.3-4z"/><path d="M728.2,1939.3h4.6l-2.3-4z"/><path d="M715.4,1965.9h4.6l-2.3-4z"/><path d="M747.1,1966.8h4.6l-2.3-4z"/><path d="M740.0,1871.3h4.6l-2.3-4z"/><path d="M724.3,1936.4h4.6l-2.3-4z"/><path d="M740.2,1897.8h4.6l-2.3-4z"/><path d="M745.5,1648.9h4.6l-2.3-4z"/><path d="M698.4,1871.6h4.6l-2.3-4z"/><path d="M694.1,1700.9h4.6l-2.3-4z"/><path d="M733.9,1963.8h4.6l-2.3-4z"/><path d="M689.5,1970.6h4.6l-2.3-4z"/><path d="M707.2,1787.8h4.6l-2.3-4z"/><path d="M725.7,1815.2h4.6l-2.3-4z"/><path d="M702.6,1987.5h4.6l-2.3-4z"/><path d="M700.9,1732.3h4.6l-2.3-4z"/><path d="M700.9,1973.9h4.6l-2.3-4z"/><path d="M690.8,1991.8h4.6l-2.3-4z"/><path d="M726.5,2005.5h4.6l-2.3-4z"/><path d="M693.4,1926.4h4.6l-2.3-4z"/><path d="M730.0,1985.5h4.6l-2.3-4z"/><path d="M689.9,2005.0h4.6l-2.3-4z"/><path d="M737.3,1952.2h4.6l-2.3-4z"/><path d="M724.3,1951.2h4.6l-2.3-4z"/><path d="M708.6,2007.0h4.6l-2.3-4z"/><path d="M731.5,1833.6h4.6l-2.3-4z"/><path d="M746.9,2006.9h4.6l-2.3-4z"/><path d="M715.7,1593.3h4.6l-2.3-4z"/><path d="M700.5,1915.2h4.6l-2.3-4z"/><path d="M706.5,1842.8h4.6l-2.3-4z"/><path d="M721.5,1639.2h4.6l-2.3-4z"/><path d="M744.5,1782.8h4.6l-2.3-4z"/><path d="M696.5,1959.3h4.6l-2.3-4z"/><path d="M723.1,1981.9h4.6l-2.3-4z"/><path d="M690.3,1974.3h4.6l-2.3-4z"/><path d="M731.3,1861.1h4.6l-2.3-4z"/><path d="M701.6,1932.0h4.6l-2.3-4z"/><path d="M697.4,2015.3h4.6l-2.3-4z"/><path d="M718.6,2003.5h4.6l-2.3-4z"/><path d="M729.5,1892.9h4.6l-2.3-4z"/><path d="M692.3,1972.2h4.6l-2.3-4z"/><path d="M704.2,1613.6h4.6l-2.3-4z"/><path d="M718.6,1994.1h4.6l-2.3-4z"/><path d="M745.1,1749.8h4.6l-2.3-4z"/><path d="M709.3,1983.9h4.6l-2.3-4z"/><path d="M735.1,2011.1h4.6l-2.3-4z"/><path d="M703.1,1815.7h4.6l-2.3-4z"/><path d="M737.8,1880.1h4.6l-2.3-4z"/><path d="M726.5,1900.1h4.6l-2.3-4z"/><path d="M707.2,1966.5h4.6l-2.3-4z"/><path d="M696.7,1857.7h4.6l-2.3-4z"/><path d="M741.5,1733.5h4.6l-2.3-4z"/><path d="M722.5,1975.5h4.6l-2.3-4z"/><path d="M695.0,1700.4h4.6l-2.3-4z"/><path d="M720.2,1980.6h4.6l-2.3-4z"/><path d="M744.3,1941.4h4.6l-2.3-4z"/><path d="M728.8,1936.9h4.6l-2.3-4z"/><path d="M730.5,1925.2h4.6l-2.3-4z"/><path d="M708.5,1936.3h4.6l-2.3-4z"/><path d="M745.1,2011.2h4.6l-2.3-4z"/><path d="M692.6,1984.0h4.6l-2.3-4z"/><path d="M688.0,2012.5h4.6l-2.3-4z"/><path d="M697.3,1599.5h4.6l-2.3-4z"/><path d="M719.9,1959.5h4.6l-2.3-4z"/><path d="M746.2,1849.4h4.6l-2.3-4z"/><path d="M704.2,1886.6h4.6l-2.3-4z"/><path d="M708.7,1964.1h4.6l-2.3-4z"/><path d="M697.4,1722.6h4.6l-2.3-4z"/><path d="M706.8,1974.9h4.6l-2.3-4z"/><path d="M717.7,1832.4h4.6l-2.3-4z"/><path d="M693.7,1993.3h4.6l-2.3-4z"/><path d="M700.3,1970.1h4.6l-2.3-4z"/><path d="M727.9,2010.6h4.6l-2.3-4z"/><path d="M739.8,1993.7h4.6l-2.3-4z"/><path d="M737.5,1852.0h4.6l-2.3-4z"/><path d="M690.2,1726.9h4.6l-2.3-4z"/><path d="M729.1,1948.2h4.6l-2.3-4z"/><path d="M738.6,1856.4h4.6l-2.3-4z"/><path d="M727.7,1882.3h4.6l-2.3-4z"/><path d="M720.5,1946.3h4.6l-2.3-4z"/><path d="M695.3,1833.9h4.6l-2.3-4z"/><path d="M709.5,1745.7h4.6l-2.3-4z"/><path d="M690.7,1937.4h4.6l-2.3-4z"/><path d="M734.9,1853.4h4.6l-2.3-4z"/><path d="M723.4,1953.9h4.6l-2.3-4z"/><path d="M732.0,1655.0h4.6l-2.3-4z"/><path d="M735.3,1970.3h4.6l-2.3-4z"/><path d="M701.2,1852.7h4.6l-2.3-4z"/><path d="M711.1,1979.3h4.6l-2.3-4z"/><path d="M721.5,1922.0h4.6l-2.3-4z"/><path d="M743.0,1936.3h4.6l-2.3-4z"/><path d="M689.5,1934.2h4.6l-2.3-4z"/><path d="M738.5,1961.3h4.6l-2.3-4z"/><path d="M722.9,1968.5h4.6l-2.3-4z"/><path d="M726.3,1888.3h4.6l-2.3-4z"/><path d="M700.1,1987.7h4.6l-2.3-4z"/><path d="M690.0,1871.5h4.6l-2.3-4z"/><path d="M689.8,1779.8h4.6l-2.3-4z"/><path d="M727.8,1696.8h4.6l-2.3-4z"/><path d="M726.9,1804.8h4.6l-2.3-4z"/><path d="M707.6,2011.4h4.6l-2.3-4z"/><path d="M694.0,1936.4h4.6l-2.3-4z"/><path d="M713.5,2000.8h4.6l-2.3-4z"/><path d="M688.3,1758.0h4.6l-2.3-4z"/><path d="M727.8,1937.8h4.6l-2.3-4z"/><path d="M737.4,1905.9h4.6l-2.3-4z"/><path d="M720.4,1817.1h4.6l-2.3-4z"/><path d="M713.1,1878.6h4.6l-2.3-4z"/><path d="M747.6,1735.3h4.6l-2.3-4z"/><path d="M724.7,1906.8h4.6l-2.3-4z"/><path d="M739.0,1969.5h4.6l-2.3-4z"/><path d="M731.8,1914.8h4.6l-2.3-4z"/><path d="M741.0,1715.4h4.6l-2.3-4z"/><path d="M722.6,1878.0h4.6l-2.3-4z"/><path d="M689.0,2008.7h4.6l-2.3-4z"/><path d="M743.1,1894.4h4.6l-2.3-4z"/><path d="M698.1,1791.2h4.6l-2.3-4z"/><path d="M727.2,1654.0h4.6l-2.3-4z"/><path d="M706.1,1921.9h4.6l-2.3-4z"/><path d="M713.2,1839.0h4.6l-2.3-4z"/><path d="M706.9,1918.1h4.6l-2.3-4z"/><path d="M707.9,1974.7h4.6l-2.3-4z"/><path d="M691.6,1915.3h4.6l-2.3-4z"/><path d="M740.9,1931.4h4.6l-2.3-4z"/><path d="M747.5,1986.8h4.6l-2.3-4z"/><path d="M739.2,1922.6h4.6l-2.3-4z"/><path d="M689.1,1905.0h4.6l-2.3-4z"/><path d="M730.4,1971.6h4.6l-2.3-4z"/><path d="M709.8,1951.7h4.6l-2.3-4z"/><path d="M721.9,1965.4h4.6l-2.3-4z"/><path d="M725.2,1750.5h4.6l-2.3-4z"/><path d="M707.6,1830.9h4.6l-2.3-4z"/><path d="M707.2,1923.6h4.6l-2.3-4z"/><path d="M723.9,1933.8h4.6l-2.3-4z"/><path d="M745.2,1925.6h4.6l-2.3-4z"/><path d="M722.7,1984.1h4.6l-2.3-4z"/><path d="M721.1,1942.8h4.6l-2.3-4z"/><path d="M738.7,1963.5h4.6l-2.3-4z"/><path d="M706.0,1953.9h4.6l-2.3-4z"/><path d="M696.1,1884.6h4.6l-2.3-4z"/><path d="M697.5,1992.1h4.6l-2.3-4z"/><path d="M710.9,1827.7h4.6l-2.3-4z"/><path d="M697.7,1980.4h4.6l-2.3-4z"/><path d="M704.3,1859.5h4.6l-2.3-4z"/><path d="M688.6,1719.6h4.6l-2.3-4z"/><path d="M743.4,1861.4h4.6l-2.3-4z"/><path d="M721.0,1997.7h4.6l-2.3-4z"/><path d="M709.5,1940.1h4.6l-2.3-4z"/><path d="M730.2,1807.2h4.6l-2.3-4z"/><path d="M731.0,1858.3h4.6l-2.3-4z"/><path d="M691.8,1944.7h4.6l-2.3-4z"/><path d="M740.0,1886.1h4.6l-2.3-4z"/><path d="M731.2,1875.2h4.6l-2.3-4z"/><path d="M708.8,1962.7h4.6l-2.3-4z"/><path d="M693.5,1958.8h4.6l-2.3-4z"/><path d="M744.2,1987.5h4.6l-2.3-4z"/><path d="M745.0,1885.1h4.6l-2.3-4z"/><path d="M689.6,2021.8h4.6l-2.3-4z"/><path d="M717.9,1906.5h4.6l-2.3-4z"/><path d="M745.5,1833.0h4.6l-2.3-4z"/><path d="M697.1,1739.9h4.6l-2.3-4z"/><path d="M728.2,1914.6h4.6l-2.3-4z"/><path d="M717.6,1924.1h4.6l-2.3-4z"/><path d="M702.0,1978.6h4.6l-2.3-4z"/><path d="M731.2,2011.3h4.6l-2.3-4z"/><path d="M712.9,1969.5h4.6l-2.3-4z"/><path d="M702.3,2002.4h4.6l-2.3-4z"/><path d="M731.1,1919.9h4.6l-2.3-4z"/><path d="M745.8,1740.5h4.6l-2.3-4z"/><path d="M716.0,1981.0h4.6l-2.3-4z"/><path d="M730.2,1974.2h4.6l-2.3-4z"/><path d="M716.3,1852.0h4.6l-2.3-4z"/><path d="M723.8,1915.5h4.6l-2.3-4z"/><path d="M693.4,1765.5h4.6l-2.3-4z"/><path d="M689.1,1846.7h4.6l-2.3-4z"/><path d="M725.4,1960.0h4.6l-2.3-4z"/><path d="M712.8,1999.3h4.6l-2.3-4z"/><path d="M729.9,1972.4h4.6l-2.3-4z"/><path d="M716.9,1883.8h4.6l-2.3-4z"/><path d="M728.2,1891.0h4.6l-2.3-4z"/><path d="M712.6,1814.8h4.6l-2.3-4z"/><path d="M724.5,1739.3h4.6l-2.3-4z"/><path d="M740.5,1902.9h4.6l-2.3-4z"/><path d="M695.2,1830.1h4.6l-2.3-4z"/><path d="M693.5,2000.6h4.6l-2.3-4z"/><path d="M695.6,2003.4h4.6l-2.3-4z"/><path d="M708.3,2017.1h4.6l-2.3-4z"/><path d="M701.3,1917.4h4.6l-2.3-4z"/><path d="M731.9,1913.0h4.6l-2.3-4z"/><path d="M690.3,1838.8h4.6l-2.3-4z"/><path d="M701.1,1996.0h4.6l-2.3-4z"/><path d="M737.2,1728.0h4.6l-2.3-4z"/><path d="M735.5,1859.3h4.6l-2.3-4z"/><path d="M739.5,1944.4h4.6l-2.3-4z"/><path d="M736.5,1922.2h4.6l-2.3-4z"/><path d="M739.0,2024.7h4.6l-2.3-4z"/><path d="M711.7,1980.6h4.6l-2.3-4z"/><path d="M694.4,1968.9h4.6l-2.3-4z"/><path d="M715.0,1897.9h4.6l-2.3-4z"/><path d="M721.8,1822.0h4.6l-2.3-4z"/><path d="M695.5,1770.2h4.6l-2.3-4z"/><path d="M723.3,1886.7h4.6l-2.3-4z"/><path d="M732.3,1893.4h4.6l-2.3-4z"/><path d="M692.3,1928.9h4.6l-2.3-4z"/><path d="M709.4,1735.5h4.6l-2.3-4z"/><path d="M736.1,1679.1h4.6l-2.3-4z"/><path d="M706.2,1989.4h4.6l-2.3-4z"/><path d="M709.7,1939.2h4.6l-2.3-4z"/><path d="M695.4,2017.9h4.6l-2.3-4z"/><path d="M710.9,1610.3h4.6l-2.3-4z"/><path d="M704.6,1992.9h4.6l-2.3-4z"/><path d="M717.0,1989.5h4.6l-2.3-4z"/><path d="M728.5,2000.6h4.6l-2.3-4z"/><path d="M700.3,2005.4h4.6l-2.3-4z"/><path d="M731.0,1941.2h4.6l-2.3-4z"/><path d="M714.2,1956.5h4.6l-2.3-4z"/><path d="M717.8,1883.6h4.6l-2.3-4z"/><path d="M735.6,1953.1h4.6l-2.3-4z"/><path d="M730.3,2000.8h4.6l-2.3-4z"/><path d="M711.1,1679.9h4.6l-2.3-4z"/><path d="M722.7,1697.6h4.6l-2.3-4z"/><path d="M700.8,1943.9h4.6l-2.3-4z"/><path d="M715.1,1988.3h4.6l-2.3-4z"/><path d="M720.2,1949.8h4.6l-2.3-4z"/><path d="M737.7,1877.9h4.6l-2.3-4z"/><path d="M699.8,1947.5h4.6l-2.3-4z"/><path d="M736.5,1860.5h4.6l-2.3-4z"/><path d="M688.8,1899.3h4.6l-2.3-4z"/><path d="M733.2,1716.0h4.6l-2.3-4z"/><path d="M703.2,1863.8h4.6l-2.3-4z"/><path d="M701.1,1984.6h4.6l-2.3-4z"/><path d="M692.6,1957.3h4.6l-2.3-4z"/><path d="M697.1,1985.0h4.6l-2.3-4z"/><path d="M705.7,1960.5h4.6l-2.3-4z"/><path d="M699.6,1771.8h4.6l-2.3-4z"/><path d="M742.2,2006.6h4.6l-2.3-4z"/><path d="M719.0,2017.7h4.6l-2.3-4z"/><path d="M704.5,1848.5h4.6l-2.3-4z"/><path d="M704.9,1946.0h4.6l-2.3-4z"/><path d="M719.6,1725.7h4.6l-2.3-4z"/><path d="M736.6,1951.9h4.6l-2.3-4z"/><path d="M747.0,1719.8h4.6l-2.3-4z"/><path d="M747.0,1812.6h4.6l-2.3-4z"/><path d="M732.6,1959.9h4.6l-2.3-4z"/><path d="M717.2,1998.7h4.6l-2.3-4z"/><path d="M701.8,1835.8h4.6l-2.3-4z"/><path d="M718.4,1886.3h4.6l-2.3-4z"/><path d="M732.2,1992.6h4.6l-2.3-4z"/><path d="M713.9,1961.9h4.6l-2.3-4z"/><path d="M719.0,1998.9h4.6l-2.3-4z"/><path d="M714.8,1796.6h4.6l-2.3-4z"/><path d="M712.7,2003.0h4.6l-2.3-4z"/><path d="M720.1,1823.3h4.6l-2.3-4z"/><path d="M688.3,2022.8h4.6l-2.3-4z"/><path d="M709.6,1873.5h4.6l-2.3-4z"/><path d="M744.1,1932.3h4.6l-2.3-4z"/><path d="M743.6,1993.5h4.6l-2.3-4z"/><path d="M689.1,1981.9h4.6l-2.3-4z"/><path d="M705.9,1963.6h4.6l-2.3-4z"/><path d="M690.5,2004.3h4.6l-2.3-4z"/><path d="M740.7,1981.4h4.6l-2.3-4z"/><path d="M742.8,1980.0h4.6l-2.3-4z"/><path d="M704.2,1913.0h4.6l-2.3-4z"/><path d="M732.6,1876.7h4.6l-2.3-4z"/><path d="M738.4,1959.9h4.6l-2.3-4z"/><path d="M740.3,2004.8h4.6l-2.3-4z"/><path d="M694.6,1977.3h4.6l-2.3-4z"/><path d="M715.8,1909.2h4.6l-2.3-4z"/><path d="M742.8,1909.2h4.6l-2.3-4z"/><path d="M691.0,1902.9h4.6l-2.3-4z"/><path d="M742.1,1896.6h4.6l-2.3-4z"/><path d="M734.7,1873.0h4.6l-2.3-4z"/><path d="M712.6,1584.4h4.6l-2.3-4z"/><path d="M746.6,1943.8h4.6l-2.3-4z"/><path d="M727.9,1718.3h4.6l-2.3-4z"/><path d="M735.3,1966.2h4.6l-2.3-4z"/><path d="M707.3,1946.4h4.6l-2.3-4z"/><path d="M725.7,1924.5h4.6l-2.3-4z"/><path d="M706.3,1945.8h4.6l-2.3-4z"/><path d="M718.9,1978.6h4.6l-2.3-4z"/><path d="M713.9,1567.9h4.6l-2.3-4z"/><path d="M739.6,1913.1h4.6l-2.3-4z"/><path d="M708.9,1926.5h4.6l-2.3-4z"/><path d="M745.8,1918.4h4.6l-2.3-4z"/><path d="M717.6,1962.0h4.6l-2.3-4z"/><path d="M697.4,1956.1h4.6l-2.3-4z"/><path d="M726.4,1870.0h4.6l-2.3-4z"/><path d="M731.9,1857.3h4.6l-2.3-4z"/><path d="M727.7,1844.8h4.6l-2.3-4z"/><path d="M725.6,2024.2h4.6l-2.3-4z"/><path d="M730.1,1940.4h4.6l-2.3-4z"/><path d="M713.3,1985.5h4.6l-2.3-4z"/><path d="M700.1,1964.7h4.6l-2.3-4z"/><path d="M706.8,1964.5h4.6l-2.3-4z"/><path d="M697.0,2003.2h4.6l-2.3-4z"/><path d="M702.7,2004.8h4.6l-2.3-4z"/><path d="M700.2,1939.6h4.6l-2.3-4z"/><path d="M693.3,1978.1h4.6l-2.3-4z"/><path d="M718.3,1937.1h4.6l-2.3-4z"/><path d="M688.0,1773.5h4.6l-2.3-4z"/><path d="M738.9,1905.3h4.6l-2.3-4z"/><path d="M709.0,1792.2h4.6l-2.3-4z"/><path d="M729.7,1942.7h4.6l-2.3-4z"/><path d="M704.5,1965.5h4.6l-2.3-4z"/><path d="M724.3,1723.8h4.6l-2.3-4z"/><path d="M742.9,1809.2h4.6l-2.3-4z"/><path d="M713.4,2018.4h4.6l-2.3-4z"/><path d="M719.2,1923.3h4.6l-2.3-4z"/><path d="M716.7,1964.0h4.6l-2.3-4z"/><path d="M706.6,1962.5h4.6l-2.3-4z"/><path d="M752.8,1927.0h4.6l-2.3-4z"/><path d="M753.2,1906.7h4.6l-2.3-4z"/><path d="M754.4,1814.4h4.6l-2.3-4z"/><path d="M750.0,1977.4h4.6l-2.3-4z"/><path d="M753.1,1927.2h4.6l-2.3-4z"/><path d="M754.3,1865.8h4.6l-2.3-4z"/><path d="M749.4,1896.1h4.6l-2.3-4z"/><path d="M751.1,2004.2h4.6l-2.3-4z"/><path d="M748.0,1852.6h4.6l-2.3-4z"/><path d="M752.7,1810.7h4.6l-2.3-4z"/><path d="M753.2,1952.7h4.6l-2.3-4z"/><path d="M747.7,1880.5h4.6l-2.3-4z"/><path d="M754.8,1857.1h4.6l-2.3-4z"/><path d="M751.9,1786.4h4.6l-2.3-4z"/><path d="M755.5,1985.7h4.6l-2.3-4z"/><path d="M749.7,1573.1h4.6l-2.3-4z"/><path d="M752.2,1743.4h4.6l-2.3-4z"/><path d="M749.7,1961.3h4.6l-2.3-4z"/><path d="M749.6,1911.2h4.6l-2.3-4z"/><path d="M755.6,1956.9h4.6l-2.3-4z"/><path d="M754.3,1865.3h4.6l-2.3-4z"/><path d="M749.0,1779.6h4.6l-2.3-4z"/><path d="M752.6,2001.8h4.6l-2.3-4z"/><path d="M748.5,1900.6h4.6l-2.3-4z"/><path d="M751.2,1895.6h4.6l-2.3-4z"/><path d="M747.7,1860.8h4.6l-2.3-4z"/><path d="M750.3,1787.9h4.6l-2.3-4z"/><path d="M749.6,1867.5h4.6l-2.3-4z"/><path d="M753.6,1829.5h4.6l-2.3-4z"/><path d="M750.7,1972.3h4.6l-2.3-4z"/><path d="M752.4,1917.3h4.6l-2.3-4z"/><path d="M748.4,1597.7h4.6l-2.3-4z"/><path d="M753.5,1949.5h4.6l-2.3-4z"/><path d="M749.2,1830.8h4.6l-2.3-4z"/><path d="M749.1,1926.7h4.6l-2.3-4z"/><path d="M755.2,1984.2h4.6l-2.3-4z"/><path d="M749.7,1978.5h4.6l-2.3-4z"/><path d="M747.7,1826.8h4.6l-2.3-4z"/><path d="M749.8,1868.6h4.6l-2.3-4z"/><path d="M754.0,1988.0h4.6l-2.3-4z"/><path d="M754.7,1752.3h4.6l-2.3-4z"/><path d="M752.4,1990.5h4.6l-2.3-4z"/><path d="M749.6,1971.8h4.6l-2.3-4z"/><path d="M752.4,1920.1h4.6l-2.3-4z"/><path d="M749.9,1941.5h4.6l-2.3-4z"/><path d="M751.3,2024.3h4.6l-2.3-4z"/><path d="M751.2,1969.9h4.6l-2.3-4z"/><path d="M748.5,2007.9h4.6l-2.3-4z"/><path d="M750.3,1913.1h4.6l-2.3-4z"/><path d="M754.5,1971.0h4.6l-2.3-4z"/><path d="M750.5,1739.2h4.6l-2.3-4z"/><path d="M747.9,1927.7h4.6l-2.3-4z"/><path d="M754.4,1906.8h4.6l-2.3-4z"/><path d="M753.1,1886.0h4.6l-2.3-4z"/><path d="M752.1,1864.5h4.6l-2.3-4z"/><path d="M751.2,1998.3h4.6l-2.3-4z"/><path d="M750.8,1689.1h4.6l-2.3-4z"/><path d="M748.8,1918.6h4.6l-2.3-4z"/><path d="M753.5,1998.9h4.6l-2.3-4z"/><path d="M751.2,1819.5h4.6l-2.3-4z"/><path d="M753.3,2010.0h4.6l-2.3-4z"/><path d="M751.3,1763.8h4.6l-2.3-4z"/><path d="M752.2,1990.4h4.6l-2.3-4z"/><path d="M753.7,1722.4h4.6l-2.3-4z"/><path d="M753.6,1948.4h4.6l-2.3-4z"/><path d="M755.3,1923.5h4.6l-2.3-4z"/><path d="M753.6,2006.4h4.6l-2.3-4z"/><path d="M753.8,1893.4h4.6l-2.3-4z"/><path d="M755.7,1998.4h4.6l-2.3-4z"/><path d="M751.5,1977.8h4.6l-2.3-4z"/><path d="M753.0,1966.4h4.6l-2.3-4z"/><path d="M750.4,1977.7h4.6l-2.3-4z"/><path d="M749.8,1867.1h4.6l-2.3-4z"/><path d="M754.7,2012.4h4.6l-2.3-4z"/><path d="M748.0,1859.7h4.6l-2.3-4z"/><path d="M753.1,2013.3h4.6l-2.3-4z"/><path d="M753.3,1723.3h4.6l-2.3-4z"/><path d="M754.2,1927.3h4.6l-2.3-4z"/><path d="M754.5,1940.4h4.6l-2.3-4z"/><path d="M753.4,1984.5h4.6l-2.3-4z"/><path d="M753.8,1599.5h4.6l-2.3-4z"/><path d="M748.1,1822.6h4.6l-2.3-4z"/><path d="M754.1,1926.5h4.6l-2.3-4z"/><path d="M748.0,1975.9h4.6l-2.3-4z"/><path d="M752.7,1909.6h4.6l-2.3-4z"/><path d="M751.3,1900.0h4.6l-2.3-4z"/><path d="M752.2,1752.6h4.6l-2.3-4z"/><path d="M753.6,1849.7h4.6l-2.3-4z"/><path d="M752.7,1783.5h4.6l-2.3-4z"/><path d="M753.1,1970.4h4.6l-2.3-4z"/></g>
<line x1="136.9" y1="1537.0" x2="136.9" y2="2097.3" stroke="#000" stroke-width="2.4" />
<line x1="126.9" y1="2088.3" x2="810.0" y2="2088.3" stroke="#000" stroke-width="2.4" />
<line x1="126.9" y1="2088.3" x2="136.9" y2="2088.3" stroke="#000" stroke-width="2.4" />
<text x="122.4" y="2096.3" font-size="33" text-anchor="end" font-weight="normal" fill="#000" >0</text>
<line x1="126.9" y1="1950.7" x2="136.9" y2="1950.7" stroke="#000" stroke-width="2.4" />
<text x="122.4" y="1958.7" font-size="33" text-anchor="end" font-weight="normal" fill="#000" >100</text>
<line x1="126.9" y1="1813.0" x2="136.9" y2="1813.0" stroke="#000" stroke-width="2.4" />
<text x="122.4" y="1821.0" font-size="33" text-anchor="end" font-weight="normal" fill="#000" >200</text>
<line x1="126.9" y1="1675.4" x2="136.9" y2="1675.4" stroke="#000" stroke-width="2.4" />
<text x="122.4" y="1683.4" font-size="33" text-anchor="end" font-weight="normal" fill="#000" >300</text>
<line x1="126.9" y1="1537.8" x2="136.9" y2="1537.8" stroke="#000" stroke-width="2.4" />
<text x="122.4" y="1545.8" font-size="33" text-anchor="end" font-weight="normal" fill="#000" >400</text>
<line x1="131.9" y1="2019.5" x2="136.9" y2="2019.5" stroke="#000" stroke-width="2.4" />
<line x1="131.9" y1="1881.9" x2="136.9" y2="1881.9" stroke="#000" stroke-width="2.4" />
<line x1="131.9" y1="1744.2" x2="136.9" y2="1744.2" stroke="#000" stroke-width="2.4" />
<line x1="131.9" y1="1606.6" x2="136.9" y2="1606.6" stroke="#000" stroke-width="2.4" />
<line x1="136.9" y1="2088.3" x2="136.9" y2="2097.3" stroke="#000" stroke-width="2.4" />
<text x="134.9" y="2130.5" font-size="32" text-anchor="middle" font-weight="normal" fill="#000" >10<tspan font-size="21" dy="-13">1</tspan></text>
<line x1="175.1" y1="2088.3" x2="175.1" y2="2093.3" stroke="#000" stroke-width="1.8" />
<line x1="197.4" y1="2088.3" x2="197.4" y2="2093.3" stroke="#000" stroke-width="1.8" />
<line x1="213.3" y1="2088.3" x2="213.3" y2="2093.3" stroke="#000" stroke-width="1.8" />
<line x1="225.6" y1="2088.3" x2="225.6" y2="2093.3" stroke="#000" stroke-width="1.8" />
<line x1="235.6" y1="2088.3" x2="235.6" y2="2093.3" stroke="#000" stroke-width="1.8" />
<line x1="244.1" y1="2088.3" x2="244.1" y2="2093.3" stroke="#000" stroke-width="1.8" />
<line x1="251.5" y1="2088.3" x2="251.5" y2="2093.3" stroke="#000" stroke-width="1.8" />
<line x1="258.0" y1="2088.3" x2="258.0" y2="2093.3" stroke="#000" stroke-width="1.8" />
<line x1="263.8" y1="2088.3" x2="263.8" y2="2097.3" stroke="#000" stroke-width="2.4" />
<text x="261.8" y="2130.5" font-size="32" text-anchor="middle" font-weight="normal" fill="#000" >10<tspan font-size="21" dy="-13">2</tspan></text>
<line x1="302.0" y1="2088.3" x2="302.0" y2="2093.3" stroke="#000" stroke-width="1.8" />
<line x1="324.3" y1="2088.3" x2="324.3" y2="2093.3" stroke="#000" stroke-width="1.8" />
<line x1="340.2" y1="2088.3" x2="340.2" y2="2093.3" stroke="#000" stroke-width="1.8" />
<line x1="352.5" y1="2088.3" x2="352.5" y2="2093.3" stroke="#000" stroke-width="1.8" />
<line x1="362.5" y1="2088.3" x2="362.5" y2="2093.3" stroke="#000" stroke-width="1.8" />
<line x1="371.0" y1="2088.3" x2="371.0" y2="2093.3" stroke="#000" stroke-width="1.8" />
<line x1="378.4" y1="2088.3" x2="378.4" y2="2093.3" stroke="#000" stroke-width="1.8" />
<line x1="384.9" y1="2088.3" x2="384.9" y2="2093.3" stroke="#000" stroke-width="1.8" />
<line x1="390.7" y1="2088.3" x2="390.7" y2="2097.3" stroke="#000" stroke-width="2.4" />
<text x="388.7" y="2130.5" font-size="32" text-anchor="middle" font-weight="normal" fill="#000" >10<tspan font-size="21" dy="-13">3</tspan></text>
<line x1="428.9" y1="2088.3" x2="428.9" y2="2093.3" stroke="#000" stroke-width="1.8" />
<line x1="451.2" y1="2088.3" x2="451.2" y2="2093.3" stroke="#000" stroke-width="1.8" />
<line x1="467.1" y1="2088.3" x2="467.1" y2="2093.3" stroke="#000" stroke-width="1.8" />
<line x1="479.4" y1="2088.3" x2="479.4" y2="2093.3" stroke="#000" stroke-width="1.8" />
<line x1="489.4" y1="2088.3" x2="489.4" y2="2093.3" stroke="#000" stroke-width="1.8" />
<line x1="497.9" y1="2088.3" x2="497.9" y2="2093.3" stroke="#000" stroke-width="1.8" />
<line x1="505.3" y1="2088.3" x2="505.3" y2="2093.3" stroke="#000" stroke-width="1.8" />
<line x1="511.8" y1="2088.3" x2="511.8" y2="2093.3" stroke="#000" stroke-width="1.8" />
<line x1="517.6" y1="2088.3" x2="517.6" y2="2097.3" stroke="#000" stroke-width="2.4" />
<text x="515.6" y="2130.5" font-size="32" text-anchor="middle" font-weight="normal" fill="#000" >10<tspan font-size="21" dy="-13">4</tspan></text>
<line x1="555.8" y1="2088.3" x2="555.8" y2="2093.3" stroke="#000" stroke-width="1.8" />
<line x1="578.1" y1="2088.3" x2="578.1" y2="2093.3" stroke="#000" stroke-width="1.8" />
<line x1="594.0" y1="2088.3" x2="594.0" y2="2093.3" stroke="#000" stroke-width="1.8" />
<line x1="606.3" y1="2088.3" x2="606.3" y2="2093.3" stroke="#000" stroke-width="1.8" />
<line x1="616.3" y1="2088.3" x2="616.3" y2="2093.3" stroke="#000" stroke-width="1.8" />
<line x1="624.8" y1="2088.3" x2="624.8" y2="2093.3" stroke="#000" stroke-width="1.8" />
<line x1="632.2" y1="2088.3" x2="632.2" y2="2093.3" stroke="#000" stroke-width="1.8" />
<line x1="638.7" y1="2088.3" x2="638.7" y2="2093.3" stroke="#000" stroke-width="1.8" />
<line x1="644.5" y1="2088.3" x2="644.5" y2="2097.3" stroke="#000" stroke-width="2.4" />
<text x="642.5" y="2130.5" font-size="32" text-anchor="middle" font-weight="normal" fill="#000" >10<tspan font-size="21" dy="-13">5</tspan></text>
<line x1="682.7" y1="2088.3" x2="682.7" y2="2093.3" stroke="#000" stroke-width="1.8" />
<line x1="705.0" y1="2088.3" x2="705.0" y2="2093.3" stroke="#000" stroke-width="1.8" />
<line x1="720.9" y1="2088.3" x2="720.9" y2="2093.3" stroke="#000" stroke-width="1.8" />
<line x1="733.2" y1="2088.3" x2="733.2" y2="2093.3" stroke="#000" stroke-width="1.8" />
<line x1="743.2" y1="2088.3" x2="743.2" y2="2093.3" stroke="#000" stroke-width="1.8" />
<line x1="751.7" y1="2088.3" x2="751.7" y2="2093.3" stroke="#000" stroke-width="1.8" />
<line x1="759.1" y1="2088.3" x2="759.1" y2="2093.3" stroke="#000" stroke-width="1.8" />
<line x1="765.6" y1="2088.3" x2="765.6" y2="2093.3" stroke="#000" stroke-width="1.8" />
<line x1="771.4" y1="2088.3" x2="771.4" y2="2097.3" stroke="#000" stroke-width="2.4" />
<text x="769.4" y="2130.5" font-size="32" text-anchor="middle" font-weight="normal" fill="#000" >10<tspan font-size="21" dy="-13">6</tspan></text>
<text x="418.0" y="2173.5" font-size="32" text-anchor="start" font-weight="normal" fill="#000" >LR (pN/s)</text>
<text transform="translate(52.5,1802) rotate(-90)" font-size="33" text-anchor="middle">Force (pN)</text>
<path d="M138.3,2084.9 L789.7,1968.1" fill="none" stroke="#000" stroke-width="2.4" />
<path d="M138.3,2081.2 L368.7,2015.4 L491.6,1957 L620.7,1883.4 L771.3,1806.5" fill="none" stroke="#000" stroke-width="2.4" stroke-dasharray="8.5,5"/>
<path d="M138.3,2083 L368.7,2030.8 L491.6,1989 L620.7,1941.7 L789.7,1878.4" fill="none" stroke="#000" stroke-width="2.4" stroke-dasharray="8.5,5"/>
<text x="783.0" y="1814.5" font-size="34" text-anchor="start" font-weight="normal" fill="#000" >III</text>
<text x="788.0" y="1888.0" font-size="34" text-anchor="start" font-weight="normal" fill="#000" >II</text>
<text x="797.0" y="1976.5" font-size="34" text-anchor="start" font-weight="normal" fill="#000" >I</text>
<line x1="312.2" y1="2022.0" x2="312.2" y2="2048.0" stroke="#5a5a5a" stroke-width="1.5" />
<line x1="306.2" y1="2022.0" x2="318.2" y2="2022.0" stroke="#5a5a5a" stroke-width="1.7" />
<line x1="306.2" y1="2048.0" x2="318.2" y2="2048.0" stroke="#5a5a5a" stroke-width="1.7" />
<line x1="293.0" y1="2035.1" x2="331.0" y2="2035.1" stroke="#333" stroke-width="1.7" />
<line x1="293.0" y1="2029.1" x2="293.0" y2="2041.1" stroke="#333" stroke-width="1.7" />
<line x1="331.0" y1="2029.1" x2="331.0" y2="2041.1" stroke="#333" stroke-width="1.7" />
<rect x="309.1" y="2032.0" width="6.2" height="6.2" fill="#000"/>
<line x1="312.2" y1="2042.0" x2="312.2" y2="2062.0" stroke="#5a5a5a" stroke-width="1.5" />
<line x1="306.2" y1="2042.0" x2="318.2" y2="2042.0" stroke="#5a5a5a" stroke-width="1.7" />
<line x1="306.2" y1="2062.0" x2="318.2" y2="2062.0" stroke="#5a5a5a" stroke-width="1.7" />
<line x1="293.0" y1="2052.3" x2="331.0" y2="2052.3" stroke="#333" stroke-width="1.7" />
<line x1="293.0" y1="2046.3" x2="293.0" y2="2058.3" stroke="#333" stroke-width="1.7" />
<line x1="331.0" y1="2046.3" x2="331.0" y2="2058.3" stroke="#333" stroke-width="1.7" />
<rect x="309.1" y="2049.2" width="6.2" height="6.2" fill="#000"/>
<line x1="365.7" y1="1950.0" x2="365.7" y2="1990.0" stroke="#5a5a5a" stroke-width="1.5" />
<line x1="359.7" y1="1950.0" x2="371.7" y2="1950.0" stroke="#5a5a5a" stroke-width="1.7" />
<line x1="359.7" y1="1990.0" x2="371.7" y2="1990.0" stroke="#5a5a5a" stroke-width="1.7" />
<line x1="347.0" y1="1969.3" x2="385.0" y2="1969.3" stroke="#333" stroke-width="1.7" />
<line x1="347.0" y1="1963.3" x2="347.0" y2="1975.3" stroke="#333" stroke-width="1.7" />
<line x1="385.0" y1="1963.3" x2="385.0" y2="1975.3" stroke="#333" stroke-width="1.7" />
<rect x="362.6" y="1966.2" width="6.2" height="6.2" fill="#000"/>
<line x1="365.7" y1="1997.0" x2="365.7" y2="2035.0" stroke="#5a5a5a" stroke-width="1.5" />
<line x1="359.7" y1="1997.0" x2="371.7" y2="1997.0" stroke="#5a5a5a" stroke-width="1.7" />
<line x1="359.7" y1="2035.0" x2="371.7" y2="2035.0" stroke="#5a5a5a" stroke-width="1.7" />
<line x1="347.0" y1="2015.4" x2="385.0" y2="2015.4" stroke="#333" stroke-width="1.7" />
<line x1="347.0" y1="2009.4" x2="347.0" y2="2021.4" stroke="#333" stroke-width="1.7" />
<line x1="385.0" y1="2009.4" x2="385.0" y2="2021.4" stroke="#333" stroke-width="1.7" />
<rect x="362.6" y="2012.3" width="6.2" height="6.2" fill="#000"/>
<line x1="365.7" y1="2028.0" x2="365.7" y2="2053.0" stroke="#5a5a5a" stroke-width="1.5" />
<line x1="359.7" y1="2028.0" x2="371.7" y2="2028.0" stroke="#5a5a5a" stroke-width="1.7" />
<line x1="359.7" y1="2053.0" x2="371.7" y2="2053.0" stroke="#5a5a5a" stroke-width="1.7" />
<line x1="347.0" y1="2040.0" x2="385.0" y2="2040.0" stroke="#333" stroke-width="1.7" />
<line x1="347.0" y1="2034.0" x2="347.0" y2="2046.0" stroke="#333" stroke-width="1.7" />
<line x1="385.0" y1="2034.0" x2="385.0" y2="2046.0" stroke="#333" stroke-width="1.7" />
<rect x="362.6" y="2036.9" width="6.2" height="6.2" fill="#000"/>
<line x1="424.0" y1="1920.0" x2="424.0" y2="1983.0" stroke="#5a5a5a" stroke-width="1.5" />
<line x1="418.0" y1="1920.0" x2="430.0" y2="1920.0" stroke="#5a5a5a" stroke-width="1.7" />
<line x1="418.0" y1="1983.0" x2="430.0" y2="1983.0" stroke="#5a5a5a" stroke-width="1.7" />
<line x1="400.0" y1="1950.9" x2="447.0" y2="1950.9" stroke="#333" stroke-width="1.7" />
<line x1="400.0" y1="1944.9" x2="400.0" y2="1956.9" stroke="#333" stroke-width="1.7" />
<line x1="447.0" y1="1944.9" x2="447.0" y2="1956.9" stroke="#333" stroke-width="1.7" />
<rect x="420.9" y="1947.8" width="6.2" height="6.2" fill="#000"/>
<line x1="424.0" y1="1985.0" x2="424.0" y2="2032.0" stroke="#5a5a5a" stroke-width="1.5" />
<line x1="418.0" y1="1985.0" x2="430.0" y2="1985.0" stroke="#5a5a5a" stroke-width="1.7" />
<line x1="418.0" y1="2032.0" x2="430.0" y2="2032.0" stroke="#5a5a5a" stroke-width="1.7" />
<line x1="400.0" y1="2009.3" x2="447.0" y2="2009.3" stroke="#333" stroke-width="1.7" />
<line x1="400.0" y1="2003.3" x2="400.0" y2="2015.3" stroke="#333" stroke-width="1.7" />
<line x1="447.0" y1="2003.3" x2="447.0" y2="2015.3" stroke="#333" stroke-width="1.7" />
<rect x="420.9" y="2006.2" width="6.2" height="6.2" fill="#000"/>
<line x1="424.0" y1="2020.0" x2="424.0" y2="2051.0" stroke="#5a5a5a" stroke-width="1.5" />
<line x1="418.0" y1="2020.0" x2="430.0" y2="2020.0" stroke="#5a5a5a" stroke-width="1.7" />
<line x1="418.0" y1="2051.0" x2="430.0" y2="2051.0" stroke="#5a5a5a" stroke-width="1.7" />
<line x1="400.0" y1="2035.7" x2="447.0" y2="2035.7" stroke="#333" stroke-width="1.7" />
<line x1="400.0" y1="2029.7" x2="400.0" y2="2041.7" stroke="#333" stroke-width="1.7" />
<line x1="447.0" y1="2029.7" x2="447.0" y2="2041.7" stroke="#333" stroke-width="1.7" />
<rect x="420.9" y="2032.6" width="6.2" height="6.2" fill="#000"/>
<line x1="491.6" y1="1905.0" x2="491.6" y2="1970.0" stroke="#5a5a5a" stroke-width="1.5" />
<line x1="485.6" y1="1905.0" x2="497.6" y2="1905.0" stroke="#5a5a5a" stroke-width="1.7" />
<line x1="485.6" y1="1970.0" x2="497.6" y2="1970.0" stroke="#5a5a5a" stroke-width="1.7" />
<line x1="470.0" y1="1938.6" x2="513.0" y2="1938.6" stroke="#333" stroke-width="1.7" />
<line x1="470.0" y1="1932.6" x2="470.0" y2="1944.6" stroke="#333" stroke-width="1.7" />
<line x1="513.0" y1="1932.6" x2="513.0" y2="1944.6" stroke="#333" stroke-width="1.7" />
<rect x="488.5" y="1935.5" width="6.2" height="6.2" fill="#000"/>
<line x1="491.6" y1="1965.0" x2="491.6" y2="2012.0" stroke="#5a5a5a" stroke-width="1.5" />
<line x1="485.6" y1="1965.0" x2="497.6" y2="1965.0" stroke="#5a5a5a" stroke-width="1.7" />
<line x1="485.6" y1="2012.0" x2="497.6" y2="2012.0" stroke="#5a5a5a" stroke-width="1.7" />
<line x1="470.0" y1="1989.0" x2="513.0" y2="1989.0" stroke="#333" stroke-width="1.7" />
<line x1="470.0" y1="1983.0" x2="470.0" y2="1995.0" stroke="#333" stroke-width="1.7" />
<line x1="513.0" y1="1983.0" x2="513.0" y2="1995.0" stroke="#333" stroke-width="1.7" />
<rect x="488.5" y="1985.9" width="6.2" height="6.2" fill="#000"/>
<line x1="491.6" y1="2011.0" x2="491.6" y2="2046.0" stroke="#5a5a5a" stroke-width="1.5" />
<line x1="485.6" y1="2011.0" x2="497.6" y2="2011.0" stroke="#5a5a5a" stroke-width="1.7" />
<line x1="485.6" y1="2046.0" x2="497.6" y2="2046.0" stroke="#5a5a5a" stroke-width="1.7" />
<line x1="470.0" y1="2029.6" x2="513.0" y2="2029.6" stroke="#333" stroke-width="1.7" />
<line x1="470.0" y1="2023.6" x2="470.0" y2="2035.6" stroke="#333" stroke-width="1.7" />
<line x1="513.0" y1="2023.6" x2="513.0" y2="2035.6" stroke="#333" stroke-width="1.7" />
<rect x="488.5" y="2026.5" width="6.2" height="6.2" fill="#000"/>
<line x1="553.1" y1="1875.0" x2="553.1" y2="1945.0" stroke="#5a5a5a" stroke-width="1.5" />
<line x1="547.1" y1="1875.0" x2="559.1" y2="1875.0" stroke="#5a5a5a" stroke-width="1.7" />
<line x1="547.1" y1="1945.0" x2="559.1" y2="1945.0" stroke="#5a5a5a" stroke-width="1.7" />
<line x1="530.0" y1="1911.0" x2="577.0" y2="1911.0" stroke="#333" stroke-width="1.7" />
<line x1="530.0" y1="1905.0" x2="530.0" y2="1917.0" stroke="#333" stroke-width="1.7" />
<line x1="577.0" y1="1905.0" x2="577.0" y2="1917.0" stroke="#333" stroke-width="1.7" />
<rect x="550.0" y="1907.9" width="6.2" height="6.2" fill="#000"/>
<line x1="553.1" y1="1932.0" x2="553.1" y2="1978.0" stroke="#5a5a5a" stroke-width="1.5" />
<line x1="547.1" y1="1932.0" x2="559.1" y2="1932.0" stroke="#5a5a5a" stroke-width="1.7" />
<line x1="547.1" y1="1978.0" x2="559.1" y2="1978.0" stroke="#5a5a5a" stroke-width="1.7" />
<line x1="530.0" y1="1955.2" x2="577.0" y2="1955.2" stroke="#333" stroke-width="1.7" />
<line x1="530.0" y1="1949.2" x2="530.0" y2="1961.2" stroke="#333" stroke-width="1.7" />
<line x1="577.0" y1="1949.2" x2="577.0" y2="1961.2" stroke="#333" stroke-width="1.7" />
<rect x="550.0" y="1952.1" width="6.2" height="6.2" fill="#000"/>
<line x1="553.1" y1="1995.0" x2="553.1" y2="2027.0" stroke="#5a5a5a" stroke-width="1.5" />
<line x1="547.1" y1="1995.0" x2="559.1" y2="1995.0" stroke="#5a5a5a" stroke-width="1.7" />
<line x1="547.1" y1="2027.0" x2="559.1" y2="2027.0" stroke="#5a5a5a" stroke-width="1.7" />
<line x1="530.0" y1="2011.1" x2="577.0" y2="2011.1" stroke="#333" stroke-width="1.7" />
<line x1="530.0" y1="2005.1" x2="530.0" y2="2017.1" stroke="#333" stroke-width="1.7" />
<line x1="577.0" y1="2005.1" x2="577.0" y2="2017.1" stroke="#333" stroke-width="1.7" />
<rect x="550.0" y="2008.0" width="6.2" height="6.2" fill="#000"/>
<line x1="620.7" y1="1824.0" x2="620.7" y2="1944.0" stroke="#5a5a5a" stroke-width="1.5" />
<line x1="614.7" y1="1824.0" x2="626.7" y2="1824.0" stroke="#5a5a5a" stroke-width="1.7" />
<line x1="614.7" y1="1944.0" x2="626.7" y2="1944.0" stroke="#5a5a5a" stroke-width="1.7" />
<line x1="600.0" y1="1885.2" x2="643.0" y2="1885.2" stroke="#333" stroke-width="1.7" />
<line x1="600.0" y1="1879.2" x2="600.0" y2="1891.2" stroke="#333" stroke-width="1.7" />
<line x1="643.0" y1="1879.2" x2="643.0" y2="1891.2" stroke="#333" stroke-width="1.7" />
<rect x="617.6" y="1882.1" width="6.2" height="6.2" fill="#000"/>
<line x1="620.7" y1="1914.0" x2="620.7" y2="1968.0" stroke="#5a5a5a" stroke-width="1.5" />
<line x1="614.7" y1="1914.0" x2="626.7" y2="1914.0" stroke="#5a5a5a" stroke-width="1.7" />
<line x1="614.7" y1="1968.0" x2="626.7" y2="1968.0" stroke="#5a5a5a" stroke-width="1.7" />
<line x1="600.0" y1="1941.7" x2="643.0" y2="1941.7" stroke="#333" stroke-width="1.7" />
<line x1="600.0" y1="1935.7" x2="600.0" y2="1947.7" stroke="#333" stroke-width="1.7" />
<line x1="643.0" y1="1935.7" x2="643.0" y2="1947.7" stroke="#333" stroke-width="1.7" />
<rect x="617.6" y="1938.6" width="6.2" height="6.2" fill="#000"/>
<line x1="620.7" y1="1980.0" x2="620.7" y2="2020.0" stroke="#5a5a5a" stroke-width="1.5" />
<line x1="614.7" y1="1980.0" x2="626.7" y2="1980.0" stroke="#5a5a5a" stroke-width="1.7" />
<line x1="614.7" y1="2020.0" x2="626.7" y2="2020.0" stroke="#5a5a5a" stroke-width="1.7" />
<line x1="600.0" y1="2000.1" x2="643.0" y2="2000.1" stroke="#333" stroke-width="1.7" />
<line x1="600.0" y1="1994.1" x2="600.0" y2="2006.1" stroke="#333" stroke-width="1.7" />
<line x1="643.0" y1="1994.1" x2="643.0" y2="2006.1" stroke="#333" stroke-width="1.7" />
<rect x="617.6" y="1997.0" width="6.2" height="6.2" fill="#000"/>
<line x1="680.9" y1="1780.0" x2="680.9" y2="1914.0" stroke="#5a5a5a" stroke-width="1.5" />
<line x1="674.9" y1="1780.0" x2="686.9" y2="1780.0" stroke="#5a5a5a" stroke-width="1.7" />
<line x1="674.9" y1="1914.0" x2="686.9" y2="1914.0" stroke="#5a5a5a" stroke-width="1.7" />
<line x1="658.0" y1="1847.7" x2="702.0" y2="1847.7" stroke="#333" stroke-width="1.7" />
<line x1="658.0" y1="1841.7" x2="658.0" y2="1853.7" stroke="#333" stroke-width="1.7" />
<line x1="702.0" y1="1841.7" x2="702.0" y2="1853.7" stroke="#333" stroke-width="1.7" />
<rect x="677.8" y="1844.6" width="6.2" height="6.2" fill="#000"/>
<line x1="680.9" y1="1908.0" x2="680.9" y2="1950.0" stroke="#5a5a5a" stroke-width="1.5" />
<line x1="674.9" y1="1908.0" x2="686.9" y2="1908.0" stroke="#5a5a5a" stroke-width="1.7" />
<line x1="674.9" y1="1950.0" x2="686.9" y2="1950.0" stroke="#5a5a5a" stroke-width="1.7" />
<line x1="658.0" y1="1928.2" x2="702.0" y2="1928.2" stroke="#333" stroke-width="1.7" />
<line x1="658.0" y1="1922.2" x2="658.0" y2="1934.2" stroke="#333" stroke-width="1.7" />
<line x1="702.0" y1="1922.2" x2="702.0" y2="1934.2" stroke="#333" stroke-width="1.7" />
<rect x="677.8" y="1925.1" width="6.2" height="6.2" fill="#000"/>
<line x1="680.9" y1="1967.0" x2="680.9" y2="2000.0" stroke="#5a5a5a" stroke-width="1.5" />
<line x1="674.9" y1="1967.0" x2="686.9" y2="1967.0" stroke="#5a5a5a" stroke-width="1.7" />
<line x1="674.9" y1="2000.0" x2="686.9" y2="2000.0" stroke="#5a5a5a" stroke-width="1.7" />
<line x1="658.0" y1="1983.5" x2="702.0" y2="1983.5" stroke="#333" stroke-width="1.7" />
<line x1="658.0" y1="1977.5" x2="658.0" y2="1989.5" stroke="#333" stroke-width="1.7" />
<line x1="702.0" y1="1977.5" x2="702.0" y2="1989.5" stroke="#333" stroke-width="1.7" />
<rect x="677.8" y="1980.4" width="6.2" height="6.2" fill="#000"/>
<line x1="728.2" y1="1718.0" x2="728.2" y2="1822.0" stroke="#5a5a5a" stroke-width="1.5" />
<line x1="722.2" y1="1718.0" x2="734.2" y2="1718.0" stroke="#5a5a5a" stroke-width="1.7" />
<line x1="722.2" y1="1822.0" x2="734.2" y2="1822.0" stroke="#5a5a5a" stroke-width="1.7" />
<line x1="715.0" y1="1769.6" x2="741.0" y2="1769.6" stroke="#333" stroke-width="1.7" />
<line x1="715.0" y1="1763.6" x2="715.0" y2="1775.6" stroke="#333" stroke-width="1.7" />
<line x1="741.0" y1="1763.6" x2="741.0" y2="1775.6" stroke="#333" stroke-width="1.7" />
<rect x="725.1" y="1766.5" width="6.2" height="6.2" fill="#000"/>
<line x1="728.2" y1="1867.0" x2="728.2" y2="1936.0" stroke="#5a5a5a" stroke-width="1.5" />
<line x1="722.2" y1="1867.0" x2="734.2" y2="1867.0" stroke="#5a5a5a" stroke-width="1.7" />
<line x1="722.2" y1="1936.0" x2="734.2" y2="1936.0" stroke="#5a5a5a" stroke-width="1.7" />
<line x1="715.0" y1="1901.8" x2="741.0" y2="1901.8" stroke="#333" stroke-width="1.7" />
<line x1="715.0" y1="1895.8" x2="715.0" y2="1907.8" stroke="#333" stroke-width="1.7" />
<line x1="741.0" y1="1895.8" x2="741.0" y2="1907.8" stroke="#333" stroke-width="1.7" />
<rect x="725.1" y="1898.7" width="6.2" height="6.2" fill="#000"/>
<line x1="728.2" y1="1953.0" x2="728.2" y2="2004.0" stroke="#5a5a5a" stroke-width="1.5" />
<line x1="722.2" y1="1953.0" x2="734.2" y2="1953.0" stroke="#5a5a5a" stroke-width="1.7" />
<line x1="722.2" y1="2004.0" x2="734.2" y2="2004.0" stroke="#5a5a5a" stroke-width="1.7" />
<line x1="715.0" y1="1977.3" x2="741.0" y2="1977.3" stroke="#333" stroke-width="1.7" />
<line x1="715.0" y1="1971.3" x2="715.0" y2="1983.3" stroke="#333" stroke-width="1.7" />
<line x1="741.0" y1="1971.3" x2="741.0" y2="1983.3" stroke="#333" stroke-width="1.7" />
<rect x="725.1" y="1974.2" width="6.2" height="6.2" fill="#000"/>
<text x="171.5" y="1573.0" font-size="32" text-anchor="start" font-weight="bold" fill="#7a7a7a" >T3SA+ core (+Mn<tspan font-size="20" dy="-13">2+</tspan><tspan dy="13">)</tspan></text>
<text x="171.5" y="1612.5" font-size="32" text-anchor="start" font-weight="normal" fill="#7a7a7a" >BF = 19 <tspan text-decoration="underline">+</tspan> 5%</text>
<text x="171.5" y="1651.5" font-size="32" text-anchor="start" font-weight="normal" fill="#7a7a7a" >k<tspan font-size="21" dy="9">off</tspan><tspan dy="-9"> = 1.52 </tspan><tspan text-decoration="underline">+</tspan> 0.4 s<tspan font-size="20" dy="-13">-1</tspan></text>
<text x="171.5" y="1690.5" font-size="32" text-anchor="start" font-weight="normal" fill="#7a7a7a" >x<tspan font-size="21" dy="9">u</tspan><tspan dy="-9"> = 0.74 </tspan><tspan text-decoration="underline">+</tspan> 0.03 nm</text>
<circle cx="560.5" cy="1517.7" r="4.2" fill="none" stroke="#999" stroke-width="1.3"/>
<text x="580.5" y="1528.0" font-size="25" text-anchor="start" font-weight="normal" fill="#000" >Data points on model surface</text>
<line x1="531.6" y1="1558.8" x2="568.5" y2="1558.8" stroke="#000" stroke-width="2.4" />
<text x="580.5" y="1568.5" font-size="26.4" text-anchor="start" font-weight="normal" fill="#000" >Bell-Evans fit</text>
<line x1="531.6" y1="1595.7" x2="570.0" y2="1595.7" stroke="#444" stroke-width="3" stroke-dasharray="13.5,11"/>
<text x="580.5" y="1605.5" font-size="26.4" text-anchor="start" font-weight="normal" fill="#000" >Williams-Evans prediction</text>
<line x1="996.5" y1="1757.2" x2="996.5" y2="1686.6" stroke="#000" stroke-width="2.2" />
<line x1="996.5" y1="1757.2" x2="1065.5" y2="1757.2" stroke="#000" stroke-width="2.2" />
<path d="M990.5,1690.6 L996.5,1676.6 L1002.5,1690.6 L996.5,1686.6 Z" fill="#000" stroke="none" stroke-width="0" />
<path d="M1061.5,1751.2 L1075.5,1757.2 L1061.5,1763.2 L1065.5,1757.2 Z" fill="#000" stroke="none" stroke-width="0" />
<text transform="translate(985,1706) rotate(-90)" font-size="32" text-anchor="middle">Force</text>
<text x="1083.0" y="1766.0" font-size="32" text-anchor="start" font-weight="normal" fill="#000" >LR</text>
<path d="M1006.9,1743.2 Q1240.6,1650.5 1452.3,1537.9" fill="none" stroke="#13893a" stroke-width="2.4" stroke-dasharray="7,5"/>
<path d="M1006.9,1745.2 Q1252.6,1687.3 1462.3,1596.9" fill="none" stroke="#13893a" stroke-width="2.4" stroke-dasharray="7,5"/>
<path d="M1006.9,1748.2 Q1254.2,1692.2 1465.5,1603.7" fill="none" stroke="#505050" stroke-width="2.4" stroke-dasharray="7,5"/>
<path d="M1006.9,1750.2 Q1236.6,1709.5 1466.3,1668.7" fill="none" stroke="#13893a" stroke-width="2.4" />
<path d="M1006.9,1750.2 Q1237.0,1707.8 1467.1,1665.5" fill="none" stroke="#505050" stroke-width="2.4" />
<text x="1468.0" y="1531.0" font-size="27" text-anchor="start" font-weight="normal" fill="#13893a" >III</text>
<text x="1472.0" y="1599.5" font-size="27" text-anchor="start" font-weight="normal" fill="#13893a" >II</text>
<text x="1472.0" y="1626.5" font-size="27" text-anchor="start" font-weight="normal" fill="#505050" >II</text>
<text x="1476.0" y="1662.5" font-size="27" text-anchor="start" font-weight="normal" fill="#505050" >I</text>
<text x="1476.0" y="1690.5" font-size="27" text-anchor="start" font-weight="normal" fill="#13893a" >I</text>
<line x1="999.7" y1="1787.2" x2="999.7" y2="2085.4" stroke="#000" stroke-width="2.4" />
<line x1="992.2" y1="2085.4" x2="1485.4" y2="2085.4" stroke="#000" stroke-width="2.4" />
<line x1="992.2" y1="2085.4" x2="999.7" y2="2085.4" stroke="#000" stroke-width="2.4" />
<text x="987.2" y="2093.9" font-size="33.5" text-anchor="end" font-weight="normal" fill="#000" >0</text>
<line x1="992.2" y1="2035.7" x2="999.7" y2="2035.7" stroke="#000" stroke-width="2.4" />
<text x="987.2" y="2044.2" font-size="33.5" text-anchor="end" font-weight="normal" fill="#000" >10</text>
<line x1="992.2" y1="1986.0" x2="999.7" y2="1986.0" stroke="#000" stroke-width="2.4" />
<text x="987.2" y="1994.5" font-size="33.5" text-anchor="end" font-weight="normal" fill="#000" >20</text>
<line x1="992.2" y1="1936.3" x2="999.7" y2="1936.3" stroke="#000" stroke-width="2.4" />
<text x="987.2" y="1944.8" font-size="33.5" text-anchor="end" font-weight="normal" fill="#000" >30</text>
<line x1="992.2" y1="1886.6" x2="999.7" y2="1886.6" stroke="#000" stroke-width="2.4" />
<text x="987.2" y="1895.1" font-size="33.5" text-anchor="end" font-weight="normal" fill="#000" >40</text>
<line x1="992.2" y1="1836.9" x2="999.7" y2="1836.9" stroke="#000" stroke-width="2.4" />
<text x="987.2" y="1845.4" font-size="33.5" text-anchor="end" font-weight="normal" fill="#000" >50</text>
<line x1="992.2" y1="1787.2" x2="999.7" y2="1787.2" stroke="#000" stroke-width="2.4" />
<text x="987.2" y="1795.7" font-size="33.5" text-anchor="end" font-weight="normal" fill="#000" >60</text>
<line x1="995.2" y1="2060.6" x2="999.7" y2="2060.6" stroke="#000" stroke-width="2.4" />
<line x1="995.2" y1="2010.9" x2="999.7" y2="2010.9" stroke="#000" stroke-width="2.4" />
<line x1="995.2" y1="1961.2" x2="999.7" y2="1961.2" stroke="#000" stroke-width="2.4" />
<line x1="995.2" y1="1911.5" x2="999.7" y2="1911.5" stroke="#000" stroke-width="2.4" />
<line x1="995.2" y1="1861.8" x2="999.7" y2="1861.8" stroke="#000" stroke-width="2.4" />
<line x1="995.2" y1="1812.1" x2="999.7" y2="1812.1" stroke="#000" stroke-width="2.4" />
<line x1="999.7" y1="2085.4" x2="999.7" y2="2091.9" stroke="#000" stroke-width="2.4" />
<text x="999.7" y="2122.4" font-size="33.5" text-anchor="middle" font-weight="normal" fill="#000" >0</text>
<line x1="1083.0" y1="2085.4" x2="1083.0" y2="2091.9" stroke="#000" stroke-width="2.4" />
<text x="1083.0" y="2122.4" font-size="33.5" text-anchor="middle" font-weight="normal" fill="#000" >200</text>
<line x1="1166.2" y1="2085.4" x2="1166.2" y2="2091.9" stroke="#000" stroke-width="2.4" />
<text x="1166.2" y="2122.4" font-size="33.5" text-anchor="middle" font-weight="normal" fill="#000" >400</text>
<line x1="1249.5" y1="2085.4" x2="1249.5" y2="2091.9" stroke="#000" stroke-width="2.4" />
<text x="1249.5" y="2122.4" font-size="33.5" text-anchor="middle" font-weight="normal" fill="#000" >600</text>
<line x1="1332.7" y1="2085.4" x2="1332.7" y2="2091.9" stroke="#000" stroke-width="2.4" />
<text x="1332.7" y="2122.4" font-size="33.5" text-anchor="middle" font-weight="normal" fill="#000" >800</text>
<line x1="1416.0" y1="2085.4" x2="1416.0" y2="2091.9" stroke="#000" stroke-width="2.4" />
<text x="1416.0" y="2122.4" font-size="33.5" text-anchor="middle" font-weight="normal" fill="#000" >1000</text>
<line x1="1041.3" y1="2085.4" x2="1041.3" y2="2089.9" stroke="#000" stroke-width="2.4" />
<line x1="1124.6" y1="2085.4" x2="1124.6" y2="2089.9" stroke="#000" stroke-width="2.4" />
<line x1="1207.9" y1="2085.4" x2="1207.9" y2="2089.9" stroke="#000" stroke-width="2.4" />
<line x1="1291.1" y1="2085.4" x2="1291.1" y2="2089.9" stroke="#000" stroke-width="2.4" />
<line x1="1374.4" y1="2085.4" x2="1374.4" y2="2089.9" stroke="#000" stroke-width="2.4" />
<line x1="1457.6" y1="2085.4" x2="1457.6" y2="2089.9" stroke="#000" stroke-width="2.4" />
<text x="1273.0" y="2158.0" font-size="32" text-anchor="middle" font-weight="normal" fill="#000" >Contact time (ms)</text>
<text transform="translate(943.5,1921) rotate(-90)" font-size="33.5" text-anchor="middle">BF (%)</text>
<path d="M999.7,2078.9 L999.9,2077.8 L1000.3,2075.5 L1000.9,2072.3 L1001.6,2068.6 L1002.4,2064.3 L1003.3,2059.5 L1004.3,2054.4 L1005.5,2049.0 L1006.6,2043.4 L1007.9,2037.5 L1009.3,2031.5 L1010.7,2025.4 L1012.2,2019.3 L1013.8,2013.1 L1015.4,2006.9 L1017.1,2000.7 L1018.9,1994.6 L1020.7,1988.6 L1022.6,1982.7 L1024.6,1976.8 L1026.6,1971.2 L1028.7,1965.6 L1030.9,1960.2 L1033.0,1955.0 L1035.3,1950.0 L1037.6,1945.2 L1040.0,1940.5 L1042.4,1936.0 L1044.8,1931.7 L1047.4,1927.6 L1049.9,1923.7 L1052.5,1920.0 L1055.2,1916.5 L1057.9,1913.2 L1060.7,1910.0 L1063.5,1907.0 L1066.4,1904.2 L1069.3,1901.5 L1072.2,1899.1 L1075.2,1896.7 L1078.3,1894.5 L1081.3,1892.5 L1084.5,1890.6 L1087.7,1888.8 L1090.9,1887.2 L1094.1,1885.6 L1097.4,1884.2 L1100.8,1882.9 L1104.2,1881.6 L1107.6,1880.5 L1111.1,1879.5 L1114.6,1878.5 L1118.2,1877.6 L1121.8,1876.8 L1125.4,1876.0 L1129.1,1875.4 L1132.8,1874.7 L1136.5,1874.2 L1140.3,1873.6 L1144.2,1873.2 L1148.0,1872.7 L1152.0,1872.3 L1155.9,1872.0 L1159.9,1871.6 L1163.9,1871.3 L1168.0,1871.1 L1172.1,1870.8 L1176.2,1870.6 L1180.4,1870.4 L1184.6,1870.2 L1188.8,1870.1 L1193.1,1869.9 L1197.4,1869.8 L1201.8,1869.7 L1206.2,1869.6 L1210.6,1869.5 L1215.0,1869.4 L1219.5,1869.3 L1224.1,1869.2 L1228.6,1869.2 L1233.2,1869.1 L1237.8,1869.1 L1242.5,1869.0 L1247.2,1869.0 L1251.9,1869.0 L1256.7,1868.9 L1261.5,1868.9 L1266.3,1868.9 L1271.2,1868.9 L1276.1,1868.8 L1281.0,1868.8 L1286.0,1868.8 L1291.0,1868.8 L1296.0,1868.8 L1301.1,1868.8 L1306.2,1868.8 L1311.3,1868.8 L1316.4,1868.8 L1321.6,1868.7 L1326.8,1868.7 L1332.1,1868.7 L1337.4,1868.7 L1342.7,1868.7 L1348.0,1868.7 L1353.4,1868.7 L1358.8,1868.7 L1364.2,1868.7 L1369.7,1868.7 L1375.2,1868.7 L1380.7,1868.7 L1386.3,1868.7 L1391.9,1868.7 L1397.5,1868.7 L1403.1,1868.7 L1408.8,1868.7 L1414.5,1868.7 L1420.3,1868.7 L1426.0,1868.7 L1431.8,1868.7 L1437.6,1868.7" fill="none" stroke="#13893a" stroke-width="2.6" stroke-linejoin="round"/>
<path d="M999.7,2082.9 L999.9,2082.7 L1000.3,2082.1 L1000.9,2081.4 L1001.6,2080.5 L1002.4,2079.5 L1003.3,2078.3 L1004.3,2077.1 L1005.5,2075.7 L1006.6,2074.3 L1007.9,2072.8 L1009.3,2071.2 L1010.7,2069.5 L1012.2,2067.7 L1013.8,2065.9 L1015.4,2064.1 L1017.1,2062.2 L1018.9,2060.3 L1020.7,2058.3 L1022.6,2056.3 L1024.6,2054.3 L1026.6,2052.2 L1028.7,2050.1 L1030.9,2048.0 L1033.0,2045.9 L1035.3,2043.8 L1037.6,2041.7 L1040.0,2039.5 L1042.4,2037.4 L1044.8,2035.2 L1047.4,2033.1 L1049.9,2031.0 L1052.5,2028.9 L1055.2,2026.7 L1057.9,2024.6 L1060.7,2022.6 L1063.5,2020.5 L1066.4,2018.4 L1069.3,2016.4 L1072.2,2014.4 L1075.2,2012.4 L1078.3,2010.4 L1081.3,2008.5 L1084.5,2006.6 L1087.7,2004.7 L1090.9,2002.8 L1094.1,2001.0 L1097.4,1999.2 L1100.8,1997.4 L1104.2,1995.7 L1107.6,1994.0 L1111.1,1992.3 L1114.6,1990.6 L1118.2,1989.0 L1121.8,1987.4 L1125.4,1985.9 L1129.1,1984.4 L1132.8,1982.9 L1136.5,1981.4 L1140.3,1980.0 L1144.2,1978.6 L1148.0,1977.3 L1152.0,1976.0 L1155.9,1974.7 L1159.9,1973.4 L1163.9,1972.2 L1168.0,1971.0 L1172.1,1969.9 L1176.2,1968.8 L1180.4,1967.7 L1184.6,1966.6 L1188.8,1965.6 L1193.1,1964.6 L1197.4,1963.6 L1201.8,1962.7 L1206.2,1961.7 L1210.6,1960.9 L1215.0,1960.0 L1219.5,1959.2 L1224.1,1958.4 L1228.6,1957.6 L1233.2,1956.8 L1237.8,1956.1 L1242.5,1955.4 L1247.2,1954.7 L1251.9,1954.1 L1256.7,1953.4 L1261.5,1952.8 L1266.3,1952.2 L1271.2,1951.7 L1276.1,1951.1 L1281.0,1950.6 L1286.0,1950.1 L1291.0,1949.6 L1296.0,1949.1 L1301.1,1948.7 L1306.2,1948.2 L1311.3,1947.8 L1316.4,1947.4 L1321.6,1947.0 L1326.8,1946.6 L1332.1,1946.3 L1337.4,1945.9 L1342.7,1945.6 L1348.0,1945.3 L1353.4,1945.0 L1358.8,1944.7 L1364.2,1944.4 L1369.7,1944.1 L1375.2,1943.9 L1380.7,1943.6 L1386.3,1943.4 L1391.9,1943.2 L1397.5,1943.0 L1403.1,1942.8 L1408.8,1942.6 L1414.5,1942.4 L1420.3,1942.2 L1426.0,1942.0 L1431.8,1941.9 L1437.6,1941.7" fill="none" stroke="#505050" stroke-width="2.6" stroke-linejoin="round"/>
<rect x="994.9" y="2080.6" width="9.6" height="9.6" fill="#000"/>
<line x1="1012.2" y1="2043.7" x2="1012.2" y2="2057.6" stroke="#444" stroke-width="1.2" />
<line x1="1007.2" y1="2043.7" x2="1017.2" y2="2043.7" stroke="#444" stroke-width="1.2" />
<line x1="1007.2" y1="2057.6" x2="1017.2" y2="2057.6" stroke="#444" stroke-width="1.2" />
<rect x="1007.4" y="2045.8" width="9.6" height="9.6" fill="#000"/>
<line x1="1033.0" y1="2022.8" x2="1033.0" y2="2062.5" stroke="#444" stroke-width="1.2" />
<line x1="1028.0" y1="2022.8" x2="1038.0" y2="2022.8" stroke="#444" stroke-width="1.2" />
<line x1="1028.0" y1="2062.5" x2="1038.0" y2="2062.5" stroke="#444" stroke-width="1.2" />
<rect x="1028.2" y="2037.9" width="9.6" height="9.6" fill="#000"/>
<line x1="1053.8" y1="2032.2" x2="1053.8" y2="2045.1" stroke="#444" stroke-width="1.2" />
<line x1="1048.8" y1="2032.2" x2="1058.8" y2="2032.2" stroke="#444" stroke-width="1.2" />
<line x1="1048.8" y1="2045.1" x2="1058.8" y2="2045.1" stroke="#444" stroke-width="1.2" />
<rect x="1049.0" y="2033.9" width="9.6" height="9.6" fill="#000"/>
<line x1="1074.6" y1="1983.5" x2="1074.6" y2="2053.1" stroke="#444" stroke-width="1.2" />
<line x1="1069.6" y1="1983.5" x2="1079.6" y2="1983.5" stroke="#444" stroke-width="1.2" />
<line x1="1069.6" y1="2053.1" x2="1079.6" y2="2053.1" stroke="#444" stroke-width="1.2" />
<rect x="1069.8" y="2013.5" width="9.6" height="9.6" fill="#000"/>
<line x1="1116.3" y1="1938.3" x2="1116.3" y2="2030.7" stroke="#444" stroke-width="1.2" />
<line x1="1111.3" y1="1938.3" x2="1121.3" y2="1938.3" stroke="#444" stroke-width="1.2" />
<line x1="1111.3" y1="2030.7" x2="1121.3" y2="2030.7" stroke="#444" stroke-width="1.2" />
<rect x="1111.5" y="1979.7" width="9.6" height="9.6" fill="#000"/>
<line x1="1220.3" y1="1912.9" x2="1220.3" y2="1989.5" stroke="#444" stroke-width="1.2" />
<line x1="1215.3" y1="1912.9" x2="1225.3" y2="1912.9" stroke="#444" stroke-width="1.2" />
<line x1="1215.3" y1="1989.5" x2="1225.3" y2="1989.5" stroke="#444" stroke-width="1.2" />
<rect x="1215.5" y="1946.4" width="9.6" height="9.6" fill="#000"/>
<line x1="1427.7" y1="1902.5" x2="1427.7" y2="1976.1" stroke="#444" stroke-width="1.2" />
<line x1="1422.7" y1="1902.5" x2="1432.7" y2="1902.5" stroke="#444" stroke-width="1.2" />
<line x1="1422.7" y1="1976.1" x2="1432.7" y2="1976.1" stroke="#444" stroke-width="1.2" />
<rect x="1422.9" y="1934.5" width="9.6" height="9.6" fill="#000"/>
<text x="1197.0" y="2006.5" font-size="26" text-anchor="start" font-weight="bold" fill="#7a7a7a" >T3SA+ core (+Mn<tspan font-size="17" dy="-11">2+</tspan><tspan dy="11">)</tspan></text>
<text x="1197.0" y="2036.5" font-size="26" text-anchor="start" font-weight="normal" fill="#7a7a7a" >k<tspan font-size="17" dy="8">on</tspan><tspan dy="-8"> = 2.05 </tspan><tspan text-decoration="underline">+</tspan> 0.3 μM<tspan font-size="17" dy="-11">-1</tspan><tspan dy="11"> s</tspan><tspan font-size="17" dy="-11">-1</tspan></text>
<text x="1197.0" y="2068.5" font-size="26" text-anchor="start" font-weight="normal" fill="#7a7a7a" >K<tspan font-size="17" dy="8">D</tspan><tspan dy="-8"> = 741 </tspan><tspan text-decoration="underline">+</tspan> 317 nM</text>
<rect x="189" y="21.5" width="7.2" height="7.2" fill="none" stroke="#666" stroke-width="1.1"/>
<path d="M35.7,107.3 L80.1,84.7 L70.2,145.1 L24.8,169.3 Z" fill="#a9a9a9" stroke="#111" stroke-width="1.2"/>
<path d="M24.8,169.3 L35.7,107.3 L80.1,84.7" fill="none" stroke="#000" stroke-width="3.6" stroke-linejoin="round"/>
<path d="M30.2,138.5 L75,115.5 M58,96.2 L47.8,157.2" stroke="#111" stroke-width="1.1"/>
<path d="M102.8,225.3 L278.2,136.7 Q290,132 294.8,145.2 L294.8,151.2 L163.3,208.6 L344.7,186 Q359.8,184 359.8,197 L359.8,201.1 L105.8,229.8 Z" fill="#c89228" stroke="#000" stroke-width="1.2" stroke-linejoin="round"/>
<path d="M294.8,150 L163.3,208.6" stroke="#000" stroke-width="3.8"/>
<path d="M359.8,200.5 L104,228.5" stroke="#000" stroke-width="4.2"/>
<defs><linearGradient id="tipg" x1="0" x2="1" y1="0" y2="0"><stop offset="0" stop-color="#555"/><stop offset="0.6" stop-color="#444"/><stop offset="1" stop-color="#888"/></linearGradient></defs>
<path d="M130,229 L157.2,229 Q158,245 150,251 Q140,250 137,240 Z" fill="url(#tipg)"/>
<path d="M55.9,127 L148.2,213.2 L213.8,106.4" fill="none" stroke="#e8685a" stroke-width="2.6"/>
<circle cx="56.5" cy="127.5" r="2.8" fill="#e8685a"/><ellipse cx="148" cy="213" rx="5" ry="2.5" fill="#e8685a"/>
<path d="M148.2,242 L143.5,246.0 L152.5,251.5 L143.5,257.0 L152.5,262.5 L143.5,268.0 L152.5,273.5 L143.5,279.0 L147.3,283" fill="none" stroke="#000" stroke-width="1.2"/>
<ellipse cx="147.3" cy="338" rx="39.3" ry="42.3" fill="#c6e9ce"/>
<line x1="147.3" y1="338" x2="147.3" y2="286.7" stroke="#3cb861" stroke-width="2.2"/><circle cx="147.3" cy="286.7" r="4.3" fill="#3cb861"/>
<line x1="147.3" y1="338" x2="102.2" y2="311.5" stroke="#3cb861" stroke-width="2.2"/><circle cx="102.2" cy="311.5" r="4.3" fill="#3cb861"/>
<line x1="147.3" y1="338" x2="193.5" y2="314.5" stroke="#3cb861" stroke-width="2.2"/><circle cx="193.5" cy="314.5" r="4.3" fill="#3cb861"/>
<line x1="147.3" y1="338" x2="102.8" y2="359.8" stroke="#3cb861" stroke-width="2.2"/><circle cx="102.8" cy="359.8" r="4.3" fill="#3cb861"/>
<line x1="147.3" y1="338" x2="194.1" y2="361.3" stroke="#3cb861" stroke-width="2.2"/><circle cx="194.1" cy="361.3" r="4.3" fill="#3cb861"/>
<line x1="147.3" y1="338" x2="145.1" y2="388.6" stroke="#3cb861" stroke-width="2.2"/><circle cx="145.1" cy="388.6" r="4.3" fill="#3cb861"/>
<path d="M147.3,299.4 L181.4,320.5 L181.4,353.8 L147.3,378 L114.9,353.8 L114.9,322 Z" fill="#9a9a9a" stroke="#333" stroke-width="2"/>
<path d="M148.2,325 L128.5,359.8 L166.3,359.8 Z M147.3,299.4 L148.2,325 M181.4,320.5 L148.2,325 M181.4,320.5 L166.3,359.8 M181.4,353.8 L166.3,359.8 M147.3,378 L166.3,359.8 M147.3,378 L128.5,359.8 M114.9,353.8 L128.5,359.8 M114.9,322 L128.5,359.8 M114.9,322 L148.2,325" fill="none" stroke="#333" stroke-width="1.8"/>
<text x="20.0" y="299.4" font-size="32" text-anchor="start" font-weight="normal" fill="#000" >T3SA+</text>
<text x="252.5" y="285.8" font-size="32" text-anchor="middle" font-weight="normal" fill="#000" >Virion</text>
<text x="252.5" y="322.0" font-size="32" text-anchor="middle" font-weight="normal" fill="#000" >ISVP</text>
<text x="252.5" y="358.3" font-size="32" text-anchor="middle" font-weight="normal" fill="#000" >Core</text>
<text x="252.5" y="393.1" font-size="32" text-anchor="middle" font-weight="normal" fill="#000" >IBM</text>
<ellipse cx="161.8" cy="526.5" rx="158.6" ry="42.5" fill="#2e2e2e"/>
<ellipse cx="161.8" cy="519" rx="158.8" ry="41.5" fill="#c6c6c6" stroke="#666" stroke-width="0.8"/>
<path d="M44.8,501.5 L46.9,538.3" stroke="#8d82c6" stroke-width="3.2"/><rect x="44.1" y="526.8" width="4.2" height="11.4" rx="1" fill="#8d82c6"/><ellipse cx="42.3" cy="456.6" rx="6.8" ry="8.2" fill="#8d82c6"/><ellipse cx="43.1" cy="469.7" rx="5" ry="5" fill="#8d82c6"/><ellipse cx="43.5" cy="477.8" rx="4.6" ry="4.6" fill="#8d82c6"/><ellipse cx="44.0" cy="486.0" rx="4.2" ry="4.4" fill="#8d82c6"/><ellipse cx="44.4" cy="494.2" rx="3.8" ry="4.4" fill="#8d82c6"/><ellipse cx="44.8" cy="501.5" rx="3.2" ry="4" fill="#8d82c6"/><ellipse cx="47.8" cy="464.8" rx="3" ry="2.5" fill="#8d82c6"/>
<path d="M78.6,514.6 L81.0,553.4" stroke="#8d82c6" stroke-width="3.2"/><rect x="78.2" y="541.3" width="4.2" height="12.1" rx="1" fill="#8d82c6"/><ellipse cx="75.6" cy="467.2" rx="6.8" ry="8.2" fill="#8d82c6"/><ellipse cx="76.5" cy="481.0" rx="5" ry="5" fill="#8d82c6"/><ellipse cx="77.0" cy="489.6" rx="4.6" ry="4.6" fill="#8d82c6"/><ellipse cx="77.6" cy="498.2" rx="4.2" ry="4.4" fill="#8d82c6"/><ellipse cx="78.1" cy="506.8" rx="3.8" ry="4.4" fill="#8d82c6"/><ellipse cx="78.6" cy="514.6" rx="3.2" ry="4" fill="#8d82c6"/><ellipse cx="81.1" cy="475.8" rx="3" ry="2.5" fill="#8d82c6"/>
<path d="M109.1,481.5 L111.3,521.6" stroke="#8d82c6" stroke-width="3.2"/><rect x="108.5" y="509.1" width="4.2" height="12.5" rx="1" fill="#8d82c6"/><ellipse cx="106.4" cy="432.4" rx="6.8" ry="8.2" fill="#8d82c6"/><ellipse cx="107.2" cy="446.7" rx="5" ry="5" fill="#8d82c6"/><ellipse cx="107.7" cy="455.6" rx="4.6" ry="4.6" fill="#8d82c6"/><ellipse cx="108.2" cy="464.5" rx="4.2" ry="4.4" fill="#8d82c6"/><ellipse cx="108.7" cy="473.5" rx="3.8" ry="4.4" fill="#8d82c6"/><ellipse cx="109.1" cy="481.5" rx="3.2" ry="4" fill="#8d82c6"/><ellipse cx="111.9" cy="441.3" rx="3" ry="2.5" fill="#8d82c6"/>
<path d="M139.2,520.7 L141.2,553.4" stroke="#8d82c6" stroke-width="3.2"/><rect x="138.5" y="543.2" width="4.2" height="10.2" rx="1" fill="#8d82c6"/><ellipse cx="136.7" cy="480.8" rx="6.8" ry="8.2" fill="#8d82c6"/><ellipse cx="137.4" cy="492.4" rx="5" ry="5" fill="#8d82c6"/><ellipse cx="137.9" cy="499.7" rx="4.6" ry="4.6" fill="#8d82c6"/><ellipse cx="138.3" cy="506.9" rx="4.2" ry="4.4" fill="#8d82c6"/><ellipse cx="138.8" cy="514.2" rx="3.8" ry="4.4" fill="#8d82c6"/><ellipse cx="139.2" cy="520.7" rx="3.2" ry="4" fill="#8d82c6"/><ellipse cx="142.1" cy="488.1" rx="3" ry="2.5" fill="#8d82c6"/>
<path d="M171.1,492.1 L173.3,532.2" stroke="#8d82c6" stroke-width="3.2"/><rect x="170.5" y="519.7" width="4.2" height="12.5" rx="1" fill="#8d82c6"/><ellipse cx="168.4" cy="443.0" rx="6.8" ry="8.2" fill="#8d82c6"/><ellipse cx="169.2" cy="457.3" rx="5" ry="5" fill="#8d82c6"/><ellipse cx="169.7" cy="466.2" rx="4.6" ry="4.6" fill="#8d82c6"/><ellipse cx="170.2" cy="475.1" rx="4.2" ry="4.4" fill="#8d82c6"/><ellipse cx="170.7" cy="484.0" rx="3.8" ry="4.4" fill="#8d82c6"/><ellipse cx="171.1" cy="492.1" rx="3.2" ry="4" fill="#8d82c6"/><ellipse cx="173.9" cy="451.9" rx="3" ry="2.5" fill="#8d82c6"/>
<path d="M201.7,516.6 L204.1,553.4" stroke="#8d82c6" stroke-width="3.2"/><rect x="201.3" y="541.9" width="4.2" height="11.4" rx="1" fill="#8d82c6"/><ellipse cx="198.7" cy="471.7" rx="6.8" ry="8.2" fill="#8d82c6"/><ellipse cx="199.5" cy="484.8" rx="5" ry="5" fill="#8d82c6"/><ellipse cx="200.1" cy="493.0" rx="4.6" ry="4.6" fill="#8d82c6"/><ellipse cx="200.6" cy="501.1" rx="4.2" ry="4.4" fill="#8d82c6"/><ellipse cx="201.2" cy="509.3" rx="3.8" ry="4.4" fill="#8d82c6"/><ellipse cx="201.7" cy="516.6" rx="3.2" ry="4" fill="#8d82c6"/><ellipse cx="204.2" cy="479.9" rx="3" ry="2.5" fill="#8d82c6"/>
<path d="M230.1,482.3 L232.2,523.1" stroke="#8d82c6" stroke-width="3.2"/><rect x="229.5" y="510.4" width="4.2" height="12.7" rx="1" fill="#8d82c6"/><ellipse cx="227.4" cy="432.4" rx="6.8" ry="8.2" fill="#8d82c6"/><ellipse cx="228.2" cy="446.9" rx="5" ry="5" fill="#8d82c6"/><ellipse cx="228.7" cy="456.0" rx="4.6" ry="4.6" fill="#8d82c6"/><ellipse cx="229.1" cy="465.1" rx="4.2" ry="4.4" fill="#8d82c6"/><ellipse cx="229.6" cy="474.1" rx="3.8" ry="4.4" fill="#8d82c6"/><ellipse cx="230.1" cy="482.3" rx="3.2" ry="4" fill="#8d82c6"/><ellipse cx="232.9" cy="441.5" rx="3" ry="2.5" fill="#8d82c6"/>
<path d="M269.1,506.2 L271.5,544.3" stroke="#8d82c6" stroke-width="3.2"/><rect x="268.7" y="532.4" width="4.2" height="11.9" rx="1" fill="#8d82c6"/><ellipse cx="266.1" cy="459.6" rx="6.8" ry="8.2" fill="#8d82c6"/><ellipse cx="267.0" cy="473.2" rx="5" ry="5" fill="#8d82c6"/><ellipse cx="267.5" cy="481.6" rx="4.6" ry="4.6" fill="#8d82c6"/><ellipse cx="268.1" cy="490.1" rx="4.2" ry="4.4" fill="#8d82c6"/><ellipse cx="268.6" cy="498.6" rx="3.8" ry="4.4" fill="#8d82c6"/><ellipse cx="269.1" cy="506.2" rx="3.2" ry="4" fill="#8d82c6"/><ellipse cx="271.6" cy="468.1" rx="3" ry="2.5" fill="#8d82c6"/>
<path d="M305.4,494.4 L307.8,535.2" stroke="#8d82c6" stroke-width="3.2"/><rect x="305.0" y="522.5" width="4.2" height="12.7" rx="1" fill="#8d82c6"/><ellipse cx="302.4" cy="444.5" rx="6.8" ry="8.2" fill="#8d82c6"/><ellipse cx="303.3" cy="459.0" rx="5" ry="5" fill="#8d82c6"/><ellipse cx="303.8" cy="468.1" rx="4.6" ry="4.6" fill="#8d82c6"/><ellipse cx="304.3" cy="477.2" rx="4.2" ry="4.4" fill="#8d82c6"/><ellipse cx="304.9" cy="486.2" rx="3.8" ry="4.4" fill="#8d82c6"/><ellipse cx="305.4" cy="494.4" rx="3.2" ry="4" fill="#8d82c6"/><ellipse cx="307.9" cy="453.6" rx="3" ry="2.5" fill="#8d82c6"/>
<path d="M28.4,503.5 L25.7,530.7" stroke="#3a2b9c" stroke-width="2.6"/><rect x="24.4" y="522.2" width="4.2" height="8.5" rx="1" fill="#3a2b9c"/><ellipse cx="31.8" cy="470.2" rx="6" ry="7.2" fill="#3a2b9c"/><ellipse cx="30.8" cy="479.3" rx="4.6" ry="5" fill="#3a2b9c"/><ellipse cx="30.1" cy="486.5" rx="4.4" ry="4.8" fill="#3a2b9c"/><ellipse cx="29.4" cy="493.8" rx="4.0" ry="4.6" fill="#3a2b9c"/><ellipse cx="28.7" cy="500.5" rx="3.6" ry="4.4" fill="#3a2b9c"/><ellipse cx="28.1" cy="506.5" rx="3" ry="3.5" fill="#3a2b9c"/>
<path d="M62.6,517.1 L59.9,544.3" stroke="#3a2b9c" stroke-width="2.6"/><rect x="58.6" y="535.8" width="4.2" height="8.5" rx="1" fill="#3a2b9c"/><ellipse cx="65.9" cy="483.8" rx="6" ry="7.2" fill="#3a2b9c"/><ellipse cx="65.0" cy="492.9" rx="4.6" ry="5" fill="#3a2b9c"/><ellipse cx="64.3" cy="500.2" rx="4.4" ry="4.8" fill="#3a2b9c"/><ellipse cx="63.6" cy="507.4" rx="4.0" ry="4.6" fill="#3a2b9c"/><ellipse cx="62.9" cy="514.1" rx="3.6" ry="4.4" fill="#3a2b9c"/><ellipse cx="62.3" cy="520.1" rx="3" ry="3.5" fill="#3a2b9c"/>
<path d="M93.8,485.8 L91.3,517.1" stroke="#3a2b9c" stroke-width="2.6"/><rect x="90.0" y="507.3" width="4.2" height="9.7" rx="1" fill="#3a2b9c"/><ellipse cx="96.8" cy="447.5" rx="6" ry="7.2" fill="#3a2b9c"/><ellipse cx="95.9" cy="458.0" rx="4.6" ry="5" fill="#3a2b9c"/><ellipse cx="95.3" cy="466.3" rx="4.4" ry="4.8" fill="#3a2b9c"/><ellipse cx="94.6" cy="474.7" rx="4.0" ry="4.6" fill="#3a2b9c"/><ellipse cx="94.0" cy="482.3" rx="3.6" ry="4.4" fill="#3a2b9c"/><ellipse cx="93.5" cy="489.3" rx="3" ry="3.5" fill="#3a2b9c"/>
<path d="M123.4,520.1 L121.0,547.3" stroke="#3a2b9c" stroke-width="2.6"/><rect x="119.6" y="538.9" width="4.2" height="8.5" rx="1" fill="#3a2b9c"/><ellipse cx="126.4" cy="486.8" rx="6" ry="7.2" fill="#3a2b9c"/><ellipse cx="125.6" cy="495.9" rx="4.6" ry="5" fill="#3a2b9c"/><ellipse cx="124.9" cy="503.2" rx="4.4" ry="4.8" fill="#3a2b9c"/><ellipse cx="124.3" cy="510.4" rx="4.0" ry="4.6" fill="#3a2b9c"/><ellipse cx="123.7" cy="517.1" rx="3.6" ry="4.4" fill="#3a2b9c"/><ellipse cx="123.1" cy="523.1" rx="3" ry="3.5" fill="#3a2b9c"/>
<path d="M155.5,496.5 L153.3,529.2" stroke="#3a2b9c" stroke-width="2.6"/><rect x="151.9" y="519.0" width="4.2" height="10.2" rx="1" fill="#3a2b9c"/><ellipse cx="158.1" cy="456.6" rx="6" ry="7.2" fill="#3a2b9c"/><ellipse cx="157.4" cy="467.5" rx="4.6" ry="5" fill="#3a2b9c"/><ellipse cx="156.8" cy="476.2" rx="4.4" ry="4.8" fill="#3a2b9c"/><ellipse cx="156.3" cy="484.9" rx="4.0" ry="4.6" fill="#3a2b9c"/><ellipse cx="155.7" cy="492.9" rx="3.6" ry="4.4" fill="#3a2b9c"/><ellipse cx="155.2" cy="500.2" rx="3" ry="3.5" fill="#3a2b9c"/>
<path d="M185.7,520.1 L182.9,547.3" stroke="#3a2b9c" stroke-width="2.6"/><rect x="181.7" y="538.9" width="4.2" height="8.5" rx="1" fill="#3a2b9c"/><ellipse cx="189.0" cy="486.8" rx="6" ry="7.2" fill="#3a2b9c"/><ellipse cx="188.1" cy="495.9" rx="4.6" ry="5" fill="#3a2b9c"/><ellipse cx="187.4" cy="503.2" rx="4.4" ry="4.8" fill="#3a2b9c"/><ellipse cx="186.6" cy="510.4" rx="4.0" ry="4.6" fill="#3a2b9c"/><ellipse cx="186.0" cy="517.1" rx="3.6" ry="4.4" fill="#3a2b9c"/><ellipse cx="185.4" cy="523.1" rx="3" ry="3.5" fill="#3a2b9c"/>
<path d="M214.1,485.0 L211.7,515.6" stroke="#3a2b9c" stroke-width="2.6"/><rect x="210.3" y="506.0" width="4.2" height="9.5" rx="1" fill="#3a2b9c"/><ellipse cx="217.1" cy="447.5" rx="6" ry="7.2" fill="#3a2b9c"/><ellipse cx="216.3" cy="457.7" rx="4.6" ry="5" fill="#3a2b9c"/><ellipse cx="215.6" cy="465.9" rx="4.4" ry="4.8" fill="#3a2b9c"/><ellipse cx="215.0" cy="474.1" rx="4.0" ry="4.6" fill="#3a2b9c"/><ellipse cx="214.4" cy="481.6" rx="3.6" ry="4.4" fill="#3a2b9c"/><ellipse cx="213.8" cy="488.4" rx="3" ry="3.5" fill="#3a2b9c"/>
<path d="M253.7,508.8 L251.0,536.7" stroke="#3a2b9c" stroke-width="2.6"/><rect x="249.7" y="528.1" width="4.2" height="8.7" rx="1" fill="#3a2b9c"/><ellipse cx="257.0" cy="474.8" rx="6" ry="7.2" fill="#3a2b9c"/><ellipse cx="256.1" cy="484.0" rx="4.6" ry="5" fill="#3a2b9c"/><ellipse cx="255.4" cy="491.5" rx="4.4" ry="4.8" fill="#3a2b9c"/><ellipse cx="254.7" cy="498.9" rx="4.0" ry="4.6" fill="#3a2b9c"/><ellipse cx="254.0" cy="505.7" rx="3.6" ry="4.4" fill="#3a2b9c"/><ellipse cx="253.4" cy="511.9" rx="3" ry="3.5" fill="#3a2b9c"/>
<path d="M289.7,496.2 L287.3,526.2" stroke="#3a2b9c" stroke-width="2.6"/><rect x="285.9" y="516.8" width="4.2" height="9.3" rx="1" fill="#3a2b9c"/><ellipse cx="292.7" cy="459.6" rx="6" ry="7.2" fill="#3a2b9c"/><ellipse cx="291.9" cy="469.6" rx="4.6" ry="5" fill="#3a2b9c"/><ellipse cx="291.2" cy="477.6" rx="4.4" ry="4.8" fill="#3a2b9c"/><ellipse cx="290.6" cy="485.6" rx="4.0" ry="4.6" fill="#3a2b9c"/><ellipse cx="290.0" cy="492.9" rx="3.6" ry="4.4" fill="#3a2b9c"/><ellipse cx="289.4" cy="499.5" rx="3" ry="3.5" fill="#3a2b9c"/>
<text x="11.5" y="608.2" font-size="32" text-anchor="start" font-weight="normal" fill="#372d9c" >α2β1 integrins in the</text>
<text x="42.3" y="634.0" font-size="32" text-anchor="start" font-weight="normal" fill="#372d9c" >presence of Mn<tspan font-size="19" dy="-14">2+</tspan></text></svg></body></html>
